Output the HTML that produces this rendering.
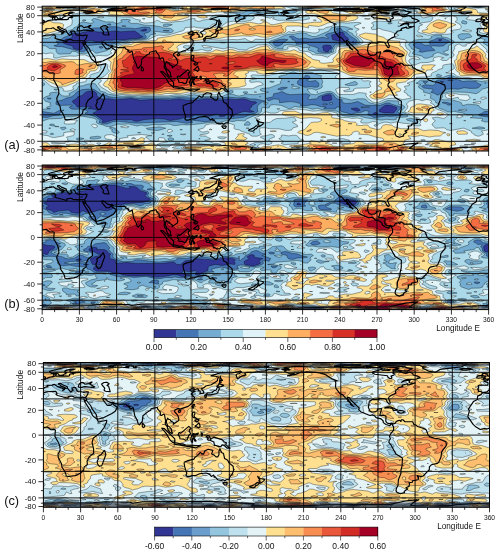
<!DOCTYPE html>
<html><head><meta charset="utf-8"><style>
html,body{margin:0;padding:0;background:#fff;width:500px;height:553px;overflow:hidden}
svg{display:block;will-change:transform}
text{font-family:"Liberation Sans",sans-serif;fill:#111}
.t6{font-size:6.7px}.t7{font-size:7.9px}.t8{font-size:8.2px}.t8b{font-size:8.5px}.tl{font-size:8.4px}.t12{font-size:12.8px}
</style></head><body>
<svg xmlns="http://www.w3.org/2000/svg" width="500" height="553" viewBox="0 0 500 553">
<rect width="500" height="553" fill="#fff"/>
<clipPath id="ca"><rect x="42.2" y="6.2" width="446.40000000000003" height="144.8"/></clipPath>
<g clip-path="url(#ca)">
<rect x="42.2" y="6.2" width="446.40000000000003" height="144.8" fill="#313695"/>
<path fill="#4575b4" d="M41.2 5.2l447 0 0 145.5-447 0 0-145.5zM83.2 32.2l-3 1-8.7 .5 .8 3-1 1.5-6.1 1.3-2.5 3.2 4 1.8 5 1.2 1 .8 1 2.2 6.5 1.2 2.2-1.2-.3-1.5 2.8-3-.1-1.5 1.4-1.2 3-1 3 .1 4.5 1.6 1.5-.1 7.5-1.9 6 0 4.5-.6 7.5 .3 7.5-1.2 8.2-.5 3.8-1.5-3.2-1.5-1.3-1.8-2.5-1.2-.5-.8-1.5-.5-13.5 .9-6-.9-7.5 1-9 .1-7.5-.9-7.5 1.1zM144.7 29l-4.1 1.7 2.6 .5 3.2-.5 .1-1.5-1.8-.2zM308.2 8.2l-.9 0 1.3 0-.4 0zM323.2 45.7l-.8 1.5 1 1.5-.1 1.5 2.4 1.5 2.5 0 .4-1.5 2.6-1.5 .2-1.5-.7-1.6-4.5-.6-3 .7zM341.2 32.1l-9.7 3.1 1.2 4.5 10 2.1 2.7-.6 3.2-1.5-.5-1.5-4.1-3 .3-1.5-1.4-1.5-1.7-.1zM351.7 108.4l-.7 .3 5.2 2.5 1.5 .1 2.5-1.1-1.7-1.5-2.3-.8-4.5 .5zM353.2 41.2l-1.1 1.5 1.4 0-.3-1.5zM374.2 112.8l-.9 .4 .9 .9 1.5 .1 2-1-2-.7-1.5 .3zM384.7 105.6l-4.5 3.3-1.1 1.3 .4 1.5 5.2 1.2 9 .1 3.3-4.3-.6-1.5-5.7-1.7-3-.4-3 .5zM438.7 39.6l0 .8 1.5 .6 1.8-1.3-3.3-.1zM474.7 6.7l-.6 0 6.8 0-6.2 0zM86.2 91.9l-2.4 1.8-.9 1.5-5.1 1.5-.8 1.5-4.8 3 .8 1.5 2.3 1.5 1.9 2.7 7.5-.3 6.9 .6-3.8 1.5 7.4 .7 1.9 .8-1.3 1.5-3 1.5 2.4 1.2 6.2 4.8 1.5 1.5-.8 1.5 .6 .2 2.9-.2 7.6-2.3 6-.5 6 .4 6-.3 3 1.6 3 .2 7.5-1.8 13.5-.9 6 .3 6 1.7 10.5-1.8 4.5-1.6 6 0 3-2.2 1.5-.3 7.5 .4 4.5 1 3-.3 6-1.8 3.3 .7-.6 1.5 1.8 .4 3.5-.4 1.4-1.5 1.1-.1 3.7 .1-1 1.5 4.2 0-.4-1.5 9.3-3 2.2-.3 4.5 .9 4.3-.6-3.9-1.5-.5-1.5 1.9-1.5 .1-1.5 5.2-3-1.1-.9-4.5-.3-6-2.4-3-.3-6 .9-7.5-.8-7.5 1-15-1.2-7.5 1.3-12 .2-7.5-1.5-9 1.2-18-.5-12 .9-9-1.9-15 1.4-7.5-1.1-6 .4-1.5-.3-3.1-2.1-1.6-1.5 .2-1.5-1.2-1.5-1.8-.9-3-.3-4.5 .9zM326.2 95.1l-4.2 1.6 .1 3 1.1 1.1 6-.4 2.5-.7-.6-4.5-1.9-.6-3 .5zM440.2 81.5l1.5 .9 1.5-.1 .6-.6-3.6-.2z"/>
<path fill="#74add1" d="M41.2 5.2l447 0 0 106.1-4.2 .4-1.9 1.5-3.8 1.5 2.4 1.2 7.5 1.1 0 33.7-447 0 0-33.5 6 .2 6-1.8 6-.5 1-.4-.4-1.5 2.4-2.1 1.9-.9-4.3 0-5.1 2.8-1.5 .2-12-1.9 0-106.1zM47.2 98.1l1.5 1 1.5 0 1.1-.9-4.1-.1zM104.2 27.7l-10.5 .3-7.5 1.3-4.5 1.6-12 1.4-1.6 1.4 .5 1.5-.4 .5-4.5 1.8-4.5 3.2-3.1 .5 2.4 3-4.6 1.5 2.3 .7 6 .3 18 4.8 3 .3 3-1.3 1.9-1.8-2-1.5 3.1-1.7 12-1.3 4.5 .6 4.5-.2 7-1.9 2-1.5 25.5-2.7 .8-.3 1-1.5-2.5-3 4.7-1.5 2-1.5-.7-3-3.8-.6-3 0-7.5 1.6-9-.8-4.5 .4-4.5-1.4-3-.2-4.5 0-6 1zM107.2 24.7l3 .5 .9-.5-.9-.8-1.5 0-1.5 .8zM122.2 26.1l-.5 .1 4.2 0-2.2-.4-1.5 .3zM164.2 30.5l-1.1 .2 4.1 .4 2.1-.4-5.1-.2zM257.2 12.6l-.7 .1 3.9 0-3.2-.1zM279.7 39.5l-5.8 1.7-1.4 1.5 2.5 3 3.2 .6 4.2-2.1 .5-1.5 4.9-3-3.6-.6-4.5 .4zM288.7 81.2l-1 .5 2 0-1-.5zM303.7 8.1l-.9 .1 5.4 .5 4.1-.5-8.6-.1zM336.7 28.4l-1 .8 2.5 1.5-4.1 1.5-6.8 1.5-2 1.5 3.4 3-1 .4-4.5-1.4-12 2-6-1-6 .7-3-.8-3-2-1.5-.2-2.4 .8 2.6 1.5 .3 1.5 2.5 .7 .8 .8 .8 3 4.4 .1 3-.7 3 0 3 2 4.5 1 4.8 2.1-1.5 1.5 .8 1.5 4.9 .9 4.5 .1 4.1-1-.3-1.5 1.3-1.5 .3-1.5 2.1-2.8 .7-.2 6.8-.4 10.5 .6 4.5-1.7-1.5-3-6-3.8-3.7-3.7-4.1-1.5-1.2-2.1-3-.8-1.5 .6zM383.2 8.1l-.7 .1 5.2 .4 2.4-.4-2.4-.5-4.5 .4zM405.7 5.4l-1.1 1.3 4.1 .7 0-1-3-1zM410.2 8.1l-.5 .1 5.4 0-4.9-.1zM437.2 37.9l-3 1.8-4.6 1.5-.6 1.5 1.3 1.5-.6 .9-4.5 .1-1.5-.4-3.2-2.1-2.8-.5-4.6 2 .6 1.5 2.5 2.2 3 .8 1.1 1.5-1.3 1.5 3.2 .5 4.5-1 7.5-.6 .7-.4-.7-.8-3.3-2.2 .9-1.5 6.9 .5 4.5-.3 3-2.4 2.2-.8 1.3-1.5-7.1-3-5.4-.3zM471.7 6.7l6 .6 5.9-.6-11.9 0zM485.2 83.2l-.4 0 1 0-.6 0zM87.7 89.1l-6 .6-5.2 2.5-2.4 3-2.4 1.5-5.6 1.5-3.9 2-5.3 1-.7 .5-.3 2.5 3.3 1.2 12-.3 1.2 .6-3.3 1.5 2.1 1.7 3 .4 6-.3 5.9 1.2 2 1.5-3.3 1.5 10.4 3.5 3.6 2.5 1.2 1.5-1 1.5 3.7 1.6 4.5 .2 6-2.3 4.5-.5 18 1.9 40.5-1.6 10.5 1.8 6.1-1.1-1.8-1.5 1.7-.5 12 1.6 9.2-1.1 .4-1.5 2.4-.4 16.5-.2 10.5-1.3 6-2.6 5.7-1.5 2.4-1.5-.6-4.5 .4-1.5 4.1-3.6 3.5-.9-9.5-2.2-6-.1-4.5-1.5-7.5 .5-9-.8-9 1-13.5-.6-7.5 .8-21-.9-7.5 1-25.5-.5-6 .7-9-1.4-7.5 .7-9-.5-4.3-.7-3.1-1.5-3.1-.1-9-5.8-6-.2zM99.7 46.5l-.8 .7 2.3 1.2 2-1.2-2-.9-1.5 .2zM260.2 96.6l-.6 .1 1 0-.4-.1zM281.2 87.5l-3.5 1.7 3.5 .8 6.2-2.3-3.2-.5-3 .3zM305.2 75.6l-.4 1.6-5.6 2.5-1.5 1.5-.3 2 1.1 1.5 6.7 2.6 6-.7 4.5 .7 1.5-.2 1.6-.9 0-3-3.1-2.7-6 1-3-1.3 2.5-1.5 .8-1.5-1.5-1.5-3.3-.1zM423.7 81.4l-1 .3 2.3 1.5 .2 .7 .3-.7 2.4-1.5-4.2-.3zM449.2 77.1l-4.5 2.2-7.5 .9-1.9 1.5 .4 1.6-1.3 1.4-1.7 .7-7.5-.7-3.6 1.5 2.1 1.8 9 1.1 .3 1.6-2.2 1.5 3.4 1.1 3 1.7 1.5-.1 4.9-4.2 2.6-1.4 6-.5 6 .4 6-1.5 6 .7 6-.1 2.3-.6 2.8-3-3.6-1.4-1.5-1.8-7.5-.6-6 .7-1.5-.5-.4-.9-5.6-.9-3.5-2.1-2.5-.1zM281.2 91.7l-3 1.3-4.4 .7-.9 3-.7 .4-5.9 1.1 1.4 2.1 1.5 .4 4.5-1.8 4.5 .3 1.1 .5 .2 3 10.7-1.1 4.5 .5 4.5 1.1 1.6 1-.4 1.5 1.8 .3 4.5-.2 4.5-1.1 4.5 .2 4.5 1.6 5.9 .7-1.4 .3-1 1.2 1 .1 9 .3 2.1-.4 .7-1.5 3.2-.2 .6 .2-.6 1.5 .3 1.5 1.5 1.5 5.7 1.3 3 1.4 1.5 .1 3-1.3 6-.6 4.5-1.9 1.5 0 2.5 1-1.7 3 4.2 1.5 2.5 1.5 12-1.6 4.5 .3 9-.7 3.3-1-3.3-1.2-2.1-1.8 1-1.5 2.1-1.5 .8-1.5-9.8-3-2.5-1.3-3 .1-6 2.3-3 .3-12-.5-7.5-3.6-6 1.6-6 .3-2.7-.7-.9-1.5 .1-1.5-4-.3-3-2-1.3-2.2-1.7-1.4-1.5-.6-3 0-7.5 2.6-1.9 .9-1.1 2-7.5 .8-1.5-.5-.3-.8 2.2-3-3.4-1.4-16.5 .9-3.9-1-3.6-1.9-1.5-.1zM443.2 102.2l-1.2 .5 4.2 1.1 1.5 1.2 1.5 .2 2.4-1-3.9-1.7-4.5-.3zM447.6 80.2l5.8 0-5.8 0zM329.5 102.7l2.9 0 .1 1.5-2.7 0-.3-1.5zM322.7 104.2l2-.5 2.8 .5-2.8 .6-2-.6zM361 107.2l7.2-.6 1.4 .6-5.9 .5-2.7-.5z"/>
<path fill="#abd9e9" d="M41.2 5.2l58.2 0 1.8 .4 .3 1.1 8.7 .9 5-.9-13.2-1.5 243.2 0-1.1 1.5 1.6 .3 9.5-1.8 43.9 0 6.6 3.5 7.5 .2 5.1-.7-5.8-1.5 0-1.5 75.7 0 0 31.7-4.5-.4-.6-1.3-5.7 0 2.3 1.5 .9 1.5 4.6 1.5-2.6 3 5.6 3.5 0 35.8-6-.4-13.5-2.5-6-.3-6-1.3-6-2.4-3 .5-4.5 1.7-7.5 .6-2.3 .8-1.3 1.5-11.4-.2-3 2.4-1.8 .8 5.1 1.5-2.8 1.5 1 1.7 4.9 2.8-.8 1.5 6.7 1.5 .9 1.5-.6 3 3.9 1.9 1.2 1.1 .4 1.5 4.4 1.5-1.5 .9-.6 2.1 1.8 1.5 3.3 .8 4.5 2.4 3 .2 4.5-1.1 .2 .7 7.3 1.3 4.5 2 4.5-.4 1.3 1.6-1.3 1.3-1.6 .2 12.1 .8 .8 .7-1.6 1.5 3.8 1.3 3-.1 0 28.8-447 0 0-29.2 7.5-2.6 12-.4 6-1.9 4.5 .2 4.5-.9 4.5 0 13.5 2.3 2.3 1 .9 1.5-.8 1.5 1.8 1.5 9.3 2.8 4.5-.3 4.5-1.9 12-.5 9 2.3 3-.9 2.2 0 2.3 .8 9-1.5 6 .4 7.5-.8 3 .1 3 1.2 3 .1 6-.9 4.5 .3 9-.6 15-1.9 9 .1 6-1.7 7.5 .7 4.5-1.1 7.8 .3 .6-1.5 8.1-3.3 6-3.3 1.1-.9 .4-3.6 1.5-.7 4.5 .6 1.9-.8 .3-1.5 .8-.6 4.5-.5 6 .8 7.5 3.2 3-.4 3-1.8 6 1 6 .2 6 1.6 4.5-.9 6 1.6 13.5 1.3 4.4 2 .2 1.5 2.9 1.2 9 .7 6-.8 5.9 1.9 16.6 2.4 4.5-.8 7.5 .6 2.8-.7-.4-1.5 .6-.2 9-.5 2.3-.8-.8-1.5-1.9-1.5-4.5-1.5 4.4-4.5-2.5-2.1-4.5-.9 .7-1.5-.2-1.5-.5-.2-10.5-.5-7.5 3.1-4.5 .7-6-1.6-2.5-1.5-.9-1.5-2.6-.9-6 0-6 1.3-13.5-3.2-4.5-4.2-3-1.2-3-.1-7.5 1.6-4.5 1.8-4.5-.7-.9-.4-3.2-4.5 4.1-.5 2.8 .5 1.7 1.1 6-2.6 .8-1.5-.7-1.5 1-3-1.9-4.5 .8-1.5-6.5-1.5-2.5-1.6-4.5-.4-9 1.6-6-2-4.5 1.3-3 1.8-6 1.1-1.1 1.2 3.2 1.5-.2 1.5-1.4 1.5 .7 1.5-1.2 .7-10.5 4-6 .4-2.9 .9 .5 1.5 .9 .4 6.7 1.1-3.7 1.1-10.5 1.4-9-.8-1.9 1.3-4.1 .8-3-.4-3-1.3-3-.3-3 .2-4.5 2.1-3 .5-19.5-.7-6-1.4-9 1.6-9-.2-7.5 .9-25.5-.4-4.5 .4-10.5-1-6 .4-13.5-2.2-1.7-.5-1.3-1.2-6-1.6 0-1.7-1.9-1.5-1.7-3-.9-.8-3-.5-6 1.1-3 1.3-4.6 .4-1.2 3-8.6 4.5 1.3 1.5-1.9 .7-3 .3-3-.5-4.5-3.3-1.5-.4-6 .9-.9 .8 1.1 1.5-4.7 1.5-2.3 1.5 1.9 3 5.3 1.5-.8 1.5 1.3 1.5-4.5 1.5 .6 1.4 3.1 .1-9.1 .6 0-21.7 .9-1.4 2.7-1.5-.6-1.5-3-1.3 0-36.3 4.5 .3 4.1 2.8 6.4 0 0 3 1.5 1.8 1.5 .6 10.5-.4 1.2-.5 .5-1.5 1.3-.4 3.4 .4 2 1.5 2.1 .3 6.9-.3 5.1-3 3 2.8 1.5 .2 10.5-2.6 1.7-1.9-.3-1.5 12.1-4.2 12-2.6 13.5-1.2 1.9-1 2.6-3.4 5.4-1.1-2.5-1.5 1.6-.8 13.5 1.6 3.6-.8 1.2-1.5-1.5-1.5-1.8-.8-6-.3-2-.4-1-.8-7.5-1.2-9-.5-7.5-1.8-6 0-2.8-1.7 2.1-1.5-2.3-.7-6 .1-1.5 .6 1.3 1.5-4.3 1.8-1.5 .1-3-1.7-7.5 0-10.5-3.4-1.7 .2-1.9 1.5 1.8 1.5-.9 1.5-3.3-.1-6-1.2-1.5 .3-3 1.8-.8 2.2-3.9 1.5-.8 1.5-8.2 3-1.3 1.6-1.5 .6-7.5 .2-2.1 .6-1.3 1.5-2.6 1.3-4.5 .6-3-.8 0-32.6zM72.7 8.2l7.5 .4 3.3-.4-10.8 0zM164.2 24.4l-.7 .3-.5 1.5 4.2 .4 5.1-1.9-5.1-.7-3 .4zM173.2 8l-1.2 .2 2.7 .4 1.6-.4-3.1-.2zM218.2 20.2l-.5 1.5 2 .5 1.8-.5-1.8-1.5-1.5 0zM251.2 9.6l-5.6 1.6-1.2 1.5-.7 .1-14.5-.1 7 .5 2.4 4-2.3 1.5 5.9 1 3.6-1-.2-1.5 4.1-3.5 3-.4 11.2 .9 2.7-1.5-13.3-1.5 5.4-.6 1.4-.9-8.9-.1zM278.2 12.6l0 1.6 1.8 1.5 4.2 .4 2.5-.4-4-.5-1.5-1 2.1-1.5-.6-.3-4.5 .2zM285.7 10.9l-1.2 .3 5.7 2.2 4.8-.7 2.4-1.5-7.2-.6-4.5 .3zM299.2 8.1l-1 .1 8.5 1 7.9-1-7.9-.5-7.5 .4zM332.2 27.5l-.8 .2-2.2 3-1.5 .8-12 5-3 .1-4.5-1.8-1.2-1.1-4.8-.9-3 .2-4.5 1.2-6 .1-3.6 .9-6.5 3-7.9 2.7-2.1 1.8 5.1 4.3 4.4 1.7 4.9 0 0-1.5 1.2-1.4 3-1.1 9 .7 7.5 2.4 6.1-.6-1.6 1.4 .6 1.6 4.6 1.5 2.3 1.6 9 .7 4.5-.4 4.5-1.7-.1-1.7 1.2-3 3.4-2 3-.2 6 .7 6-.4 4.5-1.1 2.8-1.5-2.9-4.5-4.4-3-.5-1.5-5.9-3 1.9-1.2 4.2-.3-5.7-2-4.5-.7-4.5-.1-6 1.1zM335.2 9.6l-.5 .1 2 .4 3.2-.4-4.7-.1zM374.2 7.7l-.6 .5 15.6 1.3 1.5-.1 1.5-1.2-3-1.2-15 .7zM398.2 26.1l-.5 .1 2.2 0-1.7-.1zM401.2 10.9l-1.4 .3 4.4 .7 4.3-.7-4.3-.6-3 .3zM435.7 35l-4.7 1.7 .4 1.5-3.2 1.2-4.5-.2-9 .8-6 4.2 .6 1.5 1.5 1.5 .4 1.5 4 1.5-2 1.6-.7 1.4 .7 1 7.5 1.5 1.4 .5 1.6 1.7 3 .4 6.7-2.1-.5-1.5 4.3-2.1 1.5 0 7.5 2.9 2.5-.8-4-1.3-1.2-1.7 4.7-1.5 .3-4.5 5.4-3 .1-1.5-6.3-3.3-6.5-1.2 .8-1.5-6.3-.2zM461.2 33.7l-3.3 1.5 .9 3 2.4 1.6 3-.1 1.6-1.5 4.4-.7 1.7-.8-1.7-2.1-1.8-.9-7.2 0zM462.7 20.5l-1.1 1.2 .2 1.5 3.9 .9 1.3-.9-.3-1.5-4-1.2zM470.2 6.4l-1.1 .3 8.6 1 4.5-.2 3.4-.8-4.9-.6-10.5 .3zM450.7 123.4l-1.3 .3 3 0-1.7-.3zM464.2 120.6l-.5 .1 2.1 0-1.6-.1zM473.2 128l-1.1 .2 8.6 1 4.3-1-2.8-1-3-.4-6 1.2zM50.2 124.1l-.7 1.1 5.2 1 .2-1-1.7-1.1-3 0zM56.2 126.3l-1.2 .4 4.1 0-2.9-.4zM60.7 127.5l-.3 .7 1.8 1.4 1.5 .1 2.6-1.5-1.1-1.1-4.5 .4zM77.2 138.3l-.9 .4 .9 1.2 1.5 .2 5.3-1.4-3.8-.9-3 .5zM90.7 137l-.5 .2 0 1.5 3.5 .4 6-.8 1.5-1.1-3-1-7.5 .8zM110.2 127l-.7 1.2 2.9 1.5-.8 1.5 2.1 1.5 4 .8 1.6-.8-.7-1.5-3.5-1.5 .3-1.5-5.2-1.2zM147.7 128l-1.5 .2 1.9 1.5 8.6 .8 3-.4 6.1-1.9-6.1-1.3-12 1.1zM167.2 135.7l3 .8 2-.8-2-.5-3 .5zM174.7 143.2l5.3 0-5.3 0zM198.7 138.7l1.4 0-1.4 0zM246.7 121.8l-1.9 1.9-.4 1.5 5 0 1-1.5-.7-1-1.5-1.1-1.5 .2zM254.2 132.6l-1.2 .1 1.6 0-.4-.1zM296.2 147.7l3.4 0-3.4 0zM407.2 118.9l-.8 .3 .8 1 4.5 1.2 1.5 1 1.5 .4 2.5-.6-1-3-6-.8-3 .5zM317.2 91.8l-.5 .4 1.2 0-.7-.4zM54.7 89.1l-.9 .1 2.4 1.1 2.2-1.1-3.7-.1zM83.2 19.7l-.8 .5 .8 .9 2.9-.9-2.9-.5zM221.2 42.7l-.6 0 4.9 0-4.3 0zM230.2 90.5l-3.5 1.7 .5 .7 3 .5 3-1.2-.3-1.5-2.7-.2zM243.7 91.9l-.6 .3 .6 .8 1.5 .5 1.5-.1 1.1-1.2-1.1-.5-3 .2zM270.7 81.2l-1.1 .5 2.6 .7 2-.7-3.5-.5zM354.7 81.5l-9.8 3.2 3.8 .9 6-.3 2.4-.6 .3-1.5-1.2-1.3-1.5-.4zM387.7 23.2l1.5 .9 3.1-.9-1.6-.4-3 .4zM437.2 74.3l-1.1 1.4 1.1 1 3 .1 1.6-1.1-3.1-1.4-1.5 0zM50.2 134l1.5 .5 1.9-.3-.4-.7-1.5-.2-1.5 .7zM168.7 138l-.6 .7 .4 1.5 1.7 .4 3.2-.4 .2-1.5-.4-.2-3-.8-1.5 .3zM254.2 144.7l1.6 0-1.6 0zM254.2 147.5l-.6 .2 3.1 0-2.5-.2zM481.6 36.7l1.4 0-1.4 0zM291.2 84.7l2.6 0-.6 .5-2-.5zM291.7 87.7l1.5-1.1 1.5-.1 5.2 1.2-.7 .6-4.5 .5-1.5 0-1.5-1.1zM487.4 87.7l.8-.3 0 22.1-3 .2-1.5-.4-4.2-2.1-.5-1.5-2.8-.9-8.4-.6-5.1 1.4-1.5-2.9-7.5-2.5-12-.5-.1-1.5 1-1.5-.3-1.5 .9-1.5 3-1.2 4.5-.9 9 .3 9 .5 7.5 1.3 2.8-1.5 3.2-3 5.2-1.5zM473.2 99.7l2.5 0-1-.4-1.5 .4zM263.9 102.7l3.7 0-.6 1.5-.8 .1-1.7-.1-.6-1.5zM458.3 110.2l5.9-.9 1.5 0 1.3 .9-2.8 .8-5.9-.8z"/>
<path fill="#e0f3f8" d="M41.2 5.2l53.2 0 5.3 2 10.5 1.2 3.7-.2 3.5-1.5-7.5-1.5 171.2 0 10.6 3.2 13.5 1.3 12-1.3 9 .5 3 .3 6 2.4 1.5 .1 7.5-1.6 10.4-.4-6-1.5 3.1-1.7 6-.6 1.8-.7 13.1 0-2.9 .9-9.4 .6 7.9 .5 4.5 1.5 9 .4 10.5 1.4 1.5 0 .6-.8-.3-1.5 1.2-2 3 .2 3 1.2 2.8 2.1-8.8 1.2-3 1.1-8.5 .7 1.7 1.5 2.3 .2 6-1 3-1.3 5.7 .6-1.1 1.5 3.6 1.5-2.1 1.5-.5 1.5-2.6 1.2-13.5 1.4-12.2 .4-2.5 1.5 2 1.5 0 1.5-2.5 1.5 .7 1.5 1 .4 3-.2 3-1.2 4.5 1.8 7.5 1.6 8.1 3.6-3 1.5-.5 1.5 9.3 1.5 2.6 1.5-1.9 1.5 0 3 1.5 3 2.6 1.5 .9 1.5-1.6 3 .3 1.5 1.2 .5 6 .1 2.8 .9 1.1 1.5-2.4 .3-4.5-1.1-3 .6-1.3 1.7 .1 1.5 1.2 1.4 3 1.5 1.5 0 6-2.4 7.5-.2 6.2-1.8-1.3-1.5 .9-1.5 4.7-1.1 5 1.1-3.1 1.5 1.1 1.1 4.5 .3 1.5-.6 2.1-2.3 2.4-.4 1.3-1.1 .6-1.5-.4-.9-1.5-.6 2.4-4.5-.1-1.5 .7-1.5 3-1.6 1.5 .1 3 1.9 3 0 .6-.4-.5-1.5 6.7-1.5 .3-1.5 3.4-.2 1.5 .4 8.1 7.3 1.4 1.5-.9 1.5 1.9 1.1 0 27.6-3-.1-4.5-1.1-7-.5-5-1.2-8-.3-4-1.2-3-2.4-8-.9 2-.2 3-2.2 3-1.3 .6-.8-.1-1.5-.5-1.8-1.5-1.2-7.5 1-1.6 .5-.5 1.5 .2 1.5-4.5 1.5-2.1 1.5-3.7 1.5-1.6 1.5 .6 1.5-.3 .2-6 1.1-8.6 .2-1.3 3-8.2 3 2.9 1.5-1.3 .9-4.1 .6 .2 1.5 1.7 1.5-2.3 1.5-.1 1.5 3 1.5 .3 1.5 3.3 1.5 .2 1.5-8.2 1.4-6-1.4-9 .4-3.7 1.1-5.3 2.5-3 .5-3-.7-5.2-3.8-1.8-3 .7-1.5-1.2-.5-6-.6-6 1.8-13.5 .1-2.1-.8-2.1-4.5 4.2-1.9 9.4 .4 .7 1.5-6.4 1.5 .8 .9 4.5 .1 4.5-.7 .5-.3 0-1.5 2.5-1 12.2-.5 2.5-1.5-1.1-1.5-.2-1.5 1.7-1.5-1.6-.8-6 .1-1.4-.8-.6-1.5-8.5-1.2-9 1.3-6 .2-3-1.8 1-1.5 2.8-1.5-.8-.8-1.1-.7-9.4-1.9-9-1-18 1.9-7.5-1.6-25.5 5.4-15-.7-1.8 .9 .5 1.5 5.5 1.5-7.2 1.4 0 1.6 1.5 .8 6-.8 3 .4 2.2 1.1 .9 1.5-5.4 1.5-5.2 2.5-24 .3-1.5 .4-4.5 3.9-3.9 .4-2.1 1-10.5-.1-13.5-1.3-9 1.7-7.5-.4-9 1.2-34.5-.4-20.5-1.7-11-6.6-1.5-1.5-1-2.4 2.3-1.5 .4-1.5-2.8-1.5 5.6-2.3 5.2-5.2-2-3 .4-3-.6-.9-1.5-.5-3 .4-1.7 1-1.2 1.5 1.3 1.5-1.7 3-1.2 1.1-7.5 2.3-1 1.1 .8 1.5-3.5 1.5-1.3 3-9.1 1.5-.4 1.5-3.2 1.5-.1 1.5 .8 1.5-4 1.6-4.5 .4-2-.5 .2-1.5-1.1-1.5-7.6-.4-3.7-1.1-6.8-5.8-3-.5 0-27.3 4.5 1.2 4.5-.8 2.1 .2 1.8 1.5-.6 1.5 .2 1.5 2.5 .5 6-1.5 7.5-.7 6 .2 4.5-1.1 4.5-.3 6 2.4 7.5-1.7 9 .4 4.6-2.7-1.4-1.5 3.7-4.5 6.6-2.8 9-1.3 3.7-1.9 14.3-1.1 6-3.3 4.5-1.7 6 .3 4.5-.5 14.2-4.2 1.8-1.5 .5-1.6 9-.7 4.5 1 7.5 .4 2.4-.6 3.4-3 1.7-.8 1.5 .1 .4 .7-.7 1.5 4.8 .4 1.7-.4 5.8-4 6-1 9 .8 9.2-1.8 2.6-1.5 .3-1.5-2.1-1.5 2-.9 8.1 .9 3 1.5 3.9 .7 1.5 .1 1.5-.9 1.5 0 .4 .1-.4 .7-1.1 .8 5.6 1.7 7.5-.2 7.5 .6 6-.7 3 .2 6-1 1.2-.6-.2-1.5-1-1.4-7.5 1.8-5.7-.4 2.7-.4 1.9-1.1-3.1-1.5 6-1.5-1-1.5-2.3-.6-21-1.4-9.9 .5 .9 1.4 9.3 .1-6.3 1-1.5-.8-6-.5-1.5-1.2-10.5-.7-13.5 2.8-15.6 .9 4.5 1.5-.9 1.4-6-.8-6 .3-3 1-3 3.1-6.7 1-3.8 1.2-4-1.2 .5-1.5-2.5-.3-10.5 3-7 .3-3.5 1-10.5-.2-1.5-1.2-3-1.1-3 2.3-9 .6-5.5-1.4 1.5-1.5-5-.9-4.5-2.2-19.5-.6-9-1.4-10.5 .5-10.5-2.4-3-.1-5.8 1.1-1.7 1.3-.9 1.7 2.1 3-.6 4.5-7.4 4.5-.7 1.5-4.5 1.9-7 1.1-3.5 2.1-3 .9-4.5-2.5 0-24.1 13.5-.4-13.5-.4 0-4.1zM59.2 17.2l1.8 0-1.8 0zM66.7 8.1l1.5 .5 12 .5 6.9-.9-8.4-.5-12 .4zM143.2 18.4l-.7 .3 .7 .5 1.9-.5-1.9-.3zM176.2 6.6l-7.7 1.6 6.2 1.6 4.2-.1-.6-1.5 1.4-1.5-3.5-.1zM185.2 14.1l-.6 .1 4 0-3.4-.1zM192.7 8l-.8 .2 7.5 0-6.7-.2zM311.2 15.7l-1 0 2.8 0-1.8 0zM314.2 20.1l-.8 .1 2.8 0-2-.1zM335.2 23.1l-3.1 3.1-6.3 1.5-2.6 1.7-4.7-.2 .9 1.5-1 1.5-2.7 .8-3 0-12-1.9-7.5 1.6-4.5-1.1-3.3 2.1-10.3 3-4.4 1.8-7.5 1.1-7.5-.4-1.2 .5-1.1 1.5-2.2 .4-3-1-3-2.1-7.5 1.3-4.5-.3-13.5 .6-9-.6-9 2.7-7.2 .5-.8 1.5 .5 1.5-3 .4-6-.6-1.5 .7-.6 1 3.9 1.5 .4 1.5 .8 .3 9-.1 4.5-.9 6 1.5 3-.6 1.6-1.7-1.6-1-6 .1-1.5-.5-1.3-1.6 2.8-.2 18 3.2 1.5 .1 4.5-1.5 6 .9 4.5 1.6 6 .2 1.5-.2 3-1.8 3.3-.8 4.2-2.1 9-.7 3 1.1 3.9 3.2 5.1 1.3 4.5 0 4.5-.8 1-.5-.7-1.5 1.2-.4 4.5-.2 3 .5 2.4 1.6 .6 1.5 3 .9 6 .6 3 1.5 1 1.5 9.5 .7 6 1.9 3.4-2.6 4.1-1.8 .9-1.2-.4-1.5 1.1-3 1.4-.7 16.5-.4 6-1.7 2.4-1.7-.1-1.5-2.8-3-4.2-3 1.5-1.5-1.9-1.5 .6-1 3-2-3.9-1.5-1.3-1.5 7.2-3-2-.7-3-.1-9 .7-6-.5-6 .5zM360.7 15.7l3 .7 6.1-.7-6.1-.5-3 .5zM369.7 92.1l1.6 .1-1.6-.1zM182.2 51.1l-1.2 .6 4.9 0-.7-.5-3-.1zM287.5 5.2l50.2 0 2 .4 3 1.9 3.8 .7-3.8 .7-15-1.1-10.5 .3-19.5-.6-10.2-2.3zM378.1 6.7l3.6-.5 2 .5-5.6 0zM385.8 5.2l8.2 0-1.8 .5-6.4-.5zM415.5 5.2l30.8 0 1.9 1.5-.1 1.5 1.9 1.5 2.2 .3 5.6-.3-4.1-1.5 9-1.8 9 1.5 6 .2 6-.3 4.2-1.1-4.2-.8-13.5-.1-2.5-.6 20.5 0 0 4.2-2.8 .3 2.8 .4 0 24-4.5-.5-4.6-1.4 2.7-4.5-1.6-3 0-1.5 2.9-1.5-14.4-2-2.9-1 2.6-1.5 .8-1.5-8-1.9-12-1.3-3.2 .2-1.7 1.5-5.2 1.5 7.1 1.4 6-1.4 4.6 1.5 .4 3-2.2 1.5 5.4 3 .8 1.5-.2 1.5-1.3 1.5-9 1.4 2.7 1.6-1.4 1.5-5.8 .6-10.5-.3-7.5 1.3-10.1-3.1-.4-1.5 1.7-1.5-.6-1.5 .5-1.5 3.3-1.5-3.3-1.5 10.3-1.5 2.3-1.5 1.2-3-.4-.5-3-.3-6 1.5-1.5-.2-1.5-1.9-.2-1.6-12.7-1.5 10-1.5-3.1-.9-7.5-.6 9-.3 4.1-1.2-5-1.5 .2-1.5zM444.7 18.6l1.4 .1-1.4-.1zM97.3 17.2l3.9-.8 2.9 .8-2.9 .6-3.9-.6zM226.4 17.2l.8-1 3 1-3.8 0zM398.8 21.7l.9-.9 1.5 0 4.5 .9 6-.5 1.5 .5-1 1.5-2 0-3-1.4-1.5-.1-1.5 1.5-3 .5-2.9-.5 .5-1.5zM462.6 30.7l4.6-.9 4.6 .9-1.6 1.1-1.5 0-6.1-1.1zM416.5 35.2l3.6 0 2.7 1.5-5.4 0-.9-1.5zM254.2 92.2l1.5-.4 .9 .4-2.4 0zM487.4 92.2l.8-.6 0 .6-.8 0zM446.8 93.7l5.4-.6 7.5 1.5 7.5 .3 1.4 .3 .4 1.5 1.4 1.5-3.2 2.1-1.5 .3-5.9-.9-1.5-1.5-.1-.9-6 1.2-4.5-.1-1.5-.8-1.2-2.4 1.8-1.5zM424.3 95.2l1 0-1 0zM480.6 98.2l1.6-.8 3-.4 1.6 1.2-4.6 1.3-1.6-1.3zM414.7 99.7l3-.3 4.5 1.4 4.5-1.3 3 .7 2.2 1-1.6 1.5 3.9 2.2 1.3 2.3 .2 1.5 7.5 2.8 5.6 3.2-4.1 3.5-1.5 .2-6-1.3-4.9 .6 .8 1.5 2.3 1.5-3.1 3-.1 1.5 2.1 1.5 .9 1.5 8-.4 2.1 .4 1.3 1.5 4.1 .8 12-2.3 1.5 .1 7 2.9 .3 1.5 2.7 1.5 .5 1 3 .9 1.5 0 4.1-1.9-.3-1.5-1.7-1.5 6.9-1.4 0 3.6-1.5 .8 1.5 .3 0 16.2-318.4 0-2.6-.6-7.5-.2-4.5 .8-114 0 0-15.9 6.7 .9 3.8 1.6 3 .2 9-1.7 .1-3.1 8.9-1.1 1.5 .2 .3 2.4-2 1.5-6.1 1.5 1.5 1.5-.6 1.5 9.9 2 6 2.3 1.5 0 2.8-1.3-3.8-1.5 1.1-1.5 10.4 .6 16.8-.6-6.5-1.5-.8-1.5 .1-1.5 2.4-.9 4.5-.2 5.6 2.6-2.3 1.5 .1 1.5 2.6 .5 2.1-.5-.6-1.5 8.9-1.5-.8-1.5 14.4-1.2 10.2 1.2-4.2 .3-2.2 1.2 3 1.5 1 1.5 2.7 .8 4.5 .3 1.5-.5 .7-.6-.7-1.5 1.5-1.2 4.5 .6 .6 .6 .1 1.5 3 1.5-8.2 1.6-2.7 1.4 3.2 1.5 1 1.1 7.5-.5 1.3-.6 1.4-1.5 1.8-.4 10.5-.3 3-3.1 4.5-.4 4.5 .2 4.1 1-3.6 1.5 1 .2 10.5 1.3 12 .4 1.3-.4-2.8-1.2-4.5-.1-4.5-2.3-4.5-.8 4.5-.6 1.6-1-3.5-1.5-1.1-1.1-6-.2-.4-.2 .4-1 4.5-.5 3-.7 1.5-1.1-1.5-1.2-4.5 .9-1.5-.2-3.8-2.2 5.3-1.5 1.7-1.5 .2-1.5 5.6-1.4 15 .8 2-.9 2.5-.2 4.4 1.7-.7 3 .8 .9 4.5 .8 2.2 1.3 8.5 3 .9 1.5 1.9 .5 4.5 0 4.2-2-1.5-1.5 .1-1.5-.7-1.5 .6-1.5 1.8-.4 3-.1 4.5 .9 10.5 .3 6 1.5 4.5-.1 1.7-.6 1.3-2 4.4-1-.3-1.5-5-3 4-1.5-1.7-3-2.9-.3-6 .8-9 .3-4.5 2-1.6 1.7-4.4 .6-6-.3-1.9-1.8 1.8-1.5-4.4-.8-1.1-.7 4.5-1.5 5.6-4 1.5-.3 4.5 1.2 4.5 0 3-.8 1.5-1.5 16.5-1.7 9 .7 7.5 1.4 6-.5 12.8 1 5.7 1.5 .5 3 3.5 1.3 7.5 .2 3 .7 6-.4 4.9 1.2-1.7 1.5-.2 1.5 1.5 .8 6 .1 4.5-1.5 3 .1 1.2 .5 .1 1.5-2.9 1.5 .1 .6 1.5 .6 3.6-2.7 4.8-1.5 3.3 0 3.3 .9 6-1.2 6 1.3 6.2 .5 5.8 2.1 4.5 .2 1.8-.8-1.4-1.5 1.2-1.5-.8-3-.8-1-6-1.7-1.7-1.8-7.1-3 2.7-3 .6-1.5 .2-1.5-1.9-1.5 3.5-3 5.2-1.5zM422.2 139.6l-1.5 .6 3 .5 1.7-.5-1.7-.7-1.5 .1zM462.7 147.6l3 .8 2.1-.7-2.1-.4-3 .3zM464.2 144.6l10.3 .1-10.3-.1zM51.7 142.2l-.2 1 1.7 .6 12.2-.6-13.7-1zM84.7 147.6l-.7 .1 3.9 0-3.2-.1zM98.2 142.9l-1.5 .3 1.5 1.5 1.6 0 1.1-1.5-2.7-.3zM131.2 147.6l-1.4 .1 11.3 0-9.9-.1zM132.7 137.5l-1.2 1.2 4.2 0-1.5-1.1-1.5-.1zM176.2 146.2l-4 1.5 8.5 1.6 11.9-.1-10.4-.3-1-1.2 1-.7 3.9-.8-2.4-1-7.5 1zM218.2 137.1l-.6 .1 2.1 1.3 3 .3 1.6-.1 2.2-1.5-5.3-.5-3 .4zM224.2 126.3l-.8 .4 3.4 0-1.1-.7-1.5 .3zM266.2 135.7l-4.5 .5-1.5 1 6 3-4.5 2.3-7.5 .1-.3 .6-4.3 1.5 4.7 1.5-2.9 1.5 2.8 .7 5.2-.7-2.4-1.5 3.2-2.1 3-.4 4.5 1 1.5-.1 2.7-1.4 .1-1.5-3.5-1.5 1.7-1.5 4.2-1.5 0-1.5-2.2-1.2-1.5-.1-4.5 1.3zM281.2 135.5l.3 1.7-2.7 1.5 4.8 3-2.5 1.5 3.1 1.5 12-.9 2.1-.6-.2-1.5 5.9-1.5-4.5-1.5-1.8-2.5-1.5-.8-3-.2-4.5 .7-6-.9-1.5 .5zM320.2 140.1l3 .1-3-.1zM339.7 138.6l-3 .9-4.5-.3-5.2 1 9.7 .4 5.5 1.1-2.5 1.5 7.5 .4 3.3-.4-1.3-3-6-1.5-3.5-.1zM359.2 138.4l-.4 .3 2.7 0-.8-.6-1.5 .3zM425.2 144.6l3.4 .1-3.4-.1zM291.7 147.6l-.7 .1 12.7 .8 3.6-.8-9.6-.5-6 .4zM332.2 143.2l4.7 0-4.7 0zM480.6 101.2l.1 1.8-1.5 .4-6.3-.7 7.7-1.5zM276.9 108.7l2.9 0-1.6 .9-1.3-.9zM457.9 114.7l1.9 0 3.4 1.5-3.5 1.6-3 0 1.2-3.1zM65.1 120.7l3.1-.7 7.5 .1 1.9 .6-2.5 1.5-.1 1.5-6.8 .4-3.9-.4 0-1.5 .8-1.5zM91.3 125.2l.9-.9 1.5-.1 3.3 1 .4 1.5-2.2 1.2-1.5-.6-2.4-2.1zM120.6 126.7l4.6-.9 3.7 .9-.7 .9-1.5 .2-4.5-.4-1.6-.7zM48.7 128.2l2.1 0-2.1 0zM246.1 128.2l3 0-3 0zM69.9 129.7l2.8-.9 2.8 .9-1.3 1.5-3-.6-1.3-.9zM168.1 129.7l2.1-.4 1.3 .4 1.3 1.5-4.1 1.4-1.5-1.2 .9-1.7zM179.9 129.7l2.4 0-2.4 0zM41.2 131.2l0-1.2 6 1.2-.6 1.5-2.4 .3-3-.2 0-1.6zM137.6 132.7l3.1 0-3.1 0zM151.3 132.7l3.3 0-2.4 .8-.9-.8zM161.8 134.2l2.4 0-2.4 0zM180.4 134.2l5.5 0-2.2 .6-3.3-.6z"/>
<path fill="#fee090" d="M41.2 5.2l2.7 0-2.7 .4 0-.4zM47.8 5.2l44.1 0 3.1 1.5 .2 1.2 6 .6 4.5 2.2 1-1 2-.5 8.9-1 3.1-2.9 1.5-.1 122.3 0-9.4 1.5 8.6 .5 4.1-.5 5.6-1.5 25.4 0 6.8 3-20.9 1.1-13.5-.6-15 2.7-10.5 .7-7.5-.2-4.5 .8-6-.2-4.5 1.4-19.5-.5-6.6 .8 12 1.5-.7 1.5-10.8 3-7.4 1-7.5-2-4.1-2-1.5-1.5-1.9-.4-3 .1-.5 .3 .5 1.5-3 .4-4.5-1.5-7.5 .4-28.5-2.2-.4-.1 1.7-1.5-4.3-1.2-4.5 1.7-9 1-6-1-7.5-2.6-7.5 .3-1.8 .3 5.5 1.5-6.5 1.5-.2 1.5-1.5 .6-3.5-.6-.6-1.5-1.9-.1-6 2.5-13.5 .1 0-3.4 4.4-.6-4.4-.8 0-1.1 7.5-.6 9 .7 9-1.3 15 0 13.4-1.4-23.9-.9-9-1.3-5.5 .7 5.5 .8 1.4 .7-1.4 1.2-21-.6 0-1.5 9.9-.6-3.3-1.5zM152.2 6.7l1.9 0-1.9 0zM170.2 6.7l-4.6 1.5 7.6 2.1 4.5 .2 5.1-.8-2.9-1.5 4.3-1.5-5-.6-9 .6zM189.7 8.1l1.5 .7 3 .2 6-.1 3-.7-9-.8-4.5 .7zM212.2 9.5l-.8 .2 5.3 1 3.1-1-3.1-.8-4.5 .6zM292.2 5.2l41.3 0 5.4 1.5-3.7 1-10.5-.4-9 .5-16.5-.9-7-1.7zM363.1 5.2l6.6 0-3 .4-3.6-.4zM417.5 6.7l.2-1.5 24.7 0 3.2 1.5-1.1 1.5 4.7 2.2 1.5 .1 10.5-.6 .5-.2-4.4-1.5 3.9-.7 4.5 .1 10.5 2 1.2 1.6 .2 1.5 10.6 .6 0 3.6-1.8 .3-.7 1.5-2 1.5-2.1 0-1.3-1.5 3.5-1.5-2.7-1.5-12.2-1.5 .1-1.5 3.3-1.5-3.6-.6-9 1.7-13.5-.9-12 2.1-9 .4-4.5-.4-4.6-.8 5.7-1.5-3.4-1.5 4.1-1.5-5-1.5zM470.2 5.2l18 0 0 .4-18-.4zM352.8 8.2l1.9-1.1 1.5-.1 9 .6 6 1.7 10.5 .3 8.9 1.6-13.4 1.4-7.5-.7-4.5-1-6 .2-1.2 .1 4.2 .5 2.4 1-2.4 .8-7.5 .6-6-.7-.7-.7-4.4-1.5 5.1-.4 7.5 .2 1.4-1.3-4.8-1.5zM396.6 8.2l2.8 0-1.2 .7-1.6-.7zM484.7 8.2l3.5-.7 0 1.2-3.5-.5zM292 9.7l5.5 0-5.5 0zM312.7 9.7l6-.5 8.3 .5 3.7 1.2 1.5 1.6 1.5 .5 7.5 1.3 13.5 .4 3.3 2.5-.7 1.5-2.6 1.4-7.5 1.4-15 .5-5.3 1.2-2.7 1.5-5.5 1.8-9-1-1.8 .7 .9 1.5-.6 .1-9-1.9-12 .2-1.8 1.6 .6 3-.8 1.5-1 .5-16.5 4.5-6-.1-6-1.7-4.5 .8-9-.4-16.5 1.3-6 1.2-7.5-.2-9 1.6-13.5 1.4-1.6 1.6-5.9 1.2-4.2 1.8-1.3 1.5 1.4 1.5-.6 3 4.7 1.1 6 .2 4.5-.9 7.5 .7 10.5-.6 1.8-.5 2.7-1.7 1.5-.2 6 1.5 7.5-1.9 3 .4 4.5 1.6 3 .3 9-.9 10.5-3.9 6-1.2 2.8 1.5 .6 1.5 7.1 2.2 13.5 .2 3-1.2 1.5 .1 4.5 2.3 5.3 .9 3.4 3 3.2 1.5 1.6 1.8 6.9 1.2 0 1.5 .6 .3 1.5 .7 3 .1 8.3-1.1 .6-1.5-.9-1.5 5.5-6 .6-1.5-.2-1.5 2.6-1.9 13.5-1.3 6.9-1.3 6.1-1.5 1.1-1.5 3.7-1.5-8.8-2.7-3.4-1.8-1.5-1.5 6.4-2.2 10.5 1.2 3 1.9 4.5 1 3.6 2.6 2.4 .8 10.5 .7-.1 1.5 .8 1.5-.6 1.5 2.8 1.5 1.6 2.4 3.1 2.1-.1 1.5-1.8 4.5 .6 4.5 6.1 6 8.6 2.1 3.7-.6-3.1-1.5 1.2-3 8.7-.5 4.2 .5-3.9 3 1.3 1.5-6.1 .4-1.5 2.8-9 1.3-3 1.5-2.8 3-3.2 1.4-1.5 1.7-9.2 1.4 .3 3 1.4 1.5 2.8 1.5-.3 1.5-1 .6-4.1 .9 .2 1.5 1.9 1.5-2.5 .3-6-.7-5.7 3.4-4.8 .9-4.5-.1-3-1.1-1.2-1.2-.1-1.5 3.4-1.5 2.4-2.3 6-2.2-.3-1.5-3.3-1.5 1-1.5 2.9-1.5-2.7-1.5 .2-3-1.7-1.5-11.1 .1-16.5-1.9-13.5-5.9-6-1.1-14.4-.2-3.6-1.3-1.5 .1-6 2.8-4.5 .3-6-.9-4.5 .2-4.5 .9-6 .3-13.5 3.6-3.4 0-5.9-1.5 .3-1.6-9.4 .1 .8 1.5-3.6 1.5 2 1.5-1.6 1.5-.3 4.5 1.1 3-1 1-6 1.6-12 .8-2.7 1.1-1.8 1.9-3 .9-7.5-.1-7.5 1.1-15-1.2-9 1.8-15-.1-4.5 1-7.5-.4-10.5 .4-18-.6-7.5-.8-6-2-2.7-1.9-.5-1.5-4.1-1.5-1.2-1.5 2.1-3 2.3-1.5 1.3-6 1.9-1.5 .6-1.5-1.3-4.5 1.1-4.5-3.6-3 3.8-1.5 3.2-4.5-.6-1.5 4.2-3 .8-1.5 2-1.5 2.7-.7 7.5-.4 3-1.9 6-1.3 6 .2 4.5-.9 4.5 0 2-1 .3-1.5 14.2-2.2 4.5-1.4 4.5-.2 6-2.2 6-.9 3-1.2 3.8 .6-2 1.5 7.2 2.2 1.2-.7 .4-1.5-3.2-1.5 1.6-.6 9-2.5 6 .3 4.5-.8 12-3.7 6 .3 7.5-1.5 9 1.7 3-.6 1.5-1.1 3-.3 4.5 2.5 3 .3 12-2.7 12 .6 6 1 10.5-1.4 6 0 1.7-.5-.9-1.5-4.2-3 2.6-1.5-2.2-1.4-3-.6-6 0-2.4-1-.1-1.5 7-1.5zM487.1 11.2l1.1-.2 0 .5-1.1-.3zM368.2 14.2l9-1.2 3 1.9 4.5 1.7 5.3 .6-.3 1.5-3.5 .5-12 0-1.3-.5 2.8-.7 2-2.3-2-.7-7.5-.8zM196.6 15.7l8.1-.5 2.8 2-2.8 .8-3-.1-3-.7-2.1-1.5zM364.5 18.7l5.8 0-2.1 .6-3.7-.6zM52 20.2l4.9 0-4.9 0zM260.6 20.2l1.1-.8 3.7 .8-.7 .8-1.5 .2-2.6-1zM436.3 20.2l2.4-.4 8.2 1.9 2.3 1.2 4.5 .8 2.2 1-8.2 3.7-1 .8-1.3 3-2.2 .8-3 .1-6-1.1-4.5 1.5-7.2-1.3-.3-1.5 5.7-1.5-1.4-1.5 3.8-4.5 6-3zM41.2 21.7l1.5-.6 7.5-.1 3 1.7 6 .2 3 .7 1.5 1.1-.7 3-8.3 3.7-7.5 2-6-.8 0-10.9zM484.1 23.2l4.1-1.3 0 10.8-3.4-.5-1.7-1.5 2.2-4.5-2.4-1.5 1.2-1.5zM362.2 27.7l2.7 0-1.2 .5-1.5-.5zM292.5 30.7l2.3 0-2.3 0zM474.3 44.2l1.3 0-1.3 0zM475.5 47.2l.7-1.1 1.5 .1 2.4 2.5 2.5 1.5 3.5 4.5-1 1.5 1.6 2.3 1.5 1 0 19.5-3-.5-4.5-2.2-3-.7-17 .1-1.4-1.5 .2-1.5-2.7-1.5-1.1-1.5 .7-1.5-2-7.5 2.5-1.5 0-3 2-3-.4-1.5 17-4.5zM43 59.2l4.2-.8 9 1.8 6-1.4 7.5 .7 12 0 3 .3 4.5 2.4 1.5 .2 4.5 .1 3-.8 3.1 .5-1.6 .3-1.1 1.2-.7 4.5-1.2 1.3-1.5 1.2-5.4 .5-.3 1.5-2.1 1.5-1.5 3-6.8 1.5 .6 1.5-13 5.7-8.6 .3-1.9-.7-1.5-1.4-5.7-2.4-3.3-2.3-4.5-.8 0-19.3 1.8-.1zM448.3 95.2l2.4-.7 3.7 .7-3.7 1.4-2.4-1.4zM416.6 104.2l4.1-.3 10.5 1.5 1.9 1.8-.1 1.5 1.5 1.5-3.1 1.5-.1 1.5-1.6 .5-7.5-.7-9 0-5.3-1.3 2.3-1.9 .6-2.6 4.1-1.5 1.7-1.5zM284 111.7l10.7-.6 6 2.4 9-.1 4.5 .8 7.5-1.3 6-.4 4.7 2.2-.9 1.5 .3 1.5 9.8 1.5 3.1 1.5 5.5 1.2 5.4 .3 1.5 1.5-.8 1.5 4.4 .4 4.5-.6 2.9 .2 1.6 2.4 7.5 2 3-.6 1.3-.8 .2-1.5 1.5-1.4 3-.8 5.9 .7 1.4 1.5 7.7 2 12 .3 3-.8 1.5 .1 6 2.5 6-.9 9 .7 3 1.3 4.2 .8-2.7 .7-3 2.6-6 .2-4.5 .8-9-1.6-6 1.2-6.8-.9 3.1 3-6.5 1.5 .9 1.5-2.6 1.5 1.8 1.5 .6 1.5 6.5 .5 12-.3 1.5 .6 .2 .7 7.3 1.1 8.8-1.1-12.2-1.5 3.2-1.5-5.7-1.5 5.1-1.5 1.8-1.5 2-.6 3 .1 10.5 2.5 3-.9 1.5 .2 1.9 1.7 .1 1.5-5 .9-.8 .6 .6 1.5 9.2 .4 3.1 1.1 .3 1.5-157.3 0 4.1-3-4.7-1-12 .1-3.7-.6 2.2-.7 10.3-.8 9.3-1.5-2.5-1.5 2.4-1 6.7 1 .8 1 1.5-.3 .3-.7 2.7-.3 6 .1 1 .2-5 1.5 6.8 1.5 .5 1.5 5.7 .3 6.3-.3-3-1.5 11.7-1 1.3-.5 1.2-1.5 2-.4 3.9 .4 2.3 1.5 2.8 .7 10.5-.1 2.7-2.1 4.1-1.5-.9-1.5-1.4-.6-5.3-.9-8.2-2.5-9.5-.5 .9-1.5-1.9-1.3-1.5-.2-3 .9-.9 .6-.3 1.5-3.3 1.6-4.5-.5-7.5 .9-19.5-4-3.5 .5-2.3 1.5-3.2 1.2-3-.2-1.4-1-6.2-1.5 1.6-1.6 5.5-1.4 6.5-7.3 7.5-.5 2.6-1.2 .3-1.5-2.9-1.1-9-.5-9 .9-7.5-2.5-6-.2-4.4-1.1-.6-1.5 1.8-1.5zM336.7 121.7l-1.3 .5 4.2 0-2.9-.5zM347.2 129.7l-.8 0 .8 0zM362.2 129.4l-.5 .3 5 0-1.5-.6-3 .3zM399.7 133.9l-1.2 .3 1.2 1.1 1.5-.3 .2-.8-1.7-.3zM363.7 147.6l-.6 .1 5.1 .4 2.5-.4-2.5-.4-4.5 .3zM437.1 113.2l3.1-.5 3.2 .5-.7 1.5-2.5 .6-2.8-.6-.3-1.5zM423.6 119.2l3.1-.4 .9 .4 .1 1.5-1 .9-1.5 0-1.5-.9-.1-1.5zM300.6 122.2l2.2 0-.6 .5-1.6-.5zM209.1 129.7l1.6-.8 1.4 .8-3 0zM222.7 131.2l4.5-.6 2.7 .6-2.7 1.5-3 .5-2.5-.5 1-1.5zM270.1 131.2l3.6-.5 2.7 .5-2.7 .4-3.6-.4zM457 131.2l5.7-.5 2.5 .5 2.3 1.5-.3 1.4-9 .2-1.4-1.6 .2-1.5zM237.9 134.2l4.3-.7 2.4 .7-2 1.5 1.1 1.3 3 .9 .4 .8-3.4 1.5-7.5-.7-.9-.8 3-3-.4-1.5zM446.7 134.2l1-.6 2.3 .6-.6 1.5-1.7 .1-1-1.6zM320.7 137.2l2.5-.9 2.7 .9-2.7 .5-2.5-.5zM139.6 138.7l.6-.7 1.5-.4 3.2 1.1-1.3 1.5 1.1 1.5-.7 1.5-7.4 1.5 9.6 .3 4.6-1.8 2.9-.1 .5 .1-.3 1.5 2.8 1.5-1.8 1.5 1.8 1 7.5-.1 3.5 .6-11 .1-1.5 .2-1.6 1.2-112.4 0 0-7.5 1.5-.4 4.5 .1 3 2.6 9-.4 6 1.6 5-.5-4.3-1.5 9.8-.7 7.5 1.5 9-1.3 3 1.1 4.5 .6 3-.5 6-2.6 2.8 .4-2.4 1.5 6.6 0-.8-1.5 19.3-2.6 5.4-1.9zM47.2 146.1l-1.2 .1 1.9 0-.7-.1zM80.2 147.4l-1 .3 5.5 .6 7.6-.6-6.1-.8-6 .5zM107.2 149.2l-.4 0 4.9 .4 3.5-.4-8 0zM119.2 144.5l-.9 .2 3.9 .6 11.5-.6-14.5-.2zM128.2 147.3l-1.1 .4 1.1 1.1 12-.2 5.1-.9-17.1-.4zM465.5 140.2l9.2-1 5.8 1-10.3 .9-4.7-.9zM64.6 141.7l4.8 0-4.8 0zM89.7 141.7l1.6 0-1.6 0zM219.7 141.7l3-.5 6.8 .5 3.7-1 4.5 .4 6-.9 4.6 3-3.2 1.5 5.7 1.5-.9 1.5 2.8 1.3 8.9-1.3 1.6-1.1 6-.2 9-1.6 5.2 1.4 3.8 1.9 15.5 1.1-2.7 1.5-18.1 0 0-1.5-.7-.4-4.5-.5-11 2.4-53.5 0 0-1.6-4.5-.7-5.7 .8 6.3 1.5-24.6 0 12.1-1.5-10.6-.8-2.2-.7 5.2-1.1 15-.1 7.5-1 9 .9 5.9-1.7-.5-1.5-.9-.6-4.5-.9zM230.2 146.2l2 0-2 0zM187.9 143.2l2.3 0-2.3 0zM416.8 143.2l2.4-.6 2.5 .6-2.5 .5-2.4-.5zM471.2 143.2l4.7 0-4.7 0zM459.6 146.2l8.2 0-8.2 0zM481 146.2l7.2-1.4 0 5.9-19.7 0 4.7-1.5-2.9-1.5 1.4-.8 9.3-.7zM172.3 150.7l.9-.8 1.5-.2 6.6 1-9 0z"/>
<path fill="#fdae61" d="M70.4 6.7l2.3-1.2 2.5-.3 14.2 0 3.1 1.5-6.3 .8-15.8-.8zM121.5 6.7l3.7-.8 10.5 0 2.2-.7 16.3 0-6.3 1.5 4.3 .6 10.5-.5 .5 1.4 5.2 1.5 1.8 1 3 .5 22.5-1.7 16.2 1.7-13.2 1.9-4.5 .1-9-1-9 1.2-2.5 .8 1.1 1.5-1.8 1.5-1.3 .8-1.5 0-6-.5-1-.3 2.5-1.5-12-2.1-3 0-4.5 1.3-7.5 .4-10.5-.5-4.1-.6-1.1-1.5-2.3-.9-7.5-.5-3.5-1.6 8-1.1 17.2-.4-11.2-.8-2.2-.7zM158.9 5.2l23.1 0-19.3 1.5-1.5-.1-2.3-1.4zM190.3 6.7l1-1.5 49.6 0-7.7 .3-1.7 1.2 10.7 1.1 9 0 .6-1.1 2.4-.7 6.2-.8 16.4 0-1.6 1-2.5 .5 2 1.5-11.5 .5-12-.5-12 1.3-7.5-.3-2.9 .5 2.8 1.5-5.9 .4-4.8-.4 1.4-1.5-2.2-1.5-9.4 .6-4.5-.8-15.9-1.3zM304.2 6.7l10.1-1.5 16.6 0 6.1 1.5-3.3 .6-9-.4-7.5 .6-13-.8zM419.7 5.2l19.3 0 4.9 1.5-2.5 1.5 5 1.5-1.7 .8-6.2 .7-7.3 1.6-6 .4-4.5-.4-.8-.1 6.6-1.5-4.4-1.5 4.5-1.5-7.1-1.5 .2-1.5zM472.7 5.2l9.7 0-9.7 0zM41.2 8.2l9-.8 10.7 .8-12.2 .6-7.5-.6zM181.5 8.2l3.7-.7 1.5 .1 .7 .6-.7 .7-1.5 .2-3.7-.9zM356.5 8.2l8.6 0 2 1.5-6.4 .2-4.2-1.7zM88 9.7l7.2-.6 5.1 .6-3.1 1.5 .3 1.5-3.8 .6-6-.6-3.4-1.5 3.7-1.5zM42.3 11.2l4.9-.5 5.6 .5-1.1 1.1-1.5 .1-7.9-1.2zM309.7 11.2l3.5 0-2 1.1-1.5-1.1zM316.4 11.2l6.8-.9 5.8 .9-1.3 2.1-1.5 .3-6-.8-3.8-1.6zM372.1 11.2l5.1-.7 9.6 .7-9.6 .4-5.1-.4zM450.2 11.2l6.5-.5 4.5 .5-4.5 .6-6.5-.6zM352.1 12.7l4.1-.8 5.3 .8-5.3 .7-4.1-.7zM41.2 14.2l1.3 0-1.3 0zM43.4 14.2l8.3-1.3 1.5 .1 2 1.2-2 1.3-1.5 .2-8.3-1.5zM479.2 14.2l6-.4 3 .2 0 .6-4.5 .2-4.5-.6zM323.2 15.7l1.5-1 1.5-.2 24.7 1.2-5.1 1.5 .9 1.5-2.5 1.6-4.5 .2-6-1-7.5 1.3-1.5-.5-1.7-1.6-.8-1.5 1-1.5zM435.1 23.2l5.1-.8 6.5 2.3-.6 1.5-2.9 1.7-3 .9-6.8-2.6-.4-1.5 2.1-1.5zM41.2 24.7l0-.9 1.5-.3 1.4 1.2-2.9 0zM244.5 24.7l4.7 0 .1 1.5 3.4 .7 3-1 4.5-.4 15 .9 6-1.2 1.1 1-1.1 1.5 1.9 1.5 .5 1.5-1.3 1.5-5.4 1.5-7.7 1.2-12-1.4-9 1.4-5.6-1.2-.4-1.1-12 2.4-4.5-.8-3-1.2-4.4 .7-1.6 .8-7.9-3.8 4.9-1.2 6 .4 9-.5 15.8-4.7zM249.7 28.8l-.8 .4 2.3 .8 3-.1 1.5-.7-3-1-3 .6zM486 24.7l2.2-1 0 1.4-2.2-.4zM187.9 33.7l3.3-.7 4.5 .2 1.6 .5 1.4 1.9 1.5 1.1-3.4 1.5-5.6 1.2-6-.9-2.9-1.8 2.9-1 4.3-.5-1.6-1.5zM164.2 39.7l3 2.2 4.5 .1 2.2 2.2-2.1 1.5-.8 1.5-3.2 1.5 1.8 1.5 3.6 .9 6 2.6 9 .9 7.5-.7 6 .6 6-.8 13.5 0 9-1.4 10.5 .8 12-1.3 6-1.8 7.5-.6 9 2.4 12 1.8 9 .7 3 1.6 3 .4 8.5 5.9-3.5 4.5-5 1.7-24 .8-9 1.5-4.5 0-7.5-1.2-21 1.7-2.8 3 1.3 1.2 3.9 1.8-2.4 1.2-4.5 .1-4.5 2.8-.4 .4 .4 .3 4 1.2 0 1.5-2.3 1.5-6.2 2.2-4.4 2.3-9.1-.4-4.5 1-6 .2-1.5-.2-2.9-2.1-1.6-.3-10.5 1.2-6 1.5-4.5 .3-4.5-.5-9 1.4-15 .6-12-1.1-6 .3-10.5-2.1-2.5-1.3-.5-1.9-3.4-2.6 1.4-1.5 0-1.5 1.1-1.5 .7-6 1.2-1.5 .4-1.5-.6-1.5 .4-4.5 1.2-4.5-.5-1.5 4.6-3 .8-1.5 2.2-1.5 1.9-4.5-.6-1.5 2.7-.9 7.5 .3 3-1.6 7.5-2 13.5 .6 8.2-.9-2.8-1.5 2.1-1.5zM375.1 45.7l3.6-.8 12 .9 7.5 2.3 2.1 2.1 3.1 1.5 1.3 1.5-1.3 3-1.8 1.5 1.3 4.5 5.3 4.5 .2 1.5 4.6 1.5 2.5 1.5-2.3 1.2-1.3 1.8-2.1 1.5-4.1 2.3-9 .5-.8 .2-2.8 3-3.9 .6-6-3.3-2.6-3.3-1.9-.8-27-1.1-4.5-1.4-4.4-2.7-.4-3-1.2-.4-1.5-.1-3 1-8.5-.5-.5-1.5 7.5 .2 4.5-1.1 .4-.6-2.2-1.5-1.8-3 5.1-1.5 1-3-.2-1.5 2.2-2.6 7-.4 .6-1.5 8.9-1.7 10.5-.4 3.9-.9zM466.7 51.7l5-1.1 3-.1 4.8 1.2 2.7 2.2 .6 .8-.3 1.5 1.7 3-.1 1.5 4.1 1.7 0 14.9-3-.5-4.5-2.2-15.1-.4-7.7-4.5 .5-1.5-.7-4.5 .2-3 2.6-1.5 .8-4.5 .8-1.5 4.6-1.5zM47.5 62.2l2.7-.7 13.5 .7 7.5-.6 3.2 .6 2.8 2.8 3-.2 6-1.3 7.5 .5 2.6 1.2-1.4 3-7.3 1.5-1.3 1.5 .5 1.5-2.3 1.5-1.3 1.9-6 1.3-2 1.3 0 1.5-1 .5-12.3 4-.2-1.5-4-1.9-6-1-7.5-3.4-3-.1 0-14.4 6.3-.2zM388.9 86.2l1.8-.1 4.5 3.1-4.5 1.7-6 1.2-.2-1.4 3.7-3 .7-1.5zM378.5 93.7l3.2-.3 3-1.1 .3 1.4-2 3-2.8 .9-4.5-.3-1.6-.6-.8-1.5 5.2-1.5zM421.4 107.2l5.3-1.2 2.5 1.2-1 1.2-1.5 .2-4.5-.7-.8-.7zM416.1 108.7l1.6-.8 1.5 .1 3.9 2.2-3.4 0-3.6-1.5zM425.7 110.2l1-.9 1.5-.1 1.5 1-4 0zM325.6 123.7l1.5 0-1.5 0zM348.1 123.7l3.9 0-3.9 0zM329.7 125.2l7-1.1 4 1.1-1 1.5-3 .5-7-2zM309.5 129.7l2 0-1.8 1.5-3 0 1.5-.2 1.3-1.3zM392.2 129.7l1.5 .3 1.4 2.7-1.4 2-6 .3-4.5-2.3 3-1.7 6-1.3zM364.2 131.2l5.5-.5 2.3 .5-1.8 1.5-3.5 .2-1.9-.2-.6-1.5zM412.9 132.7l3.3-.5 2.7 .5-3.3 1.5-4.5 0 1.8-1.5zM391.8 138.7l.6 0-.6 0zM123.3 143.2l4.9-.5 5.3 .5-6.8 .4-3.4-.4zM230.9 143.2l3.6 0 2.8 1.5-1.1 .4-3-.3-2.3-1.6zM383.8 143.2l3.9-.7 7 .7 6.9 3 8.6 1.2 10.5-.1 7.8 1.9-1.8 1.5-9 0-7.5-2.3-5.4 .8 5 1.5-71.3 0-3.3-.4-3.7 .4-23.4 0 4.6-3-5.5-1.5 2.5-1.4 1.5-.2 15 .6 3 1.1 6 .6 18 .3 1.5-1.3 3-.7 25.5-.2 .8-.3-.2-1.5zM393.7 149.1l-.5 .1 .9 0-.4-.1zM344.2 149.2l-.5 0 10 0-.5-.7-1.5-.1-7.5 .8zM357.7 147.6l-1 .1 11.5 .8 4.3-.8-1.3-.7-3-.2-10.5 .8zM431.9 143.2l5.3-.9 2.9 .9-4.4 .8-3.8-.8zM52.9 146.2l3.3-.5 3 .2 7.1 1.8 1.8 1.5 3.1 .5 6-.7 18-.7 1.5-1 10.5-1.7 7.5 .2 4.5 1 4.5 .3 1 .6-4 1-22.5-.2-1.5 .2-.3 .5 14 1.5-69.2-.3 0-3.5 7.5-.1 4.2-.6zM51.7 149.1l-.5 .1 .5 .6 4.5 .4 3-.2 2.2-.8-9.7-.1zM87.1 146.2l3.6-.4 3.1 .4-6.7 0zM126.6 146.2l9.1-1.2 8.8 1.2-8.8 .9-9.1-.9zM210.3 146.2l3.6 0-1.7 .5-1.9-.5zM239 146.2l4.7-.7 4.5 .7 .2 1.5 1.3 1.5 1.5 .5 4.5-.3 10.5-1.8 5.5 .1-1 .4-.6 1.1-6.3 1.5-48.4 0 1.3-1.7 1.5-.2 10.5 1.2 1.4-.8-6.6-1.5 15.5-1.5zM277.5 146.2l1 0-1 0zM293.8 146.2l5.4-.4 4.2 .4-9.6 0zM434.2 146.2l1.5-.4 3.1 .4-4.6 0zM185 147.7l4.7-.6 11.8 .6-4.3 .5-12.2-.5zM473 147.7l15.2-.8 0 3.7-16.3 .1 4.9-1.5-3.8-1.5zM289.2 149.2l10.3 0-7.8 1.1-1.5-.3-1-.8zM437.9 149.2l3.8-.9 4.5-.3 9 .3 4.6 .9-1.6 1.1-1.5 .2-25.8 .2 7-1.5zM115.4 150.7l5.3-.8 4.5 .3 9-.9 12-.1 4.5 .3 1.5 1.2-36.8 0zM186.7 150.7l10.5-1.2 6.3 1.2-16.8 0z"/>
<path fill="#f46d43" d="M75 6.7l6.1-1.5 5.4 0 3.9 1.5-4.2 .5-11.2-.5zM125 6.7l5.2 0-5.2 0zM143.2 5.2l5.3 0-3.8 .5-1.5-.5zM163.3 5.2l14.6 0-14.6 0zM196.9 6.7l4.3-1.5 25.6 0 2.2 1.5-.3 .7-3 .4-15 0-13.8-1.1zM266.2 5.2l8.3 0-3.8 .6-4.5-.6zM307.5 6.7l11.7-1.5 9.2 0-.7 .8-4.5 .1-1.3 .6-4.7 .5-9.7-.5zM328.7 6.7l.5-.5 5.6 .5-6.1 0zM421.7 5.2l14.4 0 6.2 1.5-2.1 .9-3.8 .6 8.1 1.5-2.8 .6-7.5 .2-1 .7-1.4 0 .8-1.5-.2-1.5-10.2-1.3-.8-.2 .3-1.5zM45.3 8.2l7.5 0-7.5 0zM138 8.2l2.2-1.3 3-.1 7.5 1 9 0 5.9 1.9-3.5 3-2.4 .5-4.7-.5 1.6-1.5-4.4-2-4.5 0-10.4 2 1.4 1 1.5 .2 6-.5 3.7 .8-7.3 1.5-5.4 .3-7-.3-6.5-3.3-9-.3-3-.9 6-.7 15 .2 5.3-1zM230.1 8.2l10.1 0-4 .4-6.1-.4zM260.1 8.2l4.4 0-4.4 0zM45.3 11.2l3.9 0-3.9 0zM87.5 11.2l3.2-.7 1.5 0 1.2 .7-1.2 .9-1.5 .1-3.2-1zM186.8 11.2l7.4-.9 6.4 .9-6.4 1-7.4-1zM454.6 11.2l1.9 0-1.9 0zM355.8 12.7l1.9 0-1.9 0zM236.1 29.2l3.7 0-1.6 1.5-3.7 0 1.6-1.5zM266.2 32.2l4.5-1.2 1.6 1.2-3.1 .4-3-.4zM152.8 47.2l8.4-1.4 2.8 1.4-2.3 1.5 2.2 1.5 9.3 2.6 4.5 2.2 9 1 9-.5 6 .5 6-.3 3 .6 4.5-1.2 3-.2 7.5 .1 6 1.1 4.5-1.4 6 .3 4.5-1.2 4.5 .7 2.7-1.3 3.3-.6 7.5 .4 7.5-.4 11 2.1 2.5 1.3 7.5-.1 4.2 1.8 5.5 1.5 3.8 3-3.5 3-10 2.4-9 .5-4.5-.4-12 1.5-9-1.1-7.5-.1-4.5 1-7.5 .5-6 1.5-5.1 4.7-2.4 .6-2.7-.6 2.5-1.5-2.8-1-4.5 .1-4.9 .9 2.9 3-1 1.5 6.2 1.5 1.3 3 3.4 1.5-2.3 1.5-7.1 2.3-6 .2-6-1.1-6 .5-6-1.6-16.5 3.5-7.5-1.2-9 2-10.5 1.1-27-1.2-6.1-1.5-1.5-1.5 .3-3-2-1.5 .1-1.5 1.1-1.5-.5-1.5 1.5-7.5-.7-1.5 3.7-3-1.1-4.5 .7-2.1 1.1-.9 4-1.5 .3-1.5 4.2-3-.6-1.5 1.5-1.4 13.5-1.2 1.5-1.3 9.6-.6zM200.2 76.4l-.7 .8 1.2 1.5 1 .3 3.5-.3 1.5-1.5-3.5-1.1-3 .3zM144.7 49.9l-1.4 .3 1.6 1.5 2 0-.6-1.5-1.6-.3zM357.5 50.2l6.2-1 6 1.5 3 1.6 3 .6 6 .2 4.5-1.4 5.5 0 3 1.5 1 1.5-1.9 1.5-.2 1.5 3.6 1.5 2 3 3.5 1.5 1.7 1.5 1.3 1.5-1.3 1.5 3.6 3 .9 3-1.9 1.5-2.8 1-9 .5-6 2.1-3-.6-5.8-4.5-1.4-1.5 .2-1.5-.5-.9-1.5-.7-12 .7-7.5-.7-1.5 .4-1.1 1.2-1.9 .4-3 .1-1.9-.5-1.9-1.5 .6-1.5-.6-1.5-2.6-1.5-3.5-4.5 1.1-1.5 3.3-1.5-.3-1.5 1.3-3.1 3-1.1 6-.9 2.8-.9zM396.9 53.2l3.2 0 .5 1.5-1.8 0-1.9-1.5zM468.8 53.2l2.9-.7 3 .1 3 .7 2.5 1.4 .7 4.5-.3 1.5 4.6 2.8 3 .8 0 8.8-1.5 .7-4.5-.7-15-.7-3-.8-3.7-1.9-.6-6 1.3-3 4.8-1.5 .9-1.5-1.8-1.5 .6-1.3 3.1-1.7zM47.7 63.7l4-.7 6 0 7.7 2.2-.1 1.5-5.3 3 .5 3-2.8 1-4.5 .4-4.5-1.8-4.5-.7-3 .7 0-7.9 3 1.1 1.5-.2 2-1.6zM90.2 65.2l2.1 0-1.6 1.1-.5-1.1zM88.7 66.7l.5-.5 1.1 .5-1.6 0zM76 69.7l4.2-1.3 3 .7 .5 .6-1.3 1.5 .9 1.5-4.6 1.8-3.9-.3 .4-3 .8-1.5zM389.2 144.7l3.7 0-3.7 0zM129.6 146.2l6.1-.8 6.5 .8-6.5 .6-6.1-.6zM313.2 146.2l8.5-.4 7.5 1.3 8.9 .6-.6 1.5-8.6 1.5-18.5 0 6.8-3-4-1.5zM358.3 146.2l5.4-.6 5.8 .6-7.3 .4-3.9-.4zM370.3 146.2l8.4-.4 11.7 1.9-1.2 2-5 1-15.8 0-11.3-1.5 3.6-.6 10.5 .2 2.9-1.1-1.4-1.2-2.4-.3zM41.2 147.7l9-.2 6-1 5.9 1.2-2.9 .6-9-.1-3 1.3-6 .5 0-2.3zM100 147.7l10.2-1.1 2.9 1.1-13.1 0zM230.6 147.7l13.1-1.1 1.5 .2 1.3 .9-.1 1.5-7.2 .8-4.5-.6-4.1-1.7zM397 147.7l4.2-.8 6.6 .8-8 1.5 2.9 .3 4.2 1.2-16.1 0 8.9-1.5-2.7-1.5zM88.1 149.2l4 0-1.4 1-2.4 .5-5.8 0 5.2-.6 .4-.9zM259 149.2l5.7-.6 3 .6-5.8 1.5-10.8 0 7.9-1.5zM416 149.2l3.2-1 6.5 1-3.5 1.1-6.2-1.1zM440.3 149.2l7.4-.9 10 .9-2.5 .7-20.1 .8 3.6-.6 1.6-.9zM479.8 149.2l.9-1 7.5-.4 0 2.3-12.2 .6 3.2-.8 .6-.7zM93.7 150.7l11.4 0-11.4 0zM129.2 150.7l6.5 0-6.5 0zM137.2 150.7l9-.9 4.5 .9-13.5 0zM188.9 150.7l6.8-.7 5 .7-11.8 0zM218 150.7l1.7-.4 6.2 .4-7.9 0zM341.3 150.7l5.9-.9 6.7 .9-12.6 0z"/>
<path fill="#d73027" d="M81.5 6.7l3.2-.7 3.5 .7-6.7 0zM203.8 6.7l9.9-.6 3.2-.9 4.8 0 4.3 1.5-4.8 .4-17.4-.4zM310.3 6.7l5.4-.6 3.6 .6-9 0zM423.7 6.7l.7-1.5 8.3 0 7.6 1.5-4.6 .7-12-.7zM140.7 8.2l2.5-.6 5.1 .6-6.6 1.5-4.8 0 3.3-.8 .5-.7zM113.9 9.7l9.5 0-7.2 .4-2.3-.4zM156 9.7l.7-.8 1.5-.2 4.8 1-3.3 .7-3.7-.7zM135.5 51.7l4.7 0 .2 1.5 4.3 1.6 5.3-.1 2.2-1.6 10.5-.8 5.9 .9 3.7 1.5 1.2 1.5-1.8 2.4-3.5 .6 .5 1 9-1.4 1.1 .4 .1 1.5 1.8 0 4.5-2 18-1.4 3 .1 3 1.8 1.5 .1 3-1.1 2.7-2 1.8-.2 5.5 .2 2 1.1 4.5 .8 3 0 6-1.3 9 .8 10.5-3.4 9 1.2 4.5-.9 3 .2-1.5 1.5 3 1.2 9 1.2 7.5-.2 3.8 .8-.9 1.5 2.3 1.5-2.4 1.5-5.8 .9-9 .2-4.5-1.2-2.4 .1-1.3 1.5 2.2 1.5-4.5 .8-6 0-7.5-1.4-6 .2-6 2-13.5 1.2-3 1.9-16.5-.4-2.3 .2-.7 .5-6-.2-3-1.3-4.5 .2-2.2 .8-1.2 1.5 1.6 1.5 1.1 3 4.7 3-1 .5-13.5 2.5 3.5 1.5-2 .7-4.5 0-6 1.4-12-.6-1.2 1.5-4.8 1.8-9 .9-7.5-.6-4.5 .4-5.1-1-7.6 0-6-1.5-.5-1.5 .9-3-1.4-1.5 0-1.5-.7-1.5 .2-1.5 3.4-1.5 .9-1.5-1.2-1.5 3.6-1 5.1-.5-8.2-1.5 6.1-.7 1.6-.8-5.1-1.5 .2-1.5-.8-1.5-.3-3 2.9-.8 5.4-5.2 5.4-1.5-.5-1.5zM198.7 62l-.9 .2 3.3 0-2.4-.2zM230.2 62l-4.7 1.7 3.2 .6 3-.2 2.1-.4 1.6-1.5-2.2-.7-3 .5zM350.6 53.2l8.6-.2 1.8 .2 2.7 1.3 3-.8 3 0 4.5 1 4.5 1.7 3 0 4.5 2.1 7.5 1.7 8.5 6.5-1.5 1.5 .7 1.5 3.2 3-.1 1.5-3.3 1.4-12 1.4-3-.4-3.8-2.4-1.3-4.5-2.4-2.9-1.5-1.2-1.5-.3-3.2 1.4 1.6 1.5-7.4 .2-10.5-1.1-4.5 .1-6.6-3.7-2.1-3 4.6-3 .3-1.5 2-1.5 .7-1.5zM374.2 63.6l0 .8 1.5 .7 1.5-.4 1-1-1-.4-3 .3zM472.4 54.7l2.3-.4 2.4 .4-.9 1.1-1.3 .4-.1 1.5 2.4 1.5 0 1.5 8 4.5 .4 1.5-2.1 1.5 1.9 1.5 .6 1.5-2.3 .3-4.5-.6-10.5 .1-4.4-1.3-1.4-4.5 .9-1.5 2.7-1.5 .6-1.5 3.1-1.4 1.8-1.6-.5-1.5 .9-1.5zM49.5 65.2l2.2-.9 4.5-.3 3.9 1.2 1.3 1.5-6.7 4.1-1.5-.1-5.5-1-.4-1.5 .5-1.5 1.7-1.5zM205.2 80.2l4-.2 7.5 3 2.4 1.7-1.6 1.5-5.3 1.2-7.5-1.3-6 .2-4.2-1.6 2.7-1.2 7.5 .3 4.3-.6-6.1-1.5 2.3-1.5zM131.8 146.2l3.9-.4 4.5 .4-8.4 0zM54.8 147.7l3.4 0-3.4 0zM234.8 147.7l5.9 0-5.9 0zM321.2 147.7l5 0 3 .5 1.9 1-6.4 1.2-4.5-.5-1.4-.7 2.4-1.5zM376.2 147.7l1-.9 1.5 0 7.5 1.4 1.5 1-3 .8-9.1 .7 .6-3zM400.4 147.7l4 0-4 0zM41.2 149.2l0-.7 1.5 0 3 .7-4.5 0zM360.5 149.2l5.9 0-5.9 0zM442.6 149.2l6.6-.5 6.5 .5-9.5 .5-3.6-.5zM483.5 149.2l4.7-.6 0 1-4.7-.4zM141.3 150.7l3.4-.4 4.1 .4-7.5 0zM191.1 150.7l7.3 0-7.3 0zM255 150.7l4.2 0-4.2 0zM344 150.7l3.2-.4 3.6 .4-6.8 0zM393.1 150.7l6.6-1 4.9 1-11.5 0z"/>
<path fill="#a50026" d="M313.9 6.7l2.2 0-2.2 0zM136.7 56.2l21.5 1.3 2.5 1.7 .5 1.7 9 1.9 6 2.4 4.5 .7 1.3 .8-2.1 1.5 5.6 1.5 .8 1.5 4.4 3 .1 1.5-1.1 1.7-3 1.3-4.5-.3-4.5-1.5-1.3 .3-1.5 1.5 .5 1.5-.7 .5-5.6 1-4.2 1.5-5.2 3.5-4.5 1.5-7.5 .4-15-1.2-6 .1-5.1-1.3-.1-1.5 .9-1.5-2.3-3-.2-1.5 1-1.5 5.8-2 5.9-1 1.9-1.5-2-3 0-1.5 .2-1.5 1.9-3-1.1-1.5 2.1-3-2.1-1.5 3.2-1.5zM177.7 69.3l-.9 .4 2 0-1.1-.4zM353.7 56.2l2.5-.2 7.5 1 6-.4 1.5 .6 1.5 2.4 2.4 1.1-5.1 3-.5 1.5-4.3 1.4-4.5-.2-6.5-1.2-7.6-3-1-1.5 6.1-3.9 2-.6zM261 57.7l.7-1.1 1.5-.2 12 3.4 11.1 .9-1.2 1.5-2.4 .5-6-1.3-3 .3-5.3 2-.7 1.6-3 .3-3-.9-3.8-2.5-1.3-1.5 3.7-1.5 .7-1.5zM384.1 62.2l.6-1 7.1 1 2.8 3 3.6 1.5-.4 3 1.8 4.5-10.4 1.7-4.7-1.7-1.8-7.5 .6-3 .8-1.5zM209.1 63.7l3.1 0-3.1 0zM468.7 63.7l3-1 6 .1 4 2.4 .4 1.5-7.4 2.9-3-.3-2.7-1.1-1.4-1.5-.4-1.5 1.5-1.5zM52.4 66.7l2.3-1.4 3 1.4-3 .9-1.5-.1-.8-.8zM233.7 66.7l2.5-.8 5.5 .8-5.5 .4-2.5-.4zM221.6 68.2l1.1-.9 3-.4 1.5 .1 1.9 1.2-3.4 .8-4.1-.8zM134.6 146.2l3 0-3 0zM379.4 149.2l2.3-.8 4 .8-4 .4-2.3-.4zM445.7 149.2l7.5 0-7.5 0zM395.2 150.7l4.5-.4 2.6 .4-7.1 0z"/>
<path fill="none" stroke="#000" stroke-width="0.45" stroke-opacity="0.8" d="M474.7 6.7l-.6 0 6.8 0-6.2 0M308.2 8.2l-.9 0 1.3 0-.4 0M144.7 29l-4.1 1.7 2.6 .5 3.2-.5 .1-1.5-1.8-.2M83.2 32.2l-3 1-8.7 .5 .8 3-1 1.5-6.1 1.3-2.5 3.2 4 1.8 5 1.2 1 .8 1 2.2 6.5 1.2 2.2-1.2-.3-1.5 2.8-3-.1-1.5 1.4-1.2 3-1 3 .1 4.5 1.6 1.5-.1 7.5-1.9 6 0 4.5-.6 7.5 .3 7.5-1.2 8.2-.5 3.8-1.5-3.2-1.5-1.3-1.8-2.5-1.2-.5-.8-1.5-.5-13.5 .9-6-.9-7.5 1-9 .1-7.5-.9-7.5 1.1M341.2 32.1l-9.7 3.1 1.2 4.5 10 2.1 2.7-.6 3.2-1.5-.5-1.5-4.1-3 .3-1.5-1.4-1.5-1.7-.1M438.7 39.6l0 .8 1.5 .6 1.8-1.3-3.3-.1M353.2 41.2l-1.1 1.5 1.4 0-.3-1.5M323.2 45.7l-.8 1.5 1 1.5-.1 1.5 2.4 1.5 2.5 0 .4-1.5 2.6-1.5 .2-1.5-.7-1.6-4.5-.6-3 .7M440.2 81.5l1.5 .9 1.5-.1 .6-.6-3.6-.2M86.2 91.9l-2.4 1.8-.9 1.5-5.1 1.5-.8 1.5-4.8 3 .8 1.5 2.3 1.5 1.9 2.7 7.5-.3 6.9 .6-3.8 1.5 7.4 .7 1.9 .8-1.3 1.5-3 1.5 2.4 1.2 6.2 4.8 1.5 1.5-.8 1.5 .6 .2 2.9-.2 7.6-2.3 6-.5 6 .4 6-.3 3 1.6 3 .2 7.5-1.8 13.5-.9 6 .3 6 1.7 10.5-1.8 4.5-1.6 6 0 3-2.2 1.5-.3 7.5 .4 4.5 1 3-.3 6-1.8 3.3 .7-.6 1.5 1.8 .4 3.5-.4 1.4-1.5 1.1-.1 3.7 .1-1 1.5 4.2 0-.4-1.5 9.3-3 2.2-.3 4.5 .9 4.3-.6-3.9-1.5-.5-1.5 1.9-1.5 .1-1.5 5.2-3-1.1-.9-4.5-.3-6-2.4-3-.3-6 .9-7.5-.8-7.5 1-15-1.2-7.5 1.3-12 .2-7.5-1.5-9 1.2-18-.5-12 .9-9-1.9-15 1.4-7.5-1.1-6 .4-1.5-.3-3.1-2.1-1.6-1.5 .2-1.5-1.2-1.5-1.8-.9-3-.3-4.5 .9M326.2 95.1l-4.2 1.6 .1 3 1.1 1.1 6-.4 2.5-.7-.6-4.5-1.9-.6-3 .5M384.7 105.6l-4.5 3.3-1.1 1.3 .4 1.5 5.2 1.2 9 .1 3.3-4.3-.6-1.5-5.7-1.7-3-.4-3 .5M351.7 108.4l-.7 .3 5.2 2.5 1.5 .1 2.5-1.1-1.7-1.5-2.3-.8-4.5 .5M374.2 112.8l-.9 .4 .9 .9 1.5 .1 2-1-2-.7-1.5 .3M405.7 5.4l-1.1 1.3 4.1 .7 0-1-3-1M471.7 6.7l6 .6 5.9-.6-11.9 0M303.7 8.1l-.9 .1 5.4 .5 4.1-.5-8.6-.1M383.2 8.1l-.7 .1 5.2 .4 2.4-.4-2.4-.5-4.5 .4M410.2 8.1l-.5 .1 5.4 0-4.9-.1M257.2 12.6l-.7 .1 3.9 0-3.2-.1M107.2 24.7l3 .5 .9-.5-.9-.8-1.5 0-1.5 .8M122.2 26.1l-.5 .1 4.2 0-2.2-.4-1.5 .3M104.2 27.7l-10.5 .3-7.5 1.3-4.5 1.6-12 1.4-1.6 1.4 .5 1.5-.4 .5-4.5 1.8-4.5 3.2-3.1 .5 2.4 3-4.6 1.5 2.3 .7 6 .3 18 4.8 3 .3 3-1.3 1.9-1.8-2-1.5 3.1-1.7 12-1.3 4.5 .6 4.5-.2 7-1.9 2-1.5 25.5-2.7 .8-.3 1-1.5-2.5-3 4.7-1.5 2-1.5-.7-3-3.8-.6-3 0-7.5 1.6-9-.8-4.5 .4-4.5-1.4-3-.2-4.5 0-6 1M336.7 28.4l-1 .8 2.5 1.5-4.1 1.5-6.8 1.5-2 1.5 3.4 3-1 .4-4.5-1.4-12 2-6-1-6 .7-3-.8-3-2-1.5-.2-2.4 .8 2.6 1.5 .3 1.5 2.5 .7 .8 .8 .8 3 4.4 .1 3-.7 3 0 3 2 4.5 1 4.8 2.1-1.5 1.5 .8 1.5 4.9 .9 4.5 .1 4.1-1-.3-1.5 1.3-1.5 .3-1.5 2.1-2.8 .7-.2 6.8-.4 10.5 .6 4.5-1.7-1.5-3-6-3.8-3.7-3.7-4.1-1.5-1.2-2.1-3-.8-1.5 .6M164.2 30.5l-1.1 .2 4.1 .4 2.1-.4-5.1-.2M437.2 37.9l-3 1.8-4.6 1.5-.6 1.5 1.3 1.5-.6 .9-4.5 .1-1.5-.4-3.2-2.1-2.8-.5-4.6 2 .6 1.5 2.5 2.2 3 .8 1.1 1.5-1.3 1.5 3.2 .5 4.5-1 7.5-.6 .7-.4-.7-.8-3.3-2.2 .9-1.5 6.9 .5 4.5-.3 3-2.4 2.2-.8 1.3-1.5-7.1-3-5.4-.3M279.7 39.5l-5.8 1.7-1.4 1.5 2.5 3 3.2 .6 4.2-2.1 .5-1.5 4.9-3-3.6-.6-4.5 .4M99.7 46.5l-.8 .7 2.3 1.2 2-1.2-2-.9-1.5 .2M305.2 75.6l-.4 1.6-5.6 2.5-1.5 1.5-.3 2 1.1 1.5 6.7 2.6 6-.7 4.5 .7 1.5-.2 1.6-.9 0-3-3.1-2.7-6 1-3-1.3 2.5-1.5 .8-1.5-1.5-1.5-3.3-.1M449.2 77.1l-4.5 2.2-7.5 .9-1.9 1.5 .4 1.6-1.3 1.4-1.7 .7-7.5-.7-3.6 1.5 2.1 1.8 9 1.1 .3 1.6-2.2 1.5 3.4 1.1 3 1.7 1.5-.1 4.9-4.2 2.6-1.4 6-.5 6 .4 6-1.5 6 .7 6-.1 2.3-.6 2.8-3-3.6-1.4-1.5-1.8-7.5-.6-6 .7-1.5-.5-.4-.9-5.6-.9-3.5-2.1-2.5-.1M447.6 80.2l5.8 0-5.8 0M288.7 81.2l-1 .5 2 0-1-.5M423.7 81.4l-1 .3 2.3 1.5 .2 .7 .3-.7 2.4-1.5-4.2-.3M485.2 83.2l-.4 0 1 0-.6 0M281.2 87.5l-3.5 1.7 3.5 .8 6.2-2.3-3.2-.5-3 .3M87.7 89.1l-6 .6-5.2 2.5-2.4 3-2.4 1.5-5.6 1.5-3.9 2-5.3 1-.7 .5-.3 2.5 3.3 1.2 12-.3 1.2 .6-3.3 1.5 2.1 1.7 3 .4 6-.3 5.9 1.2 2 1.5-3.3 1.5 10.4 3.5 3.6 2.5 1.2 1.5-1 1.5 3.7 1.6 4.5 .2 6-2.3 4.5-.5 18 1.9 40.5-1.6 10.5 1.8 6.1-1.1-1.8-1.5 1.7-.5 12 1.6 9.2-1.1 .4-1.5 2.4-.4 16.5-.2 10.5-1.3 6-2.6 5.7-1.5 2.4-1.5-.6-4.5 .4-1.5 4.1-3.6 3.5-.9-9.5-2.2-6-.1-4.5-1.5-7.5 .5-9-.8-9 1-13.5-.6-7.5 .8-21-.9-7.5 1-25.5-.5-6 .7-9-1.4-7.5 .7-9-.5-4.3-.7-3.1-1.5-3.1-.1-9-5.8-6-.2M281.2 91.7l-3 1.3-4.4 .7-.9 3-.7 .4-5.9 1.1 1.4 2.1 1.5 .4 4.5-1.8 4.5 .3 1.1 .5 .2 3 10.7-1.1 4.5 .5 4.5 1.1 1.6 1-.4 1.5 1.8 .3 4.5-.2 4.5-1.1 4.5 .2 4.5 1.6 5.9 .7-1.4 .3-1 1.2 1 .1 9 .3 2.1-.4 .7-1.5 3.2-.2 .6 .2-.6 1.5 .3 1.5 1.5 1.5 5.7 1.3 3 1.4 1.5 .1 3-1.3 6-.6 4.5-1.9 1.5 0 2.5 1-1.7 3 4.2 1.5 2.5 1.5 12-1.6 4.5 .3 9-.7 3.3-1-3.3-1.2-2.1-1.8 1-1.5 2.1-1.5 .8-1.5-9.8-3-2.5-1.3-3 .1-6 2.3-3 .3-12-.5-7.5-3.6-6 1.6-6 .3-2.7-.7-.9-1.5 .1-1.5-4-.3-3-2-1.3-2.2-1.7-1.4-1.5-.6-3 0-7.5 2.6-1.9 .9-1.1 2-7.5 .8-1.5-.5-.3-.8 2.2-3-3.4-1.4-16.5 .9-3.9-1-3.6-1.9-1.5-.1M260.2 96.6l-.6 .1 1 0-.4-.1M47.2 98.1l1.5 1 1.5 0 1.1-.9-4.1-.1M329.5 102.7l2.9 0 .1 1.5-2.7 0-.3-1.5M443.2 102.2l-1.2 .5 4.2 1.1 1.5 1.2 1.5 .2 2.4-1-3.9-1.7-4.5-.3M322.7 104.2l2-.5 2.8 .5-2.8 .6-2-.6M361 107.2l7.2-.6 1.4 .6-5.9 .5-2.7-.5M488.2 111.3l-4.2 .4-1.9 1.5-3.8 1.5 2.4 1.2 7.5 1.1M41.2 117.2l6 .2 6-1.8 6-.5 1-.4-.4-1.5 2.4-2.1 1.9-.9-4.3 0-5.1 2.8-1.5 .2-12-1.9M99.4 5.2l1.8 .4 .3 1.1 4.2 .6 6 .3 3.5-.9-13.2-1.5M345.2 5.2l-1.1 1.5 3.1 .3 3-1.1 5-.7M399.1 5.2l6.6 3.5 9 .2 3.6-.7-5.8-1.5 0-1.5M470.2 6.4l-1.1 .3 8.6 1 4.5-.2 3.4-.8-4.9-.6-10.5 .3M72.7 8.2l7.5 .4 3.3-.4-10.8 0M173.2 8l-1.2 .2 2.7 .4 1.6-.4-3.1-.2M299.2 8.1l-1 .1 8.5 1 7.9-1-7.9-.5-7.5 .4M374.2 7.7l-.6 .5 15.6 1.3 1.5-.1 1.5-1.2-3-1.2-15 .7M251.2 9.6l-5.6 1.6-1.2 1.5-.7 .1-14.5-.1 7 .5 2.4 4-2.3 1.5 5.9 1 3.6-1-.2-1.5 4.1-3.5 3-.4 11.2 .9 2.7-1.5-13.3-1.5 5.4-.6 1.4-.9-8.9-.1M335.2 9.6l-.5 .1 2 .4 3.2-.4-4.7-.1M285.7 10.9l-1.2 .3 5.7 2.2 4.8-.7 2.4-1.5-7.2-.6-4.5 .3M401.2 10.9l-1.4 .3 4.4 .7 4.3-.7-4.3-.6-3 .3M278.2 12.6l0 1.6 1.8 1.5 4.2 .4 2.5-.4-4-.5-1.5-1 2.1-1.5-.6-.3-4.5 .2M83.2 19.7l-.8 .5 .8 .9 2.9-.9-2.9-.5M218.2 20.2l-.5 1.5 2 .5 1.8-.5-1.8-1.5-1.5 0M462.7 20.5l-1.1 1.2 .2 1.5 3.9 .9 1.3-.9-.3-1.5-4-1.2M387.7 23.2l1.5 .9 3.1-.9-1.6-.4-3 .4M164.2 24.4l-.7 .3-.5 1.5 4.2 .4 5.1-1.9-5.1-.7-3 .4M398.2 26.1l-.5 .1 2.2 0-1.7-.1M332.2 27.5l-.8 .2-2.2 3-1.5 .8-12 5-3 .1-4.5-1.8-1.2-1.1-4.8-.9-3 .2-4.5 1.2-6 .1-3.6 .9-6.5 3-7.9 2.7-2.1 1.8 5.1 4.3 4.4 1.7 4.9 0 0-1.5 1.2-1.4 3-1.1 9 .7 7.5 2.4 6.1-.6-1.6 1.4 .6 1.6 4.6 1.5 2.3 1.6 9 .7 4.5-.4 4.5-1.7-.1-1.7 1.2-3 3.4-2 3-.2 6 .7 6-.4 4.5-1.1 2.8-1.5-2.9-4.5-4.4-3-.5-1.5-5.9-3 1.9-1.2 4.2-.3-5.7-2-4.5-.7-4.5-.1-6 1.1M461.2 33.7l-3.3 1.5 .9 3 2.4 1.6 3-.1 1.6-1.5 4.4-.7 1.7-.8-1.7-2.1-1.8-.9-7.2 0M435.7 35l-4.7 1.7 .4 1.5-3.2 1.2-4.5-.2-9 .8-6 4.2 .6 1.5 1.5 1.5 .4 1.5 4 1.5-2 1.6-.7 1.4 .7 1 7.5 1.5 1.4 .5 1.6 1.7 3 .4 6.7-2.1-.5-1.5 4.3-2.1 1.5 0 7.5 2.9 2.5-.8-4-1.3-1.2-1.7 4.7-1.5 .3-4.5 5.4-3 .1-1.5-6.3-3.3-6.5-1.2 .8-1.5-6.3-.2M481.6 36.7l1.4 0-1.4 0M488.2 36.9l-4.5-.4-.6-1.3-5.7 0 2.3 1.5 .9 1.5 4.6 1.5-2.6 3 5.6 3.5M221.2 42.7l-.6 0 4.9 0-4.3 0M41.2 45.6l4.5 .3 4.1 2.8 6.4 0 0 3 1.5 1.8 1.5 .6 10.5-.4 1.2-.5 .5-1.5 1.3-.4 3.4 .4 2 1.5 2.1 .3 6.9-.3 5.1-3 3 2.8 1.5 .2 10.5-2.6 1.7-1.9-.3-1.5 12.1-4.2 12-2.6 13.5-1.2 1.9-1 2.6-3.4 5.4-1.1-2.5-1.5 1.6-.8 13.5 1.6 3.6-.8 1.2-1.5-1.5-1.5-1.8-.8-6-.3-2-.4-1-.8-7.5-1.2-9-.5-7.5-1.8-6 0-2.8-1.7 2.1-1.5-2.3-.7-6 .1-1.5 .6 1.3 1.5-4.3 1.8-1.5 .1-3-1.7-7.5 0-10.5-3.4-1.7 .2-1.9 1.5 1.8 1.5-.9 1.5-3.3-.1-6-1.2-1.5 .3-3 1.8-.8 2.2-3.9 1.5-.8 1.5-8.2 3-1.3 1.6-1.5 .6-9 .5-3 2.5-3 1.1-3 .1-3-.8M437.2 74.3l-1.1 1.4 1.1 1 3 .1 1.6-1.1-3.1-1.4-1.5 0M270.7 81.2l-1.1 .5 2.6 .7 2-.7-3.5-.5M354.7 81.5l-9.8 3.2 3.8 .9 6-.3 2.4-.6 .3-1.5-1.2-1.3-1.5-.4M488.2 82l-6-.4-13.5-2.5-6-.3-6-1.3-6-2.4-3 .5-4.5 1.7-7.5 .6-2.3 .8-1.3 1.5-11.4-.2-3 2.4-1.8 .8 5.1 1.5-2.8 1.5 1 1.7 4.9 2.8-.8 1.5 6.7 1.5 .9 1.5-.6 3 3.9 1.9 1.2 1.1 .4 1.5 4.4 1.5-1.5 .9-.6 2.1 1.8 1.5 3.3 .8 4.5 2.4 3 .2 4.5-1.1 .2 .7 7.3 1.3 4.5 2 4.5-.4 1.3 1.6-1.3 1.3-1.6 .2 12.1 .8 .8 .7-1.6 1.5 3.8 1.3 3-.1M291.2 84.7l2.6 0-.6 .5-2-.5M41.2 87.6l.9-1.4 2.7-1.5-.6-1.5-3-1.3M291.7 87.7l1.5-1.1 1.5-.1 5.2 1.2-.7 .6-4.5 .5-1.5 0-1.5-1.1M54.7 89.1l-.9 .1 2.4 1.1 2.2-1.1-3.7-.1M230.2 90.5l-3.5 1.7 .5 .7 3 .5 3-1.2-.3-1.5-2.7-.2M243.7 91.9l-.6 .3 .6 .8 1.5 .5 1.5-.1 1.1-1.2-1.1-.5-3 .2M317.2 91.8l-.5 .4 1.2 0-.7-.4M473.2 99.7l2.5 0-1-.4-1.5 .4M263.9 102.7l3.7 0-.6 1.5-.8 .1-1.7-.1-.6-1.5M458.3 110.2l5.9-.9 1.5 0 1.3 .9-2.8 .8-5.9-.8M488.2 109.5l-3 .2-1.5-.4-4.2-2.1-.5-1.5-2.8-.9-8.4-.6-5.1 1.4-1.5-2.9-1.5-.7-7.5-2.1-10.5-.2-.1-1.5 1-1.5-.3-1.5 .9-1.5 6-1.9 18 .5 9 1.4 2.8-1.5 3.2-3 6-1.8M407.2 118.9l-.8 .3 .8 1 4.5 1.2 1.5 1 1.5 .4 2.5-.6-1-3-6-.8-3 .5M464.2 120.6l-.5 .1 2.1 0-1.6-.1M41.2 121.5l7.5-2.6 12-.4 6-1.9 4.5 .2 6-1 5.4 .4 11.1 2 2.3 1 .9 1.5-.8 1.5 1.8 1.5 6.2 1.5 1.6 1.1 3 .3 3-.4 6-2.1 4.5 .3 6-.6 9 2.3 3-.9 2.2 0 2.3 .8 9-1.5 6 .4 7.5-.8 3 .1 3 1.2 3 .1 6-.9 4.5 .3 9-.6 15-1.9 9 .1 6-1.7 7.5 .7 4.5-1.1 6 .5 1.8-.2 .6-1.5 13.3-6 1.9-1.5 .4-3.6 1.5-.7 4.5 .6 1.9-.8 .3-1.5 .8-.6 3-.5 7.5 .8 7.5 3.2 3-.4 3-1.8 6 1 6 .2 6 1.6 4.5-.9 6 1.6 13.5 1.3 4.4 2 .2 1.5 2.9 1.2 9 .7 6-.8 5.9 1.9 16.6 2.4 4.5-.8 7.5 .6 2.8-.7-.4-1.5 .6-.2 9-.5 2.3-.8-.8-1.5-1.9-1.5-4.5-1.5 4.4-4.5-2.5-2.1-4.5-.9 .7-1.5-.2-1.5-.5-.2-10.5-.5-7.5 3.1-4.5 .7-6-1.6-2.5-1.5-.9-1.5-2.6-.9-6 0-6 1.3-13.5-3.2-4.5-4.2-3-1.2-3-.1-7.5 1.6-4.5 1.8-4.5-.7-.9-.4-3.2-4.5 4.1-.5 2.8 .5 1.7 1.1 6-2.6 .8-1.5-.7-1.5 1-3-1.9-4.5 .8-1.5-6.5-1.5-2.5-1.6-4.5-.4-9 1.6-6-2-4.5 1.3-3 1.8-6 1.1-1.1 1.2 3.2 1.5-.2 1.5-1.4 1.5 .7 1.5-1.2 .7-10.5 4-6 .4-2.9 .9 .5 1.5 .9 .4 6.7 1.1-3.7 1.1-10.5 1.4-9-.8-1.9 1.3-4.1 .8-3-.4-3-1.3-3-.3-3 .2-4.5 2.1-3 .5-19.5-.7-6-1.4-9 1.6-9-.2-7.5 .9-25.5-.4-4.5 .4-10.5-1-6 .4-13.5-2.2-1.7-.5-1.3-1.2-6-1.6 0-1.7-1.9-1.5-1.7-3-.9-.8-3-.5-6 1.1-3 1.3-4.6 .4-1.2 3-8.6 4.5 1.3 1.5-1.9 .7-3 .3-3-.5-4.5-3.3-1.5-.4-6 .9-.9 .8 1.1 1.5-4.7 1.5-2.3 1.5 1.9 3 5.3 1.5-.8 1.5 1.3 1.5-4.5 1.5 .6 1.4 3.1 .1-9.1 .6M246.7 121.8l-1.9 1.9-.4 1.5 5 0 1-1.5-.7-1-1.5-1.1-1.5 .2M450.7 123.4l-1.3 .3 3 0-1.7-.3M50.2 124.1l-.7 1.1 5.2 1 .2-1-1.7-1.1-3 0M56.2 126.3l-1.2 .4 4.1 0-2.9-.4M60.7 127.5l-.3 .7 1.8 1.4 1.5 .1 2.6-1.5-1.1-1.1-4.5 .4M110.2 127l-.7 1.2 2.9 1.5-.8 1.5 2.1 1.5 4 .8 1.6-.8-.7-1.5-3.5-1.5 .3-1.5-5.2-1.2M147.7 128l-1.5 .2 1.9 1.5 8.6 .8 3-.4 6.1-1.9-6.1-1.3-12 1.1M473.2 128l-1.1 .2 8.6 1 4.3-1-2.8-1-3-.4-6 1.2M254.2 132.6l-1.2 .1 1.6 0-.4-.1M50.2 134l1.5 .5 1.9-.3-.4-.7-1.5-.2-1.5 .7M167.2 135.7l3 .8 2-.8-2-.5-3 .5M90.7 137l-.5 .2 0 1.5 3.5 .4 6-.8 1.5-1.1-3-1-7.5 .8M77.2 138.3l-.9 .4 .9 1.2 1.5 .2 5.3-1.4-3.8-.9-3 .5M168.7 138l-.6 .7 .4 1.5 1.7 .4 3.2-.4 .2-1.5-.4-.2-3-.8-1.5 .3M198.7 138.7l1.4 0-1.4 0M174.7 143.2l5.3 0-5.3 0M254.2 144.7l1.6 0-1.6 0M254.2 147.5l-.6 .2 3.1 0-2.5-.2M296.2 147.7l3.4 0-3.4 0M166.4 150.7l-9.2 0M94.4 5.2l5.3 2 9 1.2 5.2-.2 3.5-1.5-7.5-1.5M176.2 6.6l-7.7 1.6 6.2 1.6 4.2-.1-.6-1.5 1.4-1.5-3.5-.1M281.1 5.2l10.6 3.2 13.5 1.3 12-1.3 9 .5 3 .3 6 2.4 1.5 .1 7.5-1.6 10.4-.4-6-1.5 3.1-1.7 6-.6 1.8-.7M337.7 5.2l2 .4 3 1.9 3.8 .7-3.8 .7-15-1.1-10.5 .3-19.5-.6-10.2-2.3M372.6 5.2l-2.9 .9-9.4 .6 7.9 .5 4.5 1.5 9 .4 10.5 1.4 1.5 0 .6-.8-.3-1.5 .5-1.5 2.2-.5 3 .6 4.3 2.9-8.8 1.2-3 1.1-8.5 .7 1.7 1.5 2.3 .2 6-1 3-1.3 5.7 .6-1.1 1.5 3.6 1.5-2.1 1.5-.5 1.5-1.1 .8-16.5 2-4.5-.3-6.2 .5-2.5 1.5 2 1.5 0 1.5-2.5 1.5 .7 1.5 1 .4 3-.2 3-1.2 4.5 1.8 7.5 1.6 8.1 3.6-3 1.5-.5 1.5 9.3 1.5 2.6 1.5-1.9 1.5 0 3 1.5 3 2.6 1.5 .9 1.5-1.6 3 .3 1.5 1.2 .5 6 .1 2.8 .9 1.1 1.5-2.4 .3-4.5-1.1-3 .6-1.3 1.7 .1 1.5 2.7 2.3 3 .6 6-2.4 7.5-.2 6-1.7-1.1-1.6 .9-1.5 4.7-1.1 5 1.1-3.1 1.5 1.1 1.1 4.5 .3 1.5-.6 2.1-2.3 2.4-.4 1.3-1.1 .6-1.5-.4-.9-1.5-.6 2.4-4.5-.1-1.5 .7-1.5 3-1.6 1.5 .1 3 1.9 3 0 .6-.4-.5-1.5 6.7-1.5 .7-1.6 4.5 .3 8.1 7.3 1.4 1.5-.9 1.5 1.9 1.1M378.1 6.7l3.6-.5 2 .5-5.6 0M394 5.2l-1.8 .5-6.4-.5M446.3 5.2l1.9 1.5-.1 1.5 1.9 1.5 2.2 .3 5.6-.3-4.1-1.5 9-1.8 9 1.5 6 .2 6-.3 4.2-1.1-4.2-.8-13.5-.1-2.5-.6M66.7 8.1l1.5 .5 12 .5 6.9-.9-8.4-.5-12 .4M192.7 8l-.8 .2 7.5 0-6.7-.2M488.2 9.4l-2.8 .3 2.8 .4M41.2 10.1l13.5-.4-13.5-.4M185.2 14.1l-.6 .1 4 0-3.4-.1M311.2 15.7l-1 0 2.8 0-1.8 0M360.7 15.7l3 .7 6.1-.7-6.1-.5-3 .5M59.2 17.2l1.8 0-1.8 0M97.3 17.2l3.9-.8 2.9 .8-2.9 .6-3.9-.6M226.4 17.2l.8-1 3 1-3.8 0M143.2 18.4l-.7 .3 .7 .5 1.9-.5-1.9-.3M444.7 18.6l1.4 .1-1.4-.1M314.2 20.1l-.8 .1 2.8 0-2-.1M398.8 21.7l.9-.9 1.5 0 4.5 .9 6-.5 1.5 .5-1 1.5-2 0-3-1.4-1.5-.1-1.5 1.5-3 .5-2.9-.5 .5-1.5M335.2 23.1l-3.1 3.1-6.3 1.5-2.6 1.7-4.7-.2 .9 1.5-1 1.5-2.7 .8-3 0-12-1.9-7.5 1.6-4.5-1.1-3.3 2.1-10.3 3-4.4 1.8-7.5 1.1-7.5-.4-1.2 .5-1.1 1.5-2.2 .4-3-1-3-2.1-7.5 1.3-4.5-.3-13.5 .6-9-.6-9 2.7-7.2 .5-.8 1.5 .5 1.5-3 .4-6-.6-1.5 .7-.6 1 3.9 1.5 .4 1.5 .8 .3 9-.1 4.5-.9 6 1.5 3-.6 1.6-1.7-1.6-1-6 .1-1.5-.5-1.3-1.6 2.8-.2 18 3.2 1.5 .1 4.5-1.5 6 .9 4.5 1.6 6 .2 1.5-.2 3-1.8 3.3-.8 4.2-2.1 9-.7 3 1.1 3.9 3.2 5.1 1.3 4.5 0 4.5-.8 1-.5-.7-1.5 1.2-.4 4.5-.2 3 .5 2.4 1.6 .6 1.5 3 .9 6 .6 3 1.5 1 1.5 9.5 .7 6 1.9 3.4-2.6 4.1-1.8 .9-1.2-.4-1.5 1.1-3 1.4-.7 16.5-.4 6-1.7 2.4-1.7-.1-1.5-2.8-3-4.2-3 1.5-1.5-1.9-1.5 .6-1 3-2-3.9-1.5-1.3-1.5 7.2-3-2-.7-3-.1-9 .7-6-.5-6 .5M462.6 30.7l4.6-.9 4.6 .9-1.6 1.1-1.5 0-6.1-1.1M416.5 35.2l3.6 0 2.7 1.5-5.4 0-.9-1.5M488.2 34.1l-4.5-.5-4.6-1.4 2.7-4.5-1.6-3 0-1.5 2.9-1.5-14.4-2-2.9-1 2.6-1.5 .8-1.5-8-1.9-12-1.3-3.2 .2-1.7 1.5-5.2 1.5 7.1 1.4 6-1.4 4.6 1.5 .4 3-2.2 1.5 5.4 3 .8 1.5-.2 1.5-1.3 1.5-9 1.4 2.7 1.6-1.4 1.5-5.8 .6-10.5-.3-7.5 1.3-10.1-3.1-.4-1.5 1.7-1.5-.6-1.5 .5-1.5 3.3-1.5-3.3-1.5 10.3-1.5 2.3-1.5 1.2-3-.4-.5-3-.3-6 1.5-1.5-.2-1.5-1.9-.2-1.6-12.7-1.5 10-1.5-3.1-.9-7.5-.6 9-.3 4.1-1.2-5-1.5 .2-1.5M182.2 51.1l-1.2 .6 4.9 0-.7-.5-3-.1M41.2 52.6l4.5 1.2 4.5-.8 2.1 .2 1.8 1.5-.6 1.5 .2 1.5 2.5 .5 6-1.5 7.5-.7 6 .2 4.5-1.1 4.5-.3 6 2.4 7.5-1.7 9 .4 4.6-2.7-1.4-1.5 3.7-4.5 8.1-3.3 7.5-.8 4.5-2 13.5-1 6-3.3 4.5-1.7 6 .3 4.5-.5 14.2-4.2 1.8-1.5 .5-1.6 9-.7 4.5 1 7.5 .4 2.4-.6 3.4-3 1.7-.8 1.5 .1 .4 .7-.7 1.5 4.8 .4 1.7-.4 5.8-4 6-1 9 .8 9.2-1.8 2.6-1.5 .3-1.5-2.1-1.5 2-.9 8.1 .9 3 1.5 3.9 .7 1.5 .1 1.5-.9 1.5 0 .4 .1-.4 .7-1.1 .8 5.6 1.7 7.5-.2 7.5 .6 6-.7 3 .2 7.2-1.6-.2-1.5-1-1.4-7.5 1.8-5.7-.4 2.7-.4 1.9-1.1-3.1-1.5 6-1.5-1.8-1.8-22.5-1.7-9.9 .5 .9 1.4 9.3 .1-6.3 1-1.5-.8-6-.5-1.5-1.2-12-.6-12 2.7-15.6 .9 4.5 1.5-.9 1.4-6-.8-6 .3-3 1-3 3.1-6.7 1-2.3 1-1.5 .2-3-.7-1-.5 .5-1.5-2.5-.3-10.5 3-7 .3-5 1.1-9-.3-1.5-1.2-3-1.1-3 2.3-9 .6-5.5-1.4 1.5-1.5-5-.9-4.5-2.2-19.5-.6-9-1.4-10.5 .5-10.5-2.4-3-.1-5.8 1.1-1.7 1.3-.9 1.7 2.1 3-.6 4.5-7.4 4.5-.7 1.5-4.5 1.9-7 1.1-3.5 2.1-3 .9-4.5-2.5M488.2 80.4l-3-.1-4.5-1.1-7-.5-5-1.2-8-.3-4-1.2-3-2.4-8-.9 2-.2 3-2.2 3-1.3 .6-.8-.1-1.5-.5-1.8-1.5-1.2-7.5 1-1.6 .5-.5 1.5 .2 1.5-4.5 1.5-2.1 1.5-3.7 1.5-1.6 1.5 .6 1.5-.3 .2-6 1.1-8.6 .2-1.3 3-8.2 3 2.9 1.5-1.3 .9-4.1 .6 .2 1.5 1.7 1.5-2.3 1.5-.1 1.5 3 1.5 .3 1.5 3.3 1.5 .2 1.5-8.2 1.4-6-1.4-9 .4-3.7 1.1-5.3 2.5-3 .5-3-.7-5.2-3.8-1.8-3 .7-1.5-1.2-.5-6-.6-6 1.8-13.5 .1-2.1-.8-2.1-4.5 4.2-1.9 9.4 .4 .7 1.5-6.4 1.5 .8 .9 1.5 .2 6-.4 2-.7 0-1.5 2.5-1 10.5-.3 3-.6 1.2-1.1-1.1-1.5-.2-1.5 1.6-1.6-3-1-4.5 .4-1.4-.8-.6-1.5-8.5-1.2-9 1.3-6 .2-3-1.8 1-1.5 2.8-1.5-1.9-1.5-16.9-2.9-19.5 1.9-6-1.5-3 0-13.5 3.2-12 2.3-13.5-.9-1.8 .9 .5 1.5 5.5 1.5-7.2 1.4 0 1.6 1.5 .8 6-.8 3 .4 2.2 1.1 .9 1.5-5.4 1.5-5.2 2.5-24 .3-1.5 .4-4.5 3.9-3.9 .4-3.6 1.1-10.5-.3-12-1.2-10.5 1.8-6-.5-7.5 1.2-18 0-18-.4-20.5-1.7-11-6.6-2.2-2.4-.3-1.5 2.3-1.5 .4-1.5-2.8-1.5 5.6-2.3 5.2-5.2-2-3 .4-3-.6-.9-1.5-.5-3 .4-1.7 1-1.2 1.5 1.3 1.5-1.7 3-1.2 1.1-7.5 2.3-1 1.1 .8 1.5-3.5 1.5-1.3 3-9.1 1.5-.4 1.5-3.2 1.5-.1 1.5 .8 1.5-4 1.6-3 .4-3-.3-.5-.2 .2-1.5-1.1-1.5-7.6-.4-3.7-1.1-6.8-5.8-3-.5M254.2 92.2l1.5-.4 .9 .4-2.4 0M369.7 92.1l1.6 .1-1.6-.1M446.8 93.7l5.4-.6 7.5 1.5 7.5 .3 1.4 .3 .4 1.5 1.4 1.5-3.2 2.1-1.5 .3-5.9-.9-1.5-1.5-.1-.9-6 1.2-4.5-.1-1.5-.8-1.2-2.4 1.8-1.5M488.2 92.2l-.8 0 .8-.6M424.3 95.2l1 0-1 0M480.6 98.2l1.6-.8 3-.4 1.6 1.2-4.6 1.3-1.6-1.3M480.6 101.2l.1 1.8-1.5 .4-6.3-.7 7.7-1.5M276.9 108.7l2.9 0-1.6 .9-1.3-.9M457.9 114.7l1.9 0 3.4 1.5-3.5 1.6-3 0 1.2-3.1M65.1 120.7l3.1-.7 7.5 .1 1.9 .6-2.5 1.5-.1 1.5-6.8 .4-3.9-.4 0-1.5 .8-1.5M91.3 125.2l.9-.9 1.5-.1 3.3 1 .4 1.5-2.2 1.2-1.5-.6-2.4-2.1M120.6 126.7l4.6-.9 3.7 .9-.7 .9-1.5 .2-4.5-.4-1.6-.7M224.2 126.3l-.8 .4 3.4 0-1.1-.7-1.5 .3M48.7 128.2l2.1 0-2.1 0M246.1 128.2l3 0-3 0M69.9 129.7l2.8-.9 2.8 .9-1.3 1.5-3-.6-1.3-.9M168.1 129.7l2.1-.4 1.3 .4 1.3 1.5-4.1 1.4-1.5-1.2 .9-1.7M179.9 129.7l2.4 0-2.4 0M41.2 130l6 1.2-.6 1.5-.9 .2-4.5-.1M137.6 132.7l3.1 0-3.1 0M151.3 132.7l3.3 0-2.4 .8-.9-.8M161.8 134.2l2.4 0-2.4 0M180.4 134.2l5.5 0-2.2 .6-3.3-.6M488.2 133.4l-1.5 .8 1.5 .3M41.2 134.8l6.7 .9 3.8 1.6 3 .2 9-1.7 .1-3.1 4.4-.9 6 0 0 2.8-1.7 1.1-6.1 1.5 1.5 1.5-.6 1.5 9.9 2 6 2.3 1.5 0 2.8-1.3-3.8-1.5 1.1-1.5 10.4 .6 16.8-.6-6.5-1.5-.8-1.5 .1-1.5 2.4-.9 4.5-.2 5.6 2.6-2.3 1.5 .1 1.5 2.6 .5 2.1-.5-.6-1.5 8.9-1.5-.8-1.5 14.4-1.2 10.2 1.2-4.2 .3-2.2 1.2 3 1.5 1 1.5 2.7 .8 4.5 .3 1.5-.5 .7-.6-.7-1.5 1.5-1.2 4.5 .6 .6 .6 .1 1.5 3 1.5-8.2 1.6-2.7 1.4 3.2 1.5 1 1.1 7.5-.5 1.3-.6 1.4-1.5 1.8-.4 10.5-.3 3-3.1 4.5-.4 4.5 .2 4.1 1-3.6 1.5 1 .2 10.5 1.3 12 .4 1.3-.4-2.8-1.2-4.5-.1-4.5-2.3-4.5-.8 4.5-.6 1.6-1-3.5-1.5-1.1-1.1-6-.2-.4-.2 .4-1 4.5-.5 3-.7 1.5-1.1-1.5-1.2-4.5 .9-1.5-.2-3.8-2.2 5.3-1.5 1.7-1.5 .2-1.5 5.6-1.4 15 .8 2-.9 2.5-.2 4.4 1.7-.7 3 .8 .9 4.5 .8 2.2 1.3 8.5 3 .9 1.5 1.9 .5 4.5 0 4.2-2-1.5-1.5 .1-1.5-.7-1.5 .6-1.5 1.8-.4 3-.1 4.5 .9 10.5 .3 6 1.5 4.5-.1 1.7-.6 1.3-2 4.4-1-.3-1.5-5-3 4-1.5-1.7-3-2.9-.3-6 .8-9 .3-4.5 2-1.6 1.7-4.4 .6-6-.3-1.9-1.8 1.8-1.5-4.4-.8-1.1-.7 4.5-1.5 5.6-4 1.5-.3 4.5 1.2 4.5 0 3-.8 1.5-1.5 16.5-1.7 9 .7 7.5 1.4 6-.5 12.8 1 5.7 1.5 .5 3 3.5 1.3 7.5 .2 3 .7 6-.4 4.9 1.2-1.7 1.5-.2 1.5 1.5 .8 6 .1 4.5-1.5 3 .1 1.2 .5 .1 1.5-2.9 1.5 .1 .6 1.5 .6 3.6-2.7 4.8-1.5 3.3 0 3.3 .9 6-1.2 6 1.3 6.2 .5 5.8 2.1 4.5 .2 1.8-.8-1.4-1.5 1.2-1.5-.8-3-.8-1-6-1.7-1.7-1.8-7.1-3 2.7-3 .6-1.5 .2-1.5-1.9-1.5 3.5-3 6.7-1.8 3 .3 3 1.1 3.2-1.1 2.8-.1 3 1.2 .7 .4-1.6 1.5 3.9 2.2 1.3 2.3 .2 1.5 7.5 2.8 5.6 3.2-4.1 3.5-1.5 .2-6-1.3-4.9 .6 .8 1.5 2.3 1.5-3.1 3-.1 1.5 2.1 1.5 .9 1.5 8-.4 2.1 .4 1.3 1.5 4.1 .8 12-2.3 1.5 .1 7 2.9 .3 1.5 2.7 1.5 .5 1 3 .9 1.5 0 4.1-1.9-.3-1.5-1.7-1.5 6.9-1.4M266.2 135.7l-4.5 .5-1.5 1 6 3-4.5 2.3-7.5 .1-.3 .6-4.3 1.5 4.7 1.5-2.9 1.5 2.8 .7 5.2-.7-2.4-1.5 3.2-2.1 3-.4 4.5 1 1.5-.1 2.7-1.4 .1-1.5-3.5-1.5 1.7-1.5 4.2-1.5 0-1.5-2.2-1.2-1.5-.1-4.5 1.3M281.2 135.5l.3 1.7-2.7 1.5 4.8 3-2.5 1.5 3.1 1.5 12-.9 2.1-.6-.2-1.5 5.9-1.5-4.5-1.5-1.8-2.5-1.5-.8-3-.2-4.5 .7-6-.9-1.5 .5M218.2 137.1l-.6 .1 2.1 1.3 3 .3 1.6-.1 2.2-1.5-5.3-.5-3 .4M132.7 137.5l-1.2 1.2 4.2 0-1.5-1.1-1.5-.1M339.7 138.6l-3 .9-4.5-.3-5.2 1 9.7 .4 5.5 1.1-2.5 1.5 7.5 .4 3.3-.4-1.3-3-6-1.5-3.5-.1M359.2 138.4l-.4 .3 2.7 0-.8-.6-1.5 .3M320.2 140.1l3 .1-3-.1M422.2 139.6l-1.5 .6 3 .5 1.7-.5-1.7-.7-1.5 .1M51.7 142.2l-.2 1 1.7 .6 12.2-.6-13.7-1M98.2 142.9l-1.5 .3 1.5 1.5 1.6 0 1.1-1.5-2.7-.3M332.2 143.2l4.7 0-4.7 0M425.2 144.6l3.4 .1-3.4-.1M464.2 144.6l10.3 .1-10.3-.1M176.2 146.2l-4 1.5 8.5 1.6 11.9-.1-10.4-.3-1-1.2 1-.7 3.9-.8-2.4-1-7.5 1M84.7 147.6l-.7 .1 3.9 0-3.2-.1M131.2 147.6l-1.4 .1 11.3 0-9.9-.1M291.7 147.6l-.7 .1 12.7 .8 3.6-.8-9.6-.5-6 .4M462.7 147.6l3 .8 2.1-.7-2.1-.4-3 .3M169.8 150.7l-2.6-.6-7.5-.2-4.5 .8M273 150.7l-4.6 0M43.9 5.2l-1.2 .3-1.5 .1M91.9 5.2l3.1 1.5 .2 1.2 6 .6 4.5 2.2 1-1 2-.5 8.9-1 3.1-2.9 11-.1M152.2 6.7l1.9 0-1.9 0M170.2 6.7l-4.6 1.5 7.6 2.1 4.5 .2 5.1-.8-2.9-1.5 4.3-1.5-5-.6-9 .6M244.5 5.2l-9.4 1.5 10.1 .4 8.2-1.9M278.8 5.2l6.8 3-20.9 1.1-13.5-.6-15 2.7-10.5 .7-7.5-.2-4.5 .8-6-.2-4.5 1.4-19.5-.5-6.6 .8 12 1.5-.7 1.5-10.8 3-7.4 1-7.5-2-4.1-2-1.5-1.5-1.9-.4-3 .1-.5 .3 .5 1.5-3 .4-4.5-1.5-7.5 .4-28.5-2.2-.4-.1 1.7-1.5-4.3-1.2-4.5 1.7-9 1-6-1-7.5-2.6-7.5 .3-1.8 .3 5.5 1.5-6.5 1.5-.2 1.5-1.5 .6-3.5-.6-.6-1.5-1.9-.1-6 2.5-13.5 .1M333.5 5.2l5.4 1.5-3.7 1-10.5-.4-9 .5-16.5-.9-7-1.7M369.7 5.2l-3 .4-3.6-.4M442.4 5.2l3.2 1.5-1.1 1.5 4.7 2.2 12-.5 .5-.2-4.4-1.5 6.9-.8 12 2.2 1.2 1.6 .2 1.5 10.6 .6M488.2 5.6l-18-.4M41.2 7.3l9.9-.6-3.3-1.5M189.7 8.1l1.5 .7 3 .2 6-.1 3-.7-9-.8-4.5 .7M352.8 8.2l1.9-1.1 1.5-.1 9 .6 6 1.7 10.5 .3 8.9 1.6-13.4 1.4-7.5-.7-4.5-1-6 .2-1.2 .1 4.2 .5 2.4 1-2.4 .8-7.5 .6-6-.7-.7-.7-4.4-1.5 5.1-.4 7.5 .2 1.4-1.3-4.8-1.5M396.6 8.2l2.8 0-1.2 .7-1.6-.7M212.2 9.5l-.8 .2 5.3 1 3.1-1-3.1-.8-4.5 .6M292 9.7l5.5 0-5.5 0M312.7 9.7l6-.5 8.3 .5 3.7 1.2 1.5 1.6 1.5 .5 7.5 1.3 13.5 .4 3.3 2.5-.7 1.5-2.6 1.4-7.5 1.4-15 .5-5.3 1.2-2.7 1.5-5.5 1.8-9-1-1.8 .7 .9 1.5-.6 .1-9-1.9-12 .2-1.8 1.6 .6 3-.8 1.5-1 .5-16.5 4.5-6-.1-6-1.7-4.5 .8-9-.4-16.5 1.3-6 1.2-7.5-.2-9 1.6-13.5 1.4-1.6 1.6-5.9 1.2-4.2 1.8-1.3 1.5 1.4 1.5-.6 3 4.7 1.1 6 .2 4.5-.9 7.5 .7 10.5-.6 1.8-.5 2.7-1.7 1.5-.2 6 1.5 7.5-1.9 3 .4 4.5 1.6 3 .3 9-.9 10.5-3.9 6-1.2 2.8 1.5 .6 1.5 7.1 2.2 13.5 .2 3-1.2 1.5 .1 4.5 2.3 5.3 .9 3.4 3 3.2 1.5 1.6 1.8 6.9 1.2 0 1.5 .6 .3 1.5 .7 3 .1 8.3-1.1 .6-1.5-.9-1.5 5.5-6 .6-1.5-.2-1.5 2.6-1.9 13.5-1.3 6.9-1.3 6.1-1.5 1.1-1.5 3.7-1.5-8.8-2.7-3.4-1.8-1.5-1.5 6.4-2.2 10.5 1.2 3 1.9 4.5 1 3.6 2.6 2.4 .8 10.5 .7-.1 1.5 .8 1.5-.6 1.5 2.8 1.5 1.6 2.4 3.1 2.1-.1 1.5-1.8 4.5 .6 4.5 6.1 6 8.6 2.1 3.7-.6-3.1-1.5 1.2-3 8.7-.5 4.2 .5-3.9 3 1.3 1.5-6.1 .4-1.5 2.8-9 1.3-3 1.5-2.8 3-3.2 1.4-1.5 1.7-9.2 1.4 .3 3 1.4 1.5 2.8 1.5-.3 1.5-1 .6-4.1 .9 .2 1.5 1.9 1.5-2.5 .3-6-.7-5.7 3.4-4.8 .9-4.5-.1-3-1.1-1.2-1.2-.1-1.5 3.4-1.5 2.4-2.3 6-2.2-.3-1.5-3.3-1.5 1-1.5 2.9-1.5-2.7-1.5 .2-3-1.7-1.5-11.1 .1-16.5-1.9-13.5-5.9-6-1.1-14.4-.2-3.6-1.3-1.5 .1-6 2.8-4.5 .3-6-.9-4.5 .2-4.5 .9-6 .3-13.5 3.6-3.4 0-5.9-1.5 .3-1.6-9.4 .1 .8 1.5-3.6 1.5 2 1.5-1.6 1.5-.3 4.5 1.1 3-1 1-6 1.6-12 .8-2.7 1.1-1.8 1.9-3 .9-7.5-.1-7.5 1.1-15-1.2-9 1.8-15-.1-4.5 1-7.5-.4-10.5 .4-18-.6-7.5-.8-6-2-2.7-1.9-.5-1.5-4.1-1.5-1.2-1.5 2.1-3 2.3-1.5 1.3-6 1.9-1.5 .6-1.5-1.3-4.5 1.1-4.5-3.6-3 3.8-1.5 3.2-4.5-.6-1.5 4.2-3 .8-1.5 2-1.5 2.7-.7 7.5-.4 3-1.9 6-1.3 6 .2 4.5-.9 4.5 0 2-1 .3-1.5 14.2-2.2 4.5-1.4 4.5-.2 6-2.2 6-.9 3-1.2 3.8 .6-2 1.5 7.2 2.2 1.2-.7 .4-1.5-3.2-1.5 1.6-.6 9-2.5 6 .3 4.5-.8 12-3.7 6 .3 7.5-1.5 9 1.7 3-.6 1.5-1.1 3-.3 4.5 2.5 3 .3 12-2.7 12 .6 6 1 10.5-1.4 6 0 1.7-.5-.9-1.5-4.2-3 2.6-1.5-2.2-1.4-3-.6-6 0-2.4-1-.1-1.5 7-1.5M488.2 8.7l-3.5-.5 3.5-.7M41.2 10.8l7.5-.6 9 .7 9-1.3 15 0 13.4-1.4-23.9-.9-9-1.3-5.5 .7 5.5 .8 1.4 .7-1.4 1.2-21-.6M488.2 11.5l-1.1-.3 1.1-.2M41.2 13.3l4.4-.6-4.4-.8M368.2 14.2l9-1.2 3 1.9 4.5 1.7 5.3 .6-.3 1.5-3.5 .5-12 0-1.3-.5 2.8-.7 2-2.3-2-.7-7.5-.8M196.6 15.7l8.1-.5 2.8 2-2.8 .8-3-.1-3-.7-2.1-1.5M488.2 16.9l-1.8 .3-.7 1.5-2 1.5-2.1 0-1.3-1.5 3.5-1.5-2.7-1.5-12.2-1.5 .1-1.5 3.3-1.5-3.6-.6-9 1.7-13.5-.9-12 2.1-9 .4-6-.6-3.1-.6 5.7-1.5-3.4-1.5 4.1-1.5-5-1.5 .2-1.5M364.5 18.7l5.8 0-2.1 .6-3.7-.6M52 20.2l4.9 0-4.9 0M260.6 20.2l1.1-.8 3.7 .8-.7 .8-1.5 .2-2.6-1M436.3 20.2l2.4-.4 8.2 1.9 2.3 1.2 4.5 .8 2.2 1-8.2 3.7-1 .8-1.3 3-2.2 .8-3 .1-6-1.1-4.5 1.5-7.2-1.3-.3-1.5 5.7-1.5-1.4-1.5 3.8-4.5 6-3M41.2 21.4l9-.4 3 1.7 6 .2 3 .7 1.5 1.1-.7 3-8.3 3.7-7.5 2-6-.8M362.2 27.7l2.7 0-1.2 .5-1.5-.5M292.5 30.7l2.3 0-2.3 0M488.2 32.7l-3.4-.5-1.7-1.5 2.2-4.5-2.4-1.5 1.2-1.5 4.1-1.3M474.3 44.2l1.3 0-1.3 0M41.2 59.3l6-.9 9 1.8 6-1.4 7.5 .7 12 0 3 .3 4.5 2.4 1.5 .2 4.5 .1 3-.8 3.1 .5-1.6 .3-1.1 1.2-.7 4.5-1.2 1.3-1.5 1.2-5.4 .5-.3 1.5-2.1 1.5-1.5 3-6.8 1.5 .6 1.5-2.7 1.5-11.3 4.5-8 0-3-2.1-5.7-2.4-3.3-2.3-4.5-.8M488.2 79l-3-.5-4.5-2.2-3-.7-17 .1-1.4-1.5 .2-1.5-2.7-1.5-1.1-1.5 .7-1.5-2-7.5 2.5-1.5 0-3 2-3-.4-1.5 14.7-3.5 2.3-1 .7-1.1 1.5 .1 2.4 2.5 2.5 1.5 3.5 4.5-1 1.5 1.6 2.3 1.5 1M448.3 95.2l2.4-.7 3.7 .7-3.7 1.4-2.4-1.4M416.6 104.2l4.1-.3 10.5 1.5 1.9 1.8-.1 1.5 1.5 1.5-3.1 1.5-.1 1.5-1.6 .5-7.5-.7-9 0-5.3-1.3 2.3-1.9 .6-2.6 4.1-1.5 1.7-1.5M437.1 113.2l3.1-.5 3.2 .5-.7 1.5-2.5 .6-2.8-.6-.3-1.5M423.6 119.2l3.1-.4 .9 .4 .1 1.5-1 .9-1.5 0-1.5-.9-.1-1.5M300.6 122.2l2.2 0-.6 .5-1.6-.5M336.7 121.7l-1.3 .5 4.2 0-2.9-.5M209.1 129.7l1.6-.8 1.4 .8-3 0M347.2 129.7l-.8 0 .8 0M362.2 129.4l-.5 .3 5 0-1.5-.6-3 .3M222.7 131.2l4.5-.6 2.7 .6-2.7 1.5-3 .5-2.5-.5 1-1.5M270.1 131.2l3.6-.5 2.7 .5-2.7 .4-3.6-.4M457 131.2l5.7-.5 2.5 .5 2.3 1.5-.3 1.4-9 .2-1.4-1.6 .2-1.5M237.9 134.2l4.3-.7 2.4 .7-2 1.5 1.1 1.3 3 .9 .4 .8-3.4 1.5-7.5-.7-.9-.8 3-3-.4-1.5M399.7 133.9l-1.2 .3 1.2 1.1 1.5-.3 .2-.8-1.7-.3M446.7 134.2l1-.6 2.3 .6-.6 1.5-1.7 .1-1-1.6M320.7 137.2l2.5-.9 2.7 .9-2.7 .5-2.5-.5M465.5 140.2l9.2-1 5.8 1-10.3 .9-4.7-.9M64.6 141.7l4.8 0-4.8 0M89.7 141.7l1.6 0-1.6 0M41.2 143.2l4.5-.6 2.3 .6 2.2 2.3 9-.4 7.5 1.6 3.5-.5-4.3-1.5 9.8-.7 7.5 1.5 9-1.3 3 1.1 4.5 .6 3-.5 6-2.6 2.8 .4-2.4 1.5 6.6 0-.8-1.5 20.8-2.9 3-1 1.5-1.3 1.5-.4 3.2 1.1-1.3 1.5 1.1 1.5-.7 1.5-7.4 1.5 9.6 .3 4.6-1.8 2.9-.1 .5 .1-.3 1.5 2.8 1.5-1.8 1.5 1.8 1 7.5-.1 3.5 .6-11 .1-1.5 .2-1.6 1.2M187.9 143.2l2.3 0-2.3 0M416.8 143.2l2.4-.6 2.5 .6-2.5 .5-2.4-.5M471.2 143.2l4.7 0-4.7 0M119.2 144.5l-.9 .2 3.9 .6 11.5-.6-14.5-.2M47.2 146.1l-1.2 .1 1.9 0-.7-.1M230.2 146.2l2 0-2 0M459.6 146.2l8.2 0-8.2 0M80.2 147.4l-1 .3 5.5 .6 7.6-.6-6.1-.8-6 .5M128.2 147.3l-1.1 .4 1.1 1.1 12-.2 5.1-.9-17.1-.4M363.7 147.6l-.6 .1 5.1 .4 2.5-.4-2.5-.4-4.5 .3M107.2 149.2l-.4 0 4.9 .4 3.5-.4-8 0M46.3 150.7l-.6 0-1.5 0-.8 0M172.3 150.7l.9-.8 1.5-.2 6.6 1M183.7 150.7l12.1-1.5-10.6-.8-2.2-.7 2.2-.7 4.5-.5 13.5 0 9-1.1 7.5 1 5.9-1.7-.5-1.5-.9-.6-4.5-.9 3-.5 6.8 .5 3.7-1 4.5 .4 4.5-.9 3 .6 3.1 2.4-3.2 1.5 5.7 1.5-.9 1.5 2.8 1.3 8.9-1.3 1.6-1.1 6-.2 9-1.6 5.2 1.4 3.8 1.9 15.5 1.1-2.7 1.5M212.2 150.7l.3-1.5-1.8-.6-4.5-.2-4.2 .8 6.3 1.5M281.9 150.7l0-1.5-.7-.4-4.5-.5-11 2.4M305.8 150.7l4.1-3-4.7-1-12 .1-3.7-.6 2.2-.7 10.3-.8 9.3-1.5-2.5-1.5 2.4-1 6.7 1 .8 1 1.5-.3 .3-.7 2.7-.3 6 .1 1 .2-5 1.5 6.8 1.5 .5 1.5 5.7 .3 6.3-.3-3-1.5 11.7-1 1.3-.5 1.2-1.5 2-.4 3.9 .4 2.3 1.5 2.8 .7 10.5-.1 2.7-2.1 4.1-1.5-.9-1.5-1.4-.6-5.3-.9-8.2-2.5-9.5-.5 .9-1.5-1.9-1.3-1.5-.2-3 .9-.9 .6-.3 1.5-3.3 1.6-4.5-.5-7.5 .9-19.5-4-3.5 .5-2.3 1.5-3.2 1.2-3-.2-1.4-1-6.2-1.5 1.6-1.6 5.5-1.4 6.5-7.3 7.5-.5 2.6-1.2 .3-1.5-2.9-1.1-9-.5-9 .9-7.5-2.5-6-.2-4.4-1.1-.6-1.5 1.8-1.5 10.7-.6 6 2.4 9-.1 4.5 .8 7.5-1.3 6-.4 4.7 2.2-.9 1.5 .3 1.5 9.8 1.5 3.1 1.5 5.5 1.2 5.4 .3 1.5 1.5-.8 1.5 4.4 .4 4.5-.6 2.9 .2 1.6 2.4 7.5 2 3-.6 1.3-.8 .2-1.5 1.5-1.4 3-.8 5.9 .7 1.4 1.5 7.7 2 12 .3 3-.8 1.5 .1 6 2.5 6-.9 9 .7 3 1.3 4.2 .8-2.7 .7-3 2.6-6 .2-4.5 .8-9-1.6-6 1.2-6.8-.9 3.1 3-6.5 1.5 .9 1.5-2.6 1.5 1.8 1.5 .6 1.5 6.5 .5 12-.3 1.5 .6 .2 .7 7.3 1.1 8.8-1.1-12.2-1.5 3.2-1.5-5.7-1.5 5.1-1.5 1.8-1.5 2-.6 3 .1 10.5 2.5 3-.9 1.5 .2 1.9 1.7 .1 1.5-5 .9-.8 .6 .6 1.5 9.2 .4 3.1 1.1 .3 1.5M451 150.7l-.3 0-.5 0M468.5 150.7l4.7-1.5-2.9-1.5 1.4-.8 9.3-.7 7.2-1.4M89.4 5.2l3.1 1.5-6.3 .8-15.8-.8 2.3-1.2 2.5-.3M154.2 5.2l-6.3 1.5 4.3 .6 10.5-.5 .5 1.4 5.2 1.5 1.8 1 3 .5 22.5-1.7 16.2 1.7-13.2 1.9-4.5 .1-9-1-9 1.2-2.5 .8 1.1 1.5-1.8 1.5-1.3 .8-1.5 0-6-.5-1-.3 2.5-1.5-12-2.1-3 0-4.5 1.3-7.5 .4-10.5-.5-4.1-.6-1.1-1.5-2.3-.9-7.5-.5-3.5-1.6 8-1.1 16.5-.3 .7-.1-11.2-.8-2.2-.7 3.7-.8 10.5 0 2.2-.7M182 5.2l-19.3 1.5-1.5-.1-2.3-1.4M240.9 5.2l-7.7 .3-1.7 1.2 10.7 1.1 9 0 .6-1.1 2.4-.7 6.2-.8M276.8 5.2l-1.6 1-2.5 .5 2 1.5-11.5 .5-12-.5-12 1.3-7.5-.3-2.9 .5 2.8 1.5-5.9 .4-4.8-.4 1.4-1.5-2.2-1.5-9.4 .6-4.5-.8-15.9-1.3 1-1.5M330.9 5.2l6.1 1.5-3.3 .6-9-.4-7.5 .6-13-.8 10.1-1.5M439 5.2l4.9 1.5-2.5 1.5 5 1.5-1.7 .8-6.2 .7-7.3 1.6-6 .4-4.5-.4-.8-.1 6.6-1.5-4.4-1.5 4.5-1.5-7.1-1.5 .2-1.5M482.4 5.2l-9.7 0M41.2 8.2l9-.8 10.7 .8-12.2 .6-7.5-.6M181.5 8.2l3.7-.7 1.5 .1 .7 .6-.7 .7-1.5 .2-3.7-.9M356.5 8.2l8.6 0 2 1.5-6.4 .2-4.2-1.7M88 9.7l7.2-.6 5.1 .6-3.1 1.5 .3 1.5-3.8 .6-6-.6-3.4-1.5 3.7-1.5M42.3 11.2l4.9-.5 5.6 .5-1.1 1.1-1.5 .1-7.9-1.2M309.7 11.2l3.5 0-2 1.1-1.5-1.1M316.4 11.2l6.8-.9 5.8 .9-1.3 2.1-1.5 .3-6-.8-3.8-1.6M372.1 11.2l5.1-.7 9.6 .7-9.6 .4-5.1-.4M450.2 11.2l6.5-.5 4.5 .5-4.5 .6-6.5-.6M352.1 12.7l4.1-.8 5.3 .8-5.3 .7-4.1-.7M41.2 14.1l1.3 .1-1.3 .1M43.4 14.2l8.3-1.3 1.5 .1 2 1.2-2 1.3-1.5 .2-8.3-1.5M323.2 15.7l1.5-1 1.5-.2 24.7 1.2-5.1 1.5 .9 1.5-2.5 1.6-4.5 .2-6-1-7.5 1.3-1.5-.5-1.7-1.6-.8-1.5 1-1.5M488.2 14.6l-4.5 .2-4.5-.6 3-.4 6 .2M435.1 23.2l5.1-.8 6.5 2.3-.6 1.5-2.9 1.7-3 .9-6.8-2.6-.4-1.5 2.1-1.5M41.2 23.8l1.5-.3 1.4 1.2-2.9 .2M244.5 24.7l4.7 0 .1 1.5 3.4 .7 3-1 4.5-.4 15 .9 6-1.2 1.1 1-1.1 1.5 1.9 1.5 .5 1.5-1.3 1.5-5.4 1.5-7.7 1.2-12-1.4-9 1.4-5.6-1.2-.4-1.1-12 2.4-4.5-.8-3-1.2-4.4 .7-1.6 .8-7.9-3.8 4.9-1.2 6 .4 9-.5 15.8-4.7M488.2 25.1l-2.2-.4 2.2-1M249.7 28.8l-.8 .4 2.3 .8 3-.1 1.5-.7-3-1-3 .6M187.9 33.7l3.3-.7 4.5 .2 1.6 .5 1.4 1.9 1.5 1.1-3.4 1.5-5.6 1.2-6-.9-2.9-1.8 2.9-1 4.3-.5-1.6-1.5M164.2 39.7l3 2.2 4.5 .1 2.2 2.2-2.1 1.5-.8 1.5-3.2 1.5 1.8 1.5 3.6 .9 6 2.6 9 .9 7.5-.7 6 .6 6-.8 13.5 0 9-1.4 10.5 .8 12-1.3 6-1.8 7.5-.6 9 2.4 12 1.8 9 .7 3 1.6 3 .4 8.5 5.9-3.5 4.5-5 1.7-24 .8-9 1.5-4.5 0-7.5-1.2-21 1.7-2.8 3 1.3 1.2 3.9 1.8-2.4 1.2-4.5 .1-4.5 2.8-.4 .4 .4 .3 4 1.2 0 1.5-2.3 1.5-6.2 2.2-4.4 2.3-9.1-.4-4.5 1-6 .2-1.5-.2-2.9-2.1-1.6-.3-10.5 1.2-6 1.5-4.5 .3-4.5-.5-9 1.4-15 .6-12-1.1-6 .3-10.5-2.1-2.5-1.3-.5-1.9-3.4-2.6 1.4-1.5 0-1.5 1.1-1.5 .7-6 1.2-1.5 .4-1.5-.6-1.5 .4-4.5 1.2-4.5-.5-1.5 4.6-3 .8-1.5 2.2-1.5 1.9-4.5-.6-1.5 2.7-.9 7.5 .3 3-1.6 7.5-2 13.5 .6 8.2-.9-2.8-1.5 2.1-1.5M375.1 45.7l3.6-.8 12 .9 7.5 2.3 2.1 2.1 3.1 1.5 1.3 1.5-1.3 3-1.8 1.5 1.3 4.5 5.3 4.5 .2 1.5 4.6 1.5 2.5 1.5-2.3 1.2-1.3 1.8-2.1 1.5-4.1 2.3-9 .5-.8 .2-2.8 3-3.9 .6-6-3.3-2.6-3.3-1.9-.8-27-1.1-4.5-1.4-4.4-2.7-.4-3-1.2-.4-1.5-.1-3 1-8.5-.5-.5-1.5 7.5 .2 4.5-1.1 .4-.6-2.2-1.5-1.8-3 5.1-1.5 1-3-.2-1.5 2.2-2.6 7-.4 .6-1.5 8.9-1.7 10.5-.4 3.9-.9M41.2 62.4l4.5 .1 4.5-1 13.5 .7 7.5-.6 3.2 .6 2.8 2.8 3-.2 6-1.3 7.5 .5 2.6 1.2-1.4 3-7.3 1.5-1.3 1.5 .5 1.5-2.3 1.5-1.3 1.9-6 1.3-2 1.3 0 1.5-1 .5-11.9 4-.4 0-.2-1.5-4-1.9-6-1-7.5-3.4-3-.1M488.2 77.3l-3-.5-4.5-2.2-13.5-.2-3-.7-6.3-4 .5-1.5-.7-4.5 .2-3 2.6-1.5 .8-4.5 .8-1.5 6.6-2.1 4.5-.7 4.5 .7 3 1.4 2.1 2.2-.3 1.5 1.7 3-.1 1.5 4.1 1.7M388.9 86.2l1.8-.1 4.5 3.1-4.5 1.7-6 1.2-.2-1.4 3.7-3 .7-1.5M378.5 93.7l3.2-.3 3-1.1 .3 1.4-2 3-2.8 .9-4.5-.3-1.6-.6-.8-1.5 5.2-1.5M421.4 107.2l5.3-1.2 2.5 1.2-1 1.2-1.5 .2-4.5-.7-.8-.7M416.1 108.7l1.6-.8 1.5 .1 3.9 2.2-3.4 0-3.6-1.5M425.7 110.2l1-.9 1.5-.1 1.5 1-4 0M325.6 123.7l1.5 0-1.5 0M348.1 123.7l3.9 0-3.9 0M329.7 125.2l7-1.1 4 1.1-1 1.5-3 .5-7-2M309.5 129.7l2 0-1.8 1.5-3 0 1.5-.2 1.3-1.3M392.2 129.7l1.5 .3 1.4 2.7-1.4 2-6 .3-4.5-2.3 3-1.7 6-1.3M364.2 131.2l5.5-.5 2.3 .5-1.8 1.5-3.5 .2-1.9-.2-.6-1.5M412.9 132.7l3.3-.5 2.7 .5-3.3 1.5-4.5 0 1.8-1.5M391.8 138.7l.6 0-.6 0M123.3 143.2l4.9-.5 5.3 .5-6.8 .4-3.4-.4M230.9 143.2l3.6 0 2.8 1.5-1.1 .4-3-.3-2.3-1.6M431.9 143.2l5.3-.9 2.9 .9-4.4 .8-3.8-.8M87.1 146.2l3.6-.4 3.1 .4-6.7 0M126.6 146.2l9.1-1.2 8.8 1.2-8.8 .9-9.1-.9M210.3 146.2l3.6 0-1.7 .5-1.9-.5M277.5 146.2l1 0-1 0M293.8 146.2l5.4-.4 4.2 .4-9.6 0M434.2 146.2l1.5-.4 3.1 .4-4.6 0M41.2 146.9l9-.1 7.5-1.1 8.6 2 1.8 1.5 3.1 .5 6-.7 18-.7 1.5-1 10.5-1.7 7.5 .2 4.5 1 4.5 .3 1 .6-4 1-22.5-.2-1.5 .2-.3 .5 14 1.5M185 147.7l4.7-.6 11.8 .6-4.3 .5-12.2-.5M357.7 147.6l-1 .1 11.5 .8 4.3-.8-1.3-.7-3-.2-10.5 .8M51.7 149.1l-.5 .1 .5 .6 4.5 .4 3-.2 2.2-.8-9.7-.1M289.2 149.2l10.3 0-7.8 1.1-1.5-.3-1-.8M344.2 149.2l-.5 0 10 0-.5-.7-1.5-.1-7.5 .8M393.7 149.1l-.5 .1 .9 0-.4-.1M50.5 150.7l-3.3-.5-6 .2M115.4 150.7l5.3-.8 4.5 .3 9-.9 12-.1 4.5 .3 1.5 1.2M186.7 150.7l10.5-1.2 6.3 1.2M215.4 150.7l1.3-1.7 1.5-.2 10.5 1.2 1.4-.8-6.6-1.5 18.7-2.2 6.1 .7 .1 1.5 1.3 1.5 1.5 .5 4.5-.3 10.5-1.8 5.5 .1-1 .4-.6 1.1-6.3 1.5M232 150.7l-.3-.1-.4 .1M308.1 150.7l4.6-3-5.5-1.5 2.8-1.5 16.2 .5 3 1.1 6 .6 16.5 .4 1.5-.1 1.5-1.3 3-.7 25.5-.2 .8-.3-.2-1.5 3.9-.7 7.5 .8 6.4 2.9 8.6 1.2 10.5-.1 7.8 1.9-1.8 1.5M338.5 150.7l-3.3-.4-3.7 .4M417.7 150.7l-7.5-2.3-5.4 .8 5 1.5M430.9 150.7l13.8-2.7 10.5 .3 4.6 .9-1.6 1.1-1.5 .2-10.8 .2M471.9 150.7l4.9-1.5-3.6-1.6 15-.7M488.2 150.6l-1.5 .1-.1 0M86.5 5.2l3.9 1.5-4.2 .5-11.2-.5 6.1-1.5M125 6.7l5.2 0-5.2 0M148.5 5.2l-3.8 .5-1.5-.5M177.9 5.2l-14.6 0M226.8 5.2l1.9 1.1 0 1.1-18 .4-13.8-1.1 4.3-1.5M274.5 5.2l-3.8 .6-4.5-.6M328.4 5.2l-.7 .8-4.5 .1-1.3 .6-4.7 .5-9.7-.5 11.7-1.5M328.7 6.7l.5-.5 5.6 .5-6.1 0M436.1 5.2l6.2 1.5-2.1 .9-3.8 .6 8.1 1.5-2.8 .6-7.5 .2-1 .7-1.4 0 .8-1.5-.2-1.5-10.2-1.3-.8-.2 .3-1.5M45.3 8.2l7.5 0-7.5 0M138 8.2l2.2-1.3 3-.1 7.5 1 9 0 5.9 1.9-3.5 3-2.4 .5-4.7-.5 1.6-1.5-4.4-2-4.5 0-10.4 2 1.4 1 1.5 .2 6-.5 3.7 .8-7.3 1.5-5.4 .3-7-.3-6.5-3.3-9-.3-3-.9 6-.7 15 .2 5.3-1M230.1 8.2l10.1 0-4 .4-6.1-.4M260.1 8.2l4.4 0-4.4 0M45.3 11.2l3.9 0-3.9 0M87.5 11.2l3.2-.7 1.5 0 1.2 .7-1.2 .9-1.5 .1-3.2-1M186.8 11.2l7.4-.9 6.4 .9-6.4 1-7.4-1M454.6 11.2l1.9 0-1.9 0M355.8 12.7l1.9 0-1.9 0M236.1 29.2l3.7 0-1.6 1.5-3.7 0 1.6-1.5M266.2 32.2l4.5-1.2 1.6 1.2-3.1 .4-3-.4M152.8 47.2l8.4-1.4 2.8 1.4-2.3 1.5 2.2 1.5 9.3 2.6 4.5 2.2 9 1 9-.5 6 .5 6-.3 3 .6 4.5-1.2 3-.2 7.5 .1 6 1.1 4.5-1.4 6 .3 4.5-1.2 4.5 .7 2.7-1.3 3.3-.6 7.5 .4 7.5-.4 11 2.1 2.5 1.3 7.5-.1 4.2 1.8 5.5 1.5 3.8 3-3.5 3-10 2.4-9 .5-4.5-.4-12 1.5-9-1.1-7.5-.1-4.5 1-7.5 .5-6 1.5-5.1 4.7-2.4 .6-2.7-.6 2.5-1.5-2.8-1-4.5 .1-4.9 .9 2.9 3-1 1.5 6.2 1.5 1.3 3 3.4 1.5-2.3 1.5-7.1 2.3-6 .2-6-1.1-6 .5-6-1.6-16.5 3.5-7.5-1.2-9 2-10.5 1.1-27-1.2-6.1-1.5-1.5-1.5 .3-3-2-1.5 .1-1.5 1.1-1.5-.5-1.5 1.5-7.5-.7-1.5 3.7-3-1.1-4.5 .7-2.1 1.1-.9 4-1.5 .3-1.5 4.2-3-.6-1.5 1.5-1.4 13.5-1.2 1.5-1.3 9.6-.6M144.7 49.9l-1.4 .3 1.6 1.5 2 0-.6-1.5-1.6-.3M357.5 50.2l6.2-1 6 1.5 3 1.6 3 .6 6 .2 4.5-1.4 5.5 0 3 1.5 1 1.5-1.9 1.5-.2 1.5 3.6 1.5 2 3 3.5 1.5 1.7 1.5 1.3 1.5-1.3 1.5 3.6 3 .9 3-1.9 1.5-2.8 1-9 .5-6 2.1-3-.6-5.8-4.5-1.4-1.5 .2-1.5-.5-.9-1.5-.7-12 .7-7.5-.7-1.5 .4-1.1 1.2-1.9 .4-3 .1-1.9-.5-1.9-1.5 .6-1.5-.6-1.5-2.6-1.5-3.5-4.5 1.1-1.5 3.3-1.5-.3-1.5 1.3-3.1 3-1.1 6-.9 2.8-.9M396.9 53.2l3.2 0 .5 1.5-1.8 0-1.9-1.5M41.2 64.4l3 1.1 1.5-.2 3-1.8 7.5-.7 4.5 .8 4.7 1.6-.1 1.5-5.3 3 .5 3-1.3 .6-6 .8-6-2-3-.5-3 .7M90.2 65.2l2.1 0-1.6 1.1-.5-1.1M88.7 66.7l.5-.5 1.1 .5-1.6 0M76 69.7l4.2-1.3 3 .7 .5 .6-1.3 1.5 .9 1.5-4.6 1.8-3.9-.3 .4-3 .8-1.5M488.2 73.1l-1.5 .7-4.5-.7-7.5-.1-9-.8-5.2-2.5-.6-6 1.3-3 4.8-1.5 .9-1.5-1.8-1.5 .8-1.5 4.3-2 3-.2 4.5 .8 2.5 1.4 .7 4.5-.3 1.5 4.6 2.8 3 .8M200.2 76.4l-.7 .8 1.2 1.5 1 .3 3.5-.3 1.5-1.5-3.5-1.1-3 .3M389.2 144.7l3.7 0-3.7 0M129.6 146.2l6.1-.8 6.5 .8-6.5 .6-6.1-.6M358.3 146.2l5.4-.6 5.8 .6-7.3 .4-3.9-.4M100 147.7l10.2-1.1 2.9 1.1-13.1 0M230.6 147.7l13.1-1.1 1.5 .2 1.3 .9-.1 1.5-7.2 .8-4.5-.6-4.1-1.7M41.2 147.7l9-.2 6-1 5.9 1.2-2.9 .6-9-.1-3 1.3-6 .5M416 149.2l3.2-1 6.5 1-3.5 1.1-6.2-1.1M82.5 150.7l5.2-.6 .4-.9 4 0-1.4 1-2.4 .5M93.7 150.7l11.4 0M129.2 150.7l6.5 0M137.2 150.7l9-.9 4.5 .9M188.9 150.7l6.8-.7 5 .7M218 150.7l1.7-.4 6.2 .4M251.1 150.7l12.1-2.1 4.5 .6-5.8 1.5M310.4 150.7l6.8-3-4-1.5 1-.2 7.5-.2 7.5 1.3 8.9 .6-.6 1.5-8.6 1.5M341.3 150.7l5.9-.9 6.7 .9M368.4 150.7l-11.3-1.5 3.6-.6 12-.1 1.4-.8-1.4-1.2-2.4-.3 5.4-.4 4.5 .1 10.2 1.8-1.2 2-5 1M390.8 150.7l8.9-1.5-2.7-1.5 4.2-.8 6.6 .8-8 1.5 2.9 .3 4.2 1.2M435.1 150.7l9.6-2.3 7.5 0 5.5 .8-2.5 .7-12.4 .8M476 150.7l3.2-.8 1.5-1.7 7.5-.4M488.2 150.1l-7.3 .6M81.5 6.7l3.2-.7 3.5 .7-6.7 0M221.7 5.2l4.3 1.5-4.8 .4-17.4-.4 9.9-.6 3.2-.9M310.3 6.7l5.4-.6 3.6 .6-9 0M432.7 5.2l7.6 1.5-4.6 .7-12-.7 .7-1.5M140.7 8.2l2.5-.6 5.1 .6-6.6 1.5-4.8 0 3.3-.8 .5-.7M113.9 9.7l9.5 0-7.2 .4-2.3-.4M156 9.7l.7-.8 1.5-.2 4.8 1-3.3 .7-3.7-.7M135.5 51.7l4.7 0 .2 1.5 4.3 1.6 5.3-.1 2.2-1.6 10.5-.8 5.9 .9 3.7 1.5 1.2 1.5-1.8 2.4-3.5 .6 .5 1 9-1.4 1.1 .4 .1 1.5 1.8 0 4.5-2 18-1.4 3 .1 3 1.8 1.5 .1 3-1.1 2.7-2 1.8-.2 5.5 .2 2 1.1 4.5 .8 3 0 6-1.3 9 .8 10.5-3.4 9 1.2 4.5-.9 3 .2-1.5 1.5 3 1.2 9 1.2 7.5-.2 3.8 .8-.9 1.5 2.3 1.5-2.4 1.5-5.8 .9-9 .2-4.5-1.2-2.4 .1-1.3 1.5 2.2 1.5-4.5 .8-6 0-7.5-1.4-6 .2-6 2-13.5 1.2-3 1.9-16.5-.4-2.3 .2-.7 .5-6-.2-3-1.3-4.5 .2-2.2 .8-1.2 1.5 1.6 1.5 1.1 3 4.7 3-1 .5-13.5 2.5 3.5 1.5-2 .7-4.5 0-6 1.4-12-.6-1.2 1.5-4.8 1.8-9 .9-7.5-.6-4.5 .4-5.1-1-7.6 0-6-1.5-.5-1.5 .9-3-1.4-1.5 0-1.5-.7-1.5 .2-1.5 3.4-1.5 .9-1.5-1.2-1.5 3.6-1 5.1-.5-8.2-1.5 6.1-.7 1.6-.8-5.1-1.5 .2-1.5-.8-1.5-.3-3 2.9-.8 5.4-5.2 5.4-1.5-.5-1.5M350.6 53.2l8.6-.2 1.8 .2 2.7 1.3 3-.8 3 0 4.5 1 4.5 1.7 3 0 4.5 2.1 7.5 1.7 8.5 6.5-1.5 1.5 .7 1.5 3.2 3-.1 1.5-3.3 1.4-12 1.4-3-.4-3.8-2.4-1.3-4.5-2.4-2.9-1.5-1.2-1.5-.3-3.2 1.4 1.6 1.5-7.4 .2-10.5-1.1-4.5 .1-6.6-3.7-2.1-3 4.6-3 .3-1.5 2-1.5 .7-1.5M472.4 54.7l2.3-.4 2.4 .4-.9 1.1-1.3 .4-.1 1.5 2.4 1.5 0 1.5 8 4.5 .4 1.5-2.1 1.5 1.9 1.5 .6 1.5-2.3 .3-4.5-.6-10.5 .1-4.4-1.3-1.4-4.5 .9-1.5 2.7-1.5 .6-1.5 3.1-1.4 1.8-1.6-.5-1.5 .9-1.5M198.7 62l-.9 .2 3.3 0-2.4-.2M230.2 62l-4.7 1.7 3.2 .6 3-.2 2.1-.4 1.6-1.5-2.2-.7-3 .5M374.2 63.6l0 .8 1.5 .7 1.5-.4 1-1-1-.4-3 .3M49.5 65.2l2.2-.9 4.5-.3 3.9 1.2 1.3 1.5-6.7 4.1-1.5-.1-5.5-1-.4-1.5 .5-1.5 1.7-1.5M205.2 80.2l4-.2 7.5 3 2.4 1.7-1.6 1.5-5.3 1.2-7.5-1.3-6 .2-4.2-1.6 2.7-1.2 7.5 .3 4.3-.6-6.1-1.5 2.3-1.5M131.8 146.2l3.9-.4 4.5 .4-8.4 0M54.8 147.7l3.4 0-3.4 0M234.8 147.7l5.9 0-5.9 0M321.2 147.7l5 0 3 .5 1.9 1-6.4 1.2-4.5-.5-1.4-.7 2.4-1.5M400.4 147.7l4 0-4 0M41.2 148.5l3 .1 1.5 .6-4.5 .3M360.5 149.2l5.9 0-5.9 0M442.6 149.2l6.6-.5 6.5 .5-9.5 .5-3.6-.5M141.3 150.7l3.4-.4 4.1 .4M191.1 150.7l7.3 0M255 150.7l4.2 0M344 150.7l3.2-.4 3.6 .4M375.6 150.7l.6-3 1-.9 9 1.4 1.5 1-3 .8-8.9 .7M393.1 150.7l6.6-1 4.9 1M488.2 149.6l-4.7-.4 4.7-.6M313.9 6.7l2.2 0-2.2 0M136.7 56.2l21.5 1.3 2.5 1.7 .5 1.7 9 1.9 6 2.4 4.5 .7 1.3 .8-2.1 1.5 5.6 1.5 .8 1.5 4.4 3 .1 1.5-1.1 1.7-3 1.3-4.5-.3-4.5-1.5-1.3 .3-1.5 1.5 .5 1.5-.7 .5-5.6 1-4.2 1.5-5.2 3.5-4.5 1.5-7.5 .4-15-1.2-6 .1-5.1-1.3-.1-1.5 .9-1.5-2.3-3-.2-1.5 1-1.5 5.8-2 5.9-1 1.9-1.5-2-3 0-1.5 .2-1.5 1.9-3-1.1-1.5 2.1-3-2.1-1.5 3.2-1.5M353.7 56.2l2.5-.2 7.5 1 6-.4 1.5 .6 1.5 2.4 2.4 1.1-5.1 3-.5 1.5-4.3 1.4-4.5-.2-6.5-1.2-7.6-3-1-1.5 6.1-3.9 2-.6M261 57.7l.7-1.1 1.5-.2 12 3.4 11.1 .9-1.2 1.5-2.4 .5-6-1.3-3 .3-5.3 2-.7 1.6-3 .3-3-.9-3.8-2.5-1.3-1.5 3.7-1.5 .7-1.5M384.1 62.2l.6-1 7.1 1 2.8 3 3.6 1.5-.4 3 1.8 4.5-10.4 1.7-4.7-1.7-1.8-7.5 .6-3 .8-1.5M209.1 63.7l3.1 0-3.1 0M468.7 63.7l3-1 6 .1 4 2.4 .4 1.5-7.4 2.9-3-.3-2.7-1.1-1.4-1.5-.4-1.5 1.5-1.5M52.4 66.7l2.3-1.4 3 1.4-3 .9-1.5-.1-.8-.8M233.7 66.7l2.5-.8 5.5 .8-5.5 .4-2.5-.4M221.6 68.2l1.1-.9 3-.4 1.5 .1 1.9 1.2-3.4 .8-4.1-.8M177.7 69.3l-.9 .4 2 0-1.1-.4M134.6 146.2l3 0-3 0M379.4 149.2l2.3-.8 4 .8-4 .4-2.3-.4M445.7 149.2l7.5 0-7.5 0M395.2 150.7l4.5-.4 2.6 .4"/>
<path fill="none" stroke="#000" stroke-width="1.15" stroke-linejoin="round" d="M35.3 36l5.7 .8 4.9-1.7 8.7-.4 1.2 2-1 1.3 1.7 .9 10.4 2.7 .1-1.6 3.7-.6 2.5 1.1 11.4 .3 .9 2-1.4 1.9-1.5-2.3 1.1 3 4.6 7.1 3.1 6.5 4.5 3.8 1.5 2.6 8.3-1.7-.3 1.7-2.4 5.5-3.8 5.1-7.2 5.7-1.1 4.4 1.4 5.6 .2 5-4.4 3.6-2.1 4.2 .2 3.5-3.2 2.3-.5 3.1-3.1 3-2.6 1.6-2.9 1-6.9 .9-2-.5-.5-2.5-1.8-3.7-1.9-2.4-.6-4-3.1-5.9-.3-3 2.1-4.3-.3-4-1.3-3.5-3.6-6.3 .5-6.4-1.5-.6-3.1 .3-3.2-2.7-2.7 .4-4 1.6-2.5-.5-4.3 1-4.1-2.4-3-2.7-5.3-7.7 1.6-5.8-1-1.8 5-7.5 3.9-2.2 .3-3.3 3.5-1.5 1.5-2M481.7 36l5.7 .8 4.9-1.7 8.7-.4 1.2 2-1 1.3 1.7 .9 10.4 2.7 .1-1.6 3.7-.6 2.5 1.1 11.4 .3 .9 2-1.4 1.9-1.5-2.3 1.1 3 4.6 7.1 3.1 6.5 4.5 3.8 1.5 2.6 8.3-1.7-.3 1.7-2.4 5.5-3.8 5.1-7.2 5.7-1.1 4.4 1.4 5.6 .2 5-4.4 3.6-2.1 4.2 .2 3.5-3.2 2.3-.5 3.1-3.1 3-2.6 1.6-2.9 1-6.9 .9-2-.5-.5-2.5-1.8-3.7-1.9-2.4-.6-4-3.1-5.9-.3-3 2.1-4.3-.3-4-1.3-3.5-3.6-6.3 .5-6.4-1.5-.6-3.1 .3-3.2-2.7-2.7 .4-4 1.6-2.5-.5-4.3 1-4.1-2.4-3-2.7-5.3-7.7 1.6-5.8-1-1.8 5-7.5 3.9-2.2 .3-3.3 3.5-1.5 1.5-2M103.3 93.6l1.4 4.3-4.1 11.1-2.4 .7-1.8-2.3-.5-2.3 1.4-3-.5-2.2 3.1-1.7 3.4-4.6M35.3 35.9l4.4-.7 2.5-2-.4-.8 1.5-1.5 2.9-.9-.3-1.2 5-.3 2.3-.7 2.6 1.8 5.7 2.3 .8 1.1-.8 .9 1.9-1-.6-1.1 2.3 0-5.5-2.4-.5-.9-1.6-.8 0-.7 1.6-.4 2.3 1.6 4.9 2 0 1.4 3.2 3.8 2.5-1.7-1.4-2.3 1.4-.3 2.4 0 1.3 3 1.5 1.1 2.9-.1 2.8 .7 2.3-.7 1.9 .2-.5 2.2-2 3.3M481.7 35.9l4.4-.7 2.5-2-.4-.8 1.5-1.5 2.9-.9-.3-1.2 5-.3 2.3-.7 2.6 1.8 5.7 2.3 .8 1.1-.8 .9 1.9-1-.6-1.1 2.3 0-5.5-2.4-.5-.9-1.6-.8 0-.7 1.6-.4 2.3 1.6 4.9 2 0 1.4 3.2 3.8 2.5-1.7-1.4-2.3 1.4-.3 2.4 0 1.3 3 1.5 1.1 2.9-.1 2.8 .7 2.3-.7 1.9 .2-.5 2.2-2 3.3M76.9 30.7l.9-3 2.2-1.8 1.9 0 1.8 1.7 3.9-.7 2-1.3 1.3-.2-2.2 2.2 5 2.8-1.9 .5-8.3-.9-2.9 .8-3.7-.1M100.2 27.5l3.4 4.1-.8 1.9 1.4 1.2 4.8 .3-1.6-5.5-1.6-.6 2.1-1.7-2.2-1.6-2.7 .3-2.8 1.6M35.3 35.9l-2.3-1.2-1.8 .2 .1-1.7-.9-.3 1-2.2-.7-1.6 1.6-.7 7.7 .3 .7-1.1 0-1.4-4.1-1.5 0-.6 3.6-.1 .3-.8 3.6-.3 .1-.7 1.7-.3 2.1-1.3 5.1-.8-.9-2 2.4-.5 .6 .3-.8 1.5 1.2 .5 11.3 0 1.6-.6-.1-1 1.5-.8 2.4 .4 .2-.8-1.3-.5 8.4-.5-1.7-.4-7.3 .4-1.9-.7 .2-1.3 4.2-1-.9-.4-2.7 .1-5.6 1.8-.4 .8 2.1 1-2.8 1.5-.4 .7-2.6 .5-1.6 0-2.1-2.4-5.7 .5-1.9-1.4-.1-.7 1.9-.7 13.6-3.5 13.8-.6 14.7 1.4 .8 .6-10.1 0 2 .5 .1 .6 3.1 .3 8.2-1.2 .6-1.1 4.6 .3 15.5-1 9.9 .8 .7-.8-2.8-.2-.1-.5 3.4-.5 4.2 .3-.6 .4 .4 .3-.1 .7 2.8 .5 .2-.6-1.5-.4 .3-.5 3.1-.7 34.4-1.5 11.2 .5 .2 .7 16.8 .1 4.9 1 12.4-.8 19.9 .7 5.6 .7 21.3 0 14.4 1.6-3.5 .9-7.4-.1-3.1 1.3-6.2 .3-4.4 1.1-8 .1-1.9 .9 1 1.6-4.1 1.2-4.1 2.7-1.5-3.4 1-1.4 2.1-.4 2.5-1.6-1.2-.7-8.7 1.7-11.2-.2-9.7 3.1 4.8 .4 2.9 .9-1.1 2-.1 1.6-6.1 4-5.6 1.2-1.6 1.6-2.7 1.2 2.4 2.8-.2 1.7-3.7 .4 .4-1.7-.5-1.2-1.5-.1 .2-1-.8-.9-4.1 .9 .6-1.2-.9-.8-4.2 2.2 2.4 1.4 2.2-.5 1.6 .4-2 .9-2.2 1.9 3.4 3.4-.5 .9 .6 .8-3.1 4.7-3.4 2.6-8 2.7-2.3-.7-2.8 1.7-.6 1.4 3.2 3.6 1.2 3.1-.1 2.3-5.4 3.8 .2-1.7-2.5-1.3-.8-1.6-1.8-.5-.7-1-1 1.8-.4 2.3 1.6 3.7 1.3 .5 2.3 2.8 .1 2.3 .9 1.7-.9 .2-1.8-1.3-1.5-1.9-1-3.4-1.6-2.1-.5-1.7 .4-2.5-1.2-5.8-1.1-.5-1.8 1.1-1.1-.3-.2-3-2.4-3-.7-1.7-6.2 1.4-.3 1.5-2.3 1.1-5.4 4.3-.6 5.6-2.9 3.6-1.2-1-.9-3.3-2.6-5.2-1.5-7.8-2.5 1.5-1.8-1.5 1.2-.7-3.2-1.3-1-1.6-6.2 .2-5.3-.8-1.3-1.3-2.2 .5-3.1-1.3-1.6-1.7-2.1-1-1.3 .3 .5 1.6 4 4.9 3.1 0 2.5-2.3 .3 1.5 4.3 2.8-2.7 4.2-2.9 1.9-8.1 4.1-6.6 1.6-1.1-4.7-4.2-5.9-1.4-3.1-3.8-4.5-.1-1.6M481.7 35.9l-2.3-1.2-1.8 .2 .1-1.7-.9-.3 1-2.2-.7-1.6 1.6-.7 7.7 .3 .7-1.1 0-1.4-4.1-1.5 0-.6 3.6-.1 .3-.8 3.6-.3 .1-.7 1.7-.3 2.1-1.3 5.1-.8-.9-2 2.4-.5 .6 .3-.8 1.5 1.2 .5 11.3 0 1.6-.6-.1-1 1.5-.8 2.4 .4 .2-.8-1.3-.5 8.4-.5-1.7-.4-7.3 .4-1.9-.7 .2-1.3 4.2-1-.9-.4-2.7 .1-5.6 1.8-.4 .8 2.1 1-2.8 1.5-.4 .7-2.6 .5-1.6 0-2.1-2.4-5.7 .5-1.9-1.4-.1-.7 1.9-.7 13.6-3.5 13.8-.6 14.7 1.4 .8 .6-10.1 0 2 .5 .1 .6 3.1 .3 8.2-1.2 .6-1.1 4.6 .3 15.5-1 9.9 .8 .7-.8-2.8-.2-.1-.5 3.4-.5 4.2 .3-.6 .4 .4 .3-.1 .7 2.8 .5 .2-.6-1.5-.4 .3-.5 3.1-.7 34.4-1.5 11.2 .5 .2 .7 16.8 .1 4.9 1 12.4-.8 19.9 .7 5.6 .7 21.3 0 14.4 1.6-3.5 .9-7.4-.1-3.1 1.3-6.2 .3-4.4 1.1-8 .1-1.9 .9 1 1.6-4.1 1.2-4.1 2.7-1.5-3.4 1-1.4 2.1-.4 2.5-1.6-1.2-.7-8.7 1.7-11.2-.2-9.7 3.1 4.8 .4 2.9 .9-1.1 2-.1 1.6-6.1 4-5.6 1.2-1.6 1.6-2.7 1.2 2.4 2.8-.2 1.7-3.7 .4 .4-1.7-.5-1.2-1.5-.1 .2-1-.8-.9-4.1 .9 .6-1.2-.9-.8-4.2 2.2 2.4 1.4 2.2-.5 1.6 .4-2 .9-2.2 1.9 3.4 3.4-.5 .9 .6 .8-3.1 4.7-3.4 2.6-8 2.7-2.3-.7-2.8 1.7-.6 1.4 3.2 3.6 1.2 3.1-.1 2.3-5.4 3.8 .2-1.7-2.5-1.3-.8-1.6-1.8-.5-.7-1-1 1.8-.4 2.3 1.6 3.7 1.3 .5 2.3 2.8 .1 2.3 .9 1.7-.9 .2-1.8-1.3-1.5-1.9-1-3.4-1.6-2.1-.5-1.7 .4-2.5-1.2-5.8-1.1-.5-1.8 1.1-1.1-.3-.2-3-2.4-3-.7-1.7-6.2 1.4-.3 1.5-2.3 1.1-5.4 4.3-.6 5.6-2.9 3.6-1.2-1-.9-3.3-2.6-5.2-1.5-7.8-2.5 1.5-1.8-1.5 1.2-.7-3.2-1.3-1-1.6-6.2 .2-5.3-.8-1.3-1.3-2.2 .5-3.1-1.3-1.6-1.7-2.1-1-1.3 .3 .5 1.6 4 4.9 3.1 0 2.5-2.3 .3 1.5 4.3 2.8-2.7 4.2-2.9 1.9-8.1 4.1-6.6 1.6-1.1-4.7-4.2-5.9-1.4-3.1-3.8-4.5-.1-1.6M280.3 12.5l7.4-.3-4.9-1.1 11.6-1.3 26.8 .9 9.9-.4 16.1 .9 19.9 .2 2.5-.6 7.4 .1 4.3 1-1.8 1.1-7.5 2.1-.6 1.3 2.5 1.3 12.6 1.4 .4 1.5 1.9 1.3 1.8-.1 .3-.8-.9-1.5 3.1-1.1 .3-1.4-1.5-.5 .7-1.1-.7-1.1 7.4 .5 3.1 1.6 2.5 .4 3.7-1.3 3.1 1.5 .6 1.4 4.4 1.1 2.5 1.5-4.4 1.7-8.5 .1-2.6 .8-3.1 2 3.7-1.6 3.7-.4 .9 .6-.9 .8 .6 1.2 4.1 .5 1.5-.4-5.7 1.8-1.7 .2-.2-1.2-4.8 1.3-.9 1 .9 .8-4.7 1-.3 1.2-1.6 1-.8 1.5 .6 1.7-3.6 1.5-3.2 2.2-.7 1.5 1.8 4-.4 1.8-1.1-.2-1.7-2.4-.4-1.6-1.8-1.1-5-.5-1.3 .2 .4 1.2-6.6-.4-3.1 1.9-.8 6.1 1.4 3.5 1.9 1.1 3.1-.1 2.4-1.1 .2-1.7 4.2-.6-2 6.9 3.3-.2 3.1 .9-.3 5.2 1.5 1.8 2.5 .5 1.8-.5 2 1 1.8-1 .8-1.6 1.4-.6 2.1-.6 1.2 1.2 .4-1.7 1.5 0 2.2 2 7.7 0 1.3 2.6 1.8 .6 1.9 1.5 6.8 2.3 1.9 1.2 1.8 5.1 1.5 1.5 4.7 1.7 4.4 .5 7 2.9 .6 2.9-.4 1.8-4.1 5-.9 5.9-2.2 5-1.3 1.1-6.2 1.4-1.8 2.1-.2 2.8-6 6.3-1.9 .6-4.2-1 1.5 2.3-.4 1.8-5.6 1-.4 1.6-3.3 .4 .6 1.2-.6 2.5-3.1 1.3 1.9 1.2-2.9 1.9-.9 1.2 .7 .6-4.4 1.2-3.1-1.2-1.2-2 .6-2.5 1.5-2.6 .4-5.8 2.4-6.2 .2-3.3 1.1-4.5 .2-7.8-6.4-3.8-5-9.2-2.1-2.5 .3-1.9 1.2-1.6-.9-2.5 .9-2.3 3.2-3.9 0-3.3-1.3-2.3-1.4-.6-1 1.8-3.8-1.3-2.8-1.9-.1-1.6-2.1-2.1-5-1.3-1.8-2-1.9-.7-2.5 .6-9.3-3.8-1.8-2 .4-1.5-1-1.4-7.5-6.8-1.2-2.2-2.1-.8 .2 1.9 5 6.7 1.3 .9-3.2-1.8-.4-1.9-2.7-1.7 .3-1.7-2.1-1.1-3.1-3.7-2.6-.7-4-5.2-.6-2.1 .3-3.7-.8-2 2.1-.1-5-1.9-6.8-4.3-3.7-1.3-5.6-.9-9.3-.5-3.1 .7-1.9-.8-6.2 2.6-8 1.5 6.8-2.5-5.6-.2-4.3-2 .8-.8 4.8-.7-6.9-.1-1.8-.5M398.1 7.5l16.1-.8 37.2-.2 14.9 .6-2.5 1.7-2.5 .7 0 .7-22.3 2.6-4.3 2.9-6.2-.9-6.2-2.8-.7-1.2 3.8-.4-5-.7-1.2-.9-21.1-1.3M411.7 12l-2.5 .8-2.4 1.7-6.2-.5-4.4-.9-4.3 0 6.2-1.6-2.5-.5-17.4-1 1.3-.7 7.4-.4 6.2 .4 11.2 .9 1.8 1.1 5.6 .7M342.3 10.6l6.2 .4 14.9-.5-1.3-1.1-7.4-.3-13.7 .6 1.3 .9M377 8l12.4 .1 22.3-1.4-40.9 .4 6.2 .9M182.9 105.7l.7 4.6 2.1 6.4-.9 1.9 1.2 1.5 2.5 0 2.5-1.1 3.7-.1 3.7-1.7 6.5-.8 3.5 1.1 1.8 2.4 2.5-1.4 .4 2.3 .8-.8 2.6 3.1 3.6 .8 1.8-.9 1.7 1.2 2.1-1.3 2.5-.3 .2-1.7 3-3.8 1.1-3.5-.5-3.9-4.4-3.7-1-2.3-3.1-1.8-1.1-4.9-2-1-1.5-4-1.1 2.6 .1 3.3-1.1 2.3-1.9 0-1.8-1.7-2.6-1.2 1.3-3.5-4.7-1.1-3.6 1.7-.7 2.6-1.6 .3-2-1.4-2.6 2.9-2.9 2.1-.8 1.6-6 1.5-4 1.7M221.6 125.8l4.5 .2-.4 2.1-1.8 .4-1.5-1.2-.8-1.5M256.3 119.5l2.7 2.4 4.5 .9-.7 1.5-3.4 2.3-.7-.3 .3-1.3-1.3-.7 .9-1.2-2.3-3.6M256.3 125.6l2 1.1-2 1.9-1.8 .7-.5 1.3-1.6 .6-3.6-.5-.1-.7 5-2.1 2.6-2.3M160.4 71.4l2.7 .5 10.5 10.4-.1 3.5-1.6 .2-2.8-2.4-4.4-7.3-4.3-4.9M172.6 87.1l1.3-1.1 5.2 1.2 2.7 0 2.3 1.1 .1 1-10.2-1.5-1.4-.7M184.8 89.2l14.9-.2-5 2.3-8.7-1.5-1.2-.6M177.4 76.6l.7-.6 1.7 .5 7.9-6.7 2.4 2.1-1.6 1-.4 1.6 1.5 2.7-1.7 1.2-1.9 4.8-1.7 .5-1.7-1.2-3.8-.3-.2-1.8-1.1-1.4-.1-2.4M189.5 81.9l.8 3.5 1.2 .2-.1-3.4 .8-.4 1.8 2.9 1-.4-2.4-3.4 2-1.4-2.2 .3-1-1.8 .6-1.1 2.6 .5 2.7-.9-1 1.5-3.2-.1-2 .6-1.6 3.4M204.6 80.1l1.9-1.1 1.9 .5 1.2 3.2 3.1-2.2 8.7 2.8 1.8 2.1 2.3 .8-.9 1.8 4.2 3.7-3.1-.4-2.5-2.6-2.2-.4-1.1 1.5-2.9 .2-2.4-1.3-1.3 .3-.5-3.7-3.8-1.7-1.9 0-1-1.4 1.6-.8-3.1-1.3M200.3 76l1.2 1.2-.6 2.3-.8-1.6 .2-1.9M191.7 55.5l2 0 .2 1.7-1 1.6 .6 1.9 2.5 1.5-4.3-1.7-.7-2 .7-3M193.5 69.7l1.8-1 2.5-2.5 1.3 3.5-1.4 1.7-1.7-1.1-2.5-.6M193.5 63.7l1.8 1.6 1.9-.9 .6-1.6-1.8 0-2.5 .9M204.5 38l2-1.6 4.3-.2 1.7-1.7 3.1-1.4 .2-1.7 1.9-.8 .6 1.8-1.3 2-.2 1.8-1.2 .7-5.8 1.4-5.3-.3M215.8 30.5l4.1-.5 2.7-1.2-4.7-1.9-.5 1.7-1.6 .9 0 1M203.4 38.5l2-.1-.4 2.3-.9 .5-.7-2.7M218.3 26.3l1.8-.4-.6-2.1 1.9 0-1.6-2-.7-2.2-.8 6.7M192.2 47.5l1.3 .4-1.5 3.6-.9-1.3 1.1-2.7M176.9 54.7l1.7-1.1 1.2 .6-.8 1.3-1 .4-1.1-1.2M141.3 66.2l2.3 2.8-.2 1.4-1.3 .6-.9-1.1 .1-3.7M35.1 22.9l8.8-.9 .4-1.2-4-1.7-.6-.7 .3-1.1-4-.7-1.2 .8 .6 1 .8 .9 2.3 .3 0 .8-1.9 0 .4 .7-1.2 .4 2.2 .3-2.9 1.1M481.5 22.9l8.8-.9 .4-1.2-4-1.7-.6-.7 .3-1.1-4-.7-1.2 .8 .6 1 .8 .9 2.3 .3 0 .8-1.9 0 .4 .7-1.2 .4 2.2 .3-2.9 1.1M481.2 21.2l-.2-1.4 .8-.2-1.3-.6-2.2 0-2.1 .8-.4 1.6 2.3 .3 3.1-.5M460.7 13.4l4.3 .3 6.9-1.1-1.9-.5-9.3 0-1.9 .4 2.5 .5-.6 .4M383.3 51.5l3.6-1.4 2.5 .1 7.2 3.3-4.1 .3-1.2-1.9-3.8-.8-4.2 .4M396.3 55.5l2-1.7 3.5 .3 2 1.3-3.7 1.2-3.8-1.1M106.7 9.7l6.2-1.4 13.6-.4-11.1 .7-5 1.5-3.7-.4M55.8 7.5l19.9-.4-11.2 .8-8.7-.4M-404.2 146.4l49.6-.2 12.4-1 24.8 .5 2.5 .9 9.9-1.4 62-.5 12.4 .3 37.2 2.3-2.5 2 39.7 .2 37.2-1.3 62-.4 16.1-3.6 12.4-1.1-3.7 1.6-5 3.8 5 .6 24.8 .3 12.4-.6 6.2-1 31-1.4M42.2 146.4l49.6-.2 12.4-1 24.8 .5 2.5 .9 9.9-1.4 62-.5 12.4 .3 37.2 2.3-2.5 2 39.7 .2 37.2-1.3 62-.4 16.1-3.6 12.4-1.1-3.7 1.6-5 3.8 5 .6 24.8 .3 12.4-.6 6.2-1 31-1.4M488.6 146.4l49.6-.2 12.4-1 24.8 .5 2.5 .9 9.9-1.4 62-.5 12.4 .3 37.2 2.3-2.5 2 39.7 .2 37.2-1.3 62-.4 16.1-3.6 12.4-1.1-3.7 1.6-5 3.8 5 .6 24.8 .3 12.4-.6 6.2-1 31-1.4M333.6 9.7l6.2 0 3.7-.9-4.9-.2-5 .6 0 .5M343.5 8.6l14.9-.1 1.2-.5-19.8 .2 3.7 .4M374.5 8.6l14.9 0 0-.6-12.4 0-2.5 .6M363.4 9.5l7.4 .2 3.7-.5-9.9-.3-1.2 .6M380.7 13.6l7.5 .3 1.2-.8-6.2-.8-2.5 .5 0 .8M364.6 11l5 .2 1.2-.6-5-.1-1.2 .5M368.3 7.6l11.2-.1 1.2-.6-9.9 0-2.5 .7M98 7.1l21.1-.3-21.1 .3M157.5 7.5l13.7-.3-14.9-.1 1.2 .4M210.8 8.8l17.4-.3-11.2-.3-6.2 .6M264.2 9.9l3.7-.1-4.4-.1 .7 .2"/>
<path fill="none" stroke="#000" stroke-width="0.9" d="M79.4 6.2V151.0M116.6 6.2V151.0M153.8 6.2V151.0M191.0 6.2V151.0M228.2 6.2V151.0M265.4 6.2V151.0M302.6 6.2V151.0M339.8 6.2V151.0M377.0 6.2V151.0M414.2 6.2V151.0M451.4 6.2V151.0M42.2 15.7H488.6M42.2 42.3H488.6M42.2 78.5H488.6M42.2 114.8H488.6M42.2 141.3H488.6M265.4 70.0H339.8M265.4 73.5H339.8"/>
</g>
<rect x="42.2" y="6.2" width="446.40000000000003" height="144.8" fill="none" stroke="#000" stroke-width="1"/>
<path fill="none" stroke="#000" stroke-width="0.8" d="M37.2 149.9h5.0M39.7 146.6h2.5M37.2 141.3h5.0M39.7 134.0h2.5M37.2 125.1h5.0M39.7 114.8h2.5M37.2 103.3h5.0M39.7 91.1h2.5M37.2 78.5h5.0M39.7 65.9h2.5M37.2 53.7h5.0M39.7 42.3h2.5M37.2 31.9h5.0M39.7 23.0h2.5M37.2 15.7h5.0M39.7 10.4h2.5M37.2 7.1h5.0M42.2 151.0v5.0M54.6 151.0v2.5M67.0 151.0v2.5M79.4 151.0v5.0M91.8 151.0v2.5M104.2 151.0v2.5M116.6 151.0v5.0M129.0 151.0v2.5M141.4 151.0v2.5M153.8 151.0v5.0M166.2 151.0v2.5M178.6 151.0v2.5M191.0 151.0v5.0M203.4 151.0v2.5M215.8 151.0v2.5M228.2 151.0v5.0M240.6 151.0v2.5M253.0 151.0v2.5M265.4 151.0v5.0M277.8 151.0v2.5M290.2 151.0v2.5M302.6 151.0v5.0M315.0 151.0v2.5M327.4 151.0v2.5M339.8 151.0v5.0M352.2 151.0v2.5M364.6 151.0v2.5M377.0 151.0v5.0M389.4 151.0v2.5M401.8 151.0v2.5M414.2 151.0v5.0M426.6 151.0v2.5M439.0 151.0v2.5M451.4 151.0v5.0M463.8 151.0v2.5M476.2 151.0v2.5M488.6 151.0v5.0"/>
<text x="34.9" y="152.6" class="t7" text-anchor="end">-80</text>
<text x="34.9" y="144.0" class="t7" text-anchor="end">-60</text>
<text x="34.9" y="127.8" class="t7" text-anchor="end">-40</text>
<text x="34.9" y="106.0" class="t7" text-anchor="end">-20</text>
<text x="34.9" y="81.2" class="t7" text-anchor="end">0</text>
<text x="34.9" y="56.4" class="t7" text-anchor="end">20</text>
<text x="34.9" y="34.6" class="t7" text-anchor="end">40</text>
<text x="34.9" y="18.4" class="t7" text-anchor="end">60</text>
<text x="34.9" y="9.8" class="t7" text-anchor="end">80</text>
<text transform="translate(23.3,28.2) rotate(-90)" class="tl" text-anchor="middle">Latitude</text>
<text x="4.2" y="149.0" class="t12">(a)</text>
<clipPath id="cb"><rect x="42.2" y="165.0" width="446.40000000000003" height="144.60000000000002"/></clipPath>
<g clip-path="url(#cb)">
<rect x="42.2" y="165.0" width="446.40000000000003" height="144.60000000000002" fill="#313695"/>
<path fill="#4575b4" d="M41.2 164l447 0 0 80.3-3 .7-1.6 1.5 .6 4.5 4 1.3 0 57.2-447 0 0-54 2.9 0-1.4-.6-1.5 .5 0-3 4.5 2.1 1.5-.1 .7-.4 1.1-3 4.2-1.9 1.3-1.1 .3-1.5-1.6-.8-6-.3-3-.9-3-.2 0-80.3zM89.2 186.5l-3.6 1.5 .6 1.5-1.5 1.2-6 .6-3 2.2-12-1-12 3 1.7 3-5.6 0-.6 1.5 .3 1.5-4 1.5 5.4 3-2.9 1.5 .3 1.5 5.3 1.5 1.6 1.7 1.5 .1 4.5-1.5 9-.7 1.6 .4 .7 1.5 .7 .3 6 1 3-.6 1.5-1.4 1.5-.5 2.5 1.2 3.5 .5 3-.3 7.5-2.3 7.5 .9 4.5-1.5 2.5-1.8-1.9-1.5 2.4-1.6 6 .9 4.5-1.9 18-.9 7.3-2.5-1.1-1.5-3.4-1.5-.9-1.5 1.7-1.5-.3-1.5-5.7-1.5-3.6-3.2-3.1-1.3-5.1 0 1.5 1.5-3.8 .4-12-3.3-9 .1-16.5 1.3zM146.2 166.9l-.8 .1 5.3 .7 2.2-.7-6.7-.1zM249.7 255.1l-2.7 1.9 2.3 1.5-5.2 3 .1 1.5 .8 1.5 8.1 1.5 5.6-1.8 2-1.2-1.6-1.5 1.1-1.5 2.4-1.5-6.9-.9-1.5-.6 .1-1.5-1.6-.9-3 .5zM297.7 203.1l-.9 1.4 2.4 .4 1.6-.4-1.6-1.3-1.5-.1zM341.2 199.6l-2.3 1.9 5.9 3 6.9 1.2 3.1-1.2 1.7-1.5-.3-1.5-1.9-1.5-7.1-.8-6 .4zM450.7 301.9l-.5 .1 .9 0-.4-.1zM42.7 304.9l-.8 .1 1.7 0-.9-.1zM75.7 303.4l-.4 .1 1.1 0-.7-.1zM77.2 259.5l-1.4 .5 2.9 .4 2.9-.4-1.4-1.4-3 .9zM84.7 264.3l-1.2 .2 2.7 .5 2.3-.5-3.8-.2zM90.7 247.6l-1.9 1.9 1.2 1.5 3.7 .7 7.5 3.8-6 .9-4.3 2.1-.5 1.5 1.8 4.2 3 1 6-.1 1.2 .9-7.2 .6-1.3 .9-.7 1.5 3.5 2.2 12 0 4.5 1.7 6 .3 3.6 1.8 3.9 .4 9 .6 10.5-.7 7.5 1.5 4.5 .3 10.5-1.3 4.5-1.1 4.3 .3 4.7 1.6 3-.1 5.7-1.5-8.9-1.5 .2-1.5 1.5-1.5 4.5 1.3 7.5-1.1 1.3 1.3-2 1.5 .7 1.5 3 0 3-2 6.2-2.5 .2-3 1.1-1.6 6-1.5 7.5 1.1 7.5-1.6 4.5 .6 .6-1.5-1.2-1.5 1.5-1.5-2.4-1.3-7.5-.9-12 2.1-16.5-1.2-3 1.4-9 .6-4.5 3.7-1.5 .1-3-.3-1.5-1.6-1.5-.6-12 1.6-25.5-.2-9-.9-10.5 .9-1.1-.4 1.4-1.5-1.6-1.5-5.1-1.5-.1-3 .9-1.5-3-1.5-.4-1.6-3-1.3-7.8-.1 .9-1.5-2.1-.7-4.5 .3zM80 197l3 0-3 0zM76.5 200l2.8 0-2.8 0zM102.4 201.5l2.5 0-2.5 0zM343.8 201.5l1.9-.4 1 .4-2.9 0zM201.6 263l.4 0-.4 0z"/>
<path fill="#74add1" d="M41.2 164l298.5 0-1.8 1.5 1.8 .4 1.5-.2 1.5-1.4 1.2-.3 7.8 .7 12-.1 4.6-.6 119.9 0 0 35.8-1.6 .2 1.4 1.5-1.6 1.5 1.7 3-.9 1.5 1 .4 0 35.4-4.5-.5-2-.8-.9-1.5-3.1-.7-3 .6-1.1 1.6 2.6 1.1 1.5 1.3 3-.1 1.5 .7-1.6 1.5 1.4 1.5 .4 3 4.6 3-.9 1.5 2.1 1.3 0 19.1-1.9 .6 1.9 1.8 0 26-1.8 .7-1.6 1.5 3.4 .2 0 2.8-447 0 0-2.8 3.3-.2 1.9-1.5-2.2-1-3 0 0-26.8 .6-.7-.6-.4 0-19.2 7.5-.6 7.5 .2 .4 2 2.4 1.5-1.7 3 1.9 2 3 .8 7.5-.7 6 1.2 9 .5 2.5 .7 0 1.5 3.5 .8 3 2.4 4.5 .6 9.5-.8 2.5 2.4 7.5 2.2 9-.1 7.5 .9 12-1 10.5 2.5 4.5-.4 4.5-1.1 6 .4 3-.9 6 1 4.5-.2 6-1.3 10.5 1.1 1.5-1 .5-3 4-1.4 6.5-.1-2-.9-.5-2.1 .5-.2 9-1.7 4.5 .9 4.5 1.6 8.2-.6-.7-2.2-1-.8 4-1 3 .1 7.5 1.7 3 0 7.5-2.1 2.1-1.7-1.8-1.5 1.2-.6 3-.2 3 .6 1.5-2.8-8.5-3 3.8-1.5-4.3-1.1-3.3-1.9-2.7-.5-4.5 1.4-1.6 2.1-3.9 1.5-2 2.7-1.5 .5-1.5 1.7-1.5 0 .2-1.9-15.2-2.4-6.4 2.4-2.6 .4-12-2-12 .4-4.5 1.1-9 0-.7 .1-.5 1.5-1.8 .5-15 1.5-6-.2-15-2.1-4 .3-2.2 1.5-8.8 .2-4.5-1.1-4.8-2.1-1.3-1.5-.3-1.5 .6-1.5-2.2-1.5-2.5-3 1.1-1.5-3.5-4.5-2.1-.9-9 1.2-3 2.2-4.5 .5-.7 1.5-3.6 1.5 .5 1.5 7.7 1.5 .9 3-1.5 1.5-1.8 .6-3-.1-3.6-2-2.4-.5-1.7 .5-4.3 2.9-6 .5-13.5-4.2-3.8-2.2 1.2-1.5 4.9-1.5 .7-1.8 3.5-1.2-4-1.5 3.4-1.5-2.9-.9-3.6-2.1-3.9-.9-4.5 .9 .3 1.5-4.8 1.3 0-35.3 6.5 2.5 .3 1.5 2.9 1.5 3.8 1 3-.2 1.5-1.1 1.5-.3 7.5 .5 3 1 9 1 3-.4 1.9-1.5 2.8 0 6.1 1.5-.3 1.3-4.6 .2-.5 1.5 .6 .6 1.5 1 4.5 .4 1.5-.5 4.5-3.7 .5 .7 2.5 .4 5.3-.4 1.3-1.5 4-1.5 2.9-3.5 4.5-1-1.2-1.5 5-3 8.2-.4 6 1.6 1.5-.1 3-1.6 6.2-1-.6-1.5 3.4-1.5-.6-1.5-4.2-1.5-1.1-1.5 .7-1.5-.1-1.5-.7-1-6-2 2.1-3-2.1-1.3-7.2-.2-3.3-1.4-5.4-.1 .9 .2 .6 1.3-3.6 .6-2.5-.6 1-1.1 1.6-.4-6.1-.6-18 1.9-7.5-.7-10.5 2.9-4.5 0-3.8 2.5 .2 1.5-.9 .5-3 .3-7.5-.4-12 3.5-7.1 3.6 .8 1.5-2.7 1.9 0-37.9zM116.2 169.9l-.7 .1 3.8 0-3.1-.1zM144.7 166.8l-1.4 .2 4.4 1 6 .5 .5-1.5-3.5-.5-6 .3zM218.2 173l-.4 0 2.4 0-2 0zM269.2 252.2l-.7 .3 1.4 1.5 4.2 0 .1-1.5-3.5-.6-1.5 .3zM272.2 201.2l-1 .3 2.5 .4 3.5-.4-5-.3zM281.2 252.3l-.4 .2 .5 1.5 5.8 1.5 .1 1.5 1.1 1.5 1.9 .7 3 .1 4.5-1.4 6-.1 3.8-.8-5.3-1-4.5-2-6-.8-4.5-1.4-3-.2-3 .7zM294.7 199.6l-.9 .4 .4 1.5-.6 3 .6 1.5 2 1.1 9.6-1.1-1.7-1.5 .5-1.5 2.9-3-8.3-.7-4.5 .3zM306.7 165.3l-.5 .2 4.2 0-.7-.4-3 .2zM312.7 241.7l-2.2 1.8 2.2 1.4 3 .2 4.6-1.6-3.1-2.7-4.5 .9zM318.7 199.9l-.4 .1 1.9 1.5 1.5 .2 1.2-1.7-4.2-.1zM339.7 196.8l-1.5 .4-.9 1.3-2.3 1.5-1.3 3-4.5-.4-4.5 2.3-4.5 .2-1.5 .5-.5 .4 1.2 3 2.3 .7 9 .4 .8-1.1-4.6-1.5-1.6-1.5 3.9-.9 1.5-1.6 1.5-.5 3 .2 4.5 1.9 5.5 .9 5 2 3-.5 5-3 .4-1.5-1-3-1.4-.6-10.5-2.5-6-.1zM374.2 189.4l1.5 .4 3.4-.3-1.9-.5-3 .4zM422.2 205.4l-1 .6 .3 1.5 3.7 .7 1.9-.7-.4-1.7-1.5-1-3 .6zM449.2 207.1l-3.8 1.9 11.3 2.2 4.5-.6 3-1.6-3-2.1-10.5-.2-1.5 .4zM465.7 168.4l-.7 .1 6.8 0-6.1-.1zM474.7 281.9l-.7 .6 2.2 1.1 1.5 .1 2.3-1.2-2.3-.6-3 0zM42.7 285.1l0 .5 2.3-.1-.8-1.1-1.5 .7zM45.7 298.8l-.7 .2 .7 1.1 .5-1.1-.5-.2zM47.2 265.6l-1.3 .4 1.4 1.5 4.5 0-1.6-1.8-3-.1zM71.2 300.5l5.5 1.5-4.6 1.5 2.1 .6 4.5-.2 3-1.3 3.7-.6-2.2-.4-1.3-1.1-3.2-.6-7.5 .6zM81.7 270.4l-6.6 1.6 2.1 1.1 3 .3 3-2.7 1.9-.2-3.4-.1zM92.2 302l-1.1 0-.1 1.5 2.8 0 1.7-1.5-3.3 0zM137.2 295.9l6.2 .1-6.2-.1zM152.2 280.6l-1.1 .4-.4 .9-1.7 .6 4.7 .4 3 1.2 2-.1-.4-1.5 .4-1.5-.5-.4-3-.7-3 .7zM197.2 279.4l3 .6 2.5-.5-1-.7-1.5-.1-3 .7zM213.7 277.6l-.5 .4 2 .6 1.5-.1 .4-.5-1.9-.6-1.5 .2zM234.7 308l-.4 0 .4 0zM261.7 307.7l-.5 .3 2 .5 5.4-.5-3.9-.7-3 .4zM59.2 214.9l4.1 .1-1.1-.6-3 .5zM81.7 246.4l-.7 .1 1.5 0-.8-.1zM101.2 222.3l-.5 .2 5 1 .4-1-.4-.5-1.5-.2-3 .5zM107.2 223.7l-.9 .3 1.5 0-.6-.3zM147.7 189l-.6 .5 .6 .5 4.9-.5-1.9-.9-3 .4zM272.2 265.9l-1.2 .1 1.1 1.5 1.6 .2 1.7-.2 2.1-1.5-5.3-.1zM311.2 307.8l4.5 .5 5.1-.3-8.1-.6-1.5 .4zM450.7 300.4l-1.5 .2-2.2 1.4 3.7 .5 3.6-.5-3.6-1.6zM143.2 306.3l-.6 .2 5.6 0-5-.2zM155.2 286.8l-1 .2 1.9 0-.9-.2zM78.9 189.5l1.3-.8 3 .8-4.3 0zM41.2 204.5l2.7 1.5-2.7 .7 0-2.2zM99.7 213.5l3-1.2 3.2 1.2-3.2 1.9-3-1.9zM70.1 261.5l5.6-.2 4.5 .9 6-1.7 2.3 1-2.3 1-16.5 1.5-5.3-1 5.7-1.5z"/>
<path fill="#abd9e9" d="M41.2 164l266.2 0-3.8 1.5 4.6 .7 4.9-.7 .9-1.5 23.1 0-1.8 1.5 5.9 2.1 1.5-.3 3-1.9 19.5-.3 6.4-1.1 116.6 0 0 33.3-3 .8-2.5 1.9 1.4 1.5-.3 1.5 .6 1.5-2.2 2.6-2.9 .4 7 1.5-4.6 1.5 6.5 1.9 0 29-3-.5-7.5-3-3 .4-6.5 3.7 .8 1.5-.7 1.5-7.1 2.3-3 1.6-3.3 .6-2.3 1.5 2.3 1.5 .3 .8 9-.4 1.2-.4-1.7-1.5 10.3-1.5 2.2-1.8 1.5-.2 1.5 .5 1.3 3 4.2 3-1 1.6-2.5 1.4 2.5 .9 4.5 .3 0 11.4-9 1.5-7.5 .3-10.8-.9 2.9 1.5 6.4 1 3.7 2-2.2 .5-7.5-.7-7 1.7 .3 1.5 3.2 1.5 0 1.5-1.5 1.5 1.7 1.5-1.1 1.5 1.8 1.5 7.1 2.5 3-1.3 7.5-.1 3-.8 .5-.3 .1-1.5 2-1.5 .4-1.5 3-1.5 0 2.1-2.1 .9 1.4 1.5-.5 1.5 1.2 .6 0 15.5-5.4 .4 .3 1.5-1.1 1.5 6.2 .7 0 2.3-247.3 0-.9-1.5-6.8-.6-3.3 .6 3.9 1.5-24.4 0-3.2-.6-2.6 .6-41.2 0-4.2-.9-6 .9-111 0 0-2.3 6.3-.7 2.7-2.8 1-.2 .1-1.5-2.1-1.5 .8-1.5-2-1.5-3.8-1.9-3-.1 0-7.2 6 2 3 .2 2.9-.5 2.1-1.5-6.5-.3-3.2-1.2 3.5-1.5 1-1.5 2.3-1.5-1-1.5-4.1-.3-6 1.9 0-2.1 4.5-2.9 6-.1 .8-1-.8-2.3-1.5-.9-4.5 .7-4.5-.3 0-.8 4.5-.3 9.8-2.1-.8-.9-13.5-.2 0-10.8 3 1 8.4 .4 .3 1.5-1.2 1.3-4.5 1.2-4.3 2 1.3 2.1 1.5 .5 7.5 .2 3 .7 6-1.3 4.5 1.4 9-.9 1.4 .3 0 1.5-6.9 1.5-1.8 1.5 7.3 .8 4.5 1.4 4.5-.9 6 .6 4.5-.8 .6 .4-.2 1.5 1.8 1.5-2.2 1-3.2 .5-6.3 3 .1 1.5 1.5 1.5 3.5 1.5 4.4 .1 2.5-1.6-4-.3-1.5-.4-.8-.8 3.3-1.5 1-1.5 11-1.5-.6-1.5 1.5 0 .3 1.5 2.3 .5 9 1 3-.4 2.7-1.1-5-1.5 5.3-.5 3.2 .5 3 3-1.7 1-4.5 1.1-1.5 .9 3.6 1.5 .6 1.5-3.5 1.5 2.3 .9 6 .3 4.5-.7 1.2-.5-.4-1.5 3.7-1.6 1.5-.1 3.5 1.7 4 .6 3 1.3 1.5 .2 3-.5 1.5-1.6-.8-1.5 3.4-1.5 .4-2 1.5-.8 3 0 6-1.6 10.5 .8 7.5-1.1 4.5 1 4.2 2.2 1.8 .1 2-1.6 5.5-2.2 2.7 .7-3 1.5-.2 1.5 2 .5 3 .3 3-1.6 6-1 2 .3 2.5 2.4 1.5-.2 2.6-.7-.8-1.5 1.9-1.5-.6-1.5 5.6-1.5-3.4-1.5 1.4-1.5-.7-.7-4.4-.8 1.4-.1 1.1-1.4 4.9-.3 1.1 .3 .4 1.2 9 .2 3-1.2 4.4-3.2 6.1-.5 2.5 .5-4.1 1.5 1.3 1.5 1.8 .1 4.5-.8 3 .3 1.1 .4-1.3 1.5 3.2 1.3 1.5 0 1.5-.9 1.5-2.7 2.4-.7 .7-1.5-.2-1.5-7.4-1.3-6.1-.2 6.1-.5 3-1.8 21-1.7 4.1 1 2.1 1.5 4.1 0 1-1.5 2.2-1.5-1-1.5 .6-1.5 2.6-1.5-2.2-1.4-6 .4-2-.5-1-1.1-13.5-2-2.8-1.4-.8-1.5-1.7-1.5-2.2-.7-8.5 .7-5 3.6-4.5 .9-2.2-1.5 .7-.7 3.8-.8 0-1.5-3.8-.4-2.5 .4 .4 1.5-5.4-.3-4.5 1.8-3 2.8-10.5 1.7-3 1.8-3.9-.3 3.4-1.5-1.2-1.5-2.8-.4-2.2 .4-.8 1.5-9 1.2-3 1.7-12-2-6 1.4-6-.2-15 1.7-4.5 1.8-4.5-1.1-16.5 1-9-1.3-12 1.2-1.8-.9 .6-1.5-3.3-.4-4.1 .4 4 1.5-2.9 .7-3-.7-.6-1.5-2-1.5 .5-1.5-1.6-1.5-.2-3 .6-1.5-4.1-3-2.2-3-.5-1.5-18.4-2.2-2.5 .7-2.5 3 .3 1.5-5.8 1.3-4 1.7 2.8 1.5-.5 1.5 2.5 1.5 3.7 1.1 4.4 .4 1 1.5-.9 1-1.5 0-4.5-1.6-3-.1-6 3.7-3 .3-2.1-.3 .8-1.5-1.7-1.3-6-.4-6.7-1.3 7.5-3 4.1-4.5-1-1.5-4.1-1.5-1.3-1.5-7.5-1.9-3 .1-7.5 2.1 0-27 3 1.2 6-.1 1.5 1.2 1.5 .3 9 .2 10.5-1 6 .9 5.2 0 2.2 1.5 1 1.5 5.2 1.5 3.7 3 7.7 1.5-2.3 1.5 2.8 .6 4.5-.2 1.5-.4-.3-1.5 1.5-1.5-1-1.5 .9-1.5 .4-3 6.6-1.5-1.9-1.5 3-1.5 .7-3 5.3-1.5 1-3 1.8-.6 3 0 6 1.1 3 1.1 3 .1 1.2-.2 1.8-1.8 5.4-1.2 3.2-1.5 1.3-4.5-1.9-1.5-3.6-1.5-.4-1.5 .5-1.8 1-1.2 3.5-1.5-.5-1.5-3.4-1.5-1.9-3-6.2-1.7-12-1.5-6 1.5-16.5 .1-9 2-3-.4 .4-1.5 2.5-1.5-1.4-.7-3-.1-3 .9-4.9-.1-.8 1.5 .1 1.5-1.3 1.5-3.6 .6-6 0-3.3 .9-2.7 4.4-10.5-1.4-2.2-1.5-1.7 0 .5 1.5-1.2 3-1.9 0-2.5-.9-3 .6-.7 .3 1.4 1.5-6.7 3.2 0-33.2zM48.7 174.5l4.5 .6 3-.6-1.5-1-1.5-.1-4.5 1.1zM62.2 183.2l-.5 .3 3.5 1.3 1.5-.2 1.3-1.1-2.8-.7-3 .4zM74.2 170l4.5 .5 5.2-.5-9.7 0zM75.7 166.7l-1 .3 8.8 0-7.8-.3zM96.7 170l4.5 1.1 2.8-1.1-2.8-.5-4.5 .5zM111.7 170l4.5 .6 6.7-.6-5.2-.5-6 .5zM141.7 166.8l-.8 .2 17.3 3 4.5-1.2 6 .5 2.8-.8-1.3-.4-12 .1-6-1.9-10.5 .5zM174.7 166.7l-.7 .3 8.2 .4 4.3-.4-11.8-.3zM188.2 183.3l-.8 .2 2.3 .4 1.4-.4-2.9-.2zM198.7 169.9l-1 .1 4 1 2.4-1-5.4-.1zM215.2 172.8l-1 .2 4 .9 8.4-.9-5.4-.6-6 .4zM228.7 165.3l-.7 .2 6.4 0-5.7-.2zM234.7 168.4l-1.5 .3-3 2.5-1.6 .3 4.6 .1 5-1.6-1-1.5-2.5-.1zM239.2 173l5.9 1.5 1.6 1.2 1.5 .2 5.1-1.4-.6-.9-4.5 .1-1.5-.7-3-.3-4.5 .3zM246.7 168.5l1.5 1 1.5 .1 2.1-1.1-5.1 0zM255.7 171.4l-1.4 .1 1.4 .5 5.6-.5-5.6-.1zM264.7 171.4l-1.2 .1 5.7 1.2 6.2 .3 .7 1.5 2.1 .7 3 .1 2-.8-.7-1.5-1.7-1.5-1.1-.3-6-.4-9 .6zM267.7 168.5l-1 0 7.5 0-6.5 0zM287.2 165.4l-1 .1 4.2 0-3.2-.1zM321.7 189.4l1.3 1.6 1.7 .3 2.1-.3 1.4-1.5-3.5-.6-3 .5zM335.2 190.1l-1.5 1.8-2 .6-1.7 1.5 4 1.5 .2 1.5-.5 1.5-3 .9-3-.1-3-1.1-3-.2-9 2-7.8-1.5-11.7-.9-8.6 2.4 6.4 3-1.9 1.5 .4 1.5 2.4 1.5 .1 1.5 1.2 1.4 1.5-1.4 4.5-.6 2.8 .6 3.2 1.6 6 .2 1.6-.3 .1-1.5-2-1.5 1.8-1 1.5 0 2.3 1-.4 1.5 2.6 1.4 7.5 .3 9 1.5 1.4-.2 .1-1.7 1.5-1.2 7.5 1.7 5.8-.3 1.6-1.5 3.3-1.5 4.4-3-1-3 .3-1.5-2.4-1.2-7.2-1.8-1.8-1.2-8.2-.3 1.6-1.5 3.6-1.5 1.9-1.5-1.9-1.5-6 .7-3-.6-1.5 .5zM354.7 186.4l-.5 .1 2 0-1.5-.1zM357.7 166.7l-1.2 .3 1.2 .8 1.5 .1 1.7-.9-3.2-.3zM377.2 177.4l-3.3 1.6 4.8 .6 2.2-.6-1.8-1.5-1.9-.1zM380.2 167.8l-1.4 .7 2.9 .5 5.2-.5-2.2-1-4.5 .3zM396.7 168.5l-.6 0 .6 0zM408.7 204.4l1.5 .6 2.1-.5-3.6-.1zM414.7 201.5l1.5 .7 1.6-.7-3.1 0zM420.7 202.5l-1.4 .5 0 1.5-1.6 1.3-1.5 1-3 .5-.4 .2 .4 .7 3 0 4.5 1.1 4.5 .4 10.9-.7-1.1-1.5-5.3-1.1-.7-1.9-2.2-1.5-6.1-.5zM426.7 180.4l1.5 2.2 1.5 .3 2.7-.9-1.2-1.5-4.5-.1zM431.2 165.3l-.4 .2 3.4 .4 2.8-.4-5.8-.2zM437.2 192.5l-2.5 1.5 2.5 1.1 1.5-.2 .9-.9-.9-1.3-1.5-.2zM449.2 167l-.7 0 10.2 0-2-.6-7.5 .6zM464.2 168.1l-1.3 .4 1.3 .6 3 .1 7.6-.7-4.6-.6-6 .2zM480.7 195.5l-.4 0 1 0-.6 0zM465.7 259.9l-1.1 1.6 4.3 3 1.3 .3 9-1 2.8-.8 .5-1.5-1.8-.6-7.5 .1-4.5-1.6-3 .5zM458.2 298.9l-.5 .1 6.5 1.4 1.5-.3 .7-1.1-3.7-.6-4.5 .5zM471.7 295.7l-1.4 .3 4.4 2 4.8-.5-1.6-1.5-1.7-.5-4.5 .2zM59.2 296l1.5 .6 1.1-.6-2.6 0zM63.7 288l-1.2 .5-.2 1.5 .8 1.5 2.9 1.5 .3 1.5 7.9-.4 1.7 .4 .4 1.5 2.7 0 .6-1.5-.2-1.5-2.4-1.5 2.8-1.5-8.6-.6-4.5-1.5-3 .1zM107.2 297.4l-.8 .1 3.2 0-2.4-.1zM116.2 299l1 0-1 0zM119.2 292.9l-1.6 1.6 9.1 .2 3.8-1.7-5.3-1-6 .9zM131.2 300.4l0 .5 1.5 .6 5.1-1-2.1-.7-4.5 .6zM137.2 294l-5 2 3.5 1.4 9 .2 1.5-.3 1.4-1.3-2.9-1.3-7.5-.7zM152.2 291.4l-.7 .1 .7 .4 0-.5zM153.7 300l-1.1 .5 6.4 0-2.3-.9-3 .4zM164.2 306.3l-1 .2 4 .7 5.4-.7-3.9-.6-4.5 .4zM168.7 298.6l-1.3 .4 1.4 1.5 3.2 1.5 13.2-1 12 2.7 7.5-.6 3-1.1-7.5-.3-1.5-.5-.4-.7-2.6-.7-10.5 .5-4.5-1.5-12-.2zM185.2 282.3l1.8 .2-1.8-.2zM215.2 283.4l-.4 .6 2.8 1.5 3.6 .6 3.1-.6 2-1.5-11.1-.6zM252.7 283.9l-.7 .1-.9 1.5 3.1 0 1.5-1.1 3.4-.4-6.4-.1zM260.2 278l4.5 .8 3.8-.8-3.8-1.3-3 .4-1.5 .9zM275.2 280.6l-.9 .4 3.9 .7 4.8-.7-.3-.8-7.5 .4zM281.2 274.7l-1 .3 2.5 .5 1.6-.5-3.1-.3zM285.7 304.8l-.9 .2 9.5 0-8.6-.2zM291.7 262.6l-.9 .4 2.1 1.5 1.8 .5 .9-.5 .1-1.5-4-.4zM302.2 306.4l-.3 .1 9.3 2.2 7.5 0 3.8-.7-9.8-1.9-7.5-.2-3 .5zM308.2 267.5l1.3 3 1.7 .5 4.1-2 .2-1.5-2.8-.6-4.5 .6zM90.7 228.4l-.7 .1 1.5 0-.8-.1zM99.7 231.3l-1.3 .2 8.8 1.2 2.1-1.2-9.6-.2zM50.2 185.9l-1.1 .6 2.8 0-1.7-.6zM51.7 183.1l-1.1 .4 1.1 1.1 3.1-1.1-3.1-.4zM168.7 185l1.5 .9 3 .5 6.7-1.4-2.2-.7-6-.4-3 1.1zM177.7 173l2.1 0-2.1 0zM260.2 177.4l-.5 .1 .5 .9 3 .5 4.3-1.4-4.3-.5-3 .4zM287.2 175.9l-.7 .1 3.7 1.6 1.8-.1 1.4-1.5-1.7-.5-4.5 .4zM291.7 246.3l-.4 .2 2 0-1.6-.2zM305.2 252.4l-.6 .1 .6-.1zM318.7 238.9l-9 1.6-.6 1.5-3.6 3 2.7 1.2 4.5-.1 6 .9 12-.7 7.5 1.2 1.5-.4 3-2.7 5.4-.9 .8-1.5-6.2-.6-6.6-2.4-3.9-.8-13.5 .7zM374.2 187.9l-2.9 1.6 4.4 1.2 3-.2 3.5-1-2-1.5-3-.5-3 .4zM380.2 181.8l-.4 .2 1.9 .8 1.5-.8-1.5-.5-1.5 .3zM416.2 214.6l-1.2 .4 2.7 1.7 3-.2 1.7-1.5-1.7-.9-4.5 .5zM428.2 213.5l2.2 0-2.2 0zM449.2 181.9l-1.5 .3-1.2 1.3 1.2 .7 3 .6 1.5-.3 .9-1-.8-1.5-3.1-.1zM458.2 199.5l-.6 .5 .9 1.5 2.7 1.2 3 .2 1.7-1.4-2-1.5-4.2-.7-1.5 .2zM465.7 189.3l-1.5 1.2 0 .9 3 .6 1.7-1 .3-1.5-3.5-.2zM72.7 298.5l-6.6 2 5.1 1.5-1.2 1.5 4.2 1.3 10.5-1.2 10.5 .5 2-.6 1.3-1.5-1.8-1.3-9 .2-12-2.9-3 .5zM141.7 306l-.9 .5 5.4 .7 4.4-.7-4.4-.8-4.5 .3zM203.2 304.3l-.5 .7 3.7 0-1.7-.8-1.5 .1zM260.2 307.6l-.4 .4 .4 .3 3 .7 13.5-1-12-1.4-3 .2-1.5 .8zM263.2 282.2l.6 1.8 2.4 1 4.5 0 2.9-1-4.4-2.2-4.5-.3-1.5 .7zM275.2 284.7l-.8 .8-.2 1.5 2.5 .7 1.5-.1 .8-.6-2.3-1.9-1.5-.4zM177.7 180l-1 .5 .6 1.5 1.9 .7 1.5-.1 3.6-2.1-3.6-.9-3 .4zM264.7 198.1l-.7 .4-.4 1.5-1.3 1.5-6.2 1.5 2.4 1.5 3.2 .5 2.2-.5 2.3-1.6 7.5 1 5.6-.9 1.8-1.5-1.4-1.3-6-.8-4.5-1.5-4.5 .2zM318.7 259.8l-1.5 .3-.9 1.4 3.9 1.7 2.9-.2 1.6-1 4.5-.5-6-.3-4.5-1.4zM321.7 254.9l-.5 .6 .8 1.5 3 0 .2-1.5-2-.7-1.5 .1zM332.2 265.8l-.8 .2 3.1 1.5-.6 1.5 2.8 .8 5.6-.8 .8-1.5-4.9-2.4-6 .7zM348.7 263l-.5 0 5 .6 3.3-.6-1.8-1.2-6 1.2zM383.2 184.2l-.2 .8 1.7 .6 3-.1 1.3-.5-2.8-1.1-3 .3zM420.7 219.3l-.6 .2 5.1 1 1.4-1-2.9-.7-3 .5zM449.2 205.1l-6.4 3.9 6.4 4.5-.4 1.5 1.9 1.1 3.3-1.1-.2-1.5 8.9 .8 6.5-.8 .8-1.5-1-1.5 .6-1.5 2.8-1.5-5.2-2-3-.5-15 .1zM264.7 294.3l-.6 .2-.4 1.5 5.2 0 1.2-1.5-2.4-.8-3 .6zM276.7 290.9l-.7 .6 2.2 .4 1.8-.4-3.3-.6zM278.2 237.4l-2.9 1.6 1 1.5 3.4 .9 2.4-.9-.2-1.5-1.4-1.5-2.3-.1zM348.7 269.6l-1.1 .9 5.1 0-2.5-1-1.5 .1zM384.7 255.3l-.4 .2 .3 1.5 .8 1.5-1.8 1.5 3.7 1.5-4.5 1.5 3.4 1.3 .6 1.7 3.5 1.5 .4 .9 4.8 .6-.6-1.5 .5-3 1.3-1.6-1.5-.3-3 1-3.9-.6 1.5-3 3.9-.4 1.8-1.1-3.3-1-3-2.8-1.5-.2-3 .8zM422.2 277.9l-.5 .1 2 .5 1.7-.5-3.2-.1zM425.2 234.5l0 .3 .9-.3-.9 0zM452.2 217.5l-3.5 2 .1 1.5 3.4 .4 3.9-1.9-.3-1.5-3.6-.5zM452.2 237.2l-1.7 1.8-3.7 1.5-1.6 1.5 7 .7 2.5 .8-11 3 5.5 .2 3-1 9-.7-6-2.2-1.5-2.3 2.6-1.5 .4-1 1.5-.4 7.5 .4 2.8-.5-16.3-.3zM446.2 255.3l-5.8 1.7 2.8 .6 4.9-.6 .1-1.5-2-.2zM444.7 260.7l-1 .8 2.5 1.5 .3 1.5 1.2 .6 7.5 0 2.5-.6-7-3.3-6-.5zM444.7 283.9l-1.2 .1 1.8 0-.6-.1zM449.2 270.5l-1 1.5 1 .9 2.7-.9-.6-1.5-2.1 0zM449.2 291.4l-1.5 .5-.9 1.1 3.9 1 6.4-1-7.9-1.6zM447.7 300l-2.7 2 5.7 1.1 5.9-1.1-2.9-2.2-1.5-.4-3 0-1.5 .6zM309.6 201.5l3.1-1.5 1.5 .7 .8 .8-1 1.5 1.3 1.5-2.6 .8-3.8-.8 .7-3zM337.6 207.5l2.1-.5 4 .5-5.5 1.3-.6-1.3zM41.2 210.5l0-.4 1.5 .4 1.5 1.5-3 .8 0-2.3zM323.9 240.5l.8-.7 1.5 0 2.8 .7 1.7 1.5-3 .6-3-.4-.9-.2 .1-1.5zM275.9 248l.8-.6 1.3 2.1 2.6 1.5-2.4 .4-3.5-.4 1.9-1.5-.7-1.5zM243.3 254l.4-1.3 1.5-.2 .5 1.5-2.4 0zM274.3 255.5l3.9-.4 4 .4-1.9 1.5-2.1 .1-3.9-1.6zM238 257l2 0-2 0zM469.8 263l1.9-.5 1.7 .5-.2 .5-1.5 .4-1.9-.9zM240.5 267.5l1.7-1 1.5-.2 6.3 1.2-1.8 1.2-4.5-.4-3.2-.8zM221.1 269l2.9 0-1.3 .8-1.6-.8zM84.7 272l3-.4 1.2 .4-2.7 .7-1.5-.7zM225.6 272l4.5 0-4.5 0zM102.9 273.5l3.4 0-.6 .6-2.8-.6zM205.9 273.5l3.3-.6 2.6 .6 1.9 1.4 6-.4 .9 .5-2.4 .5-4.5-.4-6 1.4-1.5-.8-.3-2.2zM478.3 273.5l3.9-.9 6 .4 0 .7-7.5 2-3-.7 .6-1.5zM192.4 278l2.5 0-2.2 1.3-.3-1.3zM461.5 278l2.7-.5 2 .5-3.5 .8-1.2-.8zM474.4 279.5l1.8-.7 1.5 0 .8 .7-2.3 .4-1.8-.4zM137.1 282.5l1.6-.4 1.9 .4-1.9 .8-1.6-.8zM466.2 284l2.5-1.4 1.5 0 1.9 1.4-1.9 .7-4-.7zM41.2 302l0-1.2 2.9 1.2-2.9 .9 0-.9z"/>
<path fill="#e0f3f8" d="M41.2 164l108 0 4.5 .5 2.8-.5 22.1 0 2.1 .7 3 .1 3.5-.8 13.8 0 6.7 1 5.2-1 36.4 0-4.1 .8-15-.4-4.5 1.1 4.5 .9 30.5-.9-6.5-.1-3.7-1.4 54.4 0-3.6 1.5 6.9 1.3 6-.9 1.6-1.9 19.5 0-2 1.5 3.2 1.5 4.1 3 3.6 .4 2.7-.4-2.8-1.5 1.3-1.5 3.3-.9 4.1 .9-.1 1.5 .5 .2 12 1.6 4.4-.3-4.4-.8-.2-.7 1.7-.8 7.5-.6 1.5-.1 1.5 1.6 3 1 10.5-.9 7.5 1 1.5-.4 .7-.8-5.7-1.5-5.5-.4-4.5-1.2-4.5 1.2-4.5 .4-6-.6-2.5-.9 9.1-1.5 32 0 3.4 1.2 1.2-1.2 75.3 0 0 11.8-1.8 .2 .3 1.7 1.5 1.9 0 1.1-3-.1-1.5 .5-3 2.8-1.5 .3-6 0-4.3-.7 3.5-1.5-1.7-1.5-2-.5-12 .5-1.5-.3-1.5-1.2-1.5 0-13.5 2.4-4.5-1.3-7.5-1.1-1.5 0-1.5 .8-.4 .7 1.2 1.5 .2 1.5-1.1 1.5 15.1-.8 9 1.9 6 1.9 6 .4 1.9 1.1-1.9 1.8-6.8 1.2-.7 1.5-3 .8-6-.1-.9-.7-.6-1.9-1.5-.7-3 .1-3.6 1-1 1.5 1.6 1.5 3 1.1 4.2 .4-4.2 .9-3 1.3-5.1 .8 3.6 1.3 6-1.5 9 .2-1.5 .8-.4 2.2-2.6 3.1-1.5 .6-7.5-.8-2.2-1.4 .2-1.5-1-.9-7.3-.6 1.4-1.5-4.6-1.1-6 .4-4.5 2.8-5.9 2.4 1.8 3-1.4 3 8.5 1.2 4.5-.8 1.5 .2 1 .9-7 2.1-1.3 .9 .9 1.5-1.3 1.5 1.7 1.7 7.5 1.3-3.5 1.5 2 .9 9 0 2.5-.9-.8-3-2.3-1.5 2.1-1 3-.1 4.8-3.4-6.2-1.5 1.4-1.2 6-.8 1.5 .1 .7 .4 .5 1.5 4.3 1.5 .7 3 2.3 1.5-4.9 3 5.4 2.4 10.5-.8-2.5-1.6 2.4-3-4.3-1.5 2.9-.9 13.5-.1 1.8-.5 2-1.5-1.7-1.5 .9-.5 1.5-.2 7.5 1.9 3.5 1.8-.8 3 1.8 .3 0 21.1-3.9-.4 2.7-1.5-6.3-1.9-21-.1-7.5-.8-4.5 .9-12 .3-4.5-1.1-4.5-2.6-.4 .8-4.7 1.5 .2 1.5-1 1.5-3.7 3 6.2 0 7.9-2.2 6-.2 3 .6 6 0 .4 .3-6.4 2.9-6-.6-7.5 2.2 1 1.5 2 .5 1.5 0 1.5-1.5 3 .3 3.3 2.2-1.8 .6-6-.4-1.3 1.3 1.3 .4 6 .1 4.5-.8 4.9 .3-1.9 1.8-7.8 2.7-1.2 1.4-1.6 .1-2.3 3 1.1 1.5-2.2 1.5-.5 1.5 3.7 1.5 4.8-.9 3 .4 1.5 .5 2 3 2.5 .9 9 .2 7.5-1.4 4.4 1.8-.7 1.5-2.2 .4-4.5-.2-4.5-1.1-3 1.2-6 .3-1.8 .9-1.4 3 1.1 1.5 2.1 .4 6-1.1 2.7 .7-1.2 .4-3 2.7-4.6 1.4 2.3 1.5 .8 1.5-3 .2-6-1.1-2.1 2.4 .6 .9 3 1.3 .6 .8 2.4 .8 9.1 .7-1.6 1.6-7.5 .5-3 .8-6-.9-2 1 1.5 1.5 5 .5 1.6 1-.4 3 2.8 1.5-.6 1.5-1.9 1.5 9 1.7 4.5-.6 4.5-1.4 10.5-.6 9 3.5 .4 .4-.6 1.5 1.7 1 6 .2 0 1.8-4.5-.8-3.9 .8-76.4 0-3.7-.4-3.4 .4-133 0 11.9-.5 3.6-1-12.6-2.1-6.4 .6-1.4 1.5 2.8 1.5-11.1 0-3.4-1.7-16.5-1.5-2.4 .2 .2 1.5 3.1 1.5-18.1 0-.8-.7-4.3-.8-1.8-1.5 3.7-1.5-.2-1.5 1.3-1.5-8.1-1.5 .4-.5 4.6-1-.6-1.5-7-.7-3-1.6-4.8-.7 1.8-1.7 1.5-.3 10.5-.1 1.5-.8 1.4-1.6-1.4-1.1-1.5-.2-9 .2-6.6 1.1-.8-3-1.6-1.5 3.2-1.5-.9-3 3.7 0 2.7 3 .7 1.5-.5 1.5 1.6 .8 4.5-.1 1-.7-1.6-1.5 2.6-1.5 2.5-.3 2 .3 2.5 2.4 9 1.8 3 1.3 7.5 .2 4.5-2.2 7.5 .2 4.5-1.2 6 .3 4.5-.7 3.2 2.4 5.1 1.5-2 3-3.3 .5-2.3-.5-.7-3-1.5-.5-9-.4-6 .9 3 1.5 6-.7 4.4 .7 1.3 1.5-2.7 1.5-.3 1.5-2.7 .6-.7 .9 2.2 1.2 3.5-1.2-.5-.9-1.5-.6 1.5-.4 3 0 4.5 1.2 6 0 3.5-.8 1-2.2 1.5-.3 6 1.9 7.5-.3 1.9-.6-.4-.9-6.1-.6 0-1.5-2.6-3 .6-1.5-1.4-1.5 2.3-3 4.5-1.5 .3-1.5-1.5-1.5 2.2-1.5-.2-1.5-2.6-1.3-6-1.2-.4-.5 1.9-1.3 3-.1 3 1.8 3 .2 1.5-.4 1.5-2.2 1.5-.7 7.5 0 3 .5 4.5 2.8 3 .6 3.5-1.2-.3-1.5 2.7-1.5 1.6-1.9 3-.5 1.3 .9 .7 1.5 1 .2 9 1.7 7.5-.1 7.7 1.2 1.3 .9 3-.7 4.5-2.4 2.8-.8-4.3-1.4-2.2-1.6 4.9-3-1.5-1.5-5.7-1.2-4.5 1.4-7.6-.2-2 1.5-2.4 .1 .2-1.6-2.8-3-1-3-.9-.6-4.5-.5-4.5-2.2-6 .2-1.2-1.4 2.7-2.2 1.5-.4 6-.5 4.5 .2 6 4.1 1.5-.2 1.4-1 3.1-.9 7.8-.6 4-1.5-5.3-3 5.5-2.9 1-1.6-2.5-1-7.5 .1-4.5-1.6-4.5-.5 7.5-1.2 .9-.3 .9-1.5-4.8-1.2-7.5-.2-1.1 1.4 1.1 1.1 2.4 .4-.9 .5-3-.2-7.5 1.1-3-.6-1.9-.8-1.5-1.5-2.6-.6-2.3 .6 .2 1.5-2.4 .8-3-.1-3-1-4.5 0-2.2 .3-8.3 3.7-3-.6-4.5-3.1-3-.2-3 .3-6 3.7-3-.1-2.2-.7-1.6-3-.7-.1-1.5 .3-3.6 2.8 1.8 1.5 4.7 1.5-5.9 2.4-9.6 .6-.4 1.5 1.1 1.5-6.1 1.9-1.6 1.1-2.9 .6-3 .1-1.8-.7 1.8-1.3 4.5-1.1 .4-.6-6.4-.5-2.7 .5-.8 1.5-4 1-6 2.4-7.5 .7-3 .8-9-.6-7.5 1.6-2.3-1.4-2.2-.4-2.1 .4-1.3 1.5-4.1 .6-6 .5-16.5-.5-12 1.8-5.7-.9 3.7-1.5-2.5-.5-9 1.6-12-1.2-3.9 .1 .1-1.5-1.3-1.5 .3-4.5-3.8-3-2.5-4.5-8-3 2.6-.5 4.5-1.9 .8-.6 .2-1.5 2.1-1.5-4.6-1.2-6.9-.3 3.9-.4 6-2 .9-.6 0-1.5 1.6-3 5.7-1.5-.5-3 1.9-1.5 .1-1.5 1.8-1.5-.7-1.5 .6-1.5 4.8-1.5 .3-1.6 1.5-.6 3 0 7.5 1.7 3-.1 3-.6 3.2-1.8 6-1.5 1.6-1.5 1.6-4.5-1.9-2.2-4.4-2.3 4.2-1.5 .1-1.5 3.1-.6 1 .6 3.5 .5 6.7-.5-2.4-1.5-7.3-.5-1-1 2.5-1.5-.6-1.5 .5-1.5-1.4-.4-4.5-.8-7.5 0-10.5-3.1-6-.5-4.5-1.2-4.5 0-3.5 1.5 .5 .8 3 .7-10.5 .3-4.5-.4-4.5 .5-1.5-.4-.3-1.5 1.9-1.5-1.8-1.5 3.2-1 9-.5-3-2.2-1.5-.1-3 1.1-6 0-13.4 1.2 2.6 1.5-.1 1.5-4.1 .7-4.5 .2-3-1-1.3 .1 1 1.5 3.3 .8 1.5 1.6 .3 .6-.5 1.5-1.3 .7-9-.1-5.5-2.1-2.1-1.5-.5-1.5-2.4-.2-3.5 .2 1.5 1.5-1 1.6-1.5 .2-6-1.2-7.5 1.4-3-1.3 0-1.3 4.5 0 1-.9-1.5-1.5 1.2-1.5 8.3-.1 6.8-1.4-1-1.5-8.5-3-4.8-.3-2.1 .3-1.5 1.5-.1 1.5 1.5 1.5-.8 1-3 .3 0-11.8zM66.7 165.4l-.7 .1 2.6 0-1.9-.1zM71.2 169.9l1.5 .7 4.5 .4 15-.8 7.5 2.3 3 .2 3-.5 3-1.1 6 .2 22.1-1.3-19.1-1-10.5 .5-6-.8-7.5 1.1-13.5-.5-9 .6zM74.2 166l-1.5 1 6 .6 8-.6-12.5-1zM167.2 165.4l-.4 .1 3.5 1.5-9.1 1-3-.3-4.5-1.6-3-.1-9 .3-3.2 .7 1.7 .9 12 1.5 4.5 1.5 7.5-.6 6 .1 2.6-.4 1.9-1.8 9 0 5.1-1.2-3.6-.9-6-.2-4.5-.8-7.5 .3zM191.2 174.3l-1 .2-1.6 1.5 1.1 1.3 7.5-1.2 1.5 .3 3 2.5 1.5 .1 1.8-1.5-1.8-1.7-6 0-1.6-1.3-4.4-.2zM194.2 169.9l-.5 .1 2.5 1.5 5.5 .8 3-.2 2.3-2.1-6.8-.7-6 .6zM209.2 194l-1.9 3 1.1 1.5 .8 .4 2.6-.4 1.7-1.5 .4-1.5-1.3-1.5-3.4 0zM215.2 166.8l-1.4 .2 4.4 .8 3 3 1.8 .7-12.3 1.5 4.5 1.9 3 .4 1.9-.8 10.1-1.1 6 .3 6.7 2.3-4.9 1.5-1.2 1.5 1.4 1.5 2.5 .8 3-.1 6-2 1.5 .1 9 1 3 1.8 4.4-.1 3.1-.5 1.8-1-1.8-1.5 4.5-.5 3-1.4 1.5-.2 12 2.1 3.8-1.5 .7-1.5-4.5-2-5 .5-4-3.1-8.5-1.4 8.5-1.5-1.5-.2-16.5-.1-3.8 .3-3.7 1.4-1.5-.1-.9-1.3-2.1-.2-12 .1-6-.6-6 .4-9-1.3-4.5-.1zM282.7 165.5l7.5 1.1 5.1-1.1-6.6-.6-6 .6zM317.2 175.5l-1.4 .5 .7 1.5-5.3 3-1.1 1.5 .4 1.5 2.2 1.8 6-.2 6.6 1.4-2.3 1.5-5 1.5 1 1.5 5.3 1.5-2.6 .8-9.1 .7-2.7 1.5 1.8 1.5-5 .5-9.1-.5-1.6-1.5-.5-1.5-.8-.4-4.5-.4-3.2 .8-.5 1.5 1.7 1.5-4 1.6-7.5 0-6-1.9-6-.3-1.5 .2-3 1.6-3.7 .3 2.2 .4 1 1.1-5.5 1.2-5.3-1.2-2.1-1.5 .2-1.5-3.3-.5-.7 .5 3.5 1.5-4.3 1.5 .2 1.5 2.5 1.5 .6 1.5 17.7 2.1 4.5-1.8 6 .4 7.5-.3 6.3 2.6 .4 1.5-.6 1.5 1.1 1.5-2.2 1.5 1 1 1.5-.5 1.5-1.4 1.5-.2 6 .5 4.5-.6 7.5 .8 7.5-.5 1.5 .4 3 2.4 3 .7 3.8-1.1-5.1-3 5.8-.1 3 1.9 21-2.6 1.8-.7 .6-1.5 10.5-6-2.4-.6-1-.9 1-1.5-7.8-3 2.9-1.5-.2-1.5-9.1-1.5 1.4-1.5 .2-1.5 1.1-1.5 5.5-.3 4.5-1.8 6.5-.9-1.9-1.5 1.4-.9 4.5-.3 3 .2 2.4 1-.9 .9-1.5 .4-3.7 .2-.2 1.5-2.1 1.6-.9 1.4 3.9 2 7.5-.3 7.5-2.6 5.6-.6-3.3-1.5 1.9-1.5-1.3-1.5-3.7-1.5-3.3-3-.7-1.5-5.7-1.7-2.7 .2-3.3 2.2-8.8 2.3-2.9 1.5 .6 1.5-.9 .5-4.5 .6-3-.4-.9-.7 .4-1.5-1-.6-4.5-.3-3-2.1-1.6 0-2.9 2.3-3 1-3-.5-3-2.1-2.5-.7 9.4-1.5-.9-.5-7.5-1.2-10.5-.3zM342.7 175.3l-.7 .7 2.2 .6 4.9-.6-3.4-.8-3 .1zM383.2 171.1l-.9 .4 2.4 .9 10.5-.9-12-.4zM401.2 181.6l-3.6 1.9 3.6 .9 3-.1 2.8-.8 .5-1.5-3.3-.9-3 .5zM405.7 169.9l-1 .1 2.8 0-1.8-.1zM411.7 183.5l-1.9 1.5 3.7 0 .4-1.5-2.2 0zM422.2 175.9l-1.3 .1 2.1 0-.8-.1zM425.2 170l4.5 .5 3.1-.5-3.1-.6-4.5 .6zM429.7 164.6l-1.1 .9 7.1 .9 3.4-.9-4.9-.8-4.5-.1zM456.7 165.4l-4.5 1-10.8 .6 7.8 .7 12-.6 .3 1.4-1.8 1.1-9.4 .4 3.4 .4 6 .3 6-.9 6-.1 7.5 1.4 3.4-1.1-4.4-1.5-5-.9-10.5 0-1.5-.6-1-1.5-3.5-.1zM426.7 230l1.5 .9 3.9-.9-5.4 0zM423.7 275.7l-4.9 2.3 3.4 2.5 1.5 .5 0 1.5-2 1.5 3.5 1.5 1 1.5 5 1.9 3 .2 2.7-.6 .1-1.5-7.3-2-4.4-2.5 0-1.5 4.4-.9 6 .3 4.5 .8 .6-1.7-3.6-.7-9-3.5-4.5 .4zM459.7 306.2l-.7 .3 3.7 .4 2.8-.4-2.8-.6-3 .3zM210.7 294.2l-1.4 .3 1.4 1.4 2.8-1.4-2.8-.3zM227.2 290.8l-.9 .7 .2 1.5-2.2 3-.3 1.5-4.5 1.5 4.7 .6 7.5-3.4 6 .4 6-.6 2.8-1.5-5.8 .3-7.5-.7-2.1-1.1 0-1.5-.9-.7-3 0zM278.2 300.3l-.5 .2 4.9 0-1.4-.6-3 .4zM282.7 304.9l-.7 .1 14.2 .9 3 1.2 4.5 .5 7.5 1.8 9-.4 4-1-10-2.6-15-.6-7.5-.8-9 .9zM293.2 297.3l-1.6 1.7 3.1 .8 4.2-.8 .6-1.5-3.3-1-3 .8zM317.2 286.6l-.4 .4 3.4 .5 .8 1 2.6 0-2.4-1.5-4-.4zM336.7 283.8l-2.9 1.7 4.4 .6 1.3-.6 1.1-1.5-2.4-.6-1.5 .4zM341.2 273.5l-2.3 1.5 5.3 .6 2-.6 .7-1.5-2.7-.5-3 .5zM351.7 281l1.5 1.2 1.5-1.2-3 0zM357.7 273.2l-1.1 .3 2.6 .9 .4-.9-1.9-.3zM66.7 172.9l-.4 .1 3.4 .5 3.2-.5-3.2-.5-3 .4zM144.7 173l7.5 .8 4-.8-2.5-.8-9 .8zM168.7 172.7l-.7 .3 2.2 .6 9 .6 6.1-1.2-4.6-1.2-12 .9zM179.2 169.5l-1.4 .5 2.9 1.2 3-.2 3.3-1-3.3-1-4.5 .5zM230.2 193.8l-.8 .2 2.3 .8 3.5-.8-5-.2zM263.2 208.3l-1.1 .7 3.2 0-.6-.9-1.5 .2zM365.2 249.8l-1.3 1.2 1.3 1.5 1.5-.1 2.6-1.4-4.1-1.2zM359.2 192.4l0 .5 4.5 1.6 2.6-.5-1.3-1.5-2.8-.5-3 .4zM368.2 240.3l-.5 .2 .5 .5 1.1-.5-1.1-.2zM378.7 239l-1.2 1.5-.4 1.5-4.5 1.5 6.1 .7 1.5 0 1-.7-.9-1.5 1.1-1.5-1.2-1.2-1.5-.3zM383.2 253.8l-3 1.8-6.1 1.4 .6 1.5 5.3 3-2.2 1.5 3.4 1.5-.8 1.5 1 1.5-1.2 1.5-3.4 1.5 1.9 1.2 4.5 .5 7.5-1.5 6 .2 2.2-1.9-1.3-1.5 .9-3 2.7-1.3 3-.4 1.7-1.3-.2-3-1.5-1.5-4.5 .2-3-.4-2-1.3-.1-1.5-3.9-1.2-4.5 .2-3 .8zM438.7 171.4l-.2 1.6 7.7 1.1 .5 .4-.3 1.5 5.8 1.2 1.5-.1 4-2.6-2.5-.6-7.5-.3-1.5-1.2-3-1.3-4.5 .3zM473.2 172.7l-1.3 .3-1.2 1.5 5.5 .4 3.7-.4-2.2-2.1-4.5 .3zM428.2 304.9l-9.1 3.1 3.1 .5 3.8-.5 5.2-2.4 2.6-.6-5.6-.1zM222.7 301.8l-.5 .2 1.8 1.5 7.2 0-5.5-2-3 .3zM245.2 304.6l-1.4 .4 4.4 .8 5.1-.8-5.1-.8-3 .4zM320.2 292.6l-.6 .4 5.1 .6 5.1-.6-5.1-.6-4.5 .2zM339.7 287.5l-1.4 1-.1 1.5-1.5 1.1-3.1 .4 7.6 .7 4.5-.2 1.7-.5-3.8-1.5 5.7-1.5-5.1-1.3-4.5 .3zM351.7 282.9l-.9 1.1 2.4 1.9 4-.4 1.4-1.5-3.9-1.2-3 .1zM177.7 179l-4.5 2.2-6 1.7-1 .6-.4 1.5 1.4 1.5 3 1 4.5 .4 4.5-.3 3 .9 2.6-.5 .9-1.5 1-.3 7.5 .5 1.5-.4 .7-2.8-.7-1.5-5.9-1.5-1.7-1.5-7.4-.5-3 .5zM384.7 289.9l3 .8 2.9-.7-2.9-.5-3 .4zM321.7 302l-.7 0 .7 0zM176.2 190.2l-1.2 .8 .7 1.5-1.4 1.5 1.9 .9 3-.3 3-1.5 5.1-.6-3.6-1.7-4.5-.8-3 .2zM264.1 170l3.6-.4 3.8 .4-3.8 .4-3.6-.4zM238.7 171.5l3.5-.7 5.5 .7-5.5 .4-3.5-.4zM253.4 176l4.8 0-2.5 .4-2.3-.4zM91.6 177.5l3.6 0-3.6 0zM44.1 185l.4 0-.4 0zM346.6 185l1.8 0-.3 1.5-2.4 1.1-6 .8-10.3-.4 2.8-1.6 14.4-1.4zM381.5 186.5l.4 0-.4 0zM475.2 186.5l1-.6 4.5-.5 7.5 2.3 0 6.1-13.5 .7-1.1-.5-.8-1.5 1.9-1.3 7.5 .3 2.1-.5-2.1-1.9-1.5-.1-2.5 .5-2 1.2-1.5 .1-1.5-.6-2.3-2.2 4.3-1.5zM43.2 188l3.6 0 1.5 1.5-2.6 .6-1.5 1.4-3 1 0-4.4 2-.1zM463 195.5l2.7-.4 9 1.4 4.5 1.4 .8 .6-1 1.5 2.5 3-.3 1.5-3.5 .3-9-1.7 .2-1.6-.9-1.5-5.6-1.5-2.6-1.5 3.2-1.5zM326.7 197l1-.9 1.5-.3 2.4 1.2-2.4 .7-2.5-.7zM450.4 198.5l1.9 0-1.9 0zM46.2 218l20.5-.3 6-1.2 9 1.2 1.4 .3 .5 1.5 7.1 2.4 3 3.1 1.4 .5-1.4 .9-6.5 .6-1.4 1.5 4.9 2.2 3 .8-7.5 3.7-6.7 .8 6.3 1.5-2.6 1.7-4.5 0-1.5 .6 .6 3.7-3.6 1.1-3 .3-5.7-2.9-.8-1.5-5.5-1.6-9-1.3-9 1.6 0-21 5-.2zM75.7 237.4l-.4 .1 .4 .5 1.5 .8 1.5-.3 .5-1-.5-.8-3 .7zM98.1 234.5l3.1-.5 1.7 .5-1.7 .5-3.1-.5zM457.3 240.5l3.9-.9 2.8 .9-.2 1.5-1.1 .9-3-.6-2.4-1.8zM291 242l2.2-.9 9-.5 3.9 1.4-6.9 2.4-8.8-.9 .6-1.5zM443.1 243.5l5.6 0-5.6 0zM262.9 245l4.8-1.1 3 .4 .9 .7-3.9 .7-4.8-.7zM298.4 246.5l2.3-.7 4.2 2.2-8 0 1.5-1.5zM343.5 246.5l3.7-.2 .4 .2-.3 1.5-1.6 .6-1.5-.2-.6-.4-.1-1.5zM67.7 248l.5-.4 2.5 .4 .7 1.5-4.1 0 .4-1.5zM449.3 248l5.9-.9 1.5 .1 .8 .8-3.8 .6-4.4-.6zM291 249.5l3 0-3 0zM310.2 249.5l1-.4 1.5 .4-1.5 .5-1-.5zM63.4 251l1.8-.2 1.8 1.7-5.5 0 1.9-1.5zM474 251l3.7 .2 4.6 2.8-3.2 1.5-.4 1.5 .9 1.5-1.9 1.3-3 0-4-1.3-1.5-1.5 1.8-1.5-2.9-1.5 2.1-1.7 3.8-1.3zM314.3 258.5l1.4-.6 1.1 .6-2.5 0zM325.5 258.5l2.2-.4 4.1 .4 1.6 1.5-6.1 0-1.1-.5-.7-1zM452.8 258.5l2.4-.8 4.9 .8-4.9 .5-2.4-.5zM41.2 261.5l1.5 0 1.4 1.5-2.9 .8 0-2.3zM487.9 263l.3-.6 0 1-.3-.4zM279.3 264.5l3.2 0-3.2 0zM300.5 264.5l.7 0-.7 0zM284.1 266l.1-1 3-.4 3 .6 3 1.7 3.9 .6-3.9 1-6-.1-2.4-.9-.7-1.5zM470.6 267.5l4.1-.1 9 .9 .8 .7-9.8 .8-2.2-.8-.8-1.1-1.1-.4zM484.8 267.5l1.9-.8 1.5 .3 0 .7-1.5 .3-1.5 .1-.4-.6zM68.8 270.5l3.9-.4 1.8 .4-5.7 0zM253.1 272l2.6-1 1.5 0 3.9 1-.9 1.5 0 1.5-2.6 1.5-.5 1.5 4.1 1.5-7 1.4-1.6 1.6-11.9 1.3-3-.7-3.4-2.1 3.4-3 3-.5 4.5 .3 5.6-1.3 2.6-3-.3-1.5zM55.9 273.5l1.8-.5 1.9 .5-1.9 1.2-1.8-1.2zM459.7 273.5l3.8 0-3.8 0zM245.7 275l4.3 0-1.8 .6-2.5-.6zM266.6 275l2.6-.7 6 .5 4.9 1.7 .8 1.5-2.7 .4-4.5-.6-3-1-1.5-1.2-2.6-.6zM61.1 276.5l4.1-.4 3 .9 6 .3 4.5 .9 7.5 0 1.5 .5 .1 .8-6.2 1.5-.2 1.5 3.7 4.5-1.9 .6-9 .2-2.7-.8 2.8-1.5-2-1.5-4.2 0 .1 1.5-1.5 .7-5.8-.7-2.8-3 14.4-1.5-2-1.5-2.3-.5-3 0-3 .7-3.1-.2 3.1-.9 .3-.6-1.4-1.5zM104 281l1.2 0-1.2 0zM177.1 281l2.2 0-2.2 0zM177.9 284l1.3-1.3 2.9 1.3-1.4 .7-2.8-.7zM164.6 285.5l1.1-.7 1.5 0 9 1.6 1.8 .6 .3 1.5-1.2 3-2.4 1.6-1.5 .2-10.5 .4-6-2.2 1.5-1.2 1.5-.3 7.3 0-2.8-.6-1.4-.9 .1-1.5 1.7-1.5zM170.2 289.6l-1.2 .4 2.9 0-1.7-.4zM182 285.5l.2-1.2 6 1.2-4.5 .5-1.7-.5zM444.1 285.5l4 0-3.4 .4-.6-.4zM101.6 287l4.1-.9 3.3 .9-1.8 1.3-1.5 .4-4.5 .2-4.5-.4 3-.5 1.9-1zM146.1 288.5l3.3 0-1.5 1.5-1.7 .2-.7-.2 .6-1.5zM482.6 290l2.6-.5 3 .3 0 4.1-4.5 1.9-4.9-1.3 1.9-.9 3.6-.6-1.6-1.5-.1-1.5zM41.2 291.5l.4 1.5-.4 .2 0-1.7zM96.2 291.5l3.5-.8 3 .3 2.3 2 5.7 1.5-3.3 1.5-7.7 .8-3 1.3-3 .5-4.5-1.6-1.3-1 .7-1.5-3.3-1.5 2.4-.7 6 .2 2.5-1zM473.9 291.5l3.1 0-.8 .6-1.5 0-.8-.6zM47.7 293l8.5-.9 4.2 .9-1.2 .6-6.6 .9 1.7 1.5 .4 1.5-1.5 .6-4.5-1.7-3.1-1.9 2.1-1.5zM466.5 293l5.2 0-3 .4-2.2-.4zM67.7 296l3.7 0-3.7 0zM175.4 296l2.3-.6 3.9 .6-2.9 1.5-4.1 0 .8-1.5zM450.9 296l2.8-.4 2.7 .4-2.7 1-1.5-.1-1.3-.9zM78.8 297.5l4.4-1.1 3 .3 1.2 .8-4.2 1.1-4.4-1.1zM154.9 297.5l1.8-.4 2 .4-3.8 0zM195.9 297.5l1.7 0-1.7 0zM52.6 300.5l2.1-.9 6 .2 1.6 .7-1.6 .7-3 .2-5.1-.9zM101.4 300.5l4.3-1.1 10.5 1.4 7.5-.9 3 1.5 .8 2.1 .7 .4 6 1.1 1.5 0 .3-1.5 1.2-.5 7.6-1 .9-1.5 9.5 1.1 9-1 6 2.1 20 .8 4 1.7 4.5 .2 3.9 1.1-1.9 1.5 .5 1.5-36.5 0 1-1 1.6-.5 7.8-1.5-4.9-1.2-10.5 .9-18-1-1.5 .1-1.1 1.2 5.6 1.1 9-.7 2.8 1.1-7.1 1.5-16.7-.2-12-1-5.4 1.2-11.1-.4-6.5 .4-2.5-.7-.7-.8 1.9-1.5-1.2-.8-3-.5-3 .4-1.9 2.4 5.3 1.5-51.4 0 0-1.8 10-1.2 2-1.2 3-.6 4.5 .8 1.5 1.1 7.2-.1-5.2-1.5 1-1.1 5.7 1.1-.5 1.5 3.8 .2 7.5-1.9 13.5 0 3-.8 3.2-3.5zM110.2 306.4l-1 .1 4 .5 4.4-.5-7.4-.1zM476.5 300.5l4.2-1.1 2.9 1.1-1.4 .9-1.5 0-3-.3-1.2-.6zM486 302l2.2-.1-2.2 .1z"/>
<path fill="#fee090" d="M41.2 164l34.2 0-2.7 .9-7.5-.1-3.2 .7 7.7 .9 3 1.1 4.5 .4 9-.1 2.8-.8-12.3-1.5 2-.7 8.3-.8 18.7 .5 30.7-.5 2.3 .7 6-.4 9 .9 6-.5 7.2 2.3-7.2 .4-1.9-.4-1.1-.9-3-.4-18 .4-1.5-1.1-3-.6-3.1 1.1 6.1 .9 1.2 2.1-8.7 .6-25.5-1.1-7.5 1.3-19.5-.1-5.4 .8 .9 1.2 4.4 .3-10.4 .5-13.5-2.7-4.5 .1-4.5 1.1 0-6.5zM119.2 165.5l.5 0-.5 0zM164.2 164l12.4 0-4.9 .6-7.5-.6zM185.6 165.5l3.7-1.5 9.5 0 4.4 1.4 6 .5 7.2-1.9 4 0 2.3 .4 1 1.1-2.5 .8-9-.1-1.1 .8 5.6 1.4 1.3 1.6-.1 1.5-5.7 .4-2.6-.4 .3-1.5-6.7-1-12 .6-3-.5-1.7-.6 4.2-1.5-5.1-1.5zM235.7 164l8.4 0-8.4 0zM258.9 164l43.9 0-3.6 1-10.5-.6-8.2 1.1 7.4 1.5 2.3 1 1.5 0 .9-1 2.1-.7 4.5-.5 7.5 1.5 6 .4 .5-.7 2.5-.6 1.2-.9 .3-1.5 16.4 0-2.3 1.5 3.2 1.5 .5 1.5 3.4 1.5 5.8 .9 9-1 5.1 .1 .9 1.9 6 2.5 4.5 .3 1.2 1.3-1.5 1.5-7.2 .7-3.9-.7 5.4-.8 1.5-1.1-1.5-.5-10.5 .5-7.5-1.9-4.5 .3-4.5 1.2-3 .2-10.5-.4-6-.8-6.1 1.8-1.3 3-1.6 1.5-.2 1.5 1.7 4.9 1.5 .7 6-.4 2.2 .8-5.2 1.4-.9 1.6 .4 1.5-7 1.7-3 1.7-4.5-.4-2.2-3-3.8-.8-7.5 1.7-2.4 2.1 .9 1.5-3 .7-5.1-.7 .6-1.5-7.5-.6-3-1-7.5 1.3-3 1.6-3 .1-21-4.7-4.5 0-7.5-1.7-2.3 .5-.2 1.5-.5 .4-7.5 .3-2.4 .8-1.9 3 1 3-4.2 1.5 .3 1.5 3.2 1.5 4 .5 1-.5-.8-1.5 2.5-1.5-.3-1.5 .6-.2 3-.6 1 .8 .5 1.3 4.5-.1 2.1-1.2-2.8-1.5-1.1-1.5 1.8-.4 7.5 .6 4.5 1.3 1.5-1.1 1.5-.1 2 1.2 1.5 3 1.7 1.5-.2 1.5 8.5 2 9 .5 1.5 .5-2 1.5 3.5 1.5 3 .1 1.5-.5 2.1-1.1 2.4-2.3 9 .1 2.4 .7-.6 1.5 2.3 1.5 .1 1.5-.8 1.5-1.8 1.5 2.9 .9 6.2 .6 1.3-1.9 1.5-.7 4.5 .7 4.5 1.5 6-1.5 7.5-.2 7.5 2.9 6-.8 4.5 .4 1.2-.4 .4-1.5 1.4-.4 6 .1 12-2.8 2.4-1.4 .5-1.5 6.1-3.1 7.9-1.4-.7-1.5-1.9-1.5 .7-1.8 1.5-.6 7.5-.6 3.7-1.5 .2-1.5-.9-1.2-3 .1-4.5 1.9-4.5 .6-1-1.4 1-1.7 1.5-.6 7.5-.9 6 0 .8-1.3 8.2-1.7 9 .6 1.9-.4 2.2-1.5 .3-1.5 1.6-.3 4.5 .7 6-1.2 4.5 .5 7.5-.3 4.5 .8 1.7 1.3 .7 1.5-2.3 1.5-5.5 1.5-1.2 1.5 4.4 3-2.3 1.2-4.5 .2-4.5-1.2-3-1.8-4.5-.4-1.7 .5-1 1.5-4.8 4.3-8.7 1.7-3.4 3 3.1 3 .1 1.5 2.9 1 6.7 .5 2.1 1.5-2.2 1.5 1.1 1.5-1.3 1.5 2.6 2.2 2.6 .8-2.1 1.5-.7 1.5 4.7 1.6 4.5-.1 3.5 1.5-4.7 1.5 4.3 3-.6 1.5-3 1.5 .2 1.5-.9 1.5-1.8 1.6-5 1.4-.8 1.5 2.8 .5 7.5-.9 4.5 .3-2 1.6 .4 1.5 3.5 1.5 0 1.5 2.6 1.1 6 .8 1.3 1.1-8.1 3-.8 1.5 1.4 3-1.6 3 .8 1.5 2.5 1.2 9 0 1.8 1.8 3.2 1.5-1.6 3-2 1.5 .4 3 1.2 1.4 3.5 1.6-2 .6-3-.1-7.1-2-5.9-3-3.1-3-4.9-1.4-3 1.1-6 .1-6.6-1.3 3.8-3-1-1.5 2.3-2.1 1.5-.6 .3 1.2 4.2 .5 3.6-.5-3.6-1.8-6 .2-1.6-1.4-.6-1.5 .6-1.5-9.9-1.5 .6-1.5-4.1-3.1-3-1.2-6 .2-5.4 2.6-2.1 1.9-6 1.8-1.1 .8-1 3-4.8 1.5 2.4 1.5-3.5 0-2.5-2.2-3.2-.8 5.9-1.5 1.5-3 5.5-3 1.6-3-1.2-1.5 .1-1.5-1.4-1.5 4.3 0 2.3 1.5-2.4 1.5 3.5 .7 7.5 .4 1.2-1.1-.4-3-2-1.5 1.2-1.3 1.1-.2-1.9-1.5 1.3-3-3.5-1-6 0-4.5-1.2-10.5 .6-3-.5-6 2.1-3.7 0 2.2-.6 .9-.9-.1-1.5-5-1.5-1-1.5-5.3-1.3-3 1.4-6-.6-3 .5-1.5 2.1-3 1.2-9-2.3-9 1.8-16.5-.3-4.5 1.1-10.5 .3-1.7 .6-1.8 1.5-2.5 .6-2-.6-.2-1.5-3.8-1.2-3 .3-4.5 1.6-7.5-.9-.9 .2 1.9 1.5-3.8 1.5-.9 1.5 .7 1.3 9-.6 1.8 .8-3.3 1.1-7.5-.7-.8 2.6-2.2 .7-4.5 .7-8.9 .1-4.6 1.2-1.5 .9-1.2 2.4-3.3 1.1-10.5 .8-7.5-.7-4.5 .5-4.5-.4-4.5 .8-4.5 1.6-6 .9-10.5-1.7-13.5 2.2-1.5 0-4.5-2.1-3-.5-4.5 .3-4.5 1.2-6-.6-.9-.4 .9-.9 2.2-.6-6.7-.3-3-.9-1.5-1.8 .9-1.5-.9-1.3-4.3-3.2 .2-1.5-6.4-4.5 3-1.5 1.6-1.5 .2-1.5 2.2-1.5-3.9-1.5 2.9-3 .5-1.5 1.7-1.5 5.5-3 .7-1.5-1.4-1.5 6.5-6 4.5-1.5 0-1.7 3 .2 1.5 1 4.5-.5 4.5-.8 9-2.8 3.1-1.4 1.6-4.5 1.5-1.5 2.8-1.9 3-.9 12 .9 1.1 .4-2.8 1.5-.7 1.5 9.9 2.1 3-.1 5.7-2-.3-3-8.4-.7-2.3-.8 8.3-2.4 6.6-.6-8.4-1.5 .5-1.5 5.8-1.7 2.5-1.3-.4-1.5 .9-4 7.5-1.2 6 .2 10.5-2.9 3.4-2.6 6.1 0 1 1.5 .1 1.5-.8 3-2.1 1.5 4.3 1.3 1.5 1.7 6 1.3 9 0-.5 1.7-3.9 1.5-.1 1.5 6 1 1.5-2.3 1.5-.8 6 .2 4.6-1.1-1.6-1.4-.9-.1-.2-3 8.6-.9 1.6-.6 1.4-1.6 4.5-1.1 4.5 1.7 6-.5 6.5-3 1-1.5-2.8-1.5 1.3-1.5 1.1 0-11.6-.4-6.8-2.6 5.7-1.5-3.4-.8-15-.1-10.5 .7-30.7-1.3 38.6-1.5-6.2-1.5zM311.2 169.4l-1.5 1.1-6.6 1-.9 1.1-3 .4 5 0 12.2-3-2.2-1.4-3 .8zM203.2 249.4l-1.9 1.6 .4 1.3 3-.7 .5-.6-.5-1.3-1.5-.3zM275.2 209.9l-.5 .6 .8 0-.3-.6zM338.2 219.1l-1.2 .4 1.2 1.5 3.1 0 .4-1.5-.5-.5-3 .1zM381.7 202.9l0 1.6 1.7 0 1.4-1.5-1.6-.5-1.5 .4zM389.2 240.5l-.9 1.5 3.9 1.8 4-.3 1.5-1.5-5.7-1.5-2.8 0zM399.7 249.1l-.8 .4 5.3 .4 1.8-.4-3.3-.9-3 .5zM417.7 247.5l-1.7 2 4.7 .3 2.9-1.8-2.9-1.1-3 .6zM431.2 265.9l-.4 .1 .4 .3 0-.4zM204.7 187.5l-.9 .5 2.4 .5 3.1-.5-1.6-.6-3 .1zM370.8 165.5l6.4-.7 2.8 .7-4.3 .6-4.9-.6zM384.4 164l20.7 0 1.6 1.5 6.5 .7 3.7-.7-1.8-1.5 11.3 0 0 1.5 16.8 2.7 13.5-.3 3.6 .6-3.6 .8-12-.6-7.5 1.5-6-1.5-6 .5-2.8 .8 5.8 1.1 6-.2 1 .6-.5 1.5 8.1 1.5-1.1 1.1-1.5 .1-10.5 0-10.5-1.1-3 1.1-1.5 1.5-7 .3 7 .2 4.5 1.3-1.1 1.5 3.3 1.5-.7 .6-5-.6-3.2-1.5-6.8-1.1-3-1.3-3-.5-3 .3-1.5 .7-.4 .4 1.3 1.5-.9 1.4-1.5 .1-3-.7-4.5-2-.6-1.8-.9-.5-8.5-2.5 .3-1.5-1.1-1.5 .3-.9 3 .3 3 2.4 3 1.2 1.5-.2 1.6-1.3 8.9-1.1 3-1.1 7.5-.1 3.1-.7-10.6-2.2-4.5-1.4-4.5-.6-6.3-1.8zM433.2 164l9.3 0 2.2 .6 7.5-.6 16.1 0 3.4 .8 3-.8 13.5 0 0 10.8-2.6-.3-4.5-1.5 4.8-3-3.9-1.5-8.8-1.6-9 .2-1.2-1.6-4.8-.7-3 .1-3 1.1-6 .3-13-2.3zM368 168.5l4.7-.6 2.5 .6-1 1.1-6.2-1.1zM140.3 170l2.9-1 9.2 1-1 1.5-3.7 .5-15 1.4-6.3-.4 5.5-1.5 6.8-.6 1.6-.9zM384.1 170l6.6-.7 4.3 .7-4.3 .6-6.6-.6zM79 171.5l7.2-.9 5.7 .9-1.9 1.5-6.7 1.5 2.4 1.5-1 .7-6-1.3-3-.1-3 .4-1 .3-.5 .9-1.5 .3-1.2-1.2 .8-1.5 9.2-1.5 .5-1.5zM118.4 171.5l7.3 0-.5 1.1-2.3 .4 5.3 2.6 3.2 .4-10.7 .5-3 1.8-4.5 1.3-3.9-.6-3.5-3 16.2-1.5-3.5-1.5-.1-1.5zM159.2 171.5l17-.1-9 .3-1.5 .4-.7 .9 2.2 1.3 6 1.2 3.6 2-2.2 1.5-2.9 .6-9 .7-7.5-.5-4.5 1.3-3-.3-4.9-1.8-.5-1.5 .9-.5 6-2 7.5-.7 1.9-1.3 .6-1.5zM463.2 171.5l5.5-1.2 5 1.2-11 2.6-5-1.1 2-.9 3.5-.6zM93.3 173l2.1 0-2.1 0zM190.9 173l6.3 0-6.3 0zM41.2 174.5l0-.5 .6 .5-.6 0zM202.9 174.5l4.8-.6 2.4 .6-2.4 .8-4.8-.8zM457.8 176l1.9-.9 3-.3 3 1.7 .9 1 .3 1.5-4.2 .5-3.5-.5-2.2-1.5 .8-1.5zM49.8 177.5l3.8 0-1.9 .7-1.9-.7zM133.3 177.5l1.6 0-1.6 0zM429.7 177.5l1.5-.8 2.9 .8-1.4 1-3-1zM439.4 177.5l2.3-1.1 3 1.1-4.5 1.6-1.2-.1 .4-1.5zM473.6 177.5l1.1-1.1 1.5-.2 6 .3 2 1-2 1.6-4.5 .8-3-.5-1.1-1.9zM194.6 179l2.6-.2 2.5 1.7-4.1 0-1-1.5zM348.3 179l1.2 0-1.2 0zM333.5 180.5l2.4 0-2.4 0zM256.6 183.5l2.3 0-2.3 0zM365.7 186.5l1.1 0-1.1 0zM441.7 188l3-.9 6 2 5.2 .4-8.2 .9-5.7-.9-.3-1.5zM364.6 189.5l3.5 1.5-3.5 0 0-1.5zM167.1 192.5l4.1 0-1 1.7-1.5 .6-4.5-.6-4.5 .3-2.3-.5 2.3-.5 4.5 .2 1.5-.2 1.4-1zM469.6 198.5l5.1 0-5.1 0zM437.7 203l2.5-.5 1.9 .5-3.4 .7-1-.7zM477.7 215l3-.7 3 .7-.9 3 .9 1 1.5 .8 3 .3 0 15.7-7.5-1.7-6 .5-6-.4-6 .6-4-.3-5-1.4-7.5 1.2-6-.9-5.2-1.9 .3-1.5-2.6-2.1-1.9-2.4 2.6-1.5 .6-1.5-.3-1.5 3-1.5 .5-1.5-.8-1.5 2.3-1.1 3 .1 3.1 2.5-3.9 3 2.5 1.5 1.3 3.3 1.5 1.1 3 .8 3 3.1 1.5 .5 .3-1.3-3.8-3 6.5-2.2 5.3-.8 1.3-1.5-2.9-1.5 .8-.6 6-2.6 6-1.1 4.5-1.7zM47.8 219.5l20.4 1.8 7.5-.6 3 .7 4.5-.3 6 1.4 .4 1.5-2 1.5-2.9 1.2-1.3 1.8 2.4 1.5 1 1.5-.8 1.5-2.1 1.5-8.2 1.2-7.5 1.8-1.7 1.5-2.8 .1-12-2.5-6-.1-4.5-.7 0-15.9 6.6-.4zM360.2 240.5l2-.4 1.2 .4-1.2 .9-2-.9zM363.7 243.5l1.6 0-.6 1.5-2.5 .8-4.5-.1-2.3-.7 8.3-1.5zM323.3 249.5l3.6 0-3.6 0zM348.8 251l4.4-.1 4.5 1.4 1.8 1.7 1.6 3-3.4 1.3-4.5-.2-12 2.1-1.6-.2-2.4-3 1-1.3 7.5-.2-3-.6-.6-.9-.1-1.5 2.2-1.1 4.6-.4zM375.6 264.5l2 0-2 0zM360.4 266l5.5 0 1.2 1.5-2.5 0-.9-.7-3.3-.8zM401 270.5l1.3 0-1.3 0zM296.8 272l5.4-1.1 4.5 1.1 .9 1.5-2.2 1.5 .3 1.5 1 1.2 4.5-.4 7.5-3 6 .4 6-.5 4.5 2.7 1.5 .2 7.5 0 4.5-1.7 4.5-.2 9 2.4 1.5 1.1 2.8 .8-.7 1.5-2.1 .4-12-2.2-4.5 .2-4.5-.8-4.5 .3-4.5 1.6-7.5-.4-.7 .9 .7 .3 6 .1 1.5 .2 1 .9-7 3.7-4.5-.3-4.5-1.5-3 .1-4.5 1.1-1.5-1.2-4.5 .1-3 3.8-4.4 .2-1.6 1.1-3 .1-4.5-3.3-3.7-.9 2.2-1.5-.6-1.5 5.1-1.5-1.2-3 3.1-1.5 2.6-2 .9-1-.3-1.5zM302.2 279.2l0 .6 1.4 1.2-2.9 1.1-4.9 .4 4.9 1.3 3-.1 1.9-2.7 3.5-1.5-.9-1-3-.4-1.5 .1-1.5 1zM320.2 277.8l-.8 .2 2.3 .5 1.9-.5-.4-.6-3 .4zM324.7 275.9l-.8 .6 .8 .6 2.5-.6-2.5-.6zM360.4 272l1.8-.4 2.1 .4-2.1 .4-1.8-.4zM369.6 272l1.6-.7 1.4 .7-3 0zM390.1 272l2.2 0-1.6 .5-.6-.5zM411.7 272l2.9 0-2.9 0zM414.4 273.5l.3-1.4 3.9 1.4-2.4 .6-1.8-.6zM363.8 275l1.4-.6 1.8 .6-.3 .6-1.5 .1-1.4-.7zM378.2 275l3.5-.9 5.4 .9 .5 1.5-5.9 1.5 3 2.5 4.5-.4 7.5-2.6 8.4-1-7.3-1.5 .4-.1 6-.4 3 1.8 7.5-.1 1.5 .7 3.7 4.1 .3 1.5-1 1.5 1.9 3 10.1 3.6 1.3 .9-.1 1.5 1.5 1.5 5.9 1.5 .4 2.9 1.7 1.6-.7 1.5 5.9 1.5 2.1 1.2 1.5 .1 10.5-.8 3-1 4.5-.6 3 .1 7.5 2.5-.3 3-2.2 1.5-71.6 0-6.9-.8-3.4 .8-75.7 0 5.6-.9 4.5-2.3-1.5-.8-3.4 1-3.5 0-3.6-2.1-3-.6-6 .7-7.5 0-4.5-.6-3-1-14.8 2.1 14.8 1 2 .5-2 1-2.5 .5 11.5 .2 4.7 1.3-29.8 0 3.5-1.5-7.1-1.5-3.6-1.5-1.8-1.5-1.5 0-.1 1.5-7.8 .3-9-1.8-9-.4-3.1-1.1 3.9-1.5-1.1-1.5 3.3-.5 9 1.7 7.5-1.8 1.2 .6-1.3 1.5 1.6 .3 18 .4 6-.7-.7-1.5 2.2-.3 6 2.5 6 0 4.5-3.4 1.1-.3-1.6-1.5 .6-3 1.4-.3 7.8 1.8-7 3 .7 1.5 1.5 .2 16.5-1 2.5-.7 1.3-1.5 2.2-.2 2.4 .2 1.5 1.5 2.1 .5 6-.5-4.6-1.5 6.1-1.8 7.5 .1 9-2.2 2.5-2.1-2.6-1.5-2.9-.6-1-.9 4-1.2 6 .4 2.5-.7 1.1-1.5 2.2-1.5-1.1-1.5 1.3-1.4 3.2-1.6-.7-1.5 3-1.5zM381.7 281.3l-.3 1.2 1.2 1.5 3.6 .5 2.6 1-4.1 1.1-3.7 3.4 2.7 1.5 1 1.2 6-.3 9 .6 8.9-1.5-1.4-1.5-7.5-.1-7.5-2.1-1.1-.8-.7-1.5 .9-1.5-5.1-.9-3-2-1.5 .2zM414.7 305l6 1.1 .2 .4-5 1.5 6.3 1.3 6.7-1.3 5.3-2.2 4.3-.8-10.3-.7-13.5 .7zM417.7 289.7l-1.4 .3 4.4 .6 2.7-.6-1.2-.7-4.5 .4zM428.2 300.3l-.7 .2 5.2 .4 3.9-.4-8.4-.2zM458.2 305.6l-1.4 .9 11.9 1.9 4.2-.4-7.2-2.5-4.5-.3-3 .4zM323.2 300.2l-9.5 1.8 8 1.9 6 .5 1.2-.9-.3-1.5 3-1.5-3.9-1-4.5 .7zM347.2 295.7l-.7 .3 2.7 0-.5-.5-1.5 .2zM366.7 291.2l-2.2 1.8 .7 .7 1.5 .4 3.3-1.1-.1-1.5-3.2-.3zM384.7 293.8l-.4 .7 1 0-.6-.7zM273.2 276.5l2-.4 1.8 .4-1.8 .4-2-.4zM248.9 279.5l2.3-.6 2.7 .6-2.7 .5-2.3-.5zM71.7 282.5l5.7 0-5.7 0zM343.1 282.5l1.1-1 1.5 0 .7 1-.7 1.1-2.6-1.1zM431.7 282.5l1.3 0-1.3 0zM344.3 285.5l1.4-1.2 3.1 1.2-.1 .6-1.5 0-2.9-.6zM212.4 288.5l4.2 0-2.9 .6-1.3-.6zM328 288.5l1.2-1.1 1.5-.3 4 1.4-4 .6-2.7-.6zM212.1 291.5l1.8 0 .4 1.5-1.9 0-.3-1.5zM236.3 291.5l1.4-.4 2.9 .4-1.4 .9-2.9-.9zM309.4 291.5l3.2 0-3.2 0zM248.5 293l3.4 0-3.4 0zM294.4 294.5l1.8-.6 3.8 .6-2.3 .4-3.3-.4zM93.2 296l2-1.4 .2 1.4-2.2 0zM211.5 299l2.2-.4 4.4 1.9-4.4 .9-5-.9 2.8-1.5zM229.7 299l3.5-.7 2.6 .7-4.1 1.2-1.5-.4-.5-.8zM104.3 300.5l2.9-.3 4.5 .9 11.4 .9 1.6 1.5-1.4 1.5 3.4 .8 1.5 1.3 7.5-.8 9 1.7-4.5 .8-7.5 .1-6-1.5-4.5-.4-3-1.4-1.5-.1-14.3 1 5.3 1.4 6 .1-15 .6-2.7-.6 3.3-1.5-1.4-1.5 .8-.4 1.9-2.6 2.7-1.5zM161.1 302l4.3 0 .5 1.5-1.4 1.5-6.7 0 4.7-1.5-1.4-1.5zM212.6 303.5l1.1-.6 3-.1 14.7 2.2-6.3 1.5 1.1 1.5 2.6 1.5-7.9 0-7.4-3-1.3-1.5 .4-1.5zM186.3 305l3.4 .1 7.5 2.1 1.9 2.3-32.1 0 3-1.5 6.2-1.2 1.5-.8 8.6-1zM54.6 306.5l3.1-.5 4.5 .9 9 .6 4.5 1.2 3.4-.7 1.4-1.5 2.7-.1 .6 .1 0 1.5 .9 .7 3.6 .8-39.6-.7-2.8-.8 8.7-1.5zM236 306.5l4.7-.7 4 .7-4 .4-4.7-.4zM250 306.5l5.7-.9 1.5 .2 .2 .7-.9 1.5 .1 1.5-2.7 0-2.7-1.5-1.2-1.5zM146.8 308l5.7 0-3.3 .4-2.4-.4zM267.5 309.5l3.5 0-3.5 0z"/>
<path fill="#fdae61" d="M41.2 164l24.2 0-4.7 .4-3.6 1.1 9.6 1.1 7.5 1.6 15 0 2.8-1.2-1.3-.9-11.8-.6 11.3-1.5 2.6 0 .9 .8 1.5 .2 18 .1 1.7 .4 1.3 1 2.8 .5-11.8 .9-9-.8-1.5 .4-.7 1-2.3 .3-21 .1-10.5 2.1-4.5-.8-3-1.3-13.5 .3 0-5.2zM66.9 164l5.1 0-5.1 0zM170.2 164l3.6 0-3.6 0zM188.5 165.5l3.3-1.5 4.5 0 5.4 2.6 6 .3 6.4 1.6 1.2 1.5-1.6 .2-1.5-.7-12-1.4-9 .8-1.7-.4 3.2-1.5-4.2-1.5zM214.7 165.5l3.5-.6 3.3 .6-6.8 0zM265.5 164l22 0-9.3 1.5-.5 1.5-20.5 .8-20.1-.8 15.6-.8 13.5 .2 2.2-.9-2.9-1.5zM318.7 164l12.9 0-3.5 1.5 4.6 1.5-.7 1.5 3.9 1.5 8.3 1.5 7.5-.4 2.9 .4-2.9 1.1-6-1-1.5 .2-1.4 1.2-10.6 1.4-3-1.1-4.5 .3-7.3-.6-1.7-.7-.4-.8 3.4-1 .5-.5-1.1-1.5 4.7-1.5 .4-.9 1.2-.6-4.2-.3-1.5-1.2zM388.2 164l1.8 0-1.8 0zM393.2 165.5l4 0-4 0zM418.3 164l2.9 0 1.7 1.5 9.1 1.5-2.3 .8-7.5 1.1-2.2 1.1 2.2 .9 4.6 .6-.1 1.4-1.5 .1-9-1-6 .7-3-.8-6 .2-.5-.6 9.5-.3 1.5-.4 .8-.8-5.3-1.6-8.6-1.4 1.1-1 1.5-.1 15 1 4-1.4-1.9-1.5zM437 164l2.3 0-2.3 0zM443.9 165.5l5.3-.6 3.6 .6-5.1 .4-3.8-.4zM456.8 164l9 0-1.6 .8-7.4-.8zM479.9 164l8.3 0 0 5-11.2-2 .7-1.3 9.9-.2-7.7-1.5zM119.3 167l6.2 0-.2 1.5-1.6 0-4.4-1.5zM159.8 167l1.4-.4 2.4 .4-3.8 0zM294.5 167l4.7-.7 9.8 2.2-2 1.5-9.3 2.1-9-.6-4.8-1.5 3.3-.9 6 0 2.8-.6-1.5-1.5zM435.7 168.5l3.3 0-3.3 0zM451.8 168.5l7 0-2.1 .4-4.9-.4zM142.7 170l3.5-.4 4.2 .4-4.2 1.2-3-.5-.5-.7zM81.8 171.5l4.4-.4 2.6 .4-4.1 1.3-1.5-.2-1.4-1.1zM309.3 173l5.1 0-2.1 1.5-5.8 1.5-.2 1.5 .8 1.5-1.7 1.5 1.2 4.5-.4 3 4.1 1.5 .9 1.5-1.5 1.5-4.5-.4-10.5-2.2-3 .4-12 4.1-7.5-.8-4.7-1.1 1.7-1.1 6 .6 1.5-.3 .3-.7-1.3-1.5-2.5-1.5 .5-1.1 1.1-.4-.6-1.5 2.2-1.5 1.8-.1 3 1.4 .4 .2-.4 1.5 3 .9 7.7-.9-1.7-.7-2.6-2.3 1.1-.3 4.5 1.1 5.2-.8 2-1.5-3.8-1.5 .9-1.5 6.2-3-3.6-1.5 9.2-1.5zM391.4 173l5.3-.4 3.1 .4-3.1 2.7-4.5 .9-1.5-.6-.3-1.5 1-1.5zM410.1 174.5l1.6-.4 .8 .4-2.4 0zM435.6 174.5l3.1 0-3.1 0zM152.7 176l4-.3 4.5-1.1 3 1.2 7.7 1.7-6.2 .4-4.5 1.1-10.5-1.2 0-.5 2-1.3zM461.2 176l1.5 .3 1.7 1.2-1.7 .9-3.3-.9 1.8-1.5zM111.8 177.5l3.8 0-3.8 0zM227.8 177.5l2.4-1.2 2.3 1.2-1.8 3-3.7 1.5 5.6 1.5-2.3 1.5-.1 1.5-2 1.5 1.4 3-2.5 0-4.4-1.6-6-6.1-2.8-1.3 4.3-1.9 7.5-.7 1.5-.8 .6-1.1zM477.2 177.5l3.1 0-3.1 0zM389 179l.2-.6 1.5 .1 .1 .5-1.8 0zM207 182l6.4 0-5.7 2.3-3-.2-.7-.6 3-1.5zM234 188l3.7-.7 1.5 .7 3 1.5 .6 3-5.1 .1-5.6-1.6 2.6-1.5-.7-1.5zM418.1 188l2.6-.5 10.5-.4 2.9 .9 .8 1.5-2.2 1.1-9 2-3-1.2-3-1.9 .4-1.5zM198.2 189.5l3.5-.3 4.5 1.2 3-.2 3-1 2.8 .3-1.3 2-1.5 1-7.5-.3-6.5-2.7zM409.9 189.5l5.9 0-4.7 1.5 2.1 1 3-.2 2.5 .7-7 .5-2.7 4-3.3 2.4-1.5 .4-1.5-.2-1.3-1.1 2.9-1.5-4.6-1.4-8.9 1.4 2.9 1.6-7.5 .5-2.5-.6 2.8-1.5 .3-1.5 3.1-1.5 .1-1.5 .9-1.5 4.3-.7 6 .8 4.5-.2 3-.4 1.2-1zM260 191l2.1 0-2.1 0zM198.6 194l4.6-.9 1.2 .9-1.2 1.4-1.5 .5-3.1-.4 0-1.5zM246.3 194l3.4-.9 6.4 .9-2.2 1.5-1.2 .1-6.4-1.6zM423.6 195.5l1.6-.4 2.6 .4 1.1 1.5-2.4 0-2.9-1.5zM167.1 197l8.2 0-1.1 1.5-.1 1.5-1.9 1.5 .3 1.5 2.2 .9 4.5 .5 1.6-1.4 1.4-.2 6 .5 6-1.2 1.5 .2 1 .7-.5 1.5 1 .4 10.5 1.6 3.6-.5 2.4-2.5 1.5-.7 7.5 .5 4.5-3.5 7.5 .6 2.4 1.1 1.1 1.5-.4 1.5 1.4 .8 9 2.8 7.8-.6-1.5 1.5 .6 1.5 6.6 2 7.5-1.6 3.1 1.1 3.2 3 13.2 3.1 5.5-.1 3.5-.7 9 .5 6-1.5 4.5-.2 1.6 .4 1.4 1.5 1.5 .6 7.5-.4 3 1.3 3 2.3 3 1.2 3 .5 2.9-2.5 1.6-5.3 4.7-2.2 5.8-.7 3-2.3 .4-1.5 2.6-1 4.5-1.1 3 .9 4.5-.2 3-2.4 6 .6 7.5-.5 1.1 .7-.4 1.5 3.8 2.3 3 2.8 6 2.4 .4 1.5-3.3 3 6 1.5-.6 3 .6 1.5 3 3 5.9 1.4 1 1.6-3.2 1.5 2.1 3-1.4 1.8-3 1-4.9 .2-.8 1.5-1.8 .7-12.3-2.2-.7-1.5-4.3-1.5-1.9-1.5-1.8-.6-9-.4-4.5-1.6-2.5 1.1-3.5 .6-9-.5-4.5-1.8-7.5-2-3-.4-4.5 .6-6-1.2-2.2 .2-2.7 1.5-1.1 1.5-1.5 .5-7.5-1.5-10.5-.8-2 .3 2.7 1.5 0 1.5-.7 .1-3 0-4.5-1.2-6-.1-7.5 1.6-9 1-3 1.1-7.5-1.5-7.5 .5-7.5-1.1-3 .1-6 3-4.1 1 2.3 1.5 3.3 .5 .7 1-.7 .4-4.5 .9-4.5-.3-3-1.8-4 .8 4.9 1.5 3.6 1.8 4.5-.8 1.5 .3 .9 1.7-15.9 1.2-3.9 1.8-1.7 3-1.9 .5-7.5-.2-1.4-1.8-3.1-.8-9 1.6-4.5-1.4-4.5 1.5-6.5 .6-3.3 3-2.2 .1-13.5-3.3-9 0-6 1.4-6-.9-4.5 .3-6-1.4-4.5 .5-3.7-1.2 2-3-6.4-3 .4-1.5-2.2-1.5-2.8-3 3.3-1.5 .7-3 1.9-1.5-.7-.8-2-.7 2.7-1.5-.7-1.5 3.8-1.5 1.6-3 2.9-3-1.7-1.5 2.4-2.3 7.7-2.2 1.2-1.5 1.6-.4 7.5-1 6 1.4 1.5-.4 3.1-4.1 5.6-3 .5-3 1.2-1.5 4.5-3zM180.7 207.4l-2.8 1.6 4.1 0 .7-1.5-2-.1zM260.2 212.8l-1.5 .7 1.7 0-.2-.7zM338.2 224.9l-1.1 .6 2.6 .5 2.6-.5-1.1-1-3 .4zM384.7 209l4.3 0-4.3 0zM374.7 203l2 0-1 .5-1-.5zM477.3 216.5l2.7 0 .5 1.5 1.7 2.2 3 1.6 3-.2 0 9.8-7.5 0-3 1.2-3 .3-13.5-.7-2.7-.7-3.9-4.5 6.6-.8 3-1.3 4-2.4-2.5-1.5 1.5-.3 4.7-2.7 5.4-1.5zM483.7 221.9l-.9 .6 1.3 0-.4-.6zM47.4 221l17.8 .9 18.4 2.1-1.7 1.5-.8 3 .1 1.5 1.1 1.5-.3 1.5-9.3 1.8-4.5-.6-3 .2-3.3 1.6-4.2 .2-12-1.3-4.5-1.3 0-12.2 6.2-.4zM438.3 222.5l1.9 .4 .9 1.1 .8 1.5-.2 1.7-3 .5-4.3-2.2 2.8-2.6 1.1-.4zM437.8 230l.9-.8 4.5-.4 3 .2 2.1 1-.6 1.2-1.5 .6-6-.8-2.4-1zM487.7 233l.5-.5 0 .7-.5-.2zM397.4 245l3.8-.7 11.8 .7 .9 1.5-2.2 .3-1.5-1-3-.3-3.8 1-5.2 .5-3 1.1-3.4-.1 2-1.5 3.6-1.5zM398.7 251l2.5-.4 3.8 .4-.8 1.5 1.5 1 1.5 .3 3-.5 3-1.3 4.5-.4 1.5 .4 1.5 1.2 3.3 .8-.3 1.5-1.5 .9-10.5-.5-7.5-1.8-5.5-3.1zM423.2 251l3.5-1 6.8 1-5.3 1.6-5-1.6zM349.7 252.5l3.6 0-1.6 .4-2-.4zM151.2 254l2.5 0-2.5 0zM422.9 260l1.4 0 .3 1.5-2.4 0 .7-1.5zM416.5 266l3.5 0-2.5 1.5-4.3 1-1.5 .1-1.3-1.1 6.1-1.5zM436.3 266l1.7 0 4.3 1.5-.9 3-3.5 1.5 0 1.5-.7 .4-3-.1-3.7-1.8-.8-1.5 1.5-1 4.5-1 1.7-1-1.1-1.5zM300.3 273.5l1.9-1.4 1.5 .4 .2 1-3.2 3.2-1.5 2.8-1.5 .9-3.3-.9-.9-1.5 4.7-1.5 2.1-3zM353.8 278l2.4-.5 3 .3 .5 .2 .2 1.5-2.7 0-3.4-1.5zM407 278l4.7-.4 3 .5 2.3 1.4 1.2 3-2 2.2-7.6 .8-2.5 3-6.5 0-2.9-3-.7-3 1.6-1.5 .7-1.5 8.7-1.5zM309.7 281l4.5-1.1 7.7 1.1-9.2 2-3.2-.5 .2-1.5zM323.1 284l1.6-.5 1.3 .5-2.9 0zM292.2 285.5l5.7 0-3.2 .8-2.5-.8zM372.7 285.5l3-1 5.2 2.5-8.2 2.8-3-1.3 3-3zM372.7 293l1.5-.9 3-.3 3.2 2.7-.2 1.7 1.5 1 1.5 .2 6-1.1 10.4-.3 1.6-1.7 13.5-2.1 3-.1 4.5 .9 6-.8 2.3 2.3 6.2 1.5 .6 1.5-3.1 1.2-6 .4-5.9 1.4 2.9 2.3 4.5-.9 7.5 .1 7.4 1.5-1.4 1.4-18-1.3-10.5 .7-2 .7 5.4 1.5-5.4 1.5 6.2 1.5-11.8 0-11.9-1.5-1.5 .1-.2 1.4-19 0-15.3-.7-4 .7-15.8 0-7.2-.6-3.1-.9 3.1-2 7.2-1-6.7-1.5 2.5-1.1 7.5 .4 11.9-.8-8.9-1-7.5 .4-1.5-.2-.7-.7 .7-.4 12-1.4 3-1.2 16.5 .8 2.1-.8 1.4-1.5-.3-1.5 1.3-1.5zM381.7 298.3l-1 .7 2.1 0-1.1-.7zM103.3 302l3.9-.9 15 2.4-7.4 1.5-6.1 .2-6-1.4-.3-.3 .9-1.5zM241 302l4.2-1.2 12 .6 4.3 .6 .9 1.5-3.7 .7-7.5-1.5-10.2-.7zM266.4 302l20.8-.8 3.5 .8-8 1.8-7.5 .4-3-1.2-5.8-1zM297.1 303.5l2.1-.8 6-.6 3 .5 1.3 .9-5.8 .6-6.6-.6zM467 303.5l4.6 0-1.4 .9-3.2-.9zM214.3 305l.9-.7 3-.4 9.6 1.1-4.9 1.5 .8 1.5-1 .3-2.4-.3-6-3zM179.6 306.5l4.1-.7 4.5 .2 7.4 2 .7 1.5-15.6-.9-4.1 .9-7.1 0 2.8-1.5 7.3-1.5zM277.2 306.5l4-.7 10.5 .5 1.3 .2-7.4 1.5 17.7 1.5-23.6 0 3.7-1.5-6.2-1.5zM434.7 306.5l8.5-1.5 6 1.7 12.7 1.3 6.6 1.5-44.1 0 7.5-1.5 2.8-1.5zM472.1 306.5l1.1-.9 1.5 0 1.7 .9-1.7 .4-2.6-.4zM48.4 308l9.3-1.3 11.3 1.3-9.8 .7-10.8-.7zM130.8 308l4.9-1.1 6.4 1.1-6.4 .7-4.9-.7zM323.1 309.5l2.7 0-2.7 0z"/>
<path fill="#f46d43" d="M41.2 164l1.5 0-1.5 .4 0-.4zM42.8 165.5l1.4-1 6-.2 4.5 1.5 11.6 1.2 5.3 1.5-9.4 1.7-2.3-.2-1.1-1.5-1.1-.3-16.5-.1 0-2 1.6-.6zM81.1 165.5l6.6 0-6.6 0zM98.8 165.5l11.5 0 2.2 1.5-8.3 .2-5.4-1.7zM190.9 165.5l3.3-.7 2.9 .7-1.4 .9-4.8-.9zM275.9 164l7.5 0-5.2 .4-2.3-.4zM320.6 164l8.9 0-3.3 .8-5.6-.8zM447 165.5l3.3 0-3.3 0zM487.4 164l.8 0 0 .2-.8-.2zM240.4 167l12.3-.5 9.3 .5-7.8 .4-13.8-.4zM296.8 167l3.7 0 1.7 1.2 2.1 .3-1.4 1.5-5.2 .4-2.3-.4 2.3-.3 2.4-1.2-3.3-1.5zM325.7 167l2-.5 2.7 .5-1.1 1.5 4.4 1.9 7.1 1.1-2.2 1.5-1.9 .1-4.5-1-6-.4-4.2-1.7-.5-1.5 4.2-1.5zM400.7 167l3.5-.4 5.5 .4-2.5 .5-6.5-.5zM418.9 167l3.3-.8 7.3 .8-7.3 .9-3.3-.9zM479.3 167l2.9-.6 6 0 0 1.3-8.9-.7zM207 168.5l1.6 0-1.6 0zM411.5 168.5l4 0-.8 .4-3.2-.4zM287.3 170l6.6 0-3.7 .4-2.9-.4zM84.5 171.5l1 0-1 0zM299.9 179l2.3-.5 2 .5-2 1-1.5-.1-.8-.9zM219.8 182l2 0 3.9 1.8 1.9 1.2-.4 1-1.5 1-1.5 .1-1.4-.6-3-4.5zM280.2 189.5l2.5-.4 3.5 .4-2 1-1.5 0-2.5-1zM393.2 192.5l2-1 1.5 0 7.4 1 3.3 1.5-.2 1-1.5 .5-4.5-1.5-6 .4-1.5-.4-.5-1.5zM168.2 198.5l2.3 0-1.8 1.7-.7-.2 .2-1.5zM164.2 201.5l3-1 1.4 2.5-2.9 .9-1.5-.4-.5-.5 .5-1.5zM229.5 201.5l3.7 0 1.9 1.5-1.9 1.2-1.5 .1-3-.3-1.7-1 2.5-1.5zM160.8 206l3.4-1 13.5 .8 .7 .2-1.9 1.5-.9 1.5 .6 .6 1.5 .6 4.9 .3 4.1 1.3 1.5-.1 1.2-1.2-2.8-1.5 3.1-1.8 9-.2 9 .6 4.5-.9 4.5-2.1 6.2 1.4-1.2 1.5 5.5 .9 3 1.1 6-.3 3 2.6 6 0 3-1.4 3-.2 2.6 1.8 2.1 3-2.1 1.5 1.9 .5 1.5 .1 3-1.2 3 0 4.5 .9 10.5-.1 6 2.1 18 .1 3.6 .6 .1 1.5 3.6 1.5 4.7 .5 1-.5-3.1-1.5 3.6-.1 5.5 1.6 .7 1.5-1.9 1.5 1.5 1.5-.6 1.5-11.2 .5-13.5-1.4-3.7 .9-2.3 1.7-4.5 .7-3 1.2-3 .2-3.5-.8 1.8-1.5-4.3-.6-1.8 .6 .3 2.3 1.2 .7-4.2 .9-13.5-.6-9-1.9-4.5 .4-1.5 .5-4.5 3.7-7.5 2-6.8 1-1.3 1.5 3.8 1.5-.4 1.5-1.6 1.5-3.6 1.5-2 1.5 .9 1.5-2.5 1.3-3-.2-3-1.9-3-.7-9 .8-6-1.4-6 1.6-6 .6-4.5 1.3-1.5 1.1-6.5-1-.8-1.5-1.7-.1-7.5 .5-6-.6-4.5 .9-10.5-.1-4.5-1.2-4.5-.3-1.1-.6 2.6-1.1 3.9-.4-5.4-.5-7.1-2.5-.2-1.5-2-1.5 0-1.5-.8-1.5 1.6-1.5 .5-1.5 1.4-1.5 2-4.5-.1-1.5 3.5-1.5-.5-1.5 .5-1.5 2.9-3-1.2-1.5 1-1 4.5-1.2 4.5 1 3 .1 1.1-.4 1.9-2 3-1.2 9 1.2 5.2-1-4.4-1.5 4.7-1.5-2.8-1.5 .1-1.5 2.8-1.5zM230.2 231.2l-4.8 1.8 1.8 .5 4.5-.5 .6-1.5-.6-.5-1.5 .2zM272.2 219.3l-1.1 .2 1.3 1.5-.3 1.5 1.6 .5 4.5-1.2 3-.1 1.1 .8 .3 1.5 1.6 .3 10.2-.3-4.2-2.1-7.5-1.4-1.5-1.6-9 .4zM236.9 207.5l2.3-.6 3.2 .6-3.2 1-1.5-.1-.8-.9zM362.1 209l3.1-.5 4.5 .7 6-.3 4.5 1.2 4.5 2 6-1.8 3 .5 3 2.9 3.7 1.3-1.2 3-2.5 3 7.5 1.4-.5 4.6 5 3-1.8 1.5 1 1.5-1.1 1.5 4.9 .6 1.8 .9-3.3 1.6-12 .6-1-.7 2.5-1 .1-.5-9.1-.9-7.5-2.8-6 .7-6-2.6-6 .2-4.5-1.4-4.5 .6-7.5-.3-5.6-1-.7-1.5 4.2-1.5 .4-1.5-.8-4.5 1.8-3 3.7-.8 9 .1 1.5-.6-1.9-1.7-.3-1.5 2.1-3zM377.2 216.4l1.8 .1-1.8-.1zM354.7 222.4l-.6 .1 2.8 0-2.2-.1zM139.8 212l4.8 0-1.4 .8-3.4-.8zM269 215l.8 0-.8 0zM325.9 219.5l2.7 0-2.7 0zM472.4 219.5l2.3-1 3-.2 1.5 1.2 .5 1.5-.9 1.5 .4 .3 3 .7 6-.3 0 6.3-4.5 .1-6-1.6-3 2-3 .5-2.8-.5-.4-1.5-2.7-1.5 .8-1.5 5.2-3-.9-1.5 1.5-1.5zM473.2 226.7l-.3 .3 1.8 .5 1.5 .2 .3-.7-3.3-.3zM60.4 222.5l14.7 1.5 .6 1.8 2.8 2.7-4.3 3.1-7.5 1-19.5 .8-2.1-.4 2.4-1.5-3.3-2-3-.4 0-6.2 19.2-.4zM434 270.5l3.7 0-2 .4-1.7-.4zM407.3 279.5l4.4-.5 3 .5 1 3-13.6 3 0-1.5 5-1.5 1.4-1.5-1.2-1.5zM412.2 294.5l5.5-.6 5.4 .6-3.9 1.3-6-.7-1-.6zM410 296l1.7-.9 .5 .9-.5 .4-1.7-.4zM375.1 297.5l.9 0 .7 3-.7 1.5 1.2 .2 3.7-.2 1.8-1.5 3.5-.8 1.5-.9 3-.3 1.2 .5-2.7 .8-3.4 2.2 4.9 .8 1.5-.2 3-1.6 6-.2 12-3.1 4.5-.9 1.5 .2 0 1-3 1.4-1.1 1.1 4.5 1.5 1.3 1.5-9.2 .5-.7 1 3.7 1.5-6 2.4-15-1.7-3 .8 1.6 1.5-15.6 0-19-1.4-3-.7-1.5-.9-6-1.1-1.3-.4-1.3-1.5 8.6-.6 4.7-.9-5.3-1.5 3.6-1.8 13.5 .7 3.1-.4 2.3-1.5zM369.7 306.3l-.6 .2 5.7 0-2.1-.8-3 .6zM106.5 302l1.1 0-1.1 0zM300 303.5l3.7-.4 2.5 .4-6.2 0zM432.8 303.5l4.4-.6 4.7 .6-3.2 .4-5.9-.4zM217 305l2.7-.4 5.3 .4-5.3 1-2.7-1zM182.9 306.5l3.2 0 2.1 1.1 4.5 .4-8.3 0-1.5-1.5zM279.7 306.5l3-.4 6.5 .4-5 .8-4.5-.8zM333.7 306.5l6-.6 2.5 .6-1.9 1.5-2.1 .4-6.8-.4 2.3-1.5zM437.7 306.5l5.5-.5 7.2 2-3.2 1.5-21 0 9.1-1.5 2.4-1.5zM50.8 308l6.9-.8 7.1 .8-5.6 .5-8.4-.5zM132.7 308l3-.6 4.6 .6-4.6 .4-3-.4zM281.8 309.5l2.4-.7 8.8 .7-11.2 0zM341.6 309.5l1.1-.8 4.5-.2 4.9 1-10.5 0zM411 309.5l2.2-.4 3.6 .4-5.8 0z"/>
<path fill="#d73027" d="M46.3 165.5l3.9-.2 6 1.3 4.9 .4-10.9 .9-4.5-.2-2.8-.7 3.4-1.5zM248.1 167l8.2 0-8.2 0zM422 167l3.3 0-3.3 0zM482.5 167l2.2 0-2.2 0zM61.4 168.5l.8-1.1 5.5 1.1-4 .6-2.3-.6zM324.5 170l1.7-.8 1.5-.1 3.3 .9-1.8 1-4.7-1zM161.3 207.5l2.9-.5 7.5 .9 1.6 1.1-.1 3.3 7.5 .3 3.2 .9 2.6 1.5-1.3 .7-6-.9-2.4 .2 .3 1.5 5.1 1.8 3.6-.3 .9-1.3 3-.4 7.5-3.2 10.5-.6 .8-.5 .1-1.5 1.6-1.5 3.5-1.6 1.5 0 1.5 1.5-.3 1.6-6.9 3 2.7 .9 4.5-.2 4.4-.7 3.1-1.6 3 .2 6-1.5 1.5 .8 .2 2.1 2.8 1.4 1.5 .4 7.5-.3 1.5 .4 4.1 2.6-1.7 1.5 .6 1.2 3.4 1.8-2.4 1.5-.1 1.5 .6 .7 3 .7 6.8 .1 1.6 1.5 4.8 1.5 .1 1.5-1.3 1.1-3 .2-6-2.2-3-.1-3-1.3-6-.2-4.5-1.7-9 .4-1 .8-11 3.6-1.3 .9-.6 1.5 1.9 .8 4.5 0 4.1 .7-3.6 1.5-2 .3-9-.3-2.9 1.5 1.1 1.5 4.5 1.5 1.8 1.2 .2 .3-1.6 1.5-4.6 1.4-15 1.4-3-.3-2.1-1 1.5-1.5-3.9-1.2-1.5 0-3 3.1-10.5 1.8-18-.4-6-.7-13.5 1.6-5.4-1.2 2.5-1.5-1.6-1.1-6-.5-4.8-1.4-3.5-3 1.9-1.5-2.7-1.5 3.4-4.5 2.6-6 5.8-1.5-2.7-1.8-.4-1.2 3.8-3-1.5-1.5 2.6-.8 7.5 1.1 7.5-3.1 3 2.2 3 .4 3-.7 3-2.1 3-.9 6 .2 2.6-.8-7.1-.3-3.5-1.2 2.9-1.5 .3-1.5-2.6-1.5zM177.7 226.2l-.8 .8 2.3 .8 3.3-.8-1.8-.9-3 .1zM192.7 234.2l-.9 .3 .6 1.5 3.3 .7 9-1.2 2.2-1-3.7-.5-10.5 .2zM204.7 225.4l-1.7 1.6 .2 .4 5.9 2.6 1.6 .2 2-.2-1-1.5 1.9-1.5 .4-1.5-3.3-1-6 .9zM218.2 225.5l2.3 0-2.3 0zM225.7 220.2l-.5 .8 1.1 0-.6-.8zM165.7 219.1l-1.2 .4 2.7 1.1 1.5 .1 2.1-1.2-5.1-.4zM362.6 210.5l1.1-.7 3-.2 9 .9 2.8 1.5-4.3 1.1-2.7 1.9 1.7 1.5-.5 1.6 1.5 .5 9-1.8 .8-.3-.4-1.5 5.6-.4 3-1.5 1.5 .6 2.3 1.3-1.3 1.5 2.2 1.5-1.7 1.7-6.4 1.3 7.6 1.5 .7 1.5-1.1 1.5 4.5 1.5 .4 3-2.7 .3-4.5-.7-4.5 1.7-6-.7-6 .5-1.5-.4-3-2.4-6-.2-4.5-.9-6 .4-3.1-.6 1.1-1.5 3.5-.8 4.2-2.2-2.3-1.5-1.9-.5-7.5 .7-1.8-1.7 1.8-1.7 1.5-.4 10.5 0 2.4-.9 .1-1.5-2.6-3 .5-1.5zM51.4 224l7.8 .5 2.7 1-2.7 1.3-1.5-.1-3.9-1.2-.6-1.1-1.8-.4zM299.6 224l2.6-.5 3 .2 1.8 .3 1.2 .8 4.8 .7-4.8 .8-6-.1-3.9-.7 1.3-1.5zM70.1 225.5l1.1-.5 1.3 .5-2.4 0zM262.6 225.5l3.6-1 10.5 1 .3 1.5-1.8 .4-4.5-1.4-7.5 .7-.6-1.2zM481.4 225.5l3.8-.5 2.8 .5-2.8 1.1-3.8-1.1zM285.3 227l3.4-1.3 1.5 .2 .9 1.1-2.4 .6-3.4-.6zM48.7 228.5l10.5-1 4.6 2.5-6.1 1.2-3 0-4.8-1.2-1.2-1.5zM395.6 233l4.1 0-4.1 0zM406.5 236l2.2 0-2.2 0zM358.8 300.5l12.4-.1 .6 .1 .9 1.8 4.5 .9 7.5-.5 7.5 1 6.6-.2 .9-.5 7.5 1.2 5 2.3-6.5 1.8-10.5-1.8-4.5-.1-.8 .1-.9 1.5 2.1 1.5-12.7 0-2.7-.6-9-.4-9-1.2-4.5-1.7-3.6-.6 2.1-1 9.9-2-.9-.9-1.9-.6zM369.7 304.7l-5.2 1.8 8.2 .7 4.4-.7-.6-1.5-.8-.4-3-.3-3 .4zM411 302l2.2-.4 3.2 .4-1.7 .5-3.7-.5zM282.5 306.5l2.4 0-2.4 0zM54 308l3.7-.4 4.3 .4-8 0zM135.1 308l2.8 0-2.8 0zM438.4 308l3.3-1.1 4.5 1.1-1.4 1.5-16.9 0 10.5-1.5zM343.3 309.5l3.9-.5 2.6 .5-6.5 0z"/>
<path fill="#a50026" d="M45.3 167l3.4-.9 6.4 .9-4.9 .4-4.9-.4zM166.4 210.5l2.8 0-2 .8-.8-.8zM365 210.5l2.3 0-.6 1-1.5-.4-.2-.6zM197.2 215l3-1.2 3-.1 3 1 1.5 1.2 3 .5 7.5-1.2 12-.5 1.7 .3 .7 1.5-5.4 .8-6.3 2.2 .3 1.7 4.3 1.3 1.1 1.5-2.4 .3-13.5-1.5-7.5 1.4-3.4 1.3-1.5 3-1.1 1-8.5 .5-.1 1.5-3.7 1.5-.6 1.5 2.5 1.5 6.5 1.5-2.3 1.5-5.2 1.5-1.9 4.5-3.1 1.5-4.6 .5-6-.5-7.5 .7-6-.6 .1-1.6-1.2-1.5 1.7-1.5-.6-.5-1.5-.4-6 .1-3.2 .8 .2 1.5-2.5 3-3.5 1.6-4.5-4.2-3-.5-5.4 .1-4.1-3 2-1.5-1.7-1.5 .1-1.5 1.8-4.5 2.1-1.5-.4-1.5 11-4.5-1-3 7.6-.1 1-1.4 2-.3 1.5 .4 1.8 1.4 2.7 .5 3 0 4.5-1.1 9.2 2.1-3.2 1.7 1.5 1.6 4.5 .6 3 2.6 6 0 3.1-.5 1.2-1.5-2.7-1.5 2.9-2.3 8.8-2.2 .2-1.5-1.2-1.5 .4-1.5 2.3-1.5zM141.7 222.1l-.5 .4 4.7 0-1.2-1.5-3 1.1zM176.2 234.2l-.5 .3 2 .5 3.6-.5-3.6-.6-1.5 .3zM177.7 238.8l-5.2 1.7 3.7 .4 4.7-1.9-3.2-.2zM160.2 216.5l4-.9 6.6 .9-6.6 1.1-3-.4-1-.7zM241.4 216.5l3.8 0 1.5 .6 1.5 2.1-.1 1.8 2.9 1.5-2.3 1.5-1.2 1.5-2.3 .7-6-1.5-8.5-.7-1.6-1.5 1.1-.5 4.5-4.6 6.7-.9zM236.2 222.5l4.1 0-4.1 0zM171.8 218l3.4 0-3.4 0zM385.8 218l3.4-1 4.9 1-1.9 .9-4.5 .6-4.2 1.5 3.9 3-3 1.5 .6 1.5 4.3 1.5-1.6 1.1-9-.2-4.5-2.1-6-.9-1.4-.9 1.1-1.5-.9-1.5 1.2-1 7.5-1.4 4.5-1.4 5.6-.7zM184.6 219.5l3.2 0-2.6 .4-.6-.4zM361.2 219.5l1.2 0-1.2 0zM220.5 227l3.7-.5 4.1 .5-4.7 3-2.4 .4-3 0-2.1-1.9 4.4-1.5zM201 230l3.7 0 4.5 1.2 3.6 .3 .1 1.5 2.3 1 1.2 2-4.2 .8-3-.3-.6-.5 2-1.5-1.4-.9-7.5-1.5-.9-.6 .2-1.5zM199.9 240.5l3.3-.5 6 .1 8.3 3.4-3.8 1.9-15.7 1.1 .2-1.5-1.5-1.5 .1-1.5 3.1-1.5zM355.5 305l3.7-.4 1.5 .4-.3 1.5-1.2 .1-1.5-.1-2.2-1.5zM380.6 305l4.1-1.2 6 .5 9-.1 10.2 2.3-4.2 1-10.5-1.7-6 0-4.3 .7 1.3 .3 3.6 2.7-9.8 0-2.8-.9-12.4-.6 1.9-.5 10.5-.3 2.8-.7 .6-1.5zM429.8 309.5l4.4-.4 7.5 .4-11.9 0z"/>
<path fill="none" stroke="#000" stroke-width="0.45" stroke-opacity="0.8" d="M349.8 164l3.8 0M359.3 164l5 0M146.2 166.9l-.8 .1 5.3 .7 2.2-.7-6.7-.1M89.2 186.5l-3.6 1.5 .6 1.5-1.5 1.2-6 .6-3 2.2-12-1-12 3 1.7 3-5.6 0-.6 1.5 .3 1.5-4 1.5 5.4 3-2.9 1.5 .3 1.5 5.3 1.5 1.6 1.7 1.5 .1 4.5-1.5 9-.7 1.6 .4 .7 1.5 .7 .3 6 1 3-.6 1.5-1.4 1.5-.5 2.5 1.2 3.5 .5 3-.3 7.5-2.3 7.5 .9 4.5-1.5 2.5-1.8-1.9-1.5 2.4-1.6 6 .9 4.5-1.9 18-.9 7.3-2.5-1.1-1.5-3.4-1.5-.9-1.5 1.7-1.5-.3-1.5-5.7-1.5-3.6-3.2-3.1-1.3-5.1 0 1.5 1.5-3.8 .4-12-3.3-9 .1-16.5 1.3M80 197l3 0-3 0M76.5 200l2.8 0-2.8 0M341.2 199.6l-2.3 1.9 5.9 3 6.9 1.2 3.1-1.2 1.7-1.5-.3-1.5-1.9-1.5-7.1-.8-6 .4M102.4 201.5l2.5 0-2.5 0M343.8 201.5l1.9-.4 1 .4-2.9 0M297.7 203.1l-.9 1.4 2.4 .4 1.6-.4-1.6-1.3-1.5-.1M488.2 244.3l-3 .7-1.6 1.5 .6 4.5 4 1.3M90.7 247.6l-1.9 1.9 1.2 1.5 3.7 .7 7.5 3.8-6 .9-4.3 2.1-.5 1.5 1.8 4.2 3 1 6-.1 1.2 .9-7.2 .6-1.3 .9-.7 1.5 3.5 2.2 12 0 4.5 1.7 6 .3 3.6 1.8 3.9 .4 9 .6 10.5-.7 7.5 1.5 4.5 .3 10.5-1.3 4.5-1.1 4.3 .3 4.7 1.6 3-.1 5.7-1.5-8.9-1.5 .2-1.5 1.5-1.5 4.5 1.3 7.5-1.1 1.3 1.3-2 1.5 .7 1.5 3 0 3-2 6.2-2.5 .2-3 1.1-1.6 6-1.5 7.5 1.1 7.5-1.6 4.5 .6 .6-1.5-1.2-1.5 1.5-1.5-2.4-1.3-7.5-.9-12 2.1-16.5-1.2-3 1.4-9 .6-4.5 3.7-1.5 .1-3-.3-1.5-1.6-1.5-.6-12 1.6-25.5-.2-9-.9-10.5 .9-1.1-.4 1.4-1.5-1.6-1.5-5.1-1.5-.1-3 .9-1.5-3-1.5-.4-1.6-3-1.3-7.8-.1 .9-1.5-2.1-.7-4.5 .3M41.2 252.4l4.5 2.1 1.5-.1 .7-.4 1.1-3 4.2-1.9 1.3-1.1 .3-1.5-1.6-.8-6-.3-3-.9-3-.2M249.7 255.1l-2.7 1.9 2.3 1.5-5.2 3 .1 1.5 .8 1.5 8.1 1.5 5.6-1.8 2-1.2-1.6-1.5 1.1-1.5 2.4-1.5-6.9-.9-1.5-.6 .1-1.5-1.6-.9-3 .5M41.2 255.5l2.9 0-1.4-.6-1.5 .5M77.2 259.5l-1.4 .5 2.9 .4 2.9-.4-1.4-1.4-3 .9M201.6 263l.4 0-.4 0M84.7 264.3l-1.2 .2 2.7 .5 2.3-.5-3.8-.2M450.7 301.9l-.5 .1 .9 0-.4-.1M75.7 303.4l-.4 .1 1.1 0-.7-.1M42.7 304.9l-.8 .1 1.7 0-.9-.1M306.7 165.3l-.5 .2 4.2 0-.7-.4-3 .2M339.7 164l-1.8 1.5 3.3 .2 1.5-1.4 1.2-.3M344.8 164l6.9 .7 12-.1 4.6-.6M144.7 166.8l-1.4 .2 4.4 1 6 .5 .5-1.5-3.5-.5-6 .3M465.7 168.4l-.7 .1 6.8 0-6.1-.1M116.2 169.9l-.7 .1 3.8 0-3.1-.1M218.2 173l-.4 0 2.4 0-2 0M78.9 189.5l1.3-.8 3 .8-4.3 0M147.7 189l-.6 .5 .6 .5 4.9-.5-1.9-.9-3 .4M374.2 189.4l1.5 .4 3.4-.3-1.9-.5-3 .4M339.7 196.8l-1.5 .4-.9 1.3-2.3 1.5-1.3 3-4.5-.4-4.5 2.3-4.5 .2-1.5 .5-.5 .4 1.2 3 2.3 .7 9 .4 .8-1.1-4.6-1.5-1.6-1.5 3.9-.9 1.5-1.6 1.5-.5 3 .2 4.5 1.9 5.5 .9 5 2 3-.5 5-3 .4-1.5-1-3-1.4-.6-10.5-2.5-6-.1M294.7 199.6l-.9 .4 .4 1.5-.6 3 .6 1.5 2 1.1 9.6-1.1-1.7-1.5 .5-1.5 2.9-3-8.3-.7-4.5 .3M318.7 199.9l-.4 .1 1.9 1.5 1.5 .2 1.2-1.7-4.2-.1M488.2 199.8l-1.6 .2 1.4 1.5-1.6 1.5 1.7 3-.9 1.5 1 .4M272.2 201.2l-1 .3 2.5 .4 3.5-.4-5-.3M41.2 204.3l2.7 1.7-2.7 .7M422.2 205.4l-1 .6 .3 1.5 3.7 .7 1.9-.7-.4-1.7-1.5-1-3 .6M449.2 207.1l-3.8 1.9 11.3 2.2 4.5-.6 3-1.6-3-2.1-10.5-.2-1.5 .4M41.2 208l6.5 2.5 .3 1.5 2.9 1.5 3.8 1 3-.2 1.5-1.1 1.5-.3 7.5 .5 3 1 9 1 3-.4 1.9-1.5 2.8 0 6.1 1.5-.3 1.3-4.6 .2-.5 1.5 .6 .6 1.5 1 4.5 .4 1.5-.5 4.5-3.7 .5 .7 2.5 .4 5.3-.4 1.3-1.5 4-1.5 2.9-3.5 4.5-1-1.2-1.5 5-3 8.2-.4 6 1.6 1.5-.1 3-1.6 6.2-1-.6-1.5 3.4-1.5-.6-1.5-4.2-1.5-1.1-1.5 .7-1.5-.1-1.5-.7-1-6-2 2.1-3-2.1-1.3-7.2-.2-3.3-1.4-5.4-.1 .9 .2 .6 1.3-3.6 .6-2.5-.6 1-1.1 1.6-.4-6.1-.6-18 1.9-7.5-.7-10.5 2.9-4.5 0-3.8 2.5 .2 1.5-.9 .5-3 .3-7.5-.4-12 3.5-7.1 3.6 .8 1.5-2.7 1.9M99.7 213.5l3-1.2 3.2 1.2-3.2 1.9-3-1.9M59.2 214.9l4.1 .1-1.1-.6-3 .5M101.2 222.3l-.5 .2 5 1 .4-1-.4-.5-1.5-.2-3 .5M107.2 223.7l-.9 .3 1.5 0-.6-.3M312.7 241.7l-2.2 1.8 2.2 1.4 3 .2 4.6-1.6-3.1-2.7-4.5 .9M488.2 243.3l-4.5-.5-2-.8-.9-1.5-3.1-.7-3 .6-1.1 1.6 2.6 1.1 1.5 1.3 3-.1 1.5 .7-1.6 1.5 1.4 1.5 .4 3 4.6 3-.9 1.5 2.1 1.3M81.7 246.4l-.7 .1 1.5 0-.8-.1M269.2 252.2l-.7 .3 1.4 1.5 4.2 0 .1-1.5-3.5-.6-1.5 .3M281.2 252.3l-.4 .2 .5 1.5 5.8 1.5 .1 1.5 1.1 1.5 1.9 .7 3 .1 4.5-1.4 6-.1 3.8-.8-5.3-1-4.5-2-6-.8-4.5-1.4-3-.2-3 .7M41.2 256.9l7.5-.6 7.5 .2 .4 2 2.4 1.5-1.7 3 1.9 2 3 .8 7.5-.7 6 1.2 9 .5 2.5 .7 0 1.5 3.5 .8 3 2.4 4.5 .6 9.5-.8 2.5 2.4 7.5 2.2 9-.1 7.5 .9 12-1 10.5 2.5 4.5-.4 4.5-1.1 6 .4 3-.9 6 1 4.5-.2 6-1.3 10.5 1.1 1.5-1 .5-3 4-1.4 6.5-.1-2-.9-.5-2.1 .5-.2 9-1.7 4.5 .9 4.5 1.6 8.2-.6-.7-2.2-1-.8 4-1 3 .1 7.5 1.7 3 0 7.5-2.1 2.1-1.7-1.8-1.5 1.2-.6 3-.2 3 .6 1.5-2.8-8.5-3 3.8-1.5-4.3-1.1-3.3-1.9-2.7-.5-4.5 1.4-1.6 2.1-3.9 1.5-2 2.7-1.5 .5-1.5 1.7-1.5 0 .2-1.9-15.2-2.4-6.4 2.4-2.6 .4-12-2-12 .4-4.5 1.1-9 0-.7 .1-.5 1.5-1.8 .5-15 1.5-6-.2-15-2.1-4 .3-2.2 1.5-8.8 .2-4.5-1.1-4.8-2.1-1.3-1.5-.3-1.5 .6-1.5-2.2-1.5-2.5-3 1.1-1.5-3.5-4.5-2.1-.9-9 1.2-3 2.2-4.5 .5-.7 1.5-3.6 1.5 .5 1.5 7.7 1.5 .9 3-1.5 1.5-3.3 .9-5.1-2.4-2.4-.5-1.7 .5-4.3 2.9-6 .5-2.5-.4-3.5-1.8-4.5-.8-6.8-3.4 1.2-1.5 4.9-1.5 .7-1.8 3.5-1.2-4-1.5 3.4-1.5-2.9-.9-3.6-2.1-3.9-.9-4.5 .9 .3 1.5-4.8 1.3M70.1 261.5l5.6-.2 4.5 .9 6-1.7 2.3 1-2.3 1-16.5 1.5-5.3-1 5.7-1.5M47.2 265.6l-1.3 .4 1.4 1.5 4.5 0-1.6-1.8-3-.1M272.2 265.9l-1.2 .1 1.1 1.5 1.6 .2 1.7-.2 2.1-1.5-5.3-.1M81.7 270.4l-6.6 1.6 2.1 1.1 3 .3 3-2.7 1.9-.2-3.4-.1M488.2 275.9l-1.9 .6 1.9 1.8M41.2 277.2l.6-.7-.6-.4M213.7 277.6l-.5 .4 2 .6 1.5-.1 .4-.5-1.9-.6-1.5 .2M197.2 279.4l3 .6 2.5-.5-1-.7-1.5-.1-3 .7M152.2 280.6l-1.1 .4-.4 .9-1.7 .6 4.7 .4 3 1.2 2-.1-.4-1.5 .4-1.5-.5-.4-3-.7-3 .7M474.7 281.9l-.7 .6 2.2 1.1 1.5 .1 2.3-1.2-2.3-.6-3 0M42.7 285.1l0 .5 2.3-.1-.8-1.1-1.5 .7M155.2 286.8l-1 .2 1.9 0-.9-.2M137.2 295.9l6.2 .1-6.2-.1M45.7 298.8l-.7 .2 .7 1.1 .5-1.1-.5-.2M71.2 300.5l5.5 1.5-4.6 1.5 2.1 .6 4.5-.2 3-1.3 3.7-.6-2.2-.4-1.3-1.1-3.2-.6-7.5 .6M450.7 300.4l-1.5 .2-2.2 1.4 3.7 .5 3.6-.5-3.6-1.6M92.2 302l-1.1 0-.1 1.5 2.8 0 1.7-1.5-3.3 0M488.2 304.3l-1.8 .7-1.6 1.5 3.4 .2M143.2 306.3l-.6 .2 5.6 0-5-.2M41.2 306.7l3.3-.2 1.9-1.5-2.2-1-3 0M234.7 308l-.4 0 .4 0M261.7 307.7l-.5 .3 2 .5 5.4-.5-3.9-.7-3 .4M311.2 307.8l4.5 .5 5.1-.3-8.1-.6-1.5 .4M159.7 309.5l-4.8 0M181.8 164l.4 .1 1.5-.1 .3 0M203.9 164l6 0M228.7 165.3l-.7 .2 6.4 0-5.7-.2M287.2 165.4l-1 .1 4.2 0-3.2-.1M307.4 164l-3.8 1.5 4.6 .7 3-.2 1.9-.5 .9-1.5M337.1 164l-1.8 1.5 5.9 2.1 1.5-.3 3-1.9 19.5-.3 6.4-1.1M431.2 165.3l-.4 .2 3.4 .4 2.8-.4-5.8-.2M75.7 166.7l-1 .3 8.8 0-7.8-.3M141.7 166.8l-.8 .2 17.3 3 4.5-1.2 6 .5 2.8-.8-1.3-.4-12 .1-6-1.9-10.5 .5M174.7 166.7l-.7 .3 8.2 .4 4.3-.4-11.8-.3M357.7 166.7l-1.2 .3 1.2 .8 1.5 .1 1.7-.9-3.2-.3M449.2 167l-.7 0 10.2 0-2-.6-7.5 .6M234.7 168.4l-1.5 .3-3 2.5-1.6 .3 4.6 .1 5-1.6-1-1.5-2.5-.1M246.7 168.5l1.5 1 1.5 .1 2.1-1.1-5.1 0M267.7 168.5l-1 0 7.5 0-6.5 0M380.2 167.8l-1.4 .7 2.9 .5 5.2-.5-2.2-1-4.5 .3M396.7 168.5l-.6 0 .6 0M464.2 168.1l-1.3 .4 1.3 .6 3 .1 7.6-.7-4.6-.6-6 .2M74.2 170l4.5 .5 5.2-.5-9.7 0M96.7 170l4.5 1.1 2.8-1.1-2.8-.5-4.5 .5M111.7 170l4.5 .6 6.7-.6-5.2-.5-6 .5M198.7 169.9l-1 .1 4 1 2.4-1-5.4-.1M255.7 171.4l-1.4 .1 1.4 .5 5.6-.5-5.6-.1M264.7 171.4l-1.2 .1 5.7 1.2 6.2 .3 .7 1.5 2.1 .7 3 .1 2-.8-.7-1.5-1.7-1.5-1.1-.3-6-.4-9 .6M177.7 173l2.1 0-2.1 0M215.2 172.8l-1 .2 4 .9 8.4-.9-5.4-.6-6 .4M239.2 173l5.9 1.5 1.6 1.2 1.5 .2 5.1-1.4-.6-.9-4.5 .1-1.5-.7-3-.3-4.5 .3M48.7 174.5l4.5 .6 3-.6-1.5-1-1.5-.1-4.5 1.1M287.2 175.9l-.7 .1 3.7 1.6 1.8-.1 1.4-1.5-1.7-.5-4.5 .4M260.2 177.4l-.5 .1 .5 .9 3 .5 4.3-1.4-4.3-.5-3 .4M377.2 177.4l-3.3 1.6 4.8 .6 2.2-.6-1.8-1.5-1.9-.1M177.7 180l-1 .5 .6 1.5 1.9 .7 1.5-.1 3.6-2.1-3.6-.9-3 .4M426.7 180.4l1.5 2.2 1.5 .3 2.7-.9-1.2-1.5-4.5-.1M380.2 181.8l-.4 .2 1.9 .8 1.5-.8-1.5-.5-1.5 .3M449.2 181.9l-1.5 .3-1.2 1.3 1.2 .7 3 .6 1.5-.3 .9-1-.8-1.5-3.1-.1M51.7 183.1l-1.1 .4 1.1 1.1 3.1-1.1-3.1-.4M62.2 183.2l-.5 .3 3.5 1.3 1.5-.2 1.3-1.1-2.8-.7-3 .4M188.2 183.3l-.8 .2 2.3 .4 1.4-.4-2.9-.2M168.7 185l1.5 .9 3 .5 6.7-1.4-2.2-.7-6-.4-3 1.1M383.2 184.2l-.2 .8 1.7 .6 3-.1 1.3-.5-2.8-1.1-3 .3M50.2 185.9l-1.1 .6 2.8 0-1.7-.6M354.7 186.4l-.5 .1 2 0-1.5-.1M374.2 187.9l-2.9 1.6 4.4 1.2 3-.2 3.5-1-2-1.5-3-.5-3 .4M321.7 189.4l1.3 1.6 1.7 .3 2.1-.3 1.4-1.5-3.5-.6-3 .5M465.7 189.3l-1.5 1.2 0 .9 3 .6 1.7-1 .3-1.5-3.5-.2M335.2 190.1l-1.5 1.8-2 .6-1.7 1.5 4 1.5 .2 1.5-.5 1.5-3 .9-3-.1-3-1.1-3-.2-9 2-7.8-1.5-11.7-.9-8.6 2.4 6.4 3-1.9 1.5 .4 1.5 2.4 1.5 .1 1.5 1.2 1.4 1.5-1.4 4.5-.6 2.8 .6 3.2 1.6 6 .2 1.6-.3 .1-1.5-2-1.5 1.8-1 1.5 0 2.3 1-.4 1.5 2.6 1.4 7.5 .3 9 1.5 1.4-.2 .1-1.7 1.5-1.2 7.5 1.7 5.8-.3 1.6-1.5 3.3-1.5 4.4-3-1-3 .3-1.5-2.4-1.2-7.2-1.8-1.8-1.2-8.2-.3 1.6-1.5 3.6-1.5 1.9-1.5-1.9-1.5-6 .7-3-.6-1.5 .5M437.2 192.5l-2.5 1.5 2.5 1.1 1.5-.2 .9-.9-.9-1.3-1.5-.2M480.7 195.5l-.4 0 1 0-.6 0M264.7 198.1l-.7 .4-.4 1.5-1.3 1.5-6.2 1.5 2.4 1.5 3.2 .5 2.2-.5 2.3-1.6 7.5 1 5.6-.9 1.8-1.5-1.4-1.3-6-.8-4.5-1.5-4.5 .2M488.2 197.3l-3 .8-2.5 1.9 1.4 1.5-.3 1.5 .6 1.5-2.2 2.6-2.9 .4 7 1.5-4.6 1.5 6.5 1.9M458.2 199.5l-.6 .5 .9 1.5 2.7 1.2 3 .2 1.7-1.4-2-1.5-4.2-.7-1.5 .2M309.6 201.5l3.1-1.5 1.5 .7 .8 .8-1 1.5 1.3 1.5-2.6 .8-3.8-.8 .7-3M414.7 201.5l1.5 .7 1.6-.7-3.1 0M420.7 202.5l-1.4 .5 0 1.5-1.6 1.3-1.5 1-3 .5-.4 .2 .4 .7 3 0 4.5 1.1 4.5 .4 10.9-.7-1.1-1.5-5.3-1.1-.7-1.9-2.2-1.5-6.1-.5M408.7 204.4l1.5 .6 2.1-.5-3.6-.1M449.2 205.1l-6.4 3.9 6.4 4.5-.4 1.5 1.9 1.1 3.3-1.1-.2-1.5 8.9 .8 6.5-.8 .8-1.5-1-1.5 .6-1.5 2.8-1.5-5.2-2-3-.5-15 .1M337.6 207.5l2.1-.5 4 .5-5.5 1.3-.6-1.3M41.2 210.1l1.5 .4 1.5 1.5-3 .8M428.2 213.5l2.2 0-2.2 0M41.2 213.8l3 1.2 6-.1 1.5 1.2 1.5 .3 9 .2 10.5-1 6 .9 5.2 0 2.2 1.5 1 1.5 5.2 1.5 3.7 3 7.7 1.5-2.3 1.5 2.8 .6 4.5-.2 1.5-.4-.3-1.5 1.5-1.5-1-1.5 .9-1.5 .4-3 6.6-1.5-1.9-1.5 3-1.5 .7-3 5.3-1.5 1-3 1.8-.6 3 0 6 1.1 3 1.1 4.2-.1 1.8-1.8 5.4-1.2 3.2-1.5 1.3-4.5-1.9-1.5-3.6-1.5-.4-1.5 .5-1.8 1-1.2 3.5-1.5-.5-1.5-3.4-1.5-1.9-3-6.2-1.7-12-1.5-6 1.5-16.5 .1-7.5 1.9-3 0-1.5-.3 .4-1.5 2.5-1.5-2.9-.9-4.5 1-4.9-.1-.8 1.5 .1 1.5-1.3 1.5-3.6 .6-6 0-3.3 .9-2.7 4.4-10.5-1.4-2.2-1.5-1.7 0 .5 1.5-1.2 3-1.9 0-2.5-.9-3 .6-.7 .3 1.4 1.5-6.7 3.2M416.2 214.6l-1.2 .4 2.7 1.7 3-.2 1.7-1.5-1.7-.9-4.5 .5M452.2 217.5l-3.5 2 .1 1.5 3.4 .4 3.9-1.9-.3-1.5-3.6-.5M420.7 219.3l-.6 .2 5.1 1 1.4-1-2.9-.7-3 .5M90.7 228.4l-.7 .1 1.5 0-.8-.1M99.7 231.3l-1.3 .2 8.8 1.2 2.1-1.2-9.6-.2M425.2 234.5l0 .3 .9-.3-.9 0M278.2 237.4l-2.9 1.6 1 1.5 3.4 .9 2.4-.9-.2-1.5-1.4-1.5-2.3-.1M452.2 237.2l-1.7 1.8-3.7 1.5-1.6 1.5 7 .7 2.5 .8-11 3 5.5 .2 3-1 9-.7-6-2.2-1.5-2.3 2.6-1.5 .4-1 1.5-.4 7.5 .4 2.8-.5-16.3-.3M318.7 238.9l-9 1.6-.6 1.5-3.6 3 2.7 1.2 4.5-.1 6 .9 12-.7 7.5 1.2 1.5-.4 3-2.7 5.4-.9 .8-1.5-6.2-.6-6.6-2.4-3.9-.8-13.5 .7M323.9 240.5l.8-.7 1.5 0 2.8 .7 1.7 1.5-3 .6-3-.4-.9-.2 .1-1.5M488.2 241.4l-3-.5-7.5-3-3 .4-6.5 3.7 .8 1.5-.7 1.5-7.1 2.3-3 1.6-3.3 .6-2.3 1.5 2.3 1.5 .3 .8 9-.4 1.2-.4-1.7-1.5 10.3-1.5 2.2-1.8 1.5-.2 1.5 .5 1.3 3 4.2 3-1 1.6-2.5 1.4 2.5 .9 4.5 .3M291.7 246.3l-.4 .2 2 0-1.6-.2M275.9 248l.8-.6 1.3 2.1 2.6 1.5-2.4 .4-3.5-.4 1.9-1.5-.7-1.5M305.2 252.4l-.6 .1 .6-.1M243.3 254l.4-1.3 1.5-.2 .5 1.5-2.4 0M274.3 255.5l3.9-.4 4 .4-1.9 1.5-2.1 .1-3.9-1.6M321.7 254.9l-.5 .6 .8 1.5 3 0 .2-1.5-2-.7-1.5 .1M384.7 255.3l-.4 .2 .3 1.5 .8 1.5-1.8 1.5 3.7 1.5-4.5 1.5 3.4 1.3 .6 1.7 3.5 1.5 .4 .9 4.8 .6-.6-1.5 .5-3 1.3-1.6-1.5-.3-3 1-3.9-.6 1.5-3 3.9-.4 1.8-1.1-3.3-1-3-2.8-1.5-.2-3 .8M446.2 255.3l-5.8 1.7 2.8 .6 4.9-.6 .1-1.5-2-.2M238 257l2 0-2 0M41.2 258.6l3 1 8.4 .4 .3 1.5-1.2 1.3-4.5 1.2-4.3 2 1.3 2.1 1.5 .5 7.5 .2 3 .7 6-1.3 4.5 1.4 9-.9 1.4 .3 0 1.5-6.9 1.5-1.8 1.5 7.3 .8 4.5 1.4 4.5-.9 6 .6 4.5-.8 .6 .4-.2 1.5 1.8 1.5-2.2 1-3.2 .5-6.3 3 .1 1.5 1.5 1.5 3.5 1.5 4.4 .1 2.5-1.6-4-.3-1.5-.4-.8-.8 3.3-1.5 1-1.5 11-1.5-.6-1.5 1.5 0 .3 1.5 2.3 .5 9 1 3-.4 2.7-1.1-5-1.5 5.3-.5 3.2 .5 3 3-1.7 1-4.5 1.1-1.5 .9 3.6 1.5 .6 1.5-3.5 1.5 2.3 .9 6 .3 4.5-.7 1.2-.5-.4-1.5 3.7-1.6 1.5-.1 3.5 1.7 4 .6 3 1.3 1.5 .2 3-.5 1.5-1.6-.8-1.5 3.4-1.5 .4-2 1.5-.8 3 0 6-1.6 10.5 .8 7.5-1.1 4.5 1 4.2 2.2 1.8 .1 2-1.6 5.5-2.2 2.7 .7-3 1.5-.2 1.5 2 .5 3 .3 3-1.6 6-1 2 .3 2.5 2.4 1.5-.2 2.6-.7-.8-1.5 1.9-1.5-.6-1.5 5.6-1.5-3.4-1.5 1.4-1.5-.7-.7-4.4-.8 1.4-.1 1.1-1.4 4.9-.3 1.1 .3 .4 1.2 9 .2 3-1.2 4.4-3.2 6.1-.5 2.5 .5-4.1 1.5 1.3 1.5 1.8 .1 4.5-.8 3 .3 1.1 .4-1.3 1.5 3.2 1.3 1.5 0 1.5-.9 1.5-2.7 2.4-.7 .7-1.5-.2-1.5-7.4-1.3-6.1-.2 6.1-.5 3-1.8 21-1.7 4.1 1 2.1 1.5 4.1 0 1-1.5 2.2-1.5-1-1.5 .6-1.5 2.6-1.5-2.2-1.4-6 .4-2-.5-1-1.1-13.5-2-2.8-1.4-.8-1.5-1.7-1.5-2.2-.7-8.5 .7-5 3.6-4.5 .9-2.2-1.5 .7-.7 3.8-.8 0-1.5-3.8-.4-2.5 .4 .4 1.5-5.4-.3-4.5 1.8-3 2.8-10.5 1.7-3 1.8-3.9-.3 3.4-1.5-1.2-1.5-2.8-.4-2.2 .4-.8 1.5-9 1.2-3 1.7-12-2-6 1.4-6-.2-15 1.7-4.5 1.8-4.5-1.1-16.5 1-9-1.3-12 1.2-1.8-.9 .6-1.5-3.3-.4-4.1 .4 4 1.5-2.9 .7-3-.7-.6-1.5-2-1.5 .5-1.5-1.6-1.5-.2-3 .6-1.5-4.1-3-2.2-3-.5-1.5-18.4-2.2-2.5 .7-2.5 3 .3 1.5-5.8 1.3-4 1.7 2.8 1.5-.5 1.5 2.5 1.5 3.7 1.1 4.4 .4 1 1.5-.9 1-1.5 0-4.5-1.6-3-.1-6 3.7-3 .3-2.1-.3 .8-1.5-1.7-1.3-6-.4-6.7-1.3 7.5-3 4.1-4.5-1-1.5-4.1-1.5-1.3-1.5-7.5-1.9-3 .1-7.5 2.1M318.7 259.8l-1.5 .3-.9 1.4 3.9 1.7 2.9-.2 1.6-1 4.5-.5-6-.3-4.5-1.4M465.7 259.9l-1.1 1.6 4.3 3 1.3 .3 9-1 2.8-.8 .5-1.5-1.8-.6-7.5 .1-4.5-1.6-3 .5M444.7 260.7l-1 .8 2.5 1.5 .3 1.5 1.2 .6 7.5 0 2.5-.6-7-3.3-6-.5M291.7 262.6l-.9 .4 2.1 1.5 1.8 .5 .9-.5 .1-1.5-4-.4M348.7 263l-.5 0 5 .6 3.3-.6-1.8-1.2-6 1.2M469.8 263l1.9-.5 1.7 .5-.2 .5-1.5 .4-1.9-.9M332.2 265.8l-.8 .2 3.1 1.5-.6 1.5 2.8 .8 5.6-.8 .8-1.5-4.9-2.4-6 .7M240.5 267.5l1.7-1 1.5-.2 6.3 1.2-1.8 1.2-4.5-.4-3.2-.8M308.2 267.5l1.3 3 1.7 .5 4.1-2 .2-1.5-2.8-.6-4.5 .6M221.1 269l2.9 0-1.3 .8-1.6-.8M348.7 269.6l-1.1 .9 5.1 0-2.5-1-1.5 .1M449.2 270.5l-1 1.5 1 .9 2.7-.9-.6-1.5-2.1 0M488.2 269.6l-9 1.5-7.5 .3-10.8-.9 2.9 1.5 6.4 1 3.7 2-2.2 .5-7.5-.7-7 1.7 .3 1.5 3.2 1.5 0 1.5-1.5 1.5 1.7 1.5-1.1 1.5 1.8 1.5 7.1 2.5 3-1.3 7.5-.1 3-.8 .5-.3 .1-1.5 2-1.5 .4-1.5 3-1.5M84.7 272l3-.4 1.2 .4-2.7 .7-1.5-.7M225.6 272l4.5 0-4.5 0M41.2 272.9l4.5-.3 9.8-2.1-.8-.9-13.5-.2M102.9 273.5l3.4 0-.6 .6-2.8-.6M205.9 273.5l3.3-.6 2.6 .6 1.9 1.4 6-.4 .9 .5-2.4 .5-4.5-.4-6 1.4-1.5-.8-.3-2.2M281.2 274.7l-1 .3 2.5 .5 1.6-.5-3.1-.3M488.2 273.7l-6 1.9-4.5-.6 .6-1.5 2.4-.9 7.5 .4M192.4 278l2.5 0-2.2 1.3-.3-1.3M260.2 278l4.5 .8 3.8-.8-3.8-1.3-3 .4-1.5 .9M422.2 277.9l-.5 .1 2 .5 1.7-.5-3.2-.1M461.5 278l2.7-.5 2 .5-3.5 .8-1.2-.8M474.4 279.5l1.8-.7 1.5 0 .8 .7-2.3 .4-1.8-.4M41.2 280.5l4.5-2.9 6-.1 .8-1-.8-2.3-1.5-.9-4.5 .7-4.5-.3M275.2 280.6l-.9 .4 3.9 .7 4.8-.7-.3-.8-7.5 .4M137.1 282.5l1.6-.4 1.9 .4-1.9 .8-1.6-.8M185.2 282.3l1.8 .2-1.8-.2M263.2 282.2l.6 1.8 2.4 1 4.5 0 2.9-1-4.4-2.2-4.5-.3-1.5 .7M215.2 283.4l-.4 .6 2.8 1.5 3.6 .6 3.1-.6 2-1.5-11.1-.6M252.7 283.9l-.7 .1-.9 1.5 3.1 0 1.5-1.1 3.4-.4-6.4-.1M444.7 283.9l-1.2 .1 1.8 0-.6-.1M466.2 284l2.5-1.4 1.5 0 1.9 1.4-1.9 .7-4-.7M488.2 283.1l-2.1 .9 1.4 1.5-.5 1.5 1.2 .6M275.2 284.7l-.8 .8-.2 1.5 2.5 .7 1.5-.1 .8-.6-2.3-1.9-1.5-.4M41.2 288.3l6 2 3 .2 2.9-.5 2.1-1.5-6.5-.3-3.2-1.2 3.5-1.5 1-1.5 2.3-1.5-1-1.5-4.1-.3-6 1.9M63.7 288l-1.2 .5-.2 1.5 .8 1.5 2.9 1.5 .3 1.5 7.9-.4 1.7 .4 .4 1.5 2.7 0 .6-1.5-.2-1.5-2.4-1.5 2.8-1.5-8.6-.6-4.5-1.5-3 .1M152.2 291.4l-.7 .1 .7 .4 0-.5M276.7 290.9l-.7 .6 2.2 .4 1.8-.4-3.3-.6M449.2 291.4l-1.5 .5-.9 1.1 3.9 1 6.4-1-7.9-1.6M119.2 292.9l-1.6 1.6 9.1 .2 3.8-1.7-5.3-1-6 .9M137.2 294l-5 2 3.5 1.4 9 .2 1.5-.3 1.4-1.3-2.9-1.3-7.5-.7M264.7 294.3l-.6 .2-.4 1.5 5.2 0 1.2-1.5-2.4-.8-3 .6M59.2 296l1.5 .6 1.1-.6-2.6 0M471.7 295.7l-1.4 .3 4.4 2 4.8-.5-1.6-1.5-1.7-.5-4.5 .2M107.2 297.4l-.8 .1 3.2 0-2.4-.1M72.7 298.5l-6.6 2 5.1 1.5-1.2 1.5 4.2 1.3 10.5-1.2 10.5 .5 2-.6 1.3-1.5-1.8-1.3-9 .2-12-2.9-3 .5M116.2 299l1 0-1 0M168.7 298.6l-1.3 .4 1.4 1.5 3.2 1.5 13.2-1 12 2.7 7.5-.6 3-1.1-7.5-.3-1.5-.5-.4-.7-2.6-.7-10.5 .5-4.5-1.5-12-.2M458.2 298.9l-.5 .1 6.5 1.4 1.5-.3 .7-1.1-3.7-.6-4.5 .5M131.2 300.4l0 .5 1.5 .6 5.1-1-2.1-.7-4.5 .6M153.7 300l-1.1 .5 6.4 0-2.3-.9-3 .4M447.7 300l-2.7 2 5.7 1.1 5.9-1.1-2.9-2.2-1.5-.4-3 0-1.5 .6M41.2 300.8l2.9 1.2-2.9 .9M488.2 303.1l-5.4 .4 .3 1.5-1.1 1.5 6.2 .7M203.2 304.3l-.5 .7 3.7 0-1.7-.8-1.5 .1M285.7 304.8l-.9 .2 9.5 0-8.6-.2M141.7 306l-.9 .5 5.4 .7 4.4-.7-4.4-.8-4.5 .3M164.2 306.3l-1 .2 4 .7 5.4-.7-3.9-.6-4.5 .4M302.2 306.4l-.3 .1 9.3 2.2 7.5 0 3.8-.7-9.8-1.9-7.5-.2-3 .5M41.2 307.2l6.3-.7 2.7-2.8 1-.2 .1-1.5-2.1-1.5 .8-1.5-2-1.5-3.8-1.9-3-.1M260.2 307.6l-.4 .4 .4 .3 3 .7 13.5-1-12-1.4-3 .2-1.5 .8M58.8 309.5l-6 0M123.1 309.5l-.9-.1-1.5 0-.5 .1M162.4 309.5l-4.2-.9-6 .9M209.4 309.5l-3.2-.6-2.6 .6M240.9 309.5l-.9-1.5-6.8-.6-3.3 .6 3.9 1.5M401.1 309.5l-1.4-.1-.8 .1M66.7 165.4l-.7 .1 2.6 0-1.9-.1M78.8 164l6 0M104.1 164l3.4 0M149.2 164l4.5 .5 2.8-.5M167.2 165.4l-.4 .1 3.5 1.5-9.1 1-3-.3-4.5-1.6-3-.1-9 .3-3.2 .7 1.7 .9 12 1.5 4.5 1.5 7.5-.6 6 .1 2.6-.4 1.9-1.8 9 0 5.1-1.2-3.6-.9-6-.2-4.5-.8-7.5 .3M178.6 164l2.1 .7 3 .1 3.5-.8M201 164l6.7 1 5.2-1M249.3 164l-4.1 .8-15-.4-4.5 1.1 4.5 .9 30.5-.9-6.5-.1-3.7-1.4M282.7 165.5l7.5 1.1 5.1-1.1-6.6-.6-6 .6M304.9 164l-3.6 1.5 5.4 1.2 4.5-.1 3.7-1.1 .9-1.5M335.3 164l-2 1.5 3.2 1.5 4.1 3 2.1 .3 4.2-.3-2.8-1.5 1.6-1.7 3-.7 4.1 .9-.1 1.5 .5 .2 12 1.6 4.4-.3-4.4-.8-.2-.7 1.7-.8 7.5-.6 1.5-.1 1.5 1.6 3 1 10.5-.9 7.5 1 1.5-.4 .7-.8-5.7-1.5-5.5-.4-4.5-1.2-4.5 1.2-4.5 .4-6-.6-2.5-.9 9.1-1.5M408.3 164l3.4 1.2 1.2-1.2M429.7 164.6l-1.1 .9 7.1 .9 3.4-.9-4.9-.8-4.5-.1M445.4 164l.8 .1 1.5 0 .6-.1M456.7 165.4l-4.5 1-10.8 .6 7.8 .7 12-.6 .3 1.4-1.8 1.1-9.4 .4 3.4 .4 6 .3 6-.9 6-.1 7.5 1.4 3.4-1.1-4.4-1.5-5-.9-10.5 0-1.5-.6-1-1.5-3.5-.1M74.2 166l-1.5 1 6 .6 8-.6-12.5-1M215.2 166.8l-1.4 .2 4.4 .8 3 3 1.8 .7-12.3 1.5 4.5 1.9 3 .4 1.9-.8 10.1-1.1 6 .3 6.7 2.3-4.9 1.5-1.2 1.5 1.4 1.5 2.5 .8 3-.1 6-2 1.5 .1 9 1 3 1.8 4.4-.1 3.1-.5 1.8-1-1.8-1.5 4.5-.5 3-1.4 1.5-.2 12 2.1 3.8-1.5 .7-1.5-4.5-2-5 .5-4-3.1-8.5-1.4 8.5-1.5-1.5-.2-16.5-.1-3.8 .3-3.7 1.4-1.5-.1-.9-1.3-2.1-.2-12 .1-6-.6-6 .4-9-1.3-4.5-.1M71.2 169.9l1.5 .7 4.5 .4 15-.8 7.5 2.3 3 .2 3-.5 3-1.1 6 .2 22.1-1.3-19.1-1-10.5 .5-6-.8-7.5 1.1-13.5-.5-9 .6M179.2 169.5l-1.4 .5 2.9 1.2 3-.2 3.3-1-3.3-1-4.5 .5M194.2 169.9l-.5 .1 2.5 1.5 5.5 .8 3-.2 2.3-2.1-6.8-.7-6 .6M264.1 170l3.6-.4 3.8 .4-3.8 .4-3.6-.4M405.7 169.9l-1 .1 2.8 0-1.8-.1M425.2 170l4.5 .5 3.1-.5-3.1-.6-4.5 .6M238.7 171.5l3.5-.7 5.5 .7-5.5 .4-3.5-.4M383.2 171.1l-.9 .4 2.4 .9 10.5-.9-12-.4M438.7 171.4l-.2 1.6 7.7 1.1 .5 .4-.3 1.5 5.8 1.2 1.5-.1 4-2.6-2.5-.6-7.5-.3-1.5-1.2-3-1.3-4.5 .3M66.7 172.9l-.4 .1 3.4 .5 3.2-.5-3.2-.5-3 .4M144.7 173l7.5 .8 4-.8-2.5-.8-9 .8M168.7 172.7l-.7 .3 2.2 .6 9 .6 6.1-1.2-4.6-1.2-12 .9M473.2 172.7l-1.3 .3-1.2 1.5 5.5 .4 3.7-.4-2.2-2.1-4.5 .3M191.2 174.3l-1 .2-1.6 1.5 1.1 1.3 7.5-1.2 1.5 .3 3 2.5 1.5 .1 1.8-1.5-1.8-1.7-6 0-1.6-1.3-4.4-.2M253.4 176l4.8 0-2.5 .4-2.3-.4M317.2 175.5l-1.4 .5 .7 1.5-5.3 3-1.1 1.5 .4 1.5 2.2 1.8 6-.2 6.6 1.4-2.3 1.5-5 1.5 1 1.5 5.3 1.5-2.6 .8-9.1 .7-2.7 1.5 1.8 1.5-5 .5-9.1-.5-1.6-1.5-.5-1.5-.8-.4-4.5-.4-3.2 .8-.5 1.5 1.7 1.5-4 1.6-7.5 0-6-1.9-6-.3-1.5 .2-3 1.6-3.7 .3 2.2 .4 1 1.1-5.5 1.2-5.3-1.2-2.1-1.5 .2-1.5-3.3-.5-.7 .5 3.5 1.5-4.3 1.5 .2 1.5 2.5 1.5 .6 1.5 17.7 2.1 4.5-1.8 6 .4 7.5-.3 6.3 2.6 .4 1.5-.6 1.5 1.1 1.5-2.2 1.5 1 1 1.5-.5 1.5-1.4 1.5-.2 6 .5 4.5-.6 7.5 .8 7.5-.5 1.5 .4 3 2.4 3 .7 3.8-1.1-5.1-3 5.8-.1 3 1.9 21-2.6 1.8-.7 .6-1.5 10.5-6-2.4-.6-1-.9 1-1.5-7.8-3 2.9-1.5-.2-1.5-9.1-1.5 1.4-1.5 .2-1.5 1.1-1.5 5.5-.3 4.5-1.8 6.5-.9-1.9-1.5 1.4-.9 4.5-.3 3 .2 2.4 1-.9 .9-1.5 .4-3.7 .2-.2 1.5-2.1 1.6-.9 1.4 3.9 2 7.5-.3 7.5-2.6 5.6-.6-3.3-1.5 1.9-1.5-1.3-1.5-3.7-1.5-3.3-3-.7-1.5-5.7-1.7-2.7 .2-3.3 2.2-8.8 2.3-2.9 1.5 .6 1.5-.9 .5-4.5 .6-3-.4-.9-.7 .4-1.5-1-.6-4.5-.3-3-2.1-1.6 0-2.9 2.3-3 1-3-.5-3-2.1-2.5-.7 9.4-1.5-.9-.5-7.5-1.2-10.5-.3M342.7 175.3l-.7 .7 2.2 .6 4.9-.6-3.4-.8-3 .1M422.2 175.9l-1.3 .1 2.1 0-.8-.1M488.2 175.8l-1.8 .2 .3 1.7 1.5 1.9M91.6 177.5l3.6 0-3.6 0M177.7 179l-4.5 2.2-6 1.7-1 .6-.4 1.5 1.4 1.5 3 1 4.5 .4 4.5-.3 3 .9 2.6-.5 .9-1.5 1-.3 7.5 .5 1.5-.4 .7-2.8-.7-1.5-5.9-1.5-1.7-1.5-7.4-.5-3 .5M41.2 179.9l4.5 0 1-.9-1.5-1.5 1.2-1.5 8.3-.1 6.8-1.4-1-1.5-8.5-3-4.8-.3-2.1 .3-1.5 1.5-.1 1.5 1.5 1.5-.8 1-3 .3M401.2 181.6l-3.6 1.9 3.6 .9 3-.1 2.8-.8 .5-1.5-3.3-.9-3 .5M488.2 180.7l-3-.1-1.5 .5-3 2.8-6 .4-5.8-.8 3.5-1.5-1.7-1.5-2-.5-12 .5-1.5-.3-1.5-1.2-1.5 0-13.5 2.4-4.5-1.3-9-1.1-1.9 1.5 1.2 1.5 .2 1.5-1.1 1.5 15.1-.8 9 1.9 6 1.9 6 .4 1.9 1.1-1.9 1.8-6.8 1.2-.7 1.5-3 .8-6-.1-.9-.7-.6-1.9-1.5-.7-3 .1-3.6 1-1 1.5 1.6 1.5 3 1.1 4.2 .4-4.2 .9-3 1.3-5.1 .8 .6 .4 3 .9 6-1.5 9 .2-1.5 .8-.4 2.2-2.4 3-1.7 .7-9-1.4-.7-.8 .2-1.5-1-.9-7.3-.6 1.4-1.5-4.6-1.1-6 .4-4.5 2.8-5.9 2.4 1.8 3-1.4 3 8.5 1.2 4.5-.8 1.5 .2 1 .9-7 2.1-1.3 .9 .9 1.5-1.3 1.5 1.7 1.7 7.5 1.3-3.5 1.5 2 .9 9 0 2.5-.9-.8-3-2.3-1.5 2.1-1 3-.1 4.8-3.4-6.2-1.5 1.4-1.2 6-.8 1.5 .1 .7 .4 .5 1.5 4.3 1.5 .7 3 2.3 1.5-4.9 3 5.4 2.4 10.5-.8-2.5-1.6 2.4-3-4.3-1.5 2.9-.9 13.5-.1 1.8-.5 2-1.5-1.7-1.5 .9-.5 1.5-.2 8.4 2.2 2.6 1.5-.8 3 1.8 .3M411.7 183.5l-1.9 1.5 3.7 0 .4-1.5-2.2 0M44.1 185l.4 0-.4 0M346.6 185l1.8 0-.3 1.5-2.4 1.1-6 .8-10.3-.4 2.8-1.6 14.4-1.4M381.5 186.5l.4 0-.4 0M41.2 188.1l4.5-.3 1.1 .2 1.5 1.5-2.6 .6-1.5 1.4-3 1M176.2 190.2l-1.2 .8 .7 1.5-1.4 1.5 1.9 .9 3-.3 3-1.5 5.1-.6-3.6-1.7-4.5-.8-3 .2M359.2 192.4l0 .5 4.5 1.6 2.6-.5-1.3-1.5-2.8-.5-3 .4M209.2 194l-1.9 3 1.1 1.5 .8 .4 2.6-.4 1.7-1.5 .4-1.5-1.3-1.5-3.4 0M230.2 193.8l-.8 .2 2.3 .8 3.5-.8-5-.2M488.2 193.8l-13.5 .7-1.1-.5-.8-1.5 1.9-1.3 7.5 .3 2.1-.5-2.1-1.9-1.5-.1-2.5 .5-2 1.2-1.5 .1-1.5-.6-2.3-2.2 5.3-2.1 4.5-.5 7.5 2.3M463 195.5l2.7-.4 9 1.4 4.5 1.4 .8 .6-1 1.5 2.5 3-.3 1.5-3.5 .3-9-1.7 .2-1.6-.9-1.5-5.6-1.5-2.6-1.5 3.2-1.5M326.7 197l1-.9 1.5-.3 2.4 1.2-2.4 .7-2.5-.7M450.4 198.5l1.9 0-1.9 0M263.2 208.3l-1.1 .7 3.2 0-.6-.9-1.5 .2M41.2 218.2l16.5-.7 9 .2 6-1.2 9 1.2 1.4 .3 .5 1.5 7.1 2.4 3 3.1 1.4 .5-1.4 .9-6.5 .6-1.4 1.5 4.9 2.2 3 .8-7.5 3.7-6.7 .8 6.3 1.5-2.6 1.7-4.5 0-1.5 .6 .6 3.7-3.6 1.1-3 .3-1.5-.6-1.5-1.3-2.7-1-.8-1.5-13-2.8-4.5 .2-6 1.3M426.7 230l1.5 .9 3.9-.9-5.4 0M98.1 234.5l3.1-.5 1.7 .5-1.7 .5-3.1-.5M75.7 237.4l-.4 .1 .4 .5 1.5 .8 1.5-.3 .5-1-.5-.8-3 .7M368.2 240.3l-.5 .2 .5 .5 1.1-.5-1.1-.2M378.7 239l-1.2 1.5-.4 1.5-4.5 1.5 6.1 .7 1.5 0 1-.7-.9-1.5 1.1-1.5-1.2-1.2-1.5-.3M457.3 240.5l3.9-.9 2.8 .9-.2 1.5-1.1 .9-3-.6-2.4-1.8M488.2 239.4l-3.9-.4 2.7-1.5-6.3-1.9-21-.1-7.5-.8-4.5 .9-12 .3-4.5-1.1-4.5-2.6-.4 .8-4.7 1.5 .2 1.5-1 1.5-3.7 3 6.2 0 7.9-2.2 6-.2 3 .6 6 0 .4 .3-6.4 2.9-6-.6-7.5 2.2 1 1.5 2 .5 1.5 0 1.5-1.5 3 .3 3.3 2.2-1.8 .6-6-.4-1.3 1.3 1.3 .4 6 .1 4.5-.8 4.9 .3-1.9 1.8-7.8 2.7-1.2 1.4-1.6 .1-2.3 3 1.1 1.5-2.2 1.5-.5 1.5 3.7 1.5 4.8-.9 3 .4 1.5 .5 2 3 2.5 .9 9 .2 7.5-1.4 4.4 1.8-.7 1.5-2.2 .4-4.5-.2-4.5-1.1-3 1.2-6 .3-1.8 .9-1.4 3 1.1 1.5 2.1 .4 6-1.1 2.7 .7-1.2 .4-3 2.7-4.6 1.4 2.3 1.5 .8 1.5-3 .2-6-1.1-2.1 2.4 .6 .9 3 1.3 .6 .8 2.4 .8 9.1 .7-1.6 1.6-7.5 .5-3 .8-6-.9-2 1 1.5 1.5 5 .5 1.6 1-.4 3 2.8 1.5-.6 1.5-1.9 1.5 9 1.7 4.5-.6 4.5-1.4 10.5-.6 9 3.5 .4 .4-.6 1.5 1.7 1 6 .2M291 242l2.2-.9 9-.5 3.9 1.4-6.9 2.4-8.8-.9 .6-1.5M443.1 243.5l5.6 0-5.6 0M262.9 245l4.8-1.1 3 .4 .9 .7-3.9 .7-4.8-.7M298.4 246.5l2.3-.7 4.2 2.2-8 0 1.5-1.5M343.5 246.5l3.7-.2 .4 .2-.3 1.5-1.6 .6-1.5-.2-.6-.4-.1-1.5M67.7 248l.5-.4 2.5 .4 .7 1.5-4.1 0 .4-1.5M449.3 248l5.9-.9 1.5 .1 .8 .8-3.8 .6-4.4-.6M291 249.5l3 0-3 0M310.2 249.5l1-.4 1.5 .4-1.5 .5-1-.5M63.4 251l1.8-.2 1.8 1.7-5.5 0 1.9-1.5M365.2 249.8l-1.3 1.2 1.3 1.5 1.5-.1 2.6-1.4-4.1-1.2M474 251l3.7 .2 4.6 2.8-3.2 1.5-.4 1.5 .9 1.5-1.9 1.3-3 0-4-1.3-1.5-1.5 1.8-1.5-2.9-1.5 2.1-1.7 3.8-1.3M383.2 253.8l-3 1.8-6.1 1.4 .6 1.5 5.3 3-2.2 1.5 3.4 1.5-.8 1.5 1 1.5-1.2 1.5-3.4 1.5 1.9 1.2 4.5 .5 7.5-1.5 6 .2 2.2-1.9-1.3-1.5 .9-3 2.7-1.3 3-.4 1.7-1.3-.2-3-1.5-1.5-4.5 .2-3-.4-2-1.3-.1-1.5-3.9-1.2-4.5 .2-3 .8M314.3 258.5l1.4-.6 1.1 .6-2.5 0M325.5 258.5l2.2-.4 4.1 .4 1.6 1.5-6.1 0-1.1-.5-.7-1M452.8 258.5l2.4-.8 4.9 .8-4.9 .5-2.4-.5M41.2 261.4l1.5 .1 1.4 1.5-2.9 .8M279.3 264.5l3.2 0-3.2 0M300.5 264.5l.7 0-.7 0M488.2 263.4l-.3-.4 .3-.6M284.1 266l.1-1 3-.4 3 .6 3 1.7 3.9 .6-3.9 1-6-.1-2.4-.9-.7-1.5M470.6 267.5l4.1-.1 9 .9 .8 .7-9.8 .8-2.2-.8-.8-1.1-1.1-.4M488.2 267.7l-3 .4-.4-.6 1.9-.8 1.5 .3M68.8 270.5l3.9-.4 1.8 .4-5.7 0M253.1 272l2.6-1 1.5 0 3.9 1-.9 1.5 0 1.5-2.6 1.5-.5 1.5 4.1 1.5-7 1.4-1.6 1.6-11.9 1.3-3-.7-3.4-2.1 3.4-3 3-.5 4.5 .3 5.6-1.3 2.6-3-.3-1.5M55.9 273.5l1.8-.5 1.9 .5-1.9 1.2-1.8-1.2M341.2 273.5l-2.3 1.5 5.3 .6 2-.6 .7-1.5-2.7-.5-3 .5M357.7 273.2l-1.1 .3 2.6 .9 .4-.9-1.9-.3M459.7 273.5l3.8 0-3.8 0M245.7 275l4.3 0-1.8 .6-2.5-.6M266.6 275l2.6-.7 6 .5 4.9 1.7 .8 1.5-2.7 .4-4.5-.6-3-1-1.5-1.2-2.6-.6M61.1 276.5l4.1-.4 3 .9 6 .3 4.5 .9 7.5 0 1.5 .5 .1 .8-6.2 1.5-.2 1.5 3.7 4.5-1.9 .6-9 .2-2.7-.8 2.8-1.5-2-1.5-4.2 0 .1 1.5-1.5 .7-5.8-.7-2.8-3 14.4-1.5-2-1.5-2.3-.5-3 0-3 .7-3.1-.2 3.1-.9 .3-.6-1.4-1.5M423.7 275.7l-4.9 2.3 3.4 2.5 1.5 .5 0 1.5-2 1.5 3.5 1.5 1 1.5 5 1.9 3 .2 2.7-.6 .1-1.5-7.3-2-4.4-2.5 0-1.5 4.4-.9 6 .3 4.5 .8 .6-1.7-3.6-.7-9-3.5-4.5 .4M104 281l1.2 0-1.2 0M177.1 281l2.2 0-2.2 0M351.7 281l1.5 1.2 1.5-1.2-3 0M177.9 284l1.3-1.3 2.9 1.3-1.4 .7-2.8-.7M336.7 283.8l-2.9 1.7 4.4 .6 1.3-.6 1.1-1.5-2.4-.6-1.5 .4M351.7 282.9l-.9 1.1 2.4 1.9 4-.4 1.4-1.5-3.9-1.2-3 .1M164.6 285.5l1.1-.7 1.5 0 9 1.6 1.8 .6 .3 1.5-1.2 3-2.4 1.6-1.5 .2-10.5 .4-6-2.2 1.5-1.2 1.5-.3 7.3 0-2.8-.6-1.4-.9 .1-1.5 1.7-1.5M182 285.5l.2-1.2 6 1.2-4.5 .5-1.7-.5M444.1 285.5l4 0-3.4 .4-.6-.4M101.6 287l4.1-.9 3.3 .9-1.8 1.3-1.5 .4-4.5 .2-4.5-.4 3-.5 1.9-1M317.2 286.6l-.4 .4 3.4 .5 .8 1 2.6 0-2.4-1.5-4-.4M146.1 288.5l3.3 0-1.5 1.5-1.7 .2-.7-.2 .6-1.5M339.7 287.5l-1.4 1-.1 1.5-1.5 1.1-3.1 .4 7.6 .7 4.5-.2 1.7-.5-3.8-1.5 5.7-1.5-5.1-1.3-4.5 .3M170.2 289.6l-1.2 .4 2.9 0-1.7-.4M384.7 289.9l3 .8 2.9-.7-2.9-.5-3 .4M41.2 291.2l.2 .3 .2 1.5-.4 .2M96.2 291.5l3.5-.8 3 .3 2.3 2 5.7 1.5-3.3 1.5-7.7 .8-3 1.3-3 .5-4.5-1.6-1.3-1 .7-1.5-3.3-1.5 2.4-.7 6 .2 2.5-1M227.2 290.8l-.9 .7 .2 1.5-2.2 3-.3 1.5-4.5 1.5 4.7 .6 7.5-3.4 6 .4 6-.6 2.8-1.5-5.8 .3-7.5-.7-2.1-1.1 0-1.5-.9-.7-3 0M473.9 291.5l3.1 0-.8 .6-1.5 0-.8-.6M47.7 293l8.5-.9 4.2 .9-1.2 .6-6.6 .9 1.7 1.5 .4 1.5-1.5 .6-4.5-1.7-3.1-1.9 2.1-1.5M320.2 292.6l-.6 .4 5.1 .6 5.1-.6-5.1-.6-4.5 .2M466.5 293l5.2 0-3 .4-2.2-.4M210.7 294.2l-1.4 .3 1.4 1.4 2.8-1.4-2.8-.3M488.2 293.9l-4.5 1.9-4.9-1.3 1.9-.9 3.6-.6-1.6-1.5-.1-1.5 2.6-.5 3 .3M67.7 296l3.7 0-3.7 0M175.4 296l2.3-.6 3.9 .6-2.9 1.5-4.1 0 .8-1.5M450.9 296l2.8-.4 2.7 .4-2.7 1-1.5-.1-1.3-.9M78.8 297.5l4.4-1.1 3 .3 1.2 .8-4.2 1.1-4.4-1.1M154.9 297.5l1.8-.4 2 .4-3.8 0M195.9 297.5l1.7 0-1.7 0M293.2 297.3l-1.6 1.7 3.1 .8 4.2-.8 .6-1.5-3.3-1-3 .8M52.6 300.5l2.1-.9 6 .2 1.6 .7-1.6 .7-3 .2-5.1-.9M278.2 300.3l-.5 .2 4.9 0-1.4-.6-3 .4M476.5 300.5l4.2-1.1 2.9 1.1-1.4 .9-1.5 0-3-.3-1.2-.6M222.7 301.8l-.5 .2 1.8 1.5 7.2 0-5.5-2-3 .3M321.7 302l-.7 0 .7 0M488.2 302l-2.2 0 2.2-.1M245.2 304.6l-1.4 .4 4.4 .8 5.1-.8-5.1-.8-3 .4M282.7 304.9l-.7 .1 14.2 .9 3 1.2 4.5 .5 7.5 1.8 9-.4 4-1-10-2.6-15-.6-7.5-.8-9 .9M428.2 304.9l-9.1 3.1 3.1 .5 3.8-.5 5.2-2.4 2.6-.6-5.6-.1M110.2 306.4l-1 .1 4 .5 4.4-.5-7.4-.1M459.7 306.2l-.7 .3 3.7 .4 2.8-.4-2.8-.6-3 .3M41.2 307.7l10-1.2 2-1.2 3-.6 4.5 .8 1.5 1.1 7.2-.1-5.2-1.5 1-1.1 5.7 1.1-.5 1.5 3.8 .2 7.5-1.9 13.5 0 3-.8 3-3.4 1.5-.8 4.5-.4 7.5 1.3 4.5 0 4.5-.8 3 1.5 .8 2.1 .7 .4 6 1.1 1.5 0 .3-1.5 1.2-.5 7.6-1 .9-1.5 9.5 1.1 9-1 6 2.1 19.5 .7 4.5 1.8 6 .5 2.4 .8-1.9 1.5 .5 1.5M64.5 309.5l-15.4 0M97.7 309.5l-2.5-.7-.7-.8 1.9-1.5-2.7-1.2-4.5 .3-1.9 2.4 5.3 1.5M109.3 309.5l-5.1-.4-3.9 .4M144 309.5l-11.3-.2-12-1-5.4 1.2M164.7 309.5l1-1 1.6-.5 7.8-1.5-4.9-1.2-10.5 .9-16.5-1-3 .1-1.1 1.2 5.6 1.1 9-.7 2.8 1.1-7.1 1.5M213 309.5l-.8-.7-4.3-.8-1.8-1.5 3.7-1.5-.2-1.5 1.3-1.5-8.1-1.5 .4-.5 4.6-1-.6-1.5-7-.7-3-1.6-4.8-.7 1.8-1.7 1.5-.3 10.5-.1 1.5-.8 1.4-1.6-1.4-1.1-1.5-.2-9 .2-6.6 1.1-.8-3-1.6-1.5 3.2-1.5-.9-3 3.7 0 2.7 3 .7 1.5-.5 1.5 1.6 .8 4.5-.1 1-.7-1.6-1.5 2.6-1.5 2.5-.3 2 .3 2.5 2.4 9 1.8 3 1.3 7.5 .2 4.5-2.2 7.5 .2 4.5-1.2 6 .3 4.5-.7 3.2 2.4 5.1 1.5-2 3-3.3 .5-2.3-.5-.7-3-1.5-.5-9-.4-6 .9 3 1.5 6-.7 4.4 .7 1.3 1.5-2.7 1.5-.3 1.5-2.7 .6-.7 .9 2.2 1.2 3.5-1.2-.5-.9-1.5-.6 1.5-.4 3 0 4.5 1.2 6 0 3.5-.8 1-2.2 1.5-.3 6 1.9 7.5-.3 1.9-.6-.4-.9-6.1-.6 0-1.5-2.6-3 .6-1.5-1.4-1.5 2.3-3 4.5-1.5 .3-1.5-1.5-1.5 2.2-1.5-.2-1.5-2.6-1.3-6-1.2-.4-.5 1.9-1.3 3-.1 3 1.8 3 .2 1.5-.4 1.5-2.2 1.5-.7 7.5 0 3 .5 4.5 2.8 3 .6 3.5-1.2-.3-1.5 2.7-1.5 1.6-1.9 3-.5 1.3 .9 .7 1.5 1 .2 9 1.7 7.5-.1 7.7 1.2 1.3 .9 3-.7 4.5-2.4 2.8-.8-4.3-1.4-2.2-1.6 4.9-3-1.5-1.5-5.7-1.2-4.5 1.4-7.6-.2-2 1.5-2.4 .1 .2-1.6-2.8-3-1-3-.9-.6-4.5-.5-4.5-2.2-6 .2-1.2-1.4 2.7-2.2 1.5-.4 6-.5 4.5 .2 6 4.1 1.5-.2 1.4-1 3.1-.9 7.8-.6 4-1.5-5.3-3 5.5-2.9 1-1.6-2.5-1-7.5 .1-4.5-1.6-4.5-.5 7.5-1.2 .9-.3 .9-1.5-4.8-1.2-7.5-.2-1.1 1.4 1.1 1.1 2.4 .4-.9 .5-3-.2-7.5 1.1-3-.6-1.9-.8-1.5-1.5-2.6-.6-2.3 .6 .2 1.5-2.4 .8-3-.1-3-1-4.5 0-2.2 .3-8.3 3.7-3-.6-4.5-3.1-3-.2-3 .3-6 3.7-3-.1-2.2-.7-1.6-3-.7-.1-1.5 .3-3.6 2.8 1.8 1.5 4.7 1.5-5.9 2.4-9.6 .6-.4 1.5 1.1 1.5-6.1 1.9-1.6 1.1-2.9 .6-3 .1-1.8-.7 1.8-1.3 4.5-1.1 .4-.6-6.4-.5-2.7 .5-.8 1.5-4 1-6 2.4-7.5 .7-3 .8-9-.6-7.5 1.6-2.3-1.4-2.2-.4-2.1 .4-1.3 1.5-4.1 .6-6 .5-16.5-.5-12 1.8-5.7-.9 3.7-1.5-2.5-.5-9 1.6-12-1.2-3.9 .1 .1-1.5-1.3-1.5 .3-4.5-3.8-3-2.5-4.5-8-3 2.6-.5 4.5-1.9 .8-.6 .2-1.5 2.1-1.5-4.6-1.2-6.9-.3 3.9-.4 6-2 .9-.6 0-1.5 1.6-3 5.7-1.5-.5-3 1.9-1.5 .1-1.5 1.8-1.5-.7-1.5 .6-1.5 4.8-1.5 .3-1.6 1.5-.6 3 0 7.5 1.7 3-.1 3-.6 3.2-1.8 6-1.5 1.6-1.5 1.6-4.5-1.9-2.2-4.4-2.3 4.2-1.5 .1-1.5 3.1-.6 1 .6 3.5 .5 6.7-.5-2.4-1.5-7.3-.5-1-1 2.5-1.5-.6-1.5 .5-1.5-1.4-.4-4.5-.8-7.5 0-10.5-3.1-6-.5-4.5-1.2-4.5 0-3.5 1.5 .5 .8 3 .7-10.5 .3-4.5-.4-4.5 .5-1.5-.4-.3-1.5 1.9-1.5-1.8-1.5 3.2-1 9-.5-3-2.2-3 .2-1.5 .8-6 0-13.4 1.2 2.6 1.5-.1 1.5-4.1 .7-4.5 .2-3-1-1.3 .1 1 1.5 3.3 .8 1.8 2.2-.5 1.5-2.8 .9-7.5-.3-5.5-2.1-2.1-1.5-.5-1.5-.9-.1-5 .1 1.5 1.5-.7 1.5-1.8 .3-6-1.2-7.5 1.4-3-1.3M250.1 309.5l-3.4-1.7-16.5-1.5-2.4 .2 .2 1.5 3.1 1.5M263.3 309.5l11.9-.5 3.6-1-11.1-2-6 0-1.9 .5-1.4 1.5 2.8 1.5M403.4 309.5l-3.7-.4-3.4 .4M487.7 309.5l-4-.8-3.9 .8M75.4 164l-2.7 .9-7.5-.1-3.2 .7 7.7 .9 4.5 1.4 10.5 .1 4.3-.9-12.3-1.5 2-.7 8.3-.8M98.4 164l7.3 .5 11.6-.5M119.2 165.5l.5 0-.5 0M136.4 164l3.8 .8 4.5-.5 7.5 .8 9-.2 5.7 2.1-7.2 .4-1.9-.4-1.1-.9-3-.4-18 .4-1.5-1.1-3-.6-3.1 1.1 6.1 .9 1.2 2.1-8.7 .6-25.5-1.1-7.5 1.3-19.5-.1-5.4 .8 .9 1.2 4.4 .3-10.4 .5-13.5-2.7-4.5 .1-4.5 1.1M176.6 164l-4.9 .6-7.5-.6M198.8 164l4.4 1.4 6 .5 7.2-1.9M220.4 164l2.3 .4 1 1.1-2.5 .8-9-.1-1.1 .8 5.6 1.4 1.3 1.6-.1 1.5-5.7 .4-2.6-.4 .3-1.5-3.7-.6-6-.5-9 .7-4.7-1.1 4.2-1.5-5.1-1.5 3.7-1.5M244.1 164l-8.4 0M302.8 164l-3.6 1-10.5-.6-8.2 1.1 7.4 1.5 2.3 1 1.5 0 .9-1 2.1-.7 4.5-.5 7.5 1.5 6 .4 .5-.7 2.5-.6 1.2-.9 .3-1.5M333.6 164l-2.3 1.5 3.2 1.5 .5 1.5 3.4 1.5 5.8 .9 9-1 5.1 .1 .9 1.9 6 2.5 4.5 .3 1.2 1.3-1.5 1.5-7.2 .7-3.9-.7 5.4-.8 1.5-1.1-1.5-.5-10.5 .5-7.5-1.9-4.5 .3-4.5 1.2-3 .2-10.5-.4-6-.8-6.1 1.8-1.3 3-1.6 1.5-.2 1.5 1.7 4.9 1.5 .7 6-.4 2.2 .8-5.2 1.4-.9 1.6 .4 1.5-7 1.7-3 1.7-4.5-.4-2.2-3-3.8-.8-7.5 1.7-2.4 2.1 .9 1.5-3 .7-5.1-.7 .6-1.5-7.5-.6-3-1-7.5 1.3-3 1.6-3 .1-21-4.7-4.5 0-7.5-1.7-2.3 .5-.2 1.5-.5 .4-7.5 .3-2.4 .8-1.9 3 1 3-4.2 1.5 .3 1.5 3.2 1.5 4 .5 1-.5-.8-1.5 2.5-1.5-.3-1.5 .6-.2 3-.6 1 .8 .5 1.3 4.5-.1 2.1-1.2-2.8-1.5-1.1-1.5 1.8-.4 7.5 .6 4.5 1.3 1.5-1.1 1.5-.1 2 1.2 1.5 3 1.7 1.5-.2 1.5 8.5 2 9 .5 1.5 .5-2 1.5 3.5 1.5 3 .1 1.5-.5 2.1-1.1 2.4-2.3 9 .1 2.4 .7-.6 1.5 2.3 1.5 .1 1.5-.8 1.5-1.8 1.5 2.9 .9 6.2 .6 1.3-1.9 1.5-.7 4.5 .7 4.5 1.5 6-1.5 7.5-.2 7.5 2.9 6-.8 4.5 .4 1.2-.4 .4-1.5 1.4-.4 6 .1 12-2.8 2.4-1.4 .5-1.5 6.1-3.1 7.9-1.4-.7-1.5-1.9-1.5 .7-1.8 1.5-.6 7.5-.6 3.7-1.5 .2-1.5-.9-1.2-3 .1-4.5 1.9-4.5 .6-1-1.4 1-1.7 1.5-.6 7.5-.9 6 0 .8-1.3 8.2-1.7 9 .6 1.9-.4 2.2-1.5 .3-1.5 1.6-.3 4.5 .7 6-1.2 13.5 .3 2.7 .5 2 1.5 .7 1.5-2.3 1.5-5.5 1.5-1.2 1.5 4.4 3-2.3 1.2-4.5 .2-4.5-1.2-3-1.8-4.5-.4-1.7 .5-1 1.5-4.8 4.3-8.7 1.7-3.4 3 3.1 3 .1 1.5 2.9 1 6.7 .5 2.1 1.5-2.2 1.5 1.1 1.5-1.3 1.5 2.6 2.2 2.6 .8-2.1 1.5-.7 1.5 4.7 1.6 4.5-.1 3.5 1.5-4.7 1.5 4.3 3-.6 1.5-3 1.5 .2 1.5-.9 1.5-1.8 1.6-5 1.4-.8 1.5 2.8 .5 7.5-.9 4.5 .3-2 1.6 .4 1.5 3.5 1.5 0 1.5 2.6 1.1 6 .8 1.3 1.1-8.1 3-.8 1.5 1.4 3-1.6 3 .8 1.5 2.5 1.2 9 0 1.8 1.8 3.2 1.5-1.6 3-2 1.5 .4 3 1.2 1.4 3.5 1.6-2 .6-3-.1-7.1-2-5.9-3-3.1-3-4.9-1.4-3 1.1-6 .1-6.6-1.3 3.8-3-1-1.5 2.3-2.1 1.5-.6 .3 1.2 4.2 .5 3.6-.5-3.6-1.8-6 .2-1.6-1.4-.6-1.5 .6-1.5-9.9-1.5 .6-1.5-4.1-3.1-3-1.2-6 .2-5.4 2.6-2.1 1.9-6 1.8-1.1 .8-1 3-4.8 1.5 2.4 1.5-3.5 0-2.5-2.2-3.2-.8 5.9-1.5 1.5-3 5.5-3 1.6-3-1.2-1.5 .1-1.5-1.4-1.5 4.3 0 2.3 1.5-2.4 1.5 3.5 .7 7.5 .4 1.2-1.1-.4-3-2-1.5 1.2-1.3 1.1-.2-1.9-1.5 1.3-3-3.5-1-6 0-4.5-1.2-10.5 .6-3-.5-6 2.1-3.7 0 2.2-.6 .9-.9-.1-1.5-5-1.5-1-1.5-5.3-1.3-3 1.4-6-.6-3 .5-1.5 2.1-3 1.2-9-2.3-9 1.8-16.5-.3-4.5 1.1-10.5 .3-1.7 .6-1.8 1.5-2.5 .6-2-.6-.2-1.5-3.8-1.2-3 .3-4.5 1.6-7.5-.9-.9 .2 1.9 1.5-3.8 1.5-.9 1.5 .7 1.3 9-.6 1.8 .8-3.3 1.1-7.5-.7-.8 2.6-2.2 .7-4.5 .7-8.9 .1-4.6 1.2-1.5 .9-1.2 2.4-3.3 1.1-10.5 .8-7.5-.7-4.5 .5-4.5-.4-4.5 .8-4.5 1.6-6 .9-10.5-1.7-13.5 2.2-1.5 0-4.5-2.1-3-.5-4.5 .3-4.5 1.2-6-.6-.9-.4 .9-.9 2.2-.6-6.7-.3-3-.9-1.5-1.8 .9-1.5-.9-1.3-4.3-3.2 .2-1.5-6.4-4.5 3-1.5 1.6-1.5 .2-1.5 2.2-1.5-3.9-1.5 2.9-3 .5-1.5 1.7-1.5 5.5-3 .7-1.5-1.4-1.5 6.5-6 4.5-1.5 0-1.7 3 .2 1.5 1 4.5-.5 4.5-.8 9-2.8 3.1-1.4 1.6-4.5 1.5-1.5 2.8-1.9 3-.9 12 .9 1.1 .4-2.8 1.5-.7 1.5 9.9 2.1 3-.1 5.7-2-.3-3-8.4-.7-2.3-.8 8.3-2.4 6.6-.6-8.4-1.5 .5-1.5 5.8-1.7 2.5-1.3-.4-1.5 .9-4 7.5-1.2 6 .2 10.5-2.9 3.4-2.6 6.1 0 1 1.5 .1 1.5-.8 3-2.1 1.5 4.3 1.3 1.5 1.7 6 1.3 9 0-.5 1.7-3.9 1.5-.1 1.5 6 1 1.5-2.3 1.5-.8 6 .2 4.6-1.1-1.6-1.4-.9-.1-.2-3 8.6-.9 1.6-.6 1.4-1.6 4.5-1.1 4.5 1.7 6-.5 6.5-3 1-1.5-2.8-1.5 1.3-1.5 1.1 0-11.6-.4-6.8-2.6 5.7-1.5-3.4-.8-15-.1-10.5 .7-30.7-1.3 38.6-1.5-6.2-1.5M370.8 165.5l6.4-.7 2.8 .7-4.3 .6-4.9-.6M405.1 164l1.6 1.5 6.5 .7 3.7-.7-1.8-1.5M426.4 164l0 1.5 16.8 2.7 13.5-.3 3.6 .6-3.6 .8-12-.6-7.5 1.5-6-1.5-6 .5-2.8 .8 5.8 1.1 6-.2 1 .6-.5 1.5 8.1 1.5-1.1 1.1-1.5 .1-10.5 0-10.5-1.1-3 1.1-1.5 1.5-7 .3 7 .2 4.5 1.3-1.1 1.5 3.3 1.5-.7 .6-5-.6-3.2-1.5-6.8-1.1-3-1.3-3-.5-3 .3-1.5 .7-.4 .4 1.3 1.5-.9 1.4-1.5 .1-3-.7-4.5-2-.6-1.8-.9-.5-8.5-2.5 .3-1.5-1.1-1.5 .3-.9 3 .3 3 2.4 3 1.2 1.5-.2 1.6-1.3 8.9-1.1 3-1.1 7.5-.1 3.1-.7-10.6-2.2-4.5-1.4-4.5-.6-6.3-1.8M442.5 164l2.2 .6 7.5-.6M468.3 164l3.4 .8 3-.8M368 168.5l4.7-.6 2.5 .6-1 1.1-6.2-1.1M140.3 170l2.9-1 9.2 1-1 1.5-3.7 .5-15 1.4-6.3-.4 5.5-1.5 6.8-.6 1.6-.9M311.2 169.4l-1.5 1.1-6.6 1-.9 1.1-3 .4 5 0 12.2-3-2.2-1.4-3 .8M384.1 170l6.6-.7 4.3 .7-4.3 .6-6.6-.6M79 171.5l7.2-.9 5.7 .9-1.9 1.5-6.7 1.5 2.4 1.5-1 .7-6-1.3-3-.1-3 .4-1 .3-.5 .9-1.5 .3-1.2-1.2 .8-1.5 9.2-1.5 .5-1.5M118.4 171.5l7.3 0-.5 1.1-2.3 .4 5.3 2.6 3.2 .4-10.7 .5-3 1.8-4.5 1.3-3.9-.6-3.5-3 16.2-1.5-3.5-1.5-.1-1.5M159.2 171.5l17-.1-9 .3-1.5 .4-.7 .9 2.2 1.3 6 1.2 3.6 2-2.2 1.5-2.9 .6-9 .7-7.5-.5-4.5 1.3-3-.3-4.9-1.8-.5-1.5 .9-.5 6-2 7.5-.7 1.9-1.3 .6-1.5M463.2 171.5l5.5-1.2 5 1.2-11 2.6-5-1.1 2-.9 3.5-.6M488.2 171.4l-.1 .1 .1 .1M93.3 173l2.1 0-2.1 0M190.9 173l6.3 0-6.3 0M41.2 174l.6 .5-.6 .2M202.9 174.5l4.8-.6 2.4 .6-2.4 .8-4.8-.8M457.8 176l1.9-.9 3-.3 3 1.7 .9 1 .3 1.5-4.2 .5-3.5-.5-2.2-1.5 .8-1.5M488.2 174.8l-2.6-.3-4.5-1.5 4.8-3-3.9-1.5-8.8-1.6-9 .2-1.2-1.6-4.8-.7-3 .1-3 1.1-6 .3-13-2.3M49.8 177.5l3.8 0-1.9 .7-1.9-.7M133.3 177.5l1.6 0-1.6 0M429.7 177.5l1.5-.8 2.9 .8-1.4 1-3-1M439.4 177.5l2.3-1.1 3 1.1-4.5 1.6-1.2-.1 .4-1.5M473.6 177.5l1.1-1.1 1.5-.2 6 .3 2 1-2 1.6-4.5 .8-3-.5-1.1-1.9M194.6 179l2.6-.2 2.5 1.7-4.1 0-1-1.5M348.3 179l1.2 0-1.2 0M333.5 180.5l2.4 0-2.4 0M256.6 183.5l2.3 0-2.3 0M365.7 186.5l1.1 0-1.1 0M204.7 187.5l-.9 .5 2.4 .5 3.1-.5-1.6-.6-3 .1M441.7 188l3-.9 6 2 5.2 .4-8.2 .9-5.7-.9-.3-1.5M364.6 189.5l3.5 1.5-3.5 0 0-1.5M167.1 192.5l4.1 0-1 1.7-1.5 .6-4.5-.6-4.5 .3-2.3-.5 2.3-.5 4.5 .2 1.5-.2 1.4-1M469.6 198.5l5.1 0-5.1 0M381.7 202.9l0 1.6 1.7 0 1.4-1.5-1.6-.5-1.5 .4M437.7 203l2.5-.5 1.9 .5-3.4 .7-1-.7M275.2 209.9l-.5 .6 .8 0-.3-.6M338.2 219.1l-1.2 .4 1.2 1.5 3.1 0 .4-1.5-.5-.5-3 .1M41.2 219.9l9-.5 6 1.1 6 0 6 .8 7.5-.6 3 .7 4.5-.3 6 1.4 .4 1.5-2 1.5-2.9 1.2-1.3 1.8 2.4 1.5 1 1.5-.8 1.5-1.3 1-15 3-1.5 .5-1.7 1.5-2.8 .1-12-2.5-6-.1-4.5-.7M488.2 235.8l-7.5-1.7-6 .5-6-.4-6 .6-4-.3-5-1.4-7.5 1.2-6-.9-5.2-1.9 .3-1.5-2.6-2.1-1.9-2.4 2.6-1.5 .6-1.5-.3-1.5 3-1.5 .5-1.5-.8-1.5 2.3-1.1 3 .1 3.1 2.5-3.9 3 2.5 1.5 1.3 3.3 1.5 1.1 3 .8 3 3.1 1.5 .5 .3-1.3-3.8-3 6.5-2.2 5.3-.8 1.3-1.5-2.9-1.5 6.8-3.2 6-1.1 6-2.2 3 0 1.5 .5-.9 3 .9 1 1.5 .8 3 .3M360.2 240.5l2-.4 1.2 .4-1.2 .9-2-.9M389.2 240.5l-.9 1.5 3.9 1.8 4-.3 1.5-1.5-5.7-1.5-2.8 0M363.7 243.5l1.6 0-.6 1.5-2.5 .8-4.5-.1-2.3-.7 8.3-1.5M417.7 247.5l-1.7 2 4.7 .3 2.9-1.8-2.9-1.1-3 .6M203.2 249.4l-1.9 1.6 .4 1.3 3-.7 .5-.6-.5-1.3-1.5-.3M323.3 249.5l3.6 0-3.6 0M399.7 249.1l-.8 .4 5.3 .4 1.8-.4-3.3-.9-3 .5M348.8 251l4.4-.1 4.5 1.4 1.8 1.7 1.6 3-3.4 1.3-4.5-.2-12 2.1-1.6-.2-2.4-3 1-1.3 7.5-.2-3-.6-.6-.9-.1-1.5 2.2-1.1 4.6-.4M375.6 264.5l2 0-2 0M360.4 266l5.5 0 1.2 1.5-2.5 0-.9-.7-3.3-.8M431.2 265.9l-.4 .1 .4 .3 0-.4M401 270.5l1.3 0-1.3 0M296.8 272l5.4-1.1 4.5 1.1 .9 1.5-2.2 1.5 .3 1.5 1 1.2 4.5-.4 7.5-3 6 .4 6-.5 4.5 2.7 1.5 .2 7.5 0 4.5-1.7 4.5-.2 9 2.4 1.5 1.1 2.8 .8-.7 1.5-2.1 .4-12-2.2-4.5 .2-4.5-.8-4.5 .3-4.5 1.6-7.5-.4-.7 .9 .7 .3 6 .1 1.5 .2 1 .9-7 3.7-4.5-.3-4.5-1.5-3 .1-4.5 1.1-1.5-1.2-4.5 .1-3 3.8-4.4 .2-1.6 1.1-3 .1-4.5-3.3-3.7-.9 2.2-1.5-.6-1.5 5.1-1.5-1.2-3 3.1-1.5 2.6-2 .9-1-.3-1.5M360.4 272l1.8-.4 2.1 .4-2.1 .4-1.8-.4M369.6 272l1.6-.7 1.4 .7-3 0M390.1 272l2.2 0-1.6 .5-.6-.5M411.7 272l2.9 0-2.9 0M414.4 273.5l.3-1.4 3.9 1.4-2.4 .6-1.8-.6M363.8 275l1.4-.6 1.8 .6-.3 .6-1.5 .1-1.4-.7M273.2 276.5l2-.4 1.8 .4-1.8 .4-2-.4M324.7 275.9l-.8 .6 .8 .6 2.5-.6-2.5-.6M320.2 277.8l-.8 .2 2.3 .5 1.9-.5-.4-.6-3 .4M248.9 279.5l2.3-.6 2.7 .6-2.7 .5-2.3-.5M302.2 279.2l0 .6 1.4 1.2-2.9 1.1-4.9 .4 4.9 1.3 3-.1 1.9-2.7 3.5-1.5-.9-1-3-.4-1.5 .1-1.5 1M71.7 282.5l5.7 0-5.7 0M343.1 282.5l1.1-1 1.5 0 .7 1-.7 1.1-2.6-1.1M381.7 281.3l-.3 1.2 1.2 1.5 3.6 .5 2.6 1-4.1 1.1-3.7 3.4 2.7 1.5 1 1.2 6-.3 9 .6 8.9-1.5-1.4-1.5-7.5-.1-7.5-2.1-1.1-.8-.7-1.5 .9-1.5-5.1-.9-3-2-1.5 .2M431.7 282.5l1.3 0-1.3 0M344.3 285.5l1.4-1.2 3.1 1.2-.1 .6-1.5 0-2.9-.6M212.4 288.5l4.2 0-2.9 .6-1.3-.6M328 288.5l1.2-1.1 1.5-.3 4 1.4-4 .6-2.7-.6M417.7 289.7l-1.4 .3 4.4 .6 2.7-.6-1.2-.7-4.5 .4M212.1 291.5l1.8 0 .4 1.5-1.9 0-.3-1.5M236.3 291.5l1.4-.4 2.9 .4-1.4 .9-2.9-.9M309.4 291.5l3.2 0-3.2 0M366.7 291.2l-2.2 1.8 .7 .7 1.5 .4 3.3-1.1-.1-1.5-3.2-.3M248.5 293l3.4 0-3.4 0M294.4 294.5l1.8-.6 3.8 .6-2.3 .4-3.3-.4M384.7 293.8l-.4 .7 1 0-.6-.7M93.2 296l2-1.4 .2 1.4-2.2 0M347.2 295.7l-.7 .3 2.7 0-.5-.5-1.5 .2M211.5 299l2.2-.4 4.4 1.9-4.4 .9-5-.9 2.8-1.5M229.7 299l3.5-.7 2.6 .7-4.1 1.2-1.5-.4-.5-.8M104.3 300.5l2.9-.3 4.5 .9 11.4 .9 1.6 1.5-1.4 1.5 3.4 .8 1.5 1.3 7.5-.8 9 1.7-4.5 .8-7.5 .1-6-1.5-4.5-.4-3-1.4-1.5-.1-14.3 1 5.3 1.4 6 .1-15 .6-2.7-.6 3.3-1.5-1.4-1.5 .8-.4 1.9-2.6 2.7-1.5M323.2 300.2l-9.5 1.8 8 1.9 6 .5 1.2-.9-.3-1.5 3-1.5-3.9-1-4.5 .7M428.2 300.3l-.7 .2 5.2 .4 3.9-.4-8.4-.2M161.1 302l4.3 0 .5 1.5-1.4 1.5-6.7 0 4.7-1.5-1.4-1.5M414.7 305l6 1.1 .2 .4-5 1.5 6.3 1.3 6.7-1.3 5.3-2.2 4.3-.8-10.3-.7-13.5 .7M236 306.5l4.7-.7 4 .7-4 .4-4.7-.4M458.2 305.6l-1.4 .9 11.9 1.9 4.2-.4-7.2-2.5-4.5-.3-3 .4M146.8 308l5.7 0-3.3 .4-2.4-.4M71.1 309.5l-22.4-.7-2.8-.8 11.8-2 4.5 .9 9 .6 4.5 1.2 3.4-.7 1.4-1.5 2.7-.1 .6 .1 0 1.5 .9 .7 3.6 .8M167 309.5l3-1.5 6.2-1.2 1.5-.8 10.5-1.1 9 2.3 1.9 2.3M182.7 309.5l-.5 0-1.5-.1-.6 .1M220.9 309.5l-7.4-3-1.3-1.5 .4-1.5 1.1-.6 3-.1 14.7 2.2-6.3 1.5 1.1 1.5 2.6 1.5M253.9 309.5l-2.7-1.5-1.2-1.5 7.2-.7 .2 .7-.9 1.5 .1 1.5M267.5 309.5l3.5 0M277.1 309.5l3.5-1.5-7.1-1.5-3.6-1.5-1.8-1.5-1.5 0-.1 1.5-7.8 .3-9-1.8-9-.4-3.1-1.1 3.9-1.5-1.1-1.5 3.3-.5 9 1.7 7.5-1.8 1.2 .6-1.3 1.5 1.6 .3 18 .4 6-.7-.7-1.5 2.2-.3 6 2.5 6 0 4.5-3.4 1.1-.3-1.6-1.5 .6-3 1.4-.3 7.8 1.8-7 3 .7 1.5 3 .3 15-1.1 2.5-.7 1.3-1.5 2.2-.2 2.4 .2 2.1 1.7 4.5 .3 3-.5-4.6-1.5 4.4-1.5 3.2-.5 6 .3 9-2.2 2.5-2.1-2.6-1.5-2.9-.6-1-.9 4-1.2 6 .4 2.5-.7 1.1-1.5 2.2-1.5-1.1-1.5 1.3-1.4 3.2-1.6-.7-1.5 3.5-1.8 3-.6 5.4 .9 .5 1.5-5.9 1.5 3 2.5 4.5-.4 7.5-2.6 8.4-1-7.3-1.5 6.4-.5 3 1.8 7.5-.1 1.5 .7 3.7 4.1 .3 1.5-1 1.5 1.9 3 10.1 3.6 1.3 .9-.1 1.5 1.5 1.5 5.9 1.5 .4 2.9 1.7 1.6-.7 1.5 5.9 1.5 2.1 1.2 1.5 .1 10.5-.8 3-1 4.5-.6 3 .1 7.5 2.5-.3 3-2.2 1.5M319.1 309.5l5.6-.9 4.5-2.3-1.5-.8-3.4 1-3.5 0-3.6-2.1-3-.6-6 .7-7.5 0-4.5-.6-3-1-14.8 2.1 14.8 1 2 .5-2 1-2.5 .5 11.5 .2 4.7 1.3M332.3 309.5l-.1 0-1.5 0-.5 0M368.4 309.5l-10 0M405.1 309.5l-6.9-.8-3.4 .8M65.4 164l-4.7 .4-3.6 1.1 11.1 1.3 4.5 1.3 15 .3 4.3-1.4-1.3-.9-11.8-.6 11.3-1.5M72 164l-5.1 0M92.8 164l.9 .8 1.5 .2 18 .1 1.7 .4 1.3 1 2.8 .5-11.8 .9-9-.8-1.5 .4-.7 1-2.3 .3-21 .1-9 2-4.5-.3-4.5-1.7-13.5 .3M173.8 164l-3.6 0M196.3 164l5.4 2.6 6 .3 6.4 1.6 1.2 1.5-1.6 .2-1.5-.7-12-1.4-7.5 .8-3.2-.4 3.2-1.5-4.2-1.5 3.3-1.5M214.7 165.5l3.5-.6 3.3 .6-6.8 0M287.5 164l-9.3 1.5-.5 1.5-20.5 .8-20.1-.8 15.6-.8 13.5 .2 2.2-.9-2.9-1.5M331.6 164l-3.5 1.5 4.6 1.5-.7 1.5 3.9 1.5 8.3 1.5 7.5-.4 2.9 .4-2.9 1.1-6-1-1.5 .2-1.4 1.2-10.6 1.4-3-1.1-4.5 .3-7.3-.6-1.7-.7-.4-.8 3.4-1 .5-.5-1.1-1.5 4.7-1.5 .4-.9 1.2-.6-4.2-.3-1.5-1.2M390 164l-.8 .1-1-.1M393.2 165.5l4 0-4 0M421.2 164l1.7 1.5 9.1 1.5-2.3 .8-7.5 1.1-2.2 1.1 2.2 .9 4.6 .6-.1 1.4-1.5 .1-9-1-6 .7-3-.8-6 .2-.5-.6 9.5-.3 1.5-.4 .8-.8-5.3-1.6-8.6-1.4 1.1-1 1.5-.1 15 1 4-1.4-1.9-1.5M439.3 164l-.6 .1-1.5-.1-.2 0M443.9 165.5l5.3-.6 3.6 .6-5.1 .4-3.8-.4M465.8 164l-1.6 .8-7.4-.8M119.3 167l6.2 0-.2 1.5-1.6 0-4.4-1.5M159.8 167l1.4-.4 2.4 .4-3.8 0M294.5 167l4.7-.7 9.8 2.2-2 1.5-9.3 2.1-9-.6-4.8-1.5 3.3-.9 6 0 2.8-.6-1.5-1.5M435.7 168.5l3.3 0-3.3 0M451.8 168.5l7 0-2.1 .4-4.9-.4M142.7 170l3.5-.4 4.2 .4-4.2 1.2-3-.5-.5-.7M488.2 169l-11.2-2 .7-1.3 9.9-.2-7.7-1.5M81.8 171.5l4.4-.4 2.6 .4-4.1 1.3-1.5-.2-1.4-1.1M309.3 173l5.1 0-2.1 1.5-5.8 1.5-.2 1.5 .8 1.5-1.7 1.5 1.2 4.5-.4 3 4.1 1.5 .9 1.5-1.5 1.5-4.5-.4-10.5-2.2-3 .4-12 4.1-7.5-.8-4.7-1.1 1.7-1.1 6 .6 1.5-.3 .3-.7-1.3-1.5-2.5-1.5 .5-1.1 1.1-.4-.6-1.5 2.2-1.5 1.8-.1 3 1.4 .4 .2-.4 1.5 3 .9 7.7-.9-1.7-.7-2.6-2.3 1.1-.3 4.5 1.1 5.2-.8 2-1.5-3.8-1.5 .9-1.5 6.2-3-3.6-1.5 9.2-1.5M391.4 173l5.3-.4 3.1 .4-3.1 2.7-4.5 .9-1.5-.6-.3-1.5 1-1.5M410.1 174.5l1.6-.4 .8 .4-2.4 0M435.6 174.5l3.1 0-3.1 0M152.7 176l4-.3 4.5-1.1 3 1.2 7.7 1.7-6.2 .4-4.5 1.1-10.5-1.2 0-.5 2-1.3M461.2 176l1.5 .3 1.7 1.2-1.7 .9-3.3-.9 1.8-1.5M111.8 177.5l3.8 0-3.8 0M227.8 177.5l2.4-1.2 2.3 1.2-1.8 3-3.7 1.5 5.6 1.5-2.3 1.5-.1 1.5-2 1.5 1.4 3-2.5 0-4.4-1.6-6-6.1-2.8-1.3 4.3-1.9 7.5-.7 1.5-.8 .6-1.1M477.2 177.5l3.1 0-3.1 0M389 179l.2-.6 1.5 .1 .1 .5-1.8 0M207 182l6.4 0-5.7 2.3-3-.2-.7-.6 3-1.5M234 188l3.7-.7 1.5 .7 3 1.5 .6 3-5.1 .1-5.6-1.6 2.6-1.5-.7-1.5M418.1 188l2.6-.5 10.5-.4 2.9 .9 .8 1.5-2.2 1.1-9 2-3-1.2-3-1.9 .4-1.5M198.2 189.5l3.5-.3 4.5 1.2 3-.2 3-1 2.8 .3-1.3 2-1.5 1-7.5-.3-6.5-2.7M409.9 189.5l5.9 0-4.7 1.5 2.1 1 3-.2 2.5 .7-7 .5-2.7 4-3.3 2.4-1.5 .4-1.5-.2-1.3-1.1 2.9-1.5-4.6-1.4-8.9 1.4 2.9 1.6-7.5 .5-2.5-.6 2.8-1.5 .3-1.5 3.1-1.5 .1-1.5 .9-1.5 4.3-.7 6 .8 4.5-.2 3-.4 1.2-1M260 191l2.1 0-2.1 0M198.6 194l4.6-.9 1.2 .9-1.2 1.4-1.5 .5-3.1-.4 0-1.5M246.3 194l3.4-.9 6.4 .9-2.2 1.5-1.2 .1-6.4-1.6M423.6 195.5l1.6-.4 2.6 .4 1.1 1.5-2.4 0-2.9-1.5M167.1 197l8.2 0-1.1 1.5-.1 1.5-1.9 1.5 .3 1.5 2.2 .9 4.5 .5 1.6-1.4 1.4-.2 6 .5 6-1.2 1.5 .2 1 .7-.5 1.5 1 .4 10.5 1.6 3.6-.5 2.4-2.5 1.5-.7 7.5 .5 4.5-3.5 7.5 .6 2.4 1.1 1.1 1.5-.4 1.5 1.4 .8 9 2.8 7.8-.6-1.5 1.5 .6 1.5 6.6 2 7.5-1.6 3.1 1.1 3.2 3 13.2 3.1 5.5-.1 3.5-.7 9 .5 6-1.5 4.5-.2 1.6 .4 1.4 1.5 1.5 .6 7.5-.4 3 1.3 3 2.3 3 1.2 3 .5 2.9-2.5 1.6-5.3 4.7-2.2 5.8-.7 3-2.3 .4-1.5 2.6-1 4.5-1.1 3 .9 4.5-.2 3-2.4 6 .6 7.5-.5 1.1 .7-.4 1.5 3.8 2.3 3 2.8 6 2.4 .4 1.5-3.3 3 6 1.5-.6 3 .6 1.5 3 3 5.9 1.4 1 1.6-3.2 1.5 2.1 3-1.4 1.8-3 1-4.9 .2-.8 1.5-1.8 .7-12.3-2.2-.7-1.5-4.3-1.5-1.9-1.5-1.8-.6-9-.4-4.5-1.6-2.5 1.1-3.5 .6-9-.5-4.5-1.8-7.5-2-3-.4-4.5 .6-6-1.2-2.2 .2-2.7 1.5-1.1 1.5-1.5 .5-7.5-1.5-10.5-.8-2 .3 2.7 1.5 0 1.5-.7 .1-3 0-4.5-1.2-6-.1-7.5 1.6-9 1-3 1.1-7.5-1.5-7.5 .5-7.5-1.1-3 .1-6 3-4.1 1 2.3 1.5 3.3 .5 .7 1-.7 .4-4.5 .9-4.5-.3-3-1.8-4 .8 4.9 1.5 3.6 1.8 4.5-.8 1.5 .3 .9 1.7-15.9 1.2-3.9 1.8-1.7 3-1.9 .5-7.5-.2-1.4-1.8-3.1-.8-9 1.6-4.5-1.4-4.5 1.5-6.5 .6-3.3 3-2.2 .1-13.5-3.3-9 0-6 1.4-6-.9-4.5 .3-6-1.4-4.5 .5-3.7-1.2 2-3-6.4-3 .4-1.5-2.2-1.5-2.8-3 3.3-1.5 .7-3 1.9-1.5-.7-.8-2-.7 2.7-1.5-.7-1.5 3.8-1.5 1.6-3 2.9-3-1.7-1.5 2.4-2.3 7.7-2.2 1.2-1.5 1.6-.4 7.5-1 6 1.4 1.5-.4 3.1-4.1 5.6-3 .5-3 1.2-1.5 4.5-3M374.7 203l2 0-1 .5-1-.5M180.7 207.4l-2.8 1.6 4.1 0 .7-1.5-2-.1M384.7 209l4.3 0-4.3 0M260.2 212.8l-1.5 .7 1.7 0-.2-.7M41.2 221.4l9-.5 21 1.5 12.4 1.6-1.7 1.5-.8 3 .1 1.5 1.1 1.5-.3 1.5-1.8 .6-7.5 1.2-6-.6-1.9 .3-2.9 1.5-4.2 .2-12-1.3-4.5-1.3M438.3 222.5l1.9 .4 .9 1.1 .8 1.5-.2 1.7-3 .5-4.3-2.2 2.8-2.6 1.1-.4M483.7 221.9l-.9 .6 1.3 0-.4-.6M338.2 224.9l-1.1 .6 2.6 .5 2.6-.5-1.1-1-3 .4M437.8 230l.9-.8 4.5-.4 3 .2 2.1 1-.6 1.2-1.5 .6-6-.8-2.4-1M488.2 231.4l-7.5 0-3 1.2-3 .3-13.5-.7-2.7-.7-3.9-4.5 6.6-.8 3-1.3 4-2.4-2.5-1.5 1.5-.3 4.7-2.7 5.8-1.6 2.3 .1 .5 1.5 1.7 2.2 3 1.6 3-.2M488.2 233.2l-.5-.2 .5-.5M397.4 245l3.8-.7 11.8 .7 .9 1.5-2.2 .3-1.5-1-3-.3-3.8 1-5.2 .5-3 1.1-3.4-.1 2-1.5 3.6-1.5M398.7 251l2.5-.4 3.8 .4-.8 1.5 1.5 1 1.5 .3 3-.5 3-1.3 4.5-.4 1.5 .4 1.5 1.2 3.3 .8-.3 1.5-1.5 .9-10.5-.5-7.5-1.8-5.5-3.1M423.2 251l3.5-1 6.8 1-5.3 1.6-5-1.6M349.7 252.5l3.6 0-1.6 .4-2-.4M151.2 254l2.5 0-2.5 0M422.9 260l1.4 0 .3 1.5-2.4 0 .7-1.5M416.5 266l3.5 0-2.5 1.5-4.3 1-1.5 .1-1.3-1.1 6.1-1.5M436.3 266l1.7 0 4.3 1.5-.9 3-3.5 1.5 0 1.5-.7 .4-3-.1-3.7-1.8-.8-1.5 1.5-1 4.5-1 1.7-1-1.1-1.5M300.3 273.5l1.9-1.4 1.5 .4 .2 1-3.2 3.2-1.5 2.8-1.5 .9-3.3-.9-.9-1.5 4.7-1.5 2.1-3M353.8 278l2.4-.5 3 .3 .5 .2 .2 1.5-2.7 0-3.4-1.5M407 278l4.7-.4 3 .5 2.3 1.4 1.2 3-2 2.2-7.6 .8-2.5 3-6.5 0-2.9-3-.7-3 1.6-1.5 .7-1.5 8.7-1.5M309.7 281l4.5-1.1 7.7 1.1-9.2 2-3.2-.5 .2-1.5M323.1 284l1.6-.5 1.3 .5-2.9 0M292.2 285.5l5.7 0-3.2 .8-2.5-.8M372.7 285.5l3-1 5.2 2.5-8.2 2.8-3-1.3 3-3M381.7 298.3l-1 .7 2.1 0-1.1-.7M103.3 302l3.9-.9 15 2.4-7.4 1.5-6.1 .2-6-1.4-.3-.3 .9-1.5M241 302l4.2-1.2 12 .6 4.3 .6 .9 1.5-3.7 .7-7.5-1.5-10.2-.7M266.4 302l20.8-.8 3.5 .8-8 1.8-7.5 .4-3-1.2-5.8-1M297.1 303.5l2.1-.8 6-.6 3 .5 1.3 .9-5.8 .6-6.6-.6M467 303.5l4.6 0-1.4 .9-3.2-.9M214.3 305l.9-.7 3-.4 9.6 1.1-4.9 1.5 .8 1.5-1 .3-2.4-.3-6-3M472.1 306.5l1.1-.9 1.5 0 1.7 .9-1.7 .4-2.6-.4M48.4 308l9.3-1.3 11.3 1.3-9.8 .7-10.8-.7M130.8 308l4.9-1.1 6.4 1.1-6.4 .7-4.9-.7M169.5 309.5l2.8-1.5 12.9-2.3 9 1.8 1.4 .5 .7 1.5M191.5 309.5l-10.8-.9-4.1 .9M279.7 309.5l3.7-1.5-6.2-1.5 4-.7 10.5 .5 1.3 .2-7.4 1.5 17.7 1.5M323.1 309.5l.1 0 1.5-.1 1.1 .1M339.4 309.5l-7.2-.6-3.1-.9 3.1-2 7.2-1-6.7-1.5 2.5-1.1 7.5 .4 11.9-.8-8.9-1-7.5 .4-1.5-.2-.7-.7 .7-.4 12-1.4 3-1.2 16.5 .8 2.1-.8 1.4-1.5-.3-1.5 1.3-1.5 3-1.2 1.5 0 1.5 1 1.7 1.7-.4 1.5 1.7 1.2 1.5 .2 6-1.1 10.4-.3 1.6-1.7 13.5-2.1 3-.1 4.5 .9 6-.8 2.3 2.3 6.2 1.5 .6 1.5-3.1 1.2-6 .4-5.9 1.4 2.9 2.3 4.5-.9 7.5 .1 7.4 1.5-1.4 1.4-18-1.3-10.5 .7-2 .7 5.4 1.5-5.4 1.5 6.2 1.5M374.5 309.5l-15.3-.7-4 .7M407.1 309.5l-11.9-1.5-1.5 .1-.2 1.4M424.4 309.5l7.5-1.5 3.8-1.8 7.5-1.2 6 1.7 12.7 1.3 6.6 1.5M459 309.5l-4.7 0M42.7 164l-1.5 .4M81.1 165.5l6.6 0-6.6 0M98.8 165.5l11.5 0 2.2 1.5-8.3 .2-5.4-1.7M190.9 165.5l3.3-.7 2.9 .7-1.4 .9-4.8-.9M283.4 164l-5.2 .4-2.3-.4M329.5 164l-3.3 .8-5.6-.8M447 165.5l3.3 0-3.3 0M488.2 164.2l-.8-.2M41.2 166.1l3-1.6 6-.2 4.5 1.5 11.6 1.2 5.3 1.5-9.4 1.7-2.3-.2-1.1-1.5-1.1-.3-16.5-.1M240.4 167l12.3-.5 9.3 .5-7.8 .4-13.8-.4M296.8 167l3.7 0 1.7 1.2 2.1 .3-1.4 1.5-5.2 .4-2.3-.4 2.3-.3 2.4-1.2-3.3-1.5M325.7 167l2-.5 2.7 .5-1.1 1.5 4.4 1.9 7.1 1.1-2.2 1.5-1.9 .1-4.5-1-6-.4-4.2-1.7-.5-1.5 4.2-1.5M400.7 167l3.5-.4 5.5 .4-2.5 .5-6.5-.5M418.9 167l3.3-.8 7.3 .8-7.3 .9-3.3-.9M207 168.5l1.6 0-1.6 0M411.5 168.5l4 0-.8 .4-3.2-.4M488.2 167.7l-8.9-.7 2.9-.6 6 0M287.3 170l6.6 0-3.7 .4-2.9-.4M84.5 171.5l1 0-1 0M299.9 179l2.3-.5 2 .5-2 1-1.5-.1-.8-.9M219.8 182l2 0 3.9 1.8 1.9 1.2-.4 1-1.5 1-1.5 .1-1.4-.6-3-4.5M280.2 189.5l2.5-.4 3.5 .4-2 1-1.5 0-2.5-1M393.2 192.5l2-1 1.5 0 7.4 1 3.3 1.5-.2 1-1.5 .5-4.5-1.5-6 .4-1.5-.4-.5-1.5M168.2 198.5l2.3 0-1.8 1.7-.7-.2 .2-1.5M164.2 201.5l3-1 1.4 2.5-2.9 .9-1.5-.4-.5-.5 .5-1.5M229.5 201.5l3.7 0 1.9 1.5-1.9 1.2-1.5 .1-3-.3-1.7-1 2.5-1.5M160.8 206l3.4-1 13.5 .8 .7 .2-1.9 1.5-.9 1.5 .6 .6 1.5 .6 4.9 .3 4.1 1.3 1.5-.1 1.2-1.2-2.8-1.5 3.1-1.8 9-.2 9 .6 4.5-.9 4.5-2.1 6.2 1.4-1.2 1.5 5.5 .9 3 1.1 6-.3 3 2.6 6 0 3-1.4 3-.2 2.6 1.8 2.1 3-2.1 1.5 1.9 .5 1.5 .1 3-1.2 3 0 4.5 .9 10.5-.1 6 2.1 18 .1 3.6 .6 .1 1.5 3.6 1.5 4.7 .5 1-.5-3.1-1.5 3.6-.1 5.5 1.6 .7 1.5-1.9 1.5 1.5 1.5-.6 1.5-11.2 .5-13.5-1.4-3.7 .9-2.3 1.7-4.5 .7-3 1.2-3 .2-3.5-.8 1.8-1.5-4.3-.6-1.8 .6 .3 2.3 1.2 .7-4.2 .9-13.5-.6-9-1.9-4.5 .4-1.5 .5-4.5 3.7-7.5 2-6.8 1-1.3 1.5 3.8 1.5-.4 1.5-1.6 1.5-3.6 1.5-2 1.5 .9 1.5-2.5 1.3-3-.2-3-1.9-3-.7-9 .8-6-1.4-6 1.6-6 .6-4.5 1.3-1.5 1.1-6.5-1-.8-1.5-1.7-.1-7.5 .5-6-.6-4.5 .9-10.5-.1-4.5-1.2-4.5-.3-1.1-.6 2.6-1.1 3.9-.4-5.4-.5-7.1-2.5-.2-1.5-2-1.5 0-1.5-.8-1.5 1.6-1.5 .5-1.5 1.4-1.5 2-4.5-.1-1.5 3.5-1.5-.5-1.5 .5-1.5 2.9-3-1.2-1.5 1-1 4.5-1.2 4.5 1 3 .1 1.1-.4 1.9-2 3-1.2 9 1.2 5.2-1-4.4-1.5 4.7-1.5-2.8-1.5 .1-1.5 2.8-1.5M236.9 207.5l2.3-.6 3.2 .6-3.2 1-1.5-.1-.8-.9M362.1 209l3.1-.5 4.5 .7 6-.3 4.5 1.2 4.5 2 6-1.8 3 .5 3 2.9 3.7 1.3-1.2 3-2.5 3 7.5 1.4-.5 4.6 5 3-1.8 1.5 1 1.5-1.1 1.5 4.9 .6 1.8 .9-3.3 1.6-12 .6-1-.7 2.5-1 .1-.5-9.1-.9-7.5-2.8-6 .7-6-2.6-6 .2-4.5-1.4-4.5 .6-7.5-.3-5.6-1-.7-1.5 4.2-1.5 .4-1.5-.8-4.5 1.8-3 3.7-.8 9 .1 1.5-.6-1.9-1.7-.3-1.5 2.1-3M139.8 212l4.8 0-1.4 .8-3.4-.8M269 215l.8 0-.8 0M377.2 216.4l1.8 .1-1.8-.1M272.2 219.3l-1.1 .2 1.3 1.5-.3 1.5 1.6 .5 4.5-1.2 3-.1 1.1 .8 .3 1.5 1.6 .3 10.2-.3-4.2-2.1-7.5-1.4-1.5-1.6-9 .4M325.9 219.5l2.7 0-2.7 0M354.7 222.4l-.6 .1 2.8 0-2.2-.1M41.2 222.9l21-.5 10.5 1 2.4 .6 .6 1.8 2.8 2.7-4.3 3.1-7.5 1-19.5 .8-2.1-.4 2.4-1.5-3.3-2-3-.4M473.2 226.7l-.3 .3 1.8 .5 1.5 .2 .3-.7-3.3-.3M488.2 229.5l-4.5 .1-6-1.6-2.8 2-4.7 .4-1.3-.4-.4-1.5-2.7-1.5 .8-1.5 5.2-3-.9-1.5 1.5-1.5 3.8-1.3 1.5 .1 1.5 1.2 .5 1.5-.9 1.5 .4 .3 3 .7 6-.3M230.2 231.2l-4.8 1.8 1.8 .5 4.5-.5 .6-1.5-.6-.5-1.5 .2M434 270.5l3.7 0-2 .4-1.7-.4M407.3 279.5l4.4-.5 3 .5 1 3-13.6 3 0-1.5 5-1.5 1.4-1.5-1.2-1.5M412.2 294.5l5.5-.6 5.4 .6-3.9 1.3-6-.7-1-.6M410 296l1.7-.9 .5 .9-.5 .4-1.7-.4M106.5 302l1.1 0-1.1 0M300 303.5l3.7-.4 2.5 .4-6.2 0M432.8 303.5l4.4-.6 4.7 .6-3.2 .4-5.9-.4M217 305l2.7-.4 5.3 .4-5.3 1-2.7-1M182.9 306.5l3.2 0 2.1 1.1 4.5 .4-8.3 0-1.5-1.5M279.7 306.5l3-.4 6.5 .4-5 .8-4.5-.8M333.7 306.5l6-.6 2.5 .6-1.9 1.5-2.1 .4-6.8-.4 2.3-1.5M369.7 306.3l-.6 .2 5.7 0-2.1-.8-3 .6M50.8 308l6.9-.8 7.1 .8-5.6 .5-8.4-.5M132.7 308l3-.6 4.6 .6-4.6 .4-3-.4M281.8 309.5l2.4-.7 8.8 .7M341.6 309.5l1.1-.8 4.5-.2 4.9 1M376.7 309.5l-20.5-1.6-3-1.4-7.3-1.5-1.3-1.5 8.6-.6 4.7-.9-5.3-1.5 3.6-1.8 13.5 .7 3.1-.4 2.9-1.6 1 3.1-.7 1.5 2.7 .2 2.2-.2 1.8-1.5 3.5-.8 1.5-.9 3-.3 1.2 .5-2.7 .8-3.4 2.2 4.9 .8 1.5-.2 3-1.6 6-.2 16.5-4 1.5 .2 .3 .5-4.4 3 4.5 1.5 1.3 1.5-7.7 .2-1.5 .3-.7 1 3.7 1.5-6 2.4-13.5-1.7-3 .1-1.5 .7 1.6 1.5M411 309.5l2.2-.4 3.6 .4M426.2 309.5l9.1-1.5 2.4-1.5 4-.5 3 .3 5.7 1.7-3.2 1.5M46.3 165.5l3.9-.2 6 1.3 4.9 .4-10.9 .9-4.5-.2-2.8-.7 3.4-1.5M248.1 167l8.2 0-8.2 0M422 167l3.3 0-3.3 0M482.5 167l2.2 0-2.2 0M61.4 168.5l.8-1.1 5.5 1.1-4 .6-2.3-.6M324.5 170l1.7-.8 1.5-.1 3.3 .9-1.8 1-4.7-1M161.3 207.5l2.9-.5 7.5 .9 1.6 1.1-.1 3.3 7.5 .3 3.2 .9 2.6 1.5-1.3 .7-6-.9-2.4 .2 .3 1.5 5.1 1.8 3.6-.3 .9-1.3 3-.4 7.5-3.2 10.5-.6 .8-.5 .1-1.5 1.6-1.5 3.5-1.6 1.5 0 1.5 1.5-.3 1.6-6.9 3 2.7 .9 4.5-.2 4.4-.7 3.1-1.6 3 .2 6-1.5 1.5 .8 .2 2.1 2.8 1.4 1.5 .4 7.5-.3 1.5 .4 4.1 2.6-1.7 1.5 .6 1.2 3.4 1.8-2.4 1.5-.1 1.5 .6 .7 3 .7 6.8 .1 1.6 1.5 4.8 1.5 .1 1.5-1.3 1.1-3 .2-6-2.2-3-.1-3-1.3-6-.2-4.5-1.7-9 .4-1 .8-11 3.6-1.3 .9-.6 1.5 1.9 .8 4.5 0 4.1 .7-3.6 1.5-2 .3-9-.3-2.9 1.5 1.1 1.5 4.5 1.5 1.8 1.2 .2 .3-1.6 1.5-4.6 1.4-15 1.4-3-.3-2.1-1 1.5-1.5-3.9-1.2-1.5 0-3 3.1-10.5 1.8-18-.4-6-.7-13.5 1.6-5.4-1.2 2.5-1.5-1.6-1.1-6-.5-4.8-1.4-3.5-3 1.9-1.5-2.7-1.5 3.4-4.5 2.6-6 5.8-1.5-2.7-1.8-.4-1.2 3.8-3-1.5-1.5 2.6-.8 7.5 1.1 7.5-3.1 3 2.2 3 .4 3-.7 3-2.1 3-.9 6 .2 2.6-.8-7.1-.3-3.5-1.2 2.9-1.5 .3-1.5-2.6-1.5M362.6 210.5l1.1-.7 3-.2 9 .9 2.8 1.5-4.3 1.1-2.7 1.9 1.7 1.5-.5 1.6 1.5 .5 9-1.8 .8-.3-.4-1.5 5.6-.4 3-1.5 1.5 .6 2.3 1.3-1.3 1.5 2.2 1.5-1.7 1.7-6.4 1.3 7.6 1.5 .7 1.5-1.1 1.5 4.5 1.5 .4 3-2.7 .3-4.5-.7-4.5 1.7-6-.7-6 .5-1.5-.4-3-2.4-6-.2-4.5-.9-6 .4-3.1-.6 1.1-1.5 3.5-.8 4.2-2.2-2.3-1.5-1.9-.5-7.5 .7-1.8-1.7 1.8-1.7 1.5-.4 10.5 0 2.4-.9 .1-1.5-2.6-3 .5-1.5M165.7 219.1l-1.2 .4 2.7 1.1 1.5 .1 2.1-1.2-5.1-.4M225.7 220.2l-.5 .8 1.1 0-.6-.8M51.4 224l7.8 .5 2.7 1-2.7 1.3-1.5-.1-3.9-1.2-.6-1.1-1.8-.4M299.6 224l2.6-.5 3 .2 1.8 .3 1.2 .8 4.8 .7-4.8 .8-6-.1-3.9-.7 1.3-1.5M70.1 225.5l1.1-.5 1.3 .5-2.4 0M204.7 225.4l-1.7 1.6 .2 .4 5.9 2.6 1.6 .2 2-.2-1-1.5 1.9-1.5 .4-1.5-3.3-1-6 .9M218.2 225.5l2.3 0-2.3 0M262.6 225.5l3.6-1 10.5 1 .3 1.5-1.8 .4-4.5-1.4-7.5 .7-.6-1.2M481.4 225.5l3.8-.5 2.8 .5-2.8 1.1-3.8-1.1M177.7 226.2l-.8 .8 2.3 .8 3.3-.8-1.8-.9-3 .1M285.3 227l3.4-1.3 1.5 .2 .9 1.1-2.4 .6-3.4-.6M48.7 228.5l10.5-1 4.6 2.5-6.1 1.2-3 0-4.8-1.2-1.2-1.5M395.6 233l4.1 0-4.1 0M192.7 234.2l-.9 .3 .6 1.5 3.3 .7 9-1.2 2.2-1-3.7-.5-10.5 .2M406.5 236l2.2 0-2.2 0M411 302l2.2-.4 3.2 .4-1.7 .5-3.7-.5M369.7 304.7l-5.2 1.8 8.2 .7 4.4-.7-.6-1.5-.8-.4-3-.3-3 .4M282.5 306.5l2.4 0-2.4 0M54 308l3.7-.4 4.3 .4-8 0M135.1 308l2.8 0-2.8 0M343.3 309.5l3.9-.5 2.6 .5M378.4 309.5l-2.7-.6-9-.4-9-1.2-4.5-1.7-3.6-.6 2.1-1 9.9-2-.9-.9-1.9-.6 7.9-.4 5.1 .4 .9 1.8 4.5 .9 7.5-.5 7.5 1 6.6-.2 .9-.5 7.5 1.2 5 2.3-6.5 1.8-10.5-1.8-5.3 0-.9 1.5 2.1 1.5M427.9 309.5l9.3-1.1 4.5-1.5 4.5 1.1-1.4 1.5M45.3 167l3.4-.9 6.4 .9-4.9 .4-4.9-.4M166.4 210.5l2.8 0-2 .8-.8-.8M365 210.5l2.3 0-.6 1-1.5-.4-.2-.6M197.2 215l3-1.2 3-.1 3 1 1.5 1.2 3 .5 7.5-1.2 12-.5 1.7 .3 .7 1.5-5.4 .8-6.3 2.2 .3 1.7 4.3 1.3 1.1 1.5-2.4 .3-13.5-1.5-7.5 1.4-3.4 1.3-1.5 3-1.1 1-8.5 .5-.1 1.5-3.7 1.5-.6 1.5 2.5 1.5 6.5 1.5-2.3 1.5-5.2 1.5-1.9 4.5-3.1 1.5-4.6 .5-6-.5-7.5 .7-6-.6 .1-1.6-1.2-1.5 1.7-1.5-.6-.5-1.5-.4-6 .1-3.2 .8 .2 1.5-2.5 3-3.5 1.6-4.5-4.2-3-.5-5.4 .1-4.1-3 2-1.5-1.7-1.5 .1-1.5 1.8-4.5 2.1-1.5-.4-1.5 11-4.5-1-3 7.6-.1 1-1.4 2-.3 1.5 .4 1.8 1.4 2.7 .5 3 0 4.5-1.1 9.2 2.1-3.2 1.7 1.5 1.6 4.5 .6 3 2.6 6 0 3.1-.5 1.2-1.5-2.7-1.5 2.9-2.3 8.8-2.2 .2-1.5-1.2-1.5 .4-1.5 2.3-1.5M160.2 216.5l4-.9 6.6 .9-6.6 1.1-3-.4-1-.7M241.4 216.5l3.8 0 1.5 .6 1.5 2.1-.1 1.8 2.9 1.5-2.3 1.5-1.2 1.5-2.3 .7-6-1.5-8.5-.7-1.6-1.5 1.1-.5 4.5-4.6 6.7-.9M171.8 218l3.4 0-3.4 0M385.8 218l3.4-1 4.9 1-1.9 .9-4.5 .6-4.2 1.5 3.9 3-3 1.5 .6 1.5 4.3 1.5-1.6 1.1-9-.2-4.5-2.1-6-.9-1.4-.9 1.1-1.5-.9-1.5 1.2-1 7.5-1.4 4.5-1.4 5.6-.7M184.6 219.5l3.2 0-2.6 .4-.6-.4M361.2 219.5l1.2 0-1.2 0M141.7 222.1l-.5 .4 4.7 0-1.2-1.5-3 1.1M236.2 222.5l4.1 0-4.1 0M220.5 227l3.7-.5 4.1 .5-4.7 3-2.4 .4-3 0-2.1-1.9 4.4-1.5M201 230l3.7 0 4.5 1.2 3.6 .3 .1 1.5 2.3 1 1.2 2-4.2 .8-3-.3-.6-.5 2-1.5-1.4-.9-7.5-1.5-.9-.6 .2-1.5M176.2 234.2l-.5 .3 2 .5 3.6-.5-3.6-.6-1.5 .3M177.7 238.8l-5.2 1.7 3.7 .4 4.7-1.9-3.2-.2M199.9 240.5l3.3-.5 6 .1 8.3 3.4-3.8 1.9-15.7 1.1 .2-1.5-1.5-1.5 .1-1.5 3.1-1.5M355.5 305l3.7-.4 1.5 .4-.3 1.5-1.2 .1-1.5-.1-2.2-1.5M380 309.5l-2.8-.9-12.4-.6 1.9-.5 10.5-.3 2.8-.7 .6-1.5 1.1-.6 3-.6 16.5 .5 8.7 2.2-4.2 1-10.5-1.7-6 0-4.3 .7 1.3 .3 3.6 2.7M429.8 309.5l4.4-.4 7.5 .4"/>
<path fill="none" stroke="#000" stroke-width="1.15" stroke-linejoin="round" d="M35.3 194.9l5.7 .8 4.9-1.7 8.7-.4 1.2 2-1 1.3 1.7 .9 10.4 2.7 .1-1.6 3.7-.6 2.5 1.1 11.4 .3 .9 2-1.4 1.9-1.5-2.3 1.1 3 4.6 7.1 3.1 6.5 4.5 3.8 1.5 2.6 8.3-1.7-.3 1.7-2.4 5.5-3.8 5.1-7.2 5.7-1.1 4.4 1.4 5.6 .2 5-4.4 3.6-2.1 4.2 .2 3.5-3.2 2.3-.5 3.1-3.1 3-2.6 1.6-2.9 1-6.9 .9-2-.5-.5-2.5-1.8-3.7-1.9-2.4-.6-4-3.1-5.9-.3-3 2.1-4.3-.3-4-1.3-3.5-3.6-6.3 .5-6.4-1.5-.6-3.1 .3-3.2-2.7-2.7 .4-4 1.6-2.5-.5-4.3 1-4.1-2.4-3-2.7-5.3-7.7 1.6-5.8-1-1.8 5-7.5 3.9-2.2 .3-3.3 3.5-1.5 1.5-2M481.7 194.9l5.7 .8 4.9-1.7 8.7-.4 1.2 2-1 1.3 1.7 .9 10.4 2.7 .1-1.6 3.7-.6 2.5 1.1 11.4 .3 .9 2-1.4 1.9-1.5-2.3 1.1 3 4.6 7.1 3.1 6.5 4.5 3.8 1.5 2.6 8.3-1.7-.3 1.7-2.4 5.5-3.8 5.1-7.2 5.7-1.1 4.4 1.4 5.6 .2 5-4.4 3.6-2.1 4.2 .2 3.5-3.2 2.3-.5 3.1-3.1 3-2.6 1.6-2.9 1-6.9 .9-2-.5-.5-2.5-1.8-3.7-1.9-2.4-.6-4-3.1-5.9-.3-3 2.1-4.3-.3-4-1.3-3.5-3.6-6.3 .5-6.4-1.5-.6-3.1 .3-3.2-2.7-2.7 .4-4 1.6-2.5-.5-4.3 1-4.1-2.4-3-2.7-5.3-7.7 1.6-5.8-1-1.8 5-7.5 3.9-2.2 .3-3.3 3.5-1.5 1.5-2M103.3 252.5l1.4 4.3-4.1 11.1-2.4 .7-1.8-2.3-.5-2.3 1.4-3-.5-2.2 3.1-1.7 3.4-4.6M35.3 194.8l4.4-.7 2.5-2-.4-.8 1.5-1.5 2.9-.9-.3-1.2 5-.3 2.3-.7 2.6 1.8 5.7 2.3 .8 1.1-.8 .9 1.9-1-.6-1.1 2.3 0-5.5-2.4-.5-.9-1.6-.8 0-.7 1.6-.4 2.3 1.6 4.9 2 0 1.4 3.2 3.8 2.5-1.7-1.4-2.3 1.4-.3 2.4 0 1.3 3 1.5 1.1 2.9-.1 2.8 .7 2.3-.7 1.9 .2-.5 2.2-2 3.3M481.7 194.8l4.4-.7 2.5-2-.4-.8 1.5-1.5 2.9-.9-.3-1.2 5-.3 2.3-.7 2.6 1.8 5.7 2.3 .8 1.1-.8 .9 1.9-1-.6-1.1 2.3 0-5.5-2.4-.5-.9-1.6-.8 0-.7 1.6-.4 2.3 1.6 4.9 2 0 1.4 3.2 3.8 2.5-1.7-1.4-2.3 1.4-.3 2.4 0 1.3 3 1.5 1.1 2.9-.1 2.8 .7 2.3-.7 1.9 .2-.5 2.2-2 3.3M76.9 189.6l.9-3 2.2-1.8 1.9 0 1.8 1.7 3.9-.7 2-1.3 1.3-.2-2.2 2.2 5 2.8-1.9 .5-8.3-.9-2.9 .8-3.7-.1M100.2 186.4l3.4 4.1-.8 1.9 1.4 1.2 4.8 .3-1.6-5.5-1.6-.6 2.1-1.7-2.2-1.6-2.7 .3-2.8 1.6M35.3 194.8l-2.3-1.2-1.8 .2 .1-1.7-.9-.3 1-2.2-.7-1.6 1.6-.7 7.7 .3 .7-1.1 0-1.4-4.1-1.5 0-.6 3.6-.1 .3-.8 3.6-.3 .1-.7 1.7-.3 2.1-1.3 5.1-.8-.9-2 2.4-.5 .6 .3-.8 1.5 1.2 .5 11.3 0 1.6-.6-.1-1 1.5-.8 2.4 .4 .2-.8-1.3-.5 8.4-.5-1.7-.4-7.3 .4-1.9-.7 .2-1.3 4.2-1-.9-.4-2.7 .1-5.6 1.8-.4 .8 2.1 1-2.8 1.5-.4 .7-2.6 .5-1.6 0-2.1-2.4-5.7 .5-1.9-1.4-.1-.7 1.9-.7 13.6-3.5 13.8-.6 14.7 1.4 .8 .6-10.1 0 2 .5 .1 .6 3.1 .3 8.2-1.2 .6-1.1 4.6 .3 15.5-1 9.9 .8 .7-.8-2.8-.2-.1-.5 3.4-.5 4.2 .3-.6 .4 .4 .3-.1 .7 2.8 .5 .2-.6-1.5-.4 .3-.5 3.1-.7 34.4-1.5 11.2 .5 .2 .7 16.8 .1 4.9 1 12.4-.8 19.9 .7 5.6 .7 21.3 0 14.4 1.6-3.5 .9-7.4-.1-3.1 1.3-6.2 .3-4.4 1.1-8 .1-1.9 .9 1 1.6-4.1 1.2-4.1 2.7-1.5-3.4 1-1.4 2.1-.4 2.5-1.6-1.2-.7-8.7 1.7-11.2-.2-9.7 3.1 4.8 .4 2.9 .9-1.1 2-.1 1.6-6.1 4-5.6 1.2-1.6 1.6-2.7 1.2 2.4 2.8-.2 1.7-3.7 .4 .4-1.7-.5-1.2-1.5-.1 .2-1-.8-.9-4.1 .9 .6-1.2-.9-.8-4.2 2.2 2.4 1.4 2.2-.5 1.6 .4-2 .9-2.2 1.9 3.4 3.4-.5 .9 .6 .8-3.1 4.7-3.4 2.6-8 2.7-2.3-.7-2.8 1.7-.6 1.4 3.2 3.6 1.2 3.1-.1 2.3-5.4 3.8 .2-1.7-2.5-1.3-.8-1.6-1.8-.5-.7-1-1 1.8-.4 2.3 1.6 3.7 1.3 .5 2.3 2.8 .1 2.3 .9 1.7-.9 .2-1.8-1.3-1.5-1.9-1-3.4-1.6-2.1-.5-1.7 .4-2.5-1.2-5.8-1.1-.5-1.8 1.1-1.1-.3-.2-3-2.4-3-.7-1.7-6.2 1.4-.3 1.5-2.3 1.1-5.4 4.3-.6 5.6-2.9 3.6-1.2-1-.9-3.3-2.6-5.2-1.5-7.8-2.5 1.5-1.8-1.5 1.2-.7-3.2-1.3-1-1.6-6.2 .2-5.3-.8-1.3-1.3-2.2 .5-3.1-1.3-1.6-1.7-2.1-1-1.3 .3 .5 1.6 4 4.9 3.1 0 2.5-2.3 .3 1.5 4.3 2.8-2.7 4.2-2.9 1.9-8.1 4.1-6.6 1.6-1.1-4.7-4.2-5.9-1.4-3.1-3.8-4.5-.1-1.6M481.7 194.8l-2.3-1.2-1.8 .2 .1-1.7-.9-.3 1-2.2-.7-1.6 1.6-.7 7.7 .3 .7-1.1 0-1.4-4.1-1.5 0-.6 3.6-.1 .3-.8 3.6-.3 .1-.7 1.7-.3 2.1-1.3 5.1-.8-.9-2 2.4-.5 .6 .3-.8 1.5 1.2 .5 11.3 0 1.6-.6-.1-1 1.5-.8 2.4 .4 .2-.8-1.3-.5 8.4-.5-1.7-.4-7.3 .4-1.9-.7 .2-1.3 4.2-1-.9-.4-2.7 .1-5.6 1.8-.4 .8 2.1 1-2.8 1.5-.4 .7-2.6 .5-1.6 0-2.1-2.4-5.7 .5-1.9-1.4-.1-.7 1.9-.7 13.6-3.5 13.8-.6 14.7 1.4 .8 .6-10.1 0 2 .5 .1 .6 3.1 .3 8.2-1.2 .6-1.1 4.6 .3 15.5-1 9.9 .8 .7-.8-2.8-.2-.1-.5 3.4-.5 4.2 .3-.6 .4 .4 .3-.1 .7 2.8 .5 .2-.6-1.5-.4 .3-.5 3.1-.7 34.4-1.5 11.2 .5 .2 .7 16.8 .1 4.9 1 12.4-.8 19.9 .7 5.6 .7 21.3 0 14.4 1.6-3.5 .9-7.4-.1-3.1 1.3-6.2 .3-4.4 1.1-8 .1-1.9 .9 1 1.6-4.1 1.2-4.1 2.7-1.5-3.4 1-1.4 2.1-.4 2.5-1.6-1.2-.7-8.7 1.7-11.2-.2-9.7 3.1 4.8 .4 2.9 .9-1.1 2-.1 1.6-6.1 4-5.6 1.2-1.6 1.6-2.7 1.2 2.4 2.8-.2 1.7-3.7 .4 .4-1.7-.5-1.2-1.5-.1 .2-1-.8-.9-4.1 .9 .6-1.2-.9-.8-4.2 2.2 2.4 1.4 2.2-.5 1.6 .4-2 .9-2.2 1.9 3.4 3.4-.5 .9 .6 .8-3.1 4.7-3.4 2.6-8 2.7-2.3-.7-2.8 1.7-.6 1.4 3.2 3.6 1.2 3.1-.1 2.3-5.4 3.8 .2-1.7-2.5-1.3-.8-1.6-1.8-.5-.7-1-1 1.8-.4 2.3 1.6 3.7 1.3 .5 2.3 2.8 .1 2.3 .9 1.7-.9 .2-1.8-1.3-1.5-1.9-1-3.4-1.6-2.1-.5-1.7 .4-2.5-1.2-5.8-1.1-.5-1.8 1.1-1.1-.3-.2-3-2.4-3-.7-1.7-6.2 1.4-.3 1.5-2.3 1.1-5.4 4.3-.6 5.6-2.9 3.6-1.2-1-.9-3.3-2.6-5.2-1.5-7.8-2.5 1.5-1.8-1.5 1.2-.7-3.2-1.3-1-1.6-6.2 .2-5.3-.8-1.3-1.3-2.2 .5-3.1-1.3-1.6-1.7-2.1-1-1.3 .3 .5 1.6 4 4.9 3.1 0 2.5-2.3 .3 1.5 4.3 2.8-2.7 4.2-2.9 1.9-8.1 4.1-6.6 1.6-1.1-4.7-4.2-5.9-1.4-3.1-3.8-4.5-.1-1.6M280.3 171.4l7.4-.3-4.9-1.1 11.6-1.3 26.8 .9 9.9-.4 16.1 .9 19.9 .2 2.5-.6 7.4 .1 4.3 1-1.8 1.1-7.5 2.1-.6 1.3 2.5 1.3 12.6 1.4 .4 1.5 1.9 1.3 1.8-.1 .3-.8-.9-1.5 3.1-1.1 .3-1.4-1.5-.5 .7-1.1-.7-1.1 7.4 .5 3.1 1.6 2.5 .4 3.7-1.3 3.1 1.5 .6 1.4 4.4 1.1 2.5 1.5-4.4 1.7-8.5 .1-2.6 .8-3.1 2 3.7-1.6 3.7-.4 .9 .6-.9 .8 .6 1.2 4.1 .5 1.5-.4-5.7 1.8-1.7 .2-.2-1.2-4.8 1.3-.9 1 .9 .8-4.7 1-.3 1.2-1.6 1-.8 1.5 .6 1.7-3.6 1.5-3.2 2.2-.7 1.5 1.8 4-.4 1.8-1.1-.2-1.7-2.4-.4-1.6-1.8-1.1-5-.5-1.3 .2 .4 1.2-6.6-.4-3.1 1.9-.8 6.1 1.4 3.5 1.9 1.1 3.1-.1 2.4-1.1 .2-1.7 4.2-.6-2 6.9 3.3-.2 3.1 .9-.3 5.2 1.5 1.8 2.5 .5 1.8-.5 2 1 1.8-1 .8-1.6 1.4-.6 2.1-.6 1.2 1.2 .4-1.7 1.5 0 2.2 2 7.7 0 1.3 2.6 1.8 .6 1.9 1.5 6.8 2.3 1.9 1.2 1.8 5.1 1.5 1.5 4.7 1.7 4.4 .5 7 2.9 .6 2.9-.4 1.8-4.1 5-.9 5.9-2.2 5-1.3 1.1-6.2 1.4-1.8 2.1-.2 2.8-6 6.3-1.9 .6-4.2-1 1.5 2.3-.4 1.8-5.6 1-.4 1.6-3.3 .4 .6 1.2-.6 2.5-3.1 1.3 1.9 1.2-2.9 1.9-.9 1.2 .7 .6-4.4 1.2-3.1-1.2-1.2-2 .6-2.5 1.5-2.6 .4-5.8 2.4-6.2 .2-3.3 1.1-4.5 .2-7.8-6.4-3.8-5-9.2-2.1-2.5 .3-1.9 1.2-1.6-.9-2.5 .9-2.3 3.2-3.9 0-3.3-1.3-2.3-1.4-.6-1 1.8-3.8-1.3-2.8-1.9-.1-1.6-2.1-2.1-5-1.3-1.8-2-1.9-.7-2.5 .6-9.3-3.8-1.8-2 .4-1.5-1-1.4-7.5-6.8-1.2-2.2-2.1-.8 .2 1.9 5 6.7 1.3 .9-3.2-1.8-.4-1.9-2.7-1.7 .3-1.7-2.1-1.1-3.1-3.7-2.6-.7-4-5.2-.6-2.1 .3-3.7-.8-2 2.1-.1-5-1.9-6.8-4.3-3.7-1.3-5.6-.9-9.3-.5-3.1 .7-1.9-.8-6.2 2.6-8 1.5 6.8-2.5-5.6-.2-4.3-2 .8-.8 4.8-.7-6.9-.1-1.8-.5M398.1 166.4l16.1-.8 37.2-.2 14.9 .6-2.5 1.7-2.5 .7 0 .7-22.3 2.6-4.3 2.9-6.2-.9-6.2-2.8-.7-1.2 3.8-.4-5-.7-1.2-.9-21.1-1.3M411.7 170.9l-2.5 .8-2.4 1.7-6.2-.5-4.4-.9-4.3 0 6.2-1.6-2.5-.5-17.4-1 1.3-.7 7.4-.4 6.2 .4 11.2 .9 1.8 1.1 5.6 .7M342.3 169.5l6.2 .4 14.9-.5-1.3-1.1-7.4-.3-13.7 .6 1.3 .9M377 166.9l12.4 .1 22.3-1.4-40.9 .4 6.2 .9M182.9 264.6l.7 4.6 2.1 6.4-.9 1.9 1.2 1.5 2.5 0 2.5-1.1 3.7-.1 3.7-1.7 6.5-.8 3.5 1.1 1.8 2.4 2.5-1.4 .4 2.3 .8-.8 2.6 3.1 3.6 .8 1.8-.9 1.7 1.2 2.1-1.3 2.5-.3 .2-1.7 3-3.8 1.1-3.5-.5-3.9-4.4-3.7-1-2.3-3.1-1.8-1.1-4.9-2-1-1.5-4-1.1 2.6 .1 3.3-1.1 2.3-1.9 0-1.8-1.7-2.6-1.2 1.3-3.5-4.7-1.1-3.6 1.7-.7 2.6-1.6 .3-2-1.4-2.6 2.9-2.9 2.1-.8 1.6-6 1.5-4 1.7M221.6 284.7l4.5 .2-.4 2.1-1.8 .4-1.5-1.2-.8-1.5M256.3 278.4l2.7 2.4 4.5 .9-.7 1.5-3.4 2.3-.7-.3 .3-1.3-1.3-.7 .9-1.2-2.3-3.6M256.3 284.5l2 1.1-2 1.9-1.8 .7-.5 1.3-1.6 .6-3.6-.5-.1-.7 5-2.1 2.6-2.3M160.4 230.3l2.7 .5 10.5 10.4-.1 3.5-1.6 .2-2.8-2.4-4.4-7.3-4.3-4.9M172.6 246l1.3-1.1 5.2 1.2 2.7 0 2.3 1.1 .1 1-10.2-1.5-1.4-.7M184.8 248.1l14.9-.2-5 2.3-8.7-1.5-1.2-.6M177.4 235.5l.7-.6 1.7 .5 7.9-6.7 2.4 2.1-1.6 1-.4 1.6 1.5 2.7-1.7 1.2-1.9 4.8-1.7 .5-1.7-1.2-3.8-.3-.2-1.8-1.1-1.4-.1-2.4M189.5 240.8l.8 3.5 1.2 .2-.1-3.4 .8-.4 1.8 2.9 1-.4-2.4-3.4 2-1.4-2.2 .3-1-1.8 .6-1.1 2.6 .5 2.7-.9-1 1.5-3.2-.1-2 .6-1.6 3.4M204.6 239l1.9-1.1 1.9 .5 1.2 3.2 3.1-2.2 8.7 2.8 1.8 2.1 2.3 .8-.9 1.8 4.2 3.7-3.1-.4-2.5-2.6-2.2-.4-1.1 1.5-2.9 .2-2.4-1.3-1.3 .3-.5-3.7-3.8-1.7-1.9 0-1-1.4 1.6-.8-3.1-1.3M200.3 234.9l1.2 1.2-.6 2.3-.8-1.6 .2-1.9M191.7 214.4l2 0 .2 1.7-1 1.6 .6 1.9 2.5 1.5-4.3-1.7-.7-2 .7-3M193.5 228.6l1.8-1 2.5-2.5 1.3 3.5-1.4 1.7-1.7-1.1-2.5-.6M193.5 222.6l1.8 1.6 1.9-.9 .6-1.6-1.8 0-2.5 .9M204.5 196.9l2-1.6 4.3-.2 1.7-1.7 3.1-1.4 .2-1.7 1.9-.8 .6 1.8-1.3 2-.2 1.8-1.2 .7-5.8 1.4-5.3-.3M215.8 189.4l4.1-.5 2.7-1.2-4.7-1.9-.5 1.7-1.6 .9 0 1M203.4 197.4l2-.1-.4 2.3-.9 .5-.7-2.7M218.3 185.2l1.8-.4-.6-2.1 1.9 0-1.6-2-.7-2.2-.8 6.7M192.2 206.4l1.3 .4-1.5 3.6-.9-1.3 1.1-2.7M176.9 213.6l1.7-1.1 1.2 .6-.8 1.3-1 .4-1.1-1.2M141.3 225.1l2.3 2.8-.2 1.4-1.3 .6-.9-1.1 .1-3.7M35.1 181.8l8.8-.9 .4-1.2-4-1.7-.6-.7 .3-1.1-4-.7-1.2 .8 .6 1 .8 .9 2.3 .3 0 .8-1.9 0 .4 .7-1.2 .4 2.2 .3-2.9 1.1M481.5 181.8l8.8-.9 .4-1.2-4-1.7-.6-.7 .3-1.1-4-.7-1.2 .8 .6 1 .8 .9 2.3 .3 0 .8-1.9 0 .4 .7-1.2 .4 2.2 .3-2.9 1.1M481.2 180.1l-.2-1.4 .8-.2-1.3-.6-2.2 0-2.1 .8-.4 1.6 2.3 .3 3.1-.5M460.7 172.3l4.3 .3 6.9-1.1-1.9-.5-9.3 0-1.9 .4 2.5 .5-.6 .4M383.3 210.4l3.6-1.4 2.5 .1 7.2 3.3-4.1 .3-1.2-1.9-3.8-.8-4.2 .4M396.3 214.4l2-1.7 3.5 .3 2 1.3-3.7 1.2-3.8-1.1M106.7 168.6l6.2-1.4 13.6-.4-11.1 .7-5 1.5-3.7-.4M55.8 166.4l19.9-.4-11.2 .8-8.7-.4M-404.2 305.3l49.6-.2 12.4-1 24.8 .5 2.5 .9 9.9-1.4 62-.5 12.4 .3 37.2 2.3-2.5 2 39.7 .2 37.2-1.3 62-.4 16.1-3.6 12.4-1.1-3.7 1.6-5 3.8 5 .6 24.8 .3 12.4-.6 6.2-1 31-1.4M42.2 305.3l49.6-.2 12.4-1 24.8 .5 2.5 .9 9.9-1.4 62-.5 12.4 .3 37.2 2.3-2.5 2 39.7 .2 37.2-1.3 62-.4 16.1-3.6 12.4-1.1-3.7 1.6-5 3.8 5 .6 24.8 .3 12.4-.6 6.2-1 31-1.4M488.6 305.3l49.6-.2 12.4-1 24.8 .5 2.5 .9 9.9-1.4 62-.5 12.4 .3 37.2 2.3-2.5 2 39.7 .2 37.2-1.3 62-.4 16.1-3.6 12.4-1.1-3.7 1.6-5 3.8 5 .6 24.8 .3 12.4-.6 6.2-1 31-1.4M333.6 168.6l6.2 0 3.7-.9-4.9-.2-5 .6 0 .5M343.5 167.5l14.9-.1 1.2-.5-19.8 .2 3.7 .4M374.5 167.5l14.9 0 0-.6-12.4 0-2.5 .6M363.4 168.4l7.4 .2 3.7-.5-9.9-.3-1.2 .6M380.7 172.5l7.5 .3 1.2-.8-6.2-.8-2.5 .5 0 .8M364.6 169.9l5 .2 1.2-.6-5-.1-1.2 .5M368.3 166.5l11.2-.1 1.2-.6-9.9 0-2.5 .7M98 166l21.1-.3-21.1 .3M157.5 166.4l13.7-.3-14.9-.1 1.2 .4M210.8 167.7l17.4-.3-11.2-.3-6.2 .6M264.2 168.8l3.7-.1-4.4-.1 .7 .2"/>
<path fill="none" stroke="#000" stroke-width="0.9" d="M79.4 165.0V309.6M116.6 165.0V309.6M153.8 165.0V309.6M191.0 165.0V309.6M228.2 165.0V309.6M265.4 165.0V309.6M302.6 165.0V309.6M339.8 165.0V309.6M377.0 165.0V309.6M414.2 165.0V309.6M451.4 165.0V309.6M42.2 174.6H488.6M42.2 201.2H488.6M42.2 237.4H488.6M42.2 273.6H488.6M42.2 300.2H488.6"/>
<rect x="42.2" y="165.0" width="446.4" height="2.6" fill="#101828" fill-opacity="0.55"/>
<rect x="42.2" y="305.6" width="446.4" height="4.0" fill="#101828" fill-opacity="0.5"/>
</g>
<rect x="42.2" y="165.0" width="446.40000000000003" height="144.60000000000002" fill="none" stroke="#000" stroke-width="1"/>
<path fill="none" stroke="#000" stroke-width="0.8" d="M37.2 308.8h5.0M39.7 305.5h2.5M37.2 300.2h5.0M39.7 292.9h2.5M37.2 284.0h5.0M39.7 273.6h2.5M37.2 262.2h5.0M39.7 250.0h2.5M37.2 237.4h5.0M39.7 224.8h2.5M37.2 212.6h5.0M39.7 201.2h2.5M37.2 190.8h5.0M39.7 181.9h2.5M37.2 174.6h5.0M39.7 169.3h2.5M37.2 166.0h5.0M42.2 309.6v5.0M54.6 309.6v2.5M67.0 309.6v2.5M79.4 309.6v5.0M91.8 309.6v2.5M104.2 309.6v2.5M116.6 309.6v5.0M129.0 309.6v2.5M141.4 309.6v2.5M153.8 309.6v5.0M166.2 309.6v2.5M178.6 309.6v2.5M191.0 309.6v5.0M203.4 309.6v2.5M215.8 309.6v2.5M228.2 309.6v5.0M240.6 309.6v2.5M253.0 309.6v2.5M265.4 309.6v5.0M277.8 309.6v2.5M290.2 309.6v2.5M302.6 309.6v5.0M315.0 309.6v2.5M327.4 309.6v2.5M339.8 309.6v5.0M352.2 309.6v2.5M364.6 309.6v2.5M377.0 309.6v5.0M389.4 309.6v2.5M401.8 309.6v2.5M414.2 309.6v5.0M426.6 309.6v2.5M439.0 309.6v2.5M451.4 309.6v5.0M463.8 309.6v2.5M476.2 309.6v2.5M488.6 309.6v5.0"/>
<text x="34.9" y="311.5" class="t7" text-anchor="end">-80</text>
<text x="34.9" y="302.9" class="t7" text-anchor="end">-60</text>
<text x="34.9" y="286.7" class="t7" text-anchor="end">-40</text>
<text x="34.9" y="264.9" class="t7" text-anchor="end">-20</text>
<text x="34.9" y="240.1" class="t7" text-anchor="end">0</text>
<text x="34.9" y="215.3" class="t7" text-anchor="end">20</text>
<text x="34.9" y="193.5" class="t7" text-anchor="end">40</text>
<text x="34.9" y="177.3" class="t7" text-anchor="end">60</text>
<text x="34.9" y="168.7" class="t7" text-anchor="end">80</text>
<text transform="translate(23.3,187.1) rotate(-90)" class="tl" text-anchor="middle">Latitude</text>
<text x="4.2" y="307.6" class="t12">(b)</text>
<text x="42.2" y="321.9" class="t6" text-anchor="middle">0</text>
<text x="79.4" y="321.9" class="t6" text-anchor="middle">30</text>
<text x="116.6" y="321.9" class="t6" text-anchor="middle">60</text>
<text x="153.8" y="321.9" class="t6" text-anchor="middle">90</text>
<text x="191.0" y="321.9" class="t6" text-anchor="middle">120</text>
<text x="228.2" y="321.9" class="t6" text-anchor="middle">150</text>
<text x="265.4" y="321.9" class="t6" text-anchor="middle">180</text>
<text x="302.6" y="321.9" class="t6" text-anchor="middle">210</text>
<text x="339.8" y="321.9" class="t6" text-anchor="middle">240</text>
<text x="377.0" y="321.9" class="t6" text-anchor="middle">270</text>
<text x="414.2" y="321.9" class="t6" text-anchor="middle">300</text>
<text x="451.4" y="321.9" class="t6" text-anchor="middle">330</text>
<text x="488.6" y="321.9" class="t6" text-anchor="middle">360</text>
<text x="436.3" y="331.0" class="t8">Longitude E</text>
<clipPath id="cc"><rect x="43.4" y="362.5" width="446.1" height="144.8"/></clipPath>
<g clip-path="url(#cc)">
<rect x="43.4" y="362.5" width="446.1" height="144.8" fill="#313695"/>
<path fill="#4575b4" d="M42.4 361.5l447 0 0 145.5-447 0 0-145.5zM127.9 403.4l-4.1 1.6-.6 1.5 3.2 .8 6.2-.8-4.7-1.5 1.8-1.5-1.8-.1zM133.9 404.6l-.4 .4 .4 .3 1.5 .2 3.4-.5-1.9-.7-3 .3zM141.4 362.9l-.4 .1 7.9 .5 3.2-.5-10.7-.1z"/>
<path fill="#6b9ecc" d="M42.4 361.5l447 0 0 145.5-447 0 0-145.5zM139.9 362.2l-1.3 .8 11.8 1 3.2-1-3.2-.7-10.5-.1zM208.9 505.5l2.5 0-2.5 0zM351.4 505.5l4 0-4 0zM142.9 397.1l-1.2 .4 .2 1.5-3.5 1.6-9 .7-11.3 3.7 .8 1.5 1.8 1.5 4.9 1.5 8.3 .2 4.5-.8 1.9-.9 1-1.5 5.7-1.5 .2-1.5 3.5-1.5 .6-1.5-2.4-1.5-.7-1.5-2.3-.6-3 .2z"/>
<path fill="#93c5df" d="M42.4 361.5l93.1 0 1.4 1.6 1.5 .6 10.3 .8-2.9 1.5 4.6 1.1 2.1-1.1-1.4-1.5 3.9-1.5-3.1-1-10.8-.5 348.3 0 0 145.5-447 0 0-145.5zM49.9 444l3 1.1 4.4-1.1-1.4-1.2-6 1.2zM57.4 386.9l3 1.1 3.9-1-.9-1.1-4.5 .4-1.5 .6zM67.9 384l-.4 0 1.6 0-1.2 0zM70.9 389.9l3.6 .1-3.6-.1zM90.4 502.5l.4 0-.4 0zM105.4 433.4l-1.5 .4-.4 1.2 1.9 .5 1.8-.5-1-1.5-.8-.1zM126.4 364.2l-1.1 .3 2.6 .4 4-.4-5.5-.3zM138.4 395.9l-3.1 1.6 .7 1.5-2.1 .5-4.5-.9-5.7 3.4-9.9 3 3.8 3 5.8 2.2 4.5 .4 10.5-.3 2.9-.8 4.3-3 9.5-3-.2-1.5 1.9-3-9.4-3.2-6-.6-3 .7zM144.4 369l4.6 0-1.6-.4-3 .4zM162.4 367.5l2.9 0-2.9 0zM166.9 502.2l-1.1 .3 4.4 0-3.3-.3zM174.4 370.3l-.4 .2 2.3 0-1.9-.2zM175.9 367.3l-.5 .2 3.5 .7 5.2-.7-5.2-.6-3 .4zM207.4 505.1l-1.2 .4 7.4 0-3.2-.7-3 .3zM252.4 367.4l-1.5 .1 8.6 0-7.1-.1zM259.9 409.5l1.5 1 3-.9 3 2.2 2.5-.8 1.8-1.5-2.8-.5-9 .5zM345.4 404.8l1.5 1.6 6 2.5 3-.1 1.6-.8-1.8-1.5-1.3-2.4-7.5 .1-1.5 .6zM352.9 401.9l1.5 1.3 1.5 .1 2-1.3-5-.1zM444.4 366l1.5 .6 7.5 .9 1.2 1.5 1.8 .4 6.2-.4-5.1-3-10.1-.6-3 .6zM57.4 499.5l-4.1 1.5 15.3 0-11.2-1.5zM105.4 502.4l1.6 .1-1.6-.1zM258.4 411.6l-1 .9 2.5 1.2 4.2-1.2-2.7-1.3-3 .4zM349.9 505.2l-1.2 .3 5.7 .6 3.1-.6-7.6-.3zM451.9 404.9l-1 1.6-2.3 1.5 1.8 1.4 6 .3 1.5-.4 1.4-1.3-.5-3-.9-.4-3-.5-3 .8z"/>
<path fill="#bfe1ee" d="M42.4 361.5l91.6 0 .7 1.5-.8 .6-7.5-.1-3.2 1 4.7 1 16.4-1-2.7 1.5 3.9 1.5-7.5 1.5 4.9 .6 7.5-.1 6-2.4 6 1.4 9 .3 .5 .2-1 1.5 2 .8 3 .2 5.6-1 .1-1.5 5.6-1.5-9.1-1.5-.2-1.5-2-.3-3.4 .3 .4 1 2.8 .5-1.3 .1-3-.5-15 .3-2.7-1.4 3-1.5-.3-1-1.5-.4-11.3-.1 51.4 0 3.4 .5 2-.5 53.5 0 7.5 .4 5.8-.4 49.5 0 1.7 .7 1.5-.7 45.1 0 2.9 .6 3.9-.6 63.2 0 1.9 .6 7.8-.6 44.7 0 0 7-3.3 .5 3.3 1 0 26.5-1.5-1-2.1 .5 .5 1.5 3.1 .6 0 85.9-1.5-.9-1.5-.1-2.3 1.5 1.4 1.5 .9 .2 2.1-.2 .9-.7 0 18.3-3.9 .4 3.9 .2 0 2.8-36.7 0-3.8-.5-8.5 .5-49.2 0 1.4-1.5-2.2-.1-9 1.6-69-.4-50.2 .4-9.8-.5-2.5 .5-115.9 0-7.6-.6-8 .6-41.7 0-.6-1.5-9.7-.2-3.1 .2 6.1 .4 .9 1.1-27.9 0 0-2.7 13-.3-8.5-1.1-4.5 .5 0-132.7 10.5 .3 9.6-2-20.1-.6 0-6.9zM63.4 382.4l-4.5 1.7-6 .6-1.2 .8 1.3 1.5 4.4 2.4 4.6 2.1 5.9 1.6 3-.3 7.6-2.8-1.6-1.9-2.7-1.1-.1-1.5-1.7-2.2-3-.8-6-.1zM79.9 398.2l-.6 .8 3.2 0-2.6-.8zM85.9 502l-.6 .5 5.1 .5 5.3-.5-5.3-1-4.5 .5zM88.9 401.7l-.4 .3 1.9 .7 2.8-.7-4.3-.3zM91.9 363l6 .5 .7-.5-6.7 0zM99.4 364.1l-.3 .4 6.3 .5 4-.5-10-.4zM138.4 394l-4.5 2.1-8 1.4-6.5 4.5-2 .8-9.7 .7 6.9 4.5 4 1.5 1.8 1.3 4.5 1.3 4.5 .3 4.5-.7 6 .2 5.8-2.4 1.4-1.5 2.5-1.5 5.4-1.5 2.6-1.5 .2-3 1.3-1.5-.3-1.5-5.4-.9-6-2-6-.8-3 .2zM160.9 499.3l-1.3 .2 5.3 1.5-1 .3-1.1 1.2 2.6 .6 7.8-.6 3-1.5-10.8-.4-.5-1.1-4-.2zM171.4 494.9l-.8 .1 2 0-1.2-.1zM190.9 502.4l6 .5 5.2-.4-5.2-.9-6 .8zM192.4 392.7l-.8 .3 .3 1.5 3.6 0-.3-1.5-2.8-.3zM199.9 481.1l-1.1 .4 7.1 2.5 1.5 0 2.3-1-2.6-1.5-7.2-.4zM211.9 370.3l-1.2 .2 3 0-1.8-.2zM214.9 488.8l-1.1 .2 4.1 .4 2-.4-2-.5-3 .3zM222.4 371.9l-.4 .1 1 0-.6-.1zM223.9 503.6l-1.2 .4 4.6 0-3.4-.4zM229.9 366l-1.1 0 10.1 .4 3.6-.4-12.6 0zM247.9 367.5l9 .9 4.5 1 4.3-.4-1.6-1.5-1.2-.1-15 .1zM277.9 379.1l-1.4 .4 4.4 .9 5.2-.9-8.2-.4zM288.4 382.2l-.3 .3 1.8 .3 2.5-.3-2.5-.6-1.5 .3zM322.9 470.9l-.5 .1 5 .9 1.3-.9-5.8-.1zM337.9 364.5l3 .4 4.9-.4-4.9-.6-3 .6zM351.4 400.5l-3 1.1-9 .2-1.5 1.6-.5 1.6 2 1.7 10.5 2.8-1.6 1.5 1.6 .5 6 .7 3-.7 .5-.5-1.1-1.5 1.8-1.5-.9-1.5 3.7-4.5-1-.7-3-.8-7.5 0zM361.9 397.2l-.7 .3 2.2 .7 4.3-.7-2.8-.7-3 .4zM391.9 443.7l-5.4 1.8 2.4 2.5 3-.1 2-.9 .1-1.5-2.1-1.8zM415.9 505.2l-.2 .3 3.2 .4 5.1-.4-5.1-.6-3 .3zM430.9 364.3l-.6 .2 2.1 1.1 1.5 .1 2.7-1.2-1.2-.5-4.5 .3zM436.9 503.5l-1.2 .5 7.2 0-3-.6-3 .1zM442.9 365.4l-1.5 .6 2.6 1.5 6.4 .9 4.5 1.7 4.5 0 7.5-1.1-4.1-1.5-.9-1.5-14.5-1.4-4.5 .8zM462.4 363l9.8 0-6.8-.7-3 .7zM43.9 394.3l-.6 .2 1.8 0-1.2-.2zM45.4 380.8l-1.4 .2 1.4 .9 1.5 .2 1.9-1.1-3.4-.2zM55.9 437.3l-3.9 2.2 .4 1.5-4 1.8-1.1 1.2 1.2 1.5 2.9 1.1 4.5 .1 6.3-2.7 1.7-1.5-2.9-1.5-.2-1.5-1.1-1.5-3.8-.7zM91.9 407.8l-.9 1.7-4.1 1.5 2 1.4 4.5 .9 5.6-.8 2.6-1.5-5.9-1.5-.4-1.5-3.4-.2zM91.9 386.8l-.8 .2 3.6 0-2.8-.2zM102.4 431.8l-2.4 1.7 2.3 4.5-1.1 1.5 1.8 1.5-.3 3 2.7 .3 .7-.3-1-3 2.7-1.5 .9-1.5-.4-1.5 2.6-1.5-.3-1.5-6.7-2.1-1.5 .4zM103.9 424l-1.4 .5 1.9 1.5 .8 1.5-.3 1.5 2.9 0-.1-1.5 2-1.5 .2-1.5-3-.8-3 .3zM120.4 419.3l-.8 .7 2.3 .4 1.5-.4-1.5-.8-1.5 .1zM127.9 413l-1.1 1 5.2 0-2.6-1.2-1.5 .2zM141.4 495.6l-1.2 .9 2.8 1.5 .6 1.5 4.2 0-1.2-1.5 .4-1.5-2.6-1.1-3 .2zM142.9 417.6l-.7 .9 .7 .4 1.6-.4-1.6-.9zM204.4 505.4l6 .6 4.8-.5-1.8-.8-4.5-.4-4.5 1.1zM229.9 441.7l-1.4 .8 1.4 1.5-2.1 1.5 2.4 0 5.5-1.5-5.8-2.3zM249.4 503.8l-1.1 .2 6.3 0-5.2-.2zM252.4 404.5l-1.1 2 1.4 1.5-3.2 3 3.2 3 .1 1.5 1.1 .3 7.5-.1 7.5-2.3 6-3.9 .3-1.5-3.3-.9-3-1.7-6 .9-4.5-2.1-4.5-.2-1.5 .5zM279.4 406.4l1.5 .6 2.6-.5-2.6-.4-1.5 .3zM340.9 374.6l-1.2 .4 2.7 .6 2.8-.6-1.3-.7-3 .3zM340.9 486.5l-.7 1 .7 .3 3.1-.3-1.6-.9-1.5-.1zM348.4 481.3l-5.8 1.7 0 1.5 8.8 .6 2.4-.6-2.4-2.2-3-1zM387.4 449.7l-.8 .3 2.3 2.1 .3 2.4 2.7 .9 4.1-.9-.5-3-5.1-2.1-3 .3zM447.4 379.3l-6.2 1.7 1.7 .9 4.5 0 4.5 .8 3-.2 2.2-1.5-5.2-2.2-4.5 .5zM465.4 366l4.5 .4 5.1-.4-9.6 0zM43.9 401.6l-1 .4 .1 1.5 5.4 1.4 1.5-.9 .1-.5-1.6-1.8-1.5-.4-3 .3zM49.9 491.1l-.7 2.4 .7 .2 .9-.2-.2-1.5-.7-.9zM61.9 488.2l-1.3 .8 2.8 .4 2.7-.4-2.7-1.1-1.5 .3zM88.9 428.3l-1.1 .7 1.1 .7 4.7-.7-1.7-.6-3-.1zM97.9 422.8l-.7 .2 .7 .6 1.5 .1 1.2-.7-2.7-.2zM100.9 502.4l-.5 .1 6.5 1.2 1.5-.1 1.5-1.1-3-1-6 .9zM105.4 499.3l-1.2 .2 2.7 .4 2.3-.4-3.8-.2zM253.9 454.3l-.7 .2 2.2 .4 .7-.4-2.2-.2zM258.4 500.2l-.8 .8 3.6 0-1.3-.8-1.5 0zM274.9 416.7l-4.1 1.8 1.4 1.5 1.2 .3 6 .9 1.5-.8-.2-1.9-1.9-1.5-3.9-.3zM280.9 414l-.8 1.5 .8 .9 3 1 3 0 2.8-1.9-1.5-1.5-2.8-.6-3 0-1.5 .6zM346.9 505l-.7 .5 8.2 1.1 4.8-1.1-6.3-.8-6 .3zM441.4 488.8l-.8 .2 2.4 0-1.6-.2zM451.9 401.8l-.8 .2-2.8 4.5-1.9 1.5 1.3 1.5 2.7 1.3 4.5 .1 6.9-1.4 .5-1.5-.5-1.5 1.1-1.5-2.4-1.5 1.9-1.5-4.5-.7-6 .5zM453.4 394.3l-.8 .2-.6 1.5 1.6 1.5 2.8 .5 2-.5-.5-1.5-2.8-1.5-1.7-.2zM472.9 369.9l0 1.1 1.5 .4 1.8-.9-1.8-.9-1.5 .3zM49.9 499.5l-5.1 1.5 2.1 .9 32.2-.9-11.2-.8-6-1.3-12 .6zM253.9 457.3l-.7 .2 1.8 0-1.1-.2zM451.9 412.4l.7 .1-.7-.1zM456.4 413.8l-1.5 .6-1.5 2.1-1.6 .5 10.1 1.5 7.6 0-5.1-3-8-1.7zM463.9 502.3l-4.5 1.3-7.6 .4 12.1 1 8.7-2.5-8.7-.2zM465.4 453l.5 0-.5 0zM468.4 485.6l-.7 .4 .2 1.5-1.9 3 3.9 0 4.5-2.1 4.9-.9-.7-1.5-2.7-.8-4.5-.2-3 .6zM254.5 408l2.9 0-2.9 0z"/>
<path fill="#e3f3f6" d="M43.1 361.5l73 0 1 1.5 3.3 .5 1.5 1.4 4.1 1.1-1.3 1.5 1.7 .5 6 .4 6 1.7 12 .1 6 1.3 4.5-1.7 6 .1 6 2.5 13.5 3 7.5 .9 3-1.3-11.2-4.5 .5-1.5 3.8-1.5-8.6-1.5-2.5-2.3-6 .1-9 1.6-6 0-2.5-.9 2.5-1.1 4.5-.6 2.5-1.3 14.8 0 4.2 1.5 4 .3 19.9-.3-4.6-1.5 6.6 0 2.1 .6 11.5-.6 25.1 0 12.9 .8 7.5-.2 2.9-.6 42.3 0 1.4 1.5 4.4 .3 4.4-.3-2.4-1.5 40.6 0 2.4 1.3 3 .5 6.6-1.8 55.5 0 2.9 1.5-5.3 1.5 1.1 1.5 3.7 .8 6-.1 4.5 1.8 4.9 .5-.2 1.5 3.6 1.5-2.5 1.5 .1 1.5 5.8 1.5-7.2 1.5-7.5 .8-2.1 .7-1.4 1.5 2 1.7 9 2.4 .4 .4-1.6 1.5 2 1.5 .8 1.5 2.9 .8 4.5-.8 1.2-1.5-2.6-1.5-1.6-1.8-2.9-1.2 10.4-1.2 3-2.7 1.8-.6-1.5-1.5-5.7-1.5 .2-1.5 2.3-3-.2-1.5 7.6-.4 1.1 .4 .4 2.2 1.5 .6 3 0 3.6-1.3 1.9-3-12.8-1.5 11.3-1.5-1-.1-16.5-.5-9.4-.9-1.1-.8-1.5-.2-7.5 .8-1.5-.5-.7-.8 2.2-.6 6-.3 1-.6 14.7 0-3.7 1.2-6.6 .3 11.1 .6 12-.5 6-1.3 7.5 .1 0 6-7.3 1.1 4.3 1 3 1.4 0 8.5-6.1 2.6 3.1 2.8 3 .8 0 6.1-4.5 1.4-1.4 .9-1.6 2.7-3.4 1.8 0 1.5 3.6 1.5 1.4 1.5-1.8 1.5 .2 .6 1.5 .4 6-1.1 0 3.7-6 .9-7 0 1 1.6 12 .3 0 23.6-.5 0 .5 0 0 40.1-1.5 .3-2.4 1.6-2.5 4.5-1.1 .7-6 .1-3 1.1-6 1.1-3.7 3-.8 1.7-12 0-.6-.2 1.6-1.5-10-1.1-3.6 1.1-1.6 1.5 1.5 1.5 3.7 1.3 6 .2 13.5 2.1 7.5-1.5 9-.4 4.5 .9 6 0 1.3 .4 .2 9.3-6 .5-1 .7 7 .6 0 2.4-34.3 0 4.3-1.1 6 .6 1.5-.2 4.5-2.5 8.9-1.3-14.9-1.1-1.8-.4-.3-1.5-2.4-.3-7.7 .3-5.8 1.5 9 .4 3.8 1.1-3.8 .9-10.5 .1-6-1.1-4.5 .4-1.4 1.2 2.9 .6 10.5-.3 4.6 1.2-18 1.5-39.8 0 2.2-.8 7.5-.5 16.5 .8 4.5-.3 1.8-.7-13.8-3-9 2.4-13.5 0-14.7 2.1-19.1 0 2.3-.4 2.2-1.1-17.2-2-3.6 .5 .6 1.5 1.5 .4 11.9 1.1-13 0-.4-1.5-5 1.5-13.2 0 1.7-.7 7.5 .3 1.5-1.1-3-.6-26.9 2.1-21.1-.4-17.8 .4-1.7-.7-12-.4-3.4 1.1-111 0-4.1-.8-6-.2-7.5 .3-3.2 .7-37.4 0 2.7-1.5-4.1-.7-12-.2-3 .3-1.1 .6 6.1 1.5-24.5 0 0-2.4 13.5-.1 2.3-.5-6.7-1.5 5.9-.5 15-.2 6 1 12 .7 7.5-.7 7.5 1.6 4.5 .2 1.2-.6 1.2-1.5 0-1.5 2.1-.4 1.1-1.1-8.6-2-10.5 1.8-12-1.9-5.1 .6 6.7 1.5-6.1 .7-10.8-.7-1.9-1.5-2.3-.7-4.6 .7-14.9 .4-1.5 .4-1.5 1.3 0-4.3 3 1.4 18-1.6 1.4-.6 1.4-3 1.7 .5 1.5 1.2 2.6-.2-1.6-3 4.2-1.5 3.8-.5 .9-1-2.4-1.4-3-.5-6 1.1-6-.6-8.3-.1-.7 .1-1.5 2.5-1.5 .3-4.5-.3-3-1 2.1-1.6 .7-1.5-2.3-3 .7-1.5-1.2-.4 0-68.1 1.4 1-.7 1.5 9.5 1.5-1.4-1.5-5.5-3-.7-1.5-2.6-.9 0-3.7 4.5 1.4 4.5 .5 10.5-1.1 1-.7-1-1.9-7.5 .5-3-1.4-1.5-2-4.9-1.2 1.9-2 2.2-1-.1-1.5-1.6-1.5-.5-1.2-4.5 .3 0-6.6 4.5-.1 2.2 1.6-5.6 1.5-.8 1.5 1.2 .7 7.5 1.2 3 1.2 4.5 .5 3 1.3 7.5-.2 6 .8 1 .5-.6 1.5-2.9 1.5 .1 1.5 8.4 .6 3.3 .9 1.2 1.5-1.4 1.5 1.4 1.5-1.5 .8-3-.7-4.5-2.2-3.7 .6 2 1.5 4.7 2 6-.2 1.5 .6 .5 .6-8.7 1.5 1.5 1.5 .3 1.5 8.1 1.5 1.8 1.5 .1 1.5-4.6 4.5-.1 3-2.6 1.5 .6 1.5-2.2 3-7.5 3 .8 .5 3 .2 15-2 3 .1 1.9 1.2 1.5 3-.9 1.5 1.4 3-.2 1.5 1.2 1.5 2.6 .6 1.5 0 4.1-2.1-.4-1.5 .8-1.6 5.9-1.4-2.5-3 5.6-1.7 1.5-2.8-3-1.2-1.5 .1-3 1.4-2.7-.3-1.5-1.5 2.7-1.3 0-1.8 4.5-2.5 6-.3 4.5 .7 6-1.6 10.5-1 3 .4 4.6-1.6 2.4-1.5-5.1-3-.4-1.5-1.5-1.8 .1-2.7 7.6-1.5 .6-1.5-1.3-1.5 5-1.5 1.5-1.5 .3-3 2-1.5 .9-1.5-.8-1.5 8.1-2 1.6-1-1.6-1.6-6-.3-1.8 .4-1.2 1.7-1.5 .9-4.5 1.1-6-1.9-10.5-.5-1.5 .3-3 1.9-6 .8-7.5 2.3-4.5 .4-3 1.5-6 1.8-9-.2-10.5-2.2-8.3-4.9-4.8-1.5 10.1-4.5 4.5-.5 6 .5 3-.7 1.1-.8-1.3-1.5-.7-3-.8 0-.7 1.5-3.6 .5-5.8-.5 2.5-1.5-1.2-.6-7.5 2.4-3.8-.3-.6-1.5 3.4-1.5 .6-1.5 4.7-1.5-2.8-.6-4.5 .3-3 1.4-7.5 1.7-7.5-1.1-6 .3-10.5-.5 0-7.9 7.5 .3 15-1.2 1.5-.2 .8-1.5-5.3-.7-19.5-.5 0-6.1 .7-.2zM48.4 365.7l-.9 .3 .9 .5 3.2-.5-3.2-.3zM78.4 362.9l-.6 .1 1.1 1.5 1 .2 13.5-.4 15 1.9 3-.2 .7-1.5-9.7-1.1-3-1.3-3-.4-6 0-4.5 1.1-7.5 .1zM118.9 387.3l-1.1 1.2 2.6 .5 2.5-.5-2.5-1.4-1.5 .2zM121.9 379.4l-.5 .1 1.4 0-.9-.1zM130.9 382.1l-.9 .4 2.4 .8 4-.8-2.5-.8-3 .4zM189.4 390l-4.5 1.5-.6 1.5-7.2 3-2.7 2.4-3-.1-.7 .7 2.2 1.5 7.5 .3 6-1.3 0-2.1 10.4-1.4 3.1-1.9 1.5-.3 3 0 4.5 1.5 7.5-.4 6 1.4 9-1.5 2.1-1.8-2.1-1.6-6-.5-1.5-.9-4.5-1.2-.5 1.2 3.5 .9 4.9 2.1-3.4 .6-4.5-.2-1.3-.4-3.2-3-1.5-.4-3.7 .4 3.8 1.5-3.1 .9-4.5 .4-16.5-2.8zM223.9 365.5l-2 2-2.5 .8-10.5 .1-4 .6 .9 1.5 1.6 .7 3 .6 6-.1 .9 .3 .6 1.5 1.5 .1 8.5-1.6-.8-1.5 4.9-3 2.4-.5 9 .3 12 1.4 7.5 1.5 4.5-.4 3-2.5 13.5 .9 1.5-.7-13.5 0-.6-1.5-2.4-.7-3 1.4-4.5 .3-15-.2-3-1.4-3-.4-16.5 .5zM301.9 404.5l-1.3 .5 2.8 1.2 3-1.2-1.5-.6-3 .1zM306.4 485.7l-.6 .3 .6 .7 1.5 0 1.1-.7-1.1-.5-1.5 .2zM309.4 365.9l3.5 .1-3.5-.1zM336.4 364.3l1.5 .8 3 .2 9.4-.8-9.4-1.3-4.5 1.1zM351.4 367.5l4.5 .5 3.1-.5-7.6 0zM367.9 374.9l-.7 .1-1 1.5 4.7 .6 3.2-.6-.7-1.5-1-.5-4.5 .4zM372.4 368.9l-.8 .1 6.8 .8 3.3-.8-3.3-.5-6 .4zM382.9 377.9l-1.2 .1 1.6 0-.4-.1zM387.4 361.8l-.7 1.2 .2 1.5 .5 .1 15 .3 4.1-.4-2.6-.5-7.5 .2-4.5-1.9-4.5-.5zM421.9 465.7l-1.2 .8 1.2 .4 2.5-.4-1-.8-1.5 0zM426.4 479.8l-.6 .2 .6 1.1 1.5 .2 1.1-1.3-2.6-.2zM427.9 463.3l-.8 .2 1.3 0-.5-.2zM435.4 469.2l-.2 .3 1.3 0-1.1-.3zM439.9 471l-1.3 1.5 8.8 1.5 7.1-1.5-8.6-2.4-3-.1-3 1zM451.9 392.5l-2.4 2-.5 1.5 .6 1.5 3.5 1.5-5.7 3 .3 1.5-.5 1.5-3 3 2.7 3-.3 3 1.1 3 3.3 1.5-1.8 1.5 1.2 1 6-1.3 16.5 .1 3.8-1.3-8.3-3.2-9.4-2.8 3.3-1.5 6.1 0 3.6-1.5-4.5-1.5-1.9-1.5 5.1-1.5-2.9-1.5-2.4-2.7-3-.7-1.2-1.1 1.2-1.8 6-.8 .4-.4-1.4-1.5 2.2-1.5-1.2-1.1-1.5-.4-1.5 .7-1.5 1.6-3 .5-4.5-1.7-4.5-.1zM465.4 389.8l-1.4 .2 2.9 .9 .1-.9-1.6-.2zM487.9 364.5l-.4 0 1 0-.6 0zM478.9 422.9l-1.5 .3-1.3 1.3 2.8 .7 2.1-.7-.6-1.1-1.5-.5zM54.4 432.9l-3 1.2-7.7 .9 4.7 .4 1.5 .7 1.6 1.9-2.8 1.5-.9 1.5-3.3 1.5 .4 1.5 2 2.4 4.5 1.7 6 .2 1.5-.4 2.8-2.4 3.6-1.5 1.9-1.5-1.5-1.5 .4-1.5-1.2-1.2-4.6-1.8 .4-3-3.3-1.1-3 .5zM58.9 410.4l-.7 .6 1.1 0-.4-.6zM67.9 438l3 .3 2-.3-2-.9-3 .9zM90.4 485.4l-1.7 2.1-2.1 1.5-3.7 1.4-3 .3-1.3 1.3 2.8 .9 9.3-.9 1.2-.8 9 2.3 1.8 0-1.7-3-.1-1.5-10.5-3.6zM105.4 478.1l-1.3 .4 2.8 1.4 1.5 .1 1.7-1.5-4.7-.4zM114.4 484.4l-1.4 1.6 3.2 1.5-1.1 1.5 1.4 1.5 2.4 .1 1.7-1.6 .3-1.5-3.5-1.2-1-1.8-2-.1zM121.9 502.1l-1.3 .4 4.3 .9 3-.9-3-.6-3 .2zM157.9 489.5l-3 1.6-6 .3-10.5 1.5-3 3.3-.9 .3 5 3 1.9 .5 4.5 .6 12-.1 1.6 .5 .3 1.5 4.1 1.1 4.5 0 7.5-1 4.6-1.6-15.1-2.6-12.2-.4 13.7-1.2 7.5 .5 3.3-.8 1.1-1.5 3.8-1.5-.7-.7-3-.5-10.5 1-6 2.4-7.5 0-4.5-.7 9.4-3 3-1.5-3.4-1.2-1.5 .2zM102.4 367.3l-1.4 .2 4.3 0-2.9-.2zM190.9 493.4l-.8 .1-1 1.5 1.9 1.5-2.1 1.5 7.2 1.5-4.1 1.5-5.6 .7-.4 .8 4.9 1 12 .3 .8 .2-2.2 1.5 8.9 .8 6.4-.8-1.9-1.2-1.9-.3 1.9-1.4 1.5 0 6 2.1 7.7-.7-6.2-1.9-4.5-.2-4.5 .5-3-2-7.5-.3-1.8-.6 2.6-1.5-1.1-1.5 .9-1.5-.6-.4-1.5-.3-3 1-3 .1-2.7-1.9-3.3-.1zM196.9 478.4l-3.9 3.1 .9 1.2 14.4 3.3 .6 1.5-3 1.1-4.5-.2-1.5 .8 1.5 .6 4.5-.6 3 .2 12.8 2.6-4 1.5 1.7 1.2 4.5-.3 2.7-.9-2.2-1.5 1.6-1.5-.6-.3-1.5-2.8-4.5-1.4-6 .9-3.7-.9 2.2-2 10.5-2.5 .5-1.5-3.5-1.6-10.5 2-3.6-.4-3.9-1.7-4.5 .1zM199.9 438l-2.1 1.5 2.1 .6 2.7-.6-1.2-1.1-1.5-.4zM205.9 470.9l2.2 .1-2.2-.1zM223.9 439.4l-1.6 1.6 3 3-2.1 1.5 2.5 1.5 1.2 1.5 2.9 0 .2-1.5 7.4-.7 4.5-1.2 .9-1.1-2.4-1.4-7.2-1.6-1.8-2.4-3-.2-4.5 1zM262.9 374.7l-.9 .3 3.9 .5 2.1-.5-5.1-.3zM271.9 370.3l-.7 .2 4.8 0-4.1-.2zM276.4 375l-6 4.3-7.5-.9-3 1.6-3 .1-2.3-.6 1.9-1.5-2.2-1.5-1.9-.2-3 2.6-7.5 .1-1.2 .5-.9 1.5 .6 .8 7.5 3.3 1.5-.5 3-2.4 6 .9 6-.3 12 .6 7.5 2.4 4.5-1.4 4.5-.6 3-1.3-1.2-1.5-.3-1.5-9.6-1.5-8.4-3zM339.4 373.5l-1.5 .4-1.2 1.1 1.9 3 .2 1.5-.9 1.3-4.5-.4-1.5-1-3-.6-7.5 .9-2.4 1.3 2.4 1 3 .3 15-1.2 1.5 .3 2.6 2.6 4.9 .1 1.5-1.8 6.3-1.3 .8-1.5-2.3-1.5-.4-1.5 1.6-1.1 7.1-.4-2.6-.7-1.5-1.9-1.5-.4-18 1.5zM376.9 379.2l-3.5 1.8 .5 1.5 4.5 1.5 3.8 0-1.5-3 .3-1.5-1.1-.6-3 .3zM399.4 379.1l-1.5 .5-.3 1.4 .7 1.5 1.1 .5 4.5 .1 2.7-.6-.8-1.5-6.4-1.9zM427.9 485.9l-5.4 3.1 .9 .7 3-.1 1.8-2.1 5-1.5-2.3-.8-3 .7zM448.9 422.3l-1.2 2.2 2.7 2.3 1.5 .2 4-1-.3-1.5 1.2-1.5-4.9-1.2-3 .5zM459.4 425.9l-.5 .1 2.1 1.5 1.4 .2 1.8-.2 .7-1.5-2.5-.8-3 .7zM474.4 470.9l1.3 1.6 1.7 .3 3.2-1.8-1.7-.7-4.5 .6zM477.4 440.8l-1.3 1.7 2.8 .5 8.3-2-5.3-.8-4.5 .6zM48.4 478.3l-1.4 .2-2.5 1.5 3.9 .4 1.2-.4 1.2-1.5-2.4-.2zM109.9 494.9l-.7 .1 2.7 0-2-.1zM190.9 505.5l.7 0-.7 0zM219.4 497.7l-3.9 1.8 3.9 .8 6-.8-4.5-1.9-1.5 .1zM228.4 500.1l-1.1 .9 2.6 .4 8.2-.4-9.7-.9zM232.9 488.8l-1.5 1.2-1.7 .5 9.2 .3 1.5 .4 3 2 5.3-1.2-11.3-2.5-1.5-.9-3 .2zM243.4 421.4l-4.5 .3-1.3 1.3 2.8 1.4 3-.3 1.8-1.1-.2-1.5-1.6-.1zM252.4 400.5l-1.5 .8-.2 .7 .6 1.5-1.5 1.5-.4 2-1.5 1.6-2.3 .9 3.6 4.5-.3 3 .4 1.5-1.7 1.5 3.3 .2 4.5 2.5 4.3-1.2 .2-2 1.5-1.2 4.5 2.8 6 2.5 12 .7 6.3-1.3 1.7-3-1.4-1.5 .9-1.5 4.8-4.5-.3-1.8-3-1.6-.4-1.1 .4-1.6-4.5-.3-6-2-9 .2-10.5-3.9-4.5-.4-6 .5zM265.9 398.8l-.6 .2 1.5 0-.9-.2zM322.9 439.2l-.8 .3 1.6 1.5-.2 1.5 3.8 1.5-2.9 1.3-3 .6-4.5-1.9-4.4 0 4.4 3.1 15 .4 3 1 7.5 1.3 1-1.3-.1-1.5 1.4-1.5 0-1.5-.8-.3-6-1.8-4.5-.1-1.5-.6-.4-.2 .2-1.5-5.8-.9-3 .6zM360.4 395.7l-1.5 .5-3.5 2.8-10 .7-9.1-.7-1.4 1.5 .9 1.5-.5 3 4 6-2.9 .4-2.6 1.1 2.6 1.8 3 .4 6-1.3 6-.1 6 .9 6.5-1.7-1.2-6 2.2-.9 3 .2 2.9-.8-4.5-1.5 .6-1.5-.7-1.5 5.3-3-.7-1.5-4.4-.9-6 .6zM378.4 434.5l-.6 .5 0 1.5 .9 1.5 9.6 1.5-2.4 2.3-3.8 .7 1.5 3 .3 3-4 .8-1 .7 .3 1.5 6.7 2.9 1.3 1.6 3.2 .8 7.5-.7 4.8-1.6-1.6-1.5 .8-1.5-.8-1.5-4.9-4.5-1.3-3.2-1.9-2.8 .7-1.5-3.5-1.5-2.8-2.2-6-.8-3 1zM397.9 406.3l-.1 3.2-1 1.5 1.1 1.6 1.5 1 1.5 .2 3-.3 2.1-1-1.3-1.5 .5-1.5-2.1-3-2.2-.7-3 .5zM456.4 449.7l-5.1 1.8-.3 1.5 .9 1.9 4.5 2.2 6 .3 9.5-2.9 .3-1.5-3.8-2.5-12-.8zM459.4 433.2l-.7 .3 2 1.5 2.3 0-.6-1.5-3-.3zM241.9 497.8l-.7 .2 4.6 0-3.9-.2zM246.4 446.7l-1.5 .5-.5 2.8 2.7 1.5 .2 1.5 1.9 1.5-.4 1.5-2.1 1.5 1.7 1.5 4 1.7 4.5 1.1 1.5-1.3 4.2-1.5-2-1.5 .7-1.5-.4-1.5 .4-1.5-2.2-3-3.7-1.8-9-1.5zM267.4 453.9l-1 .6 2.5 .9 5-.9-3.5-1.1-3 .5zM276.4 452.9l-.6 .1 .2 1.5 1.9 .1 3-1.6-1.5-.4-3 .3zM285.4 472.3l-1 .2 1.8 0-.8-.2zM319.9 469.3l-1.5 .2-2.3 1.5 9.8 2.4 4.5 0 4.4-.9-.1-1.5-5.8-1.8-9 .1zM339.4 474l-1.5 .5-2.9 2.5 .5 1.5 3.9 1 3-.3 .5-.7-.6-1.5 1.6-1.5-4.5-1.5zM343.9 470.8l0 1 1.5 .8 1.5-.4 .6-1.2-2.1-.5-1.5 .3zM354.4 419.9l-.6 .1 .6-.1zM363.4 439.5l.4 1.5-2.4 1.5 6.5 .4 6 1.1 4.7-1.5-7.7-1.1-7.5-1.9zM366.4 422.7l-.4 .3 1.9 .3 3.5-.3-3.5-.7-1.5 .4zM385.9 484.4l-.8 .1-.6 1.5 2.6 1.5-.8 1.5 .3 1.5 .8 .3 4.5 .7 1.5-.5 .6-2 2.8-1.5-5.9-3-5-.1zM403.9 428.9l-1.1 .1 1.1-.1zM460.9 473.8l-1.1 .2 2.6 .6 3.2-.6-1.7-.7-3 .5zM241.9 502l-1.3 .5 7.3 2.5 4.5 0 6.3-1-16.8-2zM253.9 497.6l-1.2 .4 .8 1.5-.7 1.5 5.6 .8 7.9-.8-4.9-2.8-7.5-.6zM268.9 460.2l-.9 .3 2.4 .7 1.5-.7-3-.3zM273.4 475.4l-.6 1.6 2.1 1.5 4.5-.4 1.8-1.1-1.8-2-1.5-.4-4.5 .8zM316.9 487.3l-.4 .2 2.6 1.5 3.8 .8 2.2-.8 .2-1.5-5.4-.5-3 .3zM346.9 479.8l-8.9 3.2-1.8 1.5-.1 1.5 3.3 3.9 3 .6 10.5-2.9 4.9-3.1-.9-1.5-2.8-1.5 1.2-1.5-3.9-.9-4.5 .7zM361.9 446.5l-4.2 2 1.2 .9 3 .1 5.8-2.5-2.8-1-3 .5zM367.9 484.2l-.8 .3 2.1 0-1.3-.3zM373.9 449.7l-.4 .3 3.1 0-2.7-.3zM388.9 502.4l7.8 .1-7.8-.1zM274.9 503.9l5.8 .1-4.3-1.1-1.5 1zM316.9 502.3l-.4 .2 1.9 .6 9.9-.6-6.9-.5-4.5 .3zM360.4 487.3l-.6 .2 1.4 0-.8-.2zM118.3 361.5l14.4 0-1.8 1.2-7.5 .3-3-.2-2.1-1.3zM131 366l4.4-.2 1 .2 .5 1.1 3.5 .4-4.3 0-5.1-1.5zM155.9 369l2.2 0-2.2 0zM114.1 402l.8 0-.8 0zM97.8 403.5l.4 0-.4 0zM283.9 409.5l3-1.4 3 .4 2.7 1-2.7 2.1-1.5 .3-3.8-.9-.7-1.5zM105.6 411l1.3-.6 .9 .6-.9 .5-1.3-.5zM275.6 411l2.3-.5 1.3 .5-1.3 1.7-3 .6-1.5-.3-.2-.5 2.4-1.5zM339.5 411l3.7 0-3.7 0zM127.7 415.5l3.9 0 3.3 1.5-.3 1.5 3.7 1.5-2.9 .5-2.1-.5-.9-1.1-3-1.1-7.4-.8 1.4-.8 4.3-.7zM94.9 417l3-.5 2.9 .5 2.2 1.5 .1 1.5-2.2 .4-2.6-.4-3.4-3zM113.3 421.5l2.6-.4 3 1.3 4.7 .6-1.7 1.2-7.5-.3-3.8-.9 2.7-1.5zM57.2 490.5l1.8 0 .2 1.5-1.8 1-1.5-1 1.3-1.5zM94.2 501l.7-.8 1.5-.3 3.4 1.1-3.4 .4-2.2-.4zM42.4 502.5l0-.8 .7 .8-.7 0z"/>
<path fill="#fee090" d="M42.4 363l0-.8 2.5-.7 41 0-10.2 1.5 1.1 1.5 3.1 .8 13.5-.5 9.3 1.2-4.8 1.1-6.2 .4-2.8 1.5 1.5 .5 7.5-1.2 18-.7-.6-1.6 .5-1.5 1.6 0 4.5 1.5-.6 1.5-3.5 1.5-.3 1.5 1.4 .3 6 .5 4.5 1.3 1.5-.2 1.5-1.2 1.5-.3 4.5 .4 4.5 1.4 6-1.1 10.5 2.7 3-.5 .3-.3-.9-1.5 3.6-.2 11.4 3.2 2.1 1.9 7.5 .3 6 1.7 8.7-.9-.4-1.5 .5-1.5-2.6-1.5 2.3-1.5-1-.4-7.5-.2-3.5-.9 1.9-1.5 1.6-.5 1.5 0 8.3 2 2.8 1.5-.9 1.5 1.8 1.2 7.5-.4 4.5 .6 10.5-.6 2.5-2.3 0-1.5 3.5-2.1 1.5-.4 18 .9 3.6 1.6-6.9 3-2.3 3-1.9 1.2-6 .3-3 2.1-2.3 .9 .4 1.5 1.9 1.1 4.5 1.4 2.6 2 .4 1.5 6.9-1.5 .9-1.5 1.2-.6 3-.5 9-.5 3 2.5 6-1.3 10.5 2.5 3.4-.6 .7-1.5 6.4-.7 1.5-.9 1.9-2.9-.9-1.5 .8-1.5-9.3-1.2-.7-.3 0-1.5-.8-.7-6 .2-6-.8-6 .2-11.7-1.9 5.7-.7 16.5 .3 7.7-2.6 .8-1.5-13-1-5.3-2-.3-1.5 5-1.5 35.4 0 .1 1.5 7.1 .7 8.6-.7-3.6-1.5 19 0-6 1.8-1.8 1.2 1.8 .9 6 .4 6-.3 5.1-1-.6-.8-2.5-.7 1-.1 1.7-1.4 7.1 0 .3 1.5 7.4 1.9 3-.4 2.4-1.5 3.6-1.2 3 .1 4.5 1.1 .2 1.5 1.3 .5 3 .3 16.5 .1 3.4-.9-1.9-1.2-10.5 0-3.5-1.8 18.3 0 16.7 1.1 1.1 .4-4.4 1.5 .4 1.5 3.6 1.5-6.8 1.5 11.2 1.5-1.8 1.5 10.2-.6 4 .6-.9 3-4.6 1.7-4.5 .8-3.8 3.5 11 4.5-1.7 3 3.5 .4 3.7 4.1-.7 1.8-1.4 1.2 .6 1.5 2 1.5-3.7 3 .2 3-4 3 2.2 1.5 .9 1.5 .2 1.5-.9 1.5 2.1 3 2 1.5-1.5 1.5 .4 1.5-1 3 1.1 3 3.8 1.4 4.5-.1 2.7 1.7-2.7 1-1.5-.5-1.5-1.5-1.5-.2-6 2.5-11.5 .2-.6 1.5 2.7 1.5 6.4 .7 1.5 .1 6-1.5 4.6 .7-3.1 .8-.8 .7 2.3 .7 6-1 6 .5 4.5-.8 2 .6 1.3 1.5 .8 1.5-.3 1.5 1 3 1.2 .6 7.2 .9 7.8 2.5 0 23.4-2.9-3.4-1.6-.3-4.5 0-12 3.3-1.5-.3-9-3.7-.5-.5 .6-1.5-1.6-1.1-1.5 0-1.5 1 .5 1.6-2 1.4-10.5 .1-6.3-1.5 0-1.5-1.2-.3-3.7-4.2 .3-1.5-1.1-1.6-1.5 .1-1.5 1.8-4.5 1.2-6 0-1.5 .5-1.5 1.5-4 1 2.5 1 5.4 3.5 2.1 3 1.5 .4 3.7 2.6 .8 1.5 .2 3-2.5 1.5 .3 1.5 3 1.5-.1 1.5-6.1 3-.8 3.3-3 .9-6-.5-9-4.5-4.5-1-4.5-2.2-1.5-.1-9-.3-4.2 1.4 1.2 .2 4.4 2.8-2.9 1.2-12-.5-1.5-.7 9.4-3-12.4-4.8-6.1-1.2-2.2-1.5 .8-1.5-7.1-1.5 5.1-1.5-.4-1.5-12.2-3 .7-1.5-5.5-1.5-4.6-.6-3-1.1-2.5 .2 2.4 1.5-8.4 1.5-3.5 2-7.5 .1-1.7 .9 3.4 1.5-.2 1.5 1.5 .4 12 1.6 7.5 .4 1.2 .6-1.5 1.5-1.2 3-2.6 1.5 2.6 .6 4.5-.9 1.8 .3-3.3 .8-.5 3.7 1.5 1.5 0 1.5-.4 1.5-2.1 1.5 4.5 1.5 7.5-1.8 3-1.4 6-.8 15 1.6 4.5 2 1.5 0 4.5-2.5 3 .4 3 2.2 13.5-.3 13.5 1 2.7-.4 1.8-.9 4.5 .1 4.5-.8 7.5 2.3 3-1.7 6 1 12 .8 6.4 2.2 1.6 1.5-12.5 .9-1.5 .3-2.9 1.8 1.4 .8 9 .1 3 .6-1.5 .3-9 .2-3-.5-1.5-.9-3-.2-10.5 .8-6-.6-2 .9 9.5 .3 3 2.1 1.5 .2 10.5-.4 4 .8-7 .7-12-.1-9.9-2.1-.9-1.5-4.2-.7-9-.2-3-1.2-1.5 0-7.5 1.1-7.5-1-3 .3-.9 .2 2.4 1.6 8.1 1.4-17.1 1.9-9-.8-2.6 .4 .5 1.5-3.1 0 1.9-1.5-12.2-1.5-4-1-7.5-.3-4.5-1.2-7.5 .4-10.5-.7-3 .2-1.5 .9 .1 1.7 3.8 1.5-2.4 .4-18 1.1-16.5-.8-4.7 .8-9.1 0 3.7-1.5-.4-.5-6-.4-4.5-1.8-5-.3 12.5-.2 3 .9 1.5 1.3 4.5 .3 7-.8-.1-1.5-8.5-1.5 .5-1.5-.4-.3-4.5-1.5-20.1-2.7 .6-.6 6.3-.9-1.2-1.5 3.9-1.5 3-.2 7.5 1.4 2.4-1.2-.8-1.5-5.2-1.5-2.4-2.9-1.5-.6-3 .8-1.5 1.1-.6 1.6-.9 .6-10.5 1.2-3.2-.3 1.3-1.5-2.6-1.6-7.5-3-4.5-.5-3 1.5-3-.1-1.4-.8 2.9-.9 4.5-2.4 9-1 4.5 .2 3.3-3.4-1.8-2.3-6 .1-1.3 .7-.2 1.5-1.5 .9-9 2.3-6.4-1.7-3.5-1.5 4.6-1.5-.3-1.5 .6-1.5-1-.5-6 1.3-2.4-2.3-2.1-.7-8.9 .7 .2 3 1.2 2.6 4.5 .4-4.5 .1-2.9 1.4-1.6 .1-2.4-.1-2.1-1.3-1.5-.2-7.5-.4-2 .4 5 2.2 3.7 .8-2.3 1.5 0 1.5-2.1 3 2.5 3 5.7 .8 1.4 .7 .8 3-.7 .2-5.5-.2-2-1.8-7.5-3.7-4.5-1.1-6 1.3-6 .5-7.5-1.5-6 .8-6-.4-4.5 .8-3 1.6-6 1.5-3-1.5-4.5-1-2.4-1.5 .6-1.5-2.7-3.5-6-.6-3-2.4-9-2.3 .2-1.7-1.7-.3-7.5 1-2.4 .8-.6 1.5 .3 1.5-2.2 1.5-1.2 3-3.8 1.5 1.3 1.5-.4 1.4-1.5 0-1.5-.7-1.2-.7-.9-1.5-2.4-.9-9-.9-9-.1-2.4 1.9-4 0-2-1.5 2.4-1.2 4.7-.3-1.4-1.5 0-1.5-7.8-1.9-2.2-1.1 2.2-1.2 3-.7 .6-1.1-9.6-.5 0-24.5 4.5 2.1 7.5 .1 3 1 6 .9 1.5 1.4 1.5 .4 6 .1 .8-.5-.3-1.5-3.5-.8-4.5-.3-1.5-3.4 2.4-1.5 7.1-3 0-1.5 4-1.4 6-.3 10.5-4.1 1.5 0 1.9 1.3 .4 4.5 1.3 1.5-.6 1.8-1.1 1.2 4.6 1.5-.5 1-5 .5 5 .5 1.2 1 6.3 2.4 5.4-.9-.4-1.5-4-1.5 1-1.5 0-1.5 1.8-1.5 .1-1.5 2.1-.7 10.5-.5 7.5 .6 1.6 .6-2.9 1.5 1.3 .9 4.5 1.4 3 .2 1.5-.5 1.5-1.6 1.1-.4 6.4 0-1.4-1.5 1.4-.8 7.5 0 3-.6 0-.8-1.5-1.8-9 .6-3 .7-9-1.7-7.5 1-3-.3-4.8-3.8 .1-3-4.3-2.5-4-.5-.4-1.5 2.9-.4 10.5 2 6-.1-1.5-.4-.3-1.1 .5-1.5 2.7-1.5 4.6-.3 3 .3 3 1.7 4.5-.3 4.5 .6 2.5-.5-.3-1.5 1.6-1.5 3.3-1.5-1.8-1.5-3.1-1.5 .3-1.5 2.2-1.5 .1-1.5-4-3 1.8-1.5 .1-3 3.5-1.5 1.3-4.5 3-.4 13.5 1.7 9-.4 5.6-.9-1.9-1.5 9.8-3 3-.1 15 1.9 12-.8 3.2-1 2.9-3-3.1-2.5-8.6-2 2.9-1.5-13.8-.9-3 .4-3.7 2-5.3 1.6-4.5 0-10.5-1.3-3 .6-3 1.6-4.5 .3-6.8-1.3-6.7-.5-3-1.2-10.5-.4-1.4 .6 2.9 1.3 6-.1 .7 .3-.2 1.5-2 .7-4.1-.7-.4-.7-6 .9-8-.2 1.1-1.5-2.7-3 1.5-3 2.5-1.5-.4-.5-5.8-2.5-4.7 .1-4.5-1.6-4.5-.8-4.5 .3-6 1.6-7.5 .3-1.5-.3-3-2-1.5-.3-4.6 1.2-1.4 1.3-1.5-.2-7.5-4.2-7.6 1.6-1.9 1.5-1 .2-10.5-.7-7.5 1.3-10.5-.3 0-6.1 7.5 .6 6-1 9-.4 6-.9 5.1-1.7-5.1-1.6-16.8 .1 1.8-2.3 2.7-.7-16.2-.6 0-.9zM100.9 370.3l-1.3 .2 2.8 1.7 3 .7 1.6-.9-2.4-1.5-3.7-.2zM195.4 383.9l3 1.2 3 .4 2.5-1.5-4-.8-4.5 .7zM229.9 374.4l-.5 .6 6.7 0-1.7-.7-4.5 .1zM243.4 388.1l-.9 .4 .5 1.5 1.9 .4 .7-.4-.7-1.5-1.5-.4zM252.4 394l-2.5 2 .6 1.5-4.3 3 1.7 .9 1.4 2.1-1.1 1.5 0 1.5-1.8 1.1-3 .7-1.7 1.2 4.4 3 .7 1.5-.6 1.5-2.1 1.5 .5 1.5-2.7 1.7-6-.1-1.5-1.2-1.5 0-7.5 2.4-2.7 .2 2.7 .3 3.2 1.2 .5 1.5 3.8 2.1 3-1 10.5-.4 3.7-.7 .8-.7 4.5 .4 7.5-1.6 3 .4 4.5 2.1 4.5 .6 3 2.4 3 .3 8.9-3.9 8.8-1.5-2.1-1.5-3-4.5 4-3 1.9-4.5-.6-1.5 6.1-.2 9-2.3 1.3-.5 .5-1.5-.3-1.5-1.5-.3-25.5-.3-6 1.3-9-.3-4-1.9 1.4-3-1-1.5 .5-1.5-1.4-.7-5.8 .7 1.1 1.5-1.3 1.5-1.5 .1-6-3.7-3 .1zM294.4 371.9l-.9 .1 3.9 .4 1.5-.4-4.5-.1zM307.9 364.8l-1.2 1.2 3.9 1.5 .6 1.5 1.2 .2 12.4-.2-9.4-.3-2.3-1.2 3.8-1 4.5-.1 6 .9 4.1-1.3-14.6-.3-9-.9zM342.4 367.5l9.8 1.5-3.8 1.4-1.5 1.2-13.4 1.9 .5 1.5-1.6 1.5-2 .8-15.9 2.2 .4 1.5 5 2 11.5 1-2.1 1.5 1.1 1.6 7.5-.2 6-1.6 9-.7 8.3 2.4-2.6 1.5 1.8 .7 7.5-3 4.5-.1 .7 .9-4.3 1.5-2.4 2.7-3 1.1-1.5 1.4-9.7 2.3 .1 1.5-9.9 .7-10.5-1-1.3 .3 1 1.5-1.2 .9-2.7 .6 5.6 1.5 .6 1.5-.4 1.5 .7 1.5-.5 1.5-1.8 1.1-6 .7-4.3 2.7 7.3 1.1 .8 .4-.4 1.5 2.6 .8 7.5 .1 7.5-1.3 3.4 .4-.3 1.5-6.9 6-3.8 1.5-2.1 1.5 2.1 1.5-3 3 3.5 1.5-4.5 1.5-2 1.5 4.6 1.1 9-1 3 .8 1.1 .6 .4 .8 6-1.8 6-.2 .5-.3-3.5-.3-4.9-2.7 3.2-3-4.3-1.3-4.5 .6-1.1-.8-.8-1.5 1.9-.5 1.5 1.1 3 .7 9-3 4.5 .9 10.5-.2 1.1 1-2.6 2-1.6 2.5 1.6 .5 6-.9 1.3-1.1 .3-1.5 1.4-.7 6 .4 3-.3 3-1.1 .6 .2-.9 1.5-2.7 2.4-5.3 .6 8.3 .3 2.6 1.2 .4 1.3 6.1-1.3 1.9-1.5 .9-1.5-.3-1.5-2.6-1.8-3-1-3 .1-3-1-5.4-.8 1.6-1.5-5.2-1.6-9-4.1-4.5-.3-.6-1.5-6.7-3 2.8-2.5 3-.4 6 .8 5.2-2.4 6.8-1.5 1.5 .6 1.2 2.4-1.8 3 2 1.5 1.6 2.6 9 .4 3-1.3 .3-1.7-1.7-1.5 1.4-2 3-1.6 4.6-.9-2.8-3-6.3-.9-6 1-4.5-1.4-4.5 .4-6-.5-3-1.6-3-.4-1.3 .4-.3 1.5 2.8 1.5-2.7 1.1-3 .1-4.1-1.2-1-1.5 2.1-3.2 3-1.1 3.7-.2 .3-3 6.4-1.5 .8-1.5-2.2-1.8-1.5-.6-4.5 0-1.1-.6 2.6-2.2 4.5 0 1.3-.8-.1-1.5-2.3-3 4.1-1.7 3-.5 3 .8 1.9 1.4-1.9 3 3 .7 9-.2 3-1.1 1.5-2.4 1.8-1.5-5.3 0-4-1.7-6.3-1.3-.7-1.5 .6-1.5-2.6-1.2-6 .7-13.5-.9-6 1.1-1.5-.2-.4-1 1.9-1.5 3 .2 3 1.1 9-.8 1.1-.5 1.1-1.5-2.2-1.6-15 1.1-10.5-1.6-12-.2-3 .8zM402.4 367.4l-.7 .1 5.5 0-4.8-.1zM418.9 398.8l-.8 .2-1.2 1.5 2 .4 3-.4 4.9-1.5-1.9-1.5-6 1.3zM421.9 380.8l-.4 .2 3.5 0-3.1-.2zM430.9 416.5l-.9 .5 3.3 0-2.4-.5zM433.9 412.5l4.2 0-4.2 0zM456.4 448.3l-7.9 1.7-2 3 1.3 3-2.3 3 1.9 1.3 1.5 .2 9-1.4 1.5 1.9 9-2-.2-1.5 8.6-3-.9-1.5-7.5-4.1-10.5-.9-1.5 .3zM307.9 483l-9 3.8-.7 .7 1.3 1.5-3.6 1.3-3-.3-1.5-1.2-4.5-.2-4.5-1-1.5 .5-1.2 .9 1 1.5-1 1.5 2.9 1.5-4.5 1.5 .5 1.5 1.1 1.5 3.5 0 2.8-3-.6-1.2-1.2-.3 .6-1.5 3.6-1.9 4.5 1 1.3 .9-3.9 1.5 4.1 2.6 1.5-.5 1.5-1.9 4.5-.8 1.3-.9 3.2-.8 3-2 3-.1 7.5 2.3 3 .2 3.2-1.1 3.1-3-3.3-1.4-12-1.5-4.5-1.8-1.5 .2zM310.9 476.7l-.5 .3 4.2 0-3.7-.3zM334.9 498.8l-1.2 .7 2.7 .7 2.3-.7-2.3-.8-1.5 .1zM337.9 496.4l3 .8 3.1-.7-3.1-.5-3 .4zM358.9 502.3l-1.2 .2 8.7 .6 3.8-.6-3.8-.6-7.5 .4zM366.4 496.4l1 .1-1-.1zM379.9 496.2l-1.5 1.2-5.7 .6 19.3 0-7.6-.9-3-1.1-1.5 .2zM402.4 497.7l-.8 .3 2.3 .7 2.1-.7-2.1-.6-1.5 .3zM424.9 496.4l-1.5 .2-2.7 1.4 2.7 2.4 1.5-.5 1-1.9-.5-1.5-.5-.1zM76.9 460l-.3 .5 1.8 .7 2-.7-2-1.3-1.5 .8zM87.4 464.8l-1.5 .2 .5 1.5-.5 1.5 3 .7 4.5-1 4.8-2.7-4.8-1-6 .8zM90.4 454.4l-.8 .1 3.8 .5 1.3-.5-4.3-.1zM115.9 455.9l-.8 .1-.6 1.5 2.9 .5 3.1-.5-2.6-1.5-2-.1zM117.4 450l1.5 1.3 1.5 .2 3.1-1.5-6.1 0zM124.9 461.6l-1.3 .4 1.3 1.5 1.5 .6 2.9-.6 1-1.5-.9-.9-4.5 .5zM138.4 458.9l-3 1.2-4.7 .4 11.9 1.5 5.2 1.5-.5 1.5 3.1 .6 6-1.1 1.3-1-5.8-2.4-.6-.6 0-1.5-.9-.4-4.5 .5-7.5-.2zM154.9 429l-8 1.5 14 .8 1.6-.8-7.6-1.5zM166.9 428.7l-.3 .3 5.2 0-4.9-.3zM172.9 419.7l-1.2 .3 .8 1.5-3.8 1.5 4.2 0 3.7-1.5-.5-1.5-3.2-.3zM181.9 427.4l-.5 .1 .5 .8 2-.8-2-.1zM190.9 410.9l0 .5 .7-.4-.7-.1zM192.4 424.4l1.6 .1-1.6-.1zM201.4 431.6l-1.4 .4 2.9 .7 2-.7-3.5-.4zM202.9 426l7.5 .5 4.5 1.8 1.5 0 1.5-.8-1.3-1.5-3.2-.5-10.5 .5zM223.9 412.5l-6.9 1.5 3.9 1.2 3-.2 2.3-1 0-1.5-2.3 0zM228.4 431.4l-1.1 .6 1.1 .4 2.5-.4-1-1.1-1.5 .5zM235.9 434.8l-2 1.7-5.5 .2-7.5 1.9-15-1-6-1.2-3 .1-9.6 4.5-9.2 3 3.8 .7 7.5-.3 9 1.3 1.5-.5 1.5-1.5 7.5-1.4 1.5 .4 2.9 2.8 5.7 0-.5 1.5 9.9 3.5 4.5 .5 6-.9 3.9 1.4-.5 1.5 2.1 1.5-.1 1.5-2.9 1.5-2.5 2.7-1.8 .3 4.8 1.2 6-.3 2.9 .6 1.4 1.5 3.2 .5 9-1.6 2.1 1.1 .8 1.5 1.6 .2 2.3-.2 2.2-1.4 1.8-.1 1.4 1.5-1.9 1.5 3.2 1.7 5.3 1.3-3.8 2.1-4.5 .1-1.5 .6-.8 1.7-10 3 .2 1.5 7.6 1.5 0 .9-5.3 .6-.5 1.5 5.8 2.3 9-.2 .9-.6-6.9-.9-3-2.1 3-.6 6 1.3 1.5-.3 3.6-3.4-2-3 1.4-1 9-2.8 5.4-.7-2.4-.9-4.5-.5 1.1-1.6-1.1-1.5-6-2-1.4-2.5 5-3-6.3-3-.2-1.5 1.7-1.5-1.7-1.5 .5-3-8.1 .2-7.9 1.3 1.9 1.4 1.9 .1-5.2 0-.9-1.5-4.4-1.5 .9-1.5-1.3-.7-6-.7-.5-.1-.7-1.5-6.3-.7-2.1-.8-1-1.5-3.7-1.5 4.8-1.5-.9-1.5-4-1.5-3.6-.2zM249.4 431.9l1.9 .1-1.9-.1zM258.4 439.4l-.7 .1-.8 1.2-.7 1.8 0 1.5 .7 .3 3 .6 3-.9 6 1.1 2.6-1.1-.5-1.5-2.1-1.6-4.5-.4-1.5 1.3-1.2-.8 1-1.5-4.3-.1zM259.9 426l-.4 1.5 .6 1.5 4.3 0 .7-1.5-.7-.5-1.5-1-3 0zM265.9 436.3l-.9 .2 .9 .6 1.5-.6-1.5-.2zM300.4 464.8l-.7 .2 2.2 1.1 3.9-1.1-5.4-.2zM304.9 459.9l-.9 .6 3 0-.6-1-1.5 .4zM312.4 418.3l-1 .2 1 .4 .9-.4-.9-.2zM310.9 385l-1.8 2 4.8 .2 5.2-1.7-5.2-1-3 .5zM384.4 431.1l-.3 .9-1.2 .3-7.5 .7-1.4 2-.1 1.8-3 1.3-3 0-4.5-.9-7.5 2.1-4.5-1.2-7.5 1.2-4.5-.7-3-1.2-12-.8-6.1 1.4-6.5 3 .5 1.5-2.9 .5-2.1 1 3.1 3-.7 1.5 .5 1.5 .7 .3 10.5-1.7 6-.2 7.5 1 7.5 1.7 7.5-.5 1.7 .9 1 1.5 7.8 .6 4-.6 3.5-1.7 3-.2 7.5 1.7 4.5 1.7 1.5 1.7 4.5 1.6 3 .5 4.5-1 7.5-.3 .6-1 3.7-1.5-2.1-1.5 1.2-1.5-.5-1.5-3.9-1.5 1-1.5-5-1.5-1.9-4.5 .9-1.1 6-.2 1.7-1.7-4.7-2.5-2.6 1-1.9-.1-2.7-1.4 .9-1.5-5.6-1.5-.1-1.1-4.5 .2zM397.9 433.4l-.6 .1 2.1 .6 1.3-.6-2.8-.1zM408.4 457.2l-1.5 .3 9 3 4.5-1.5-1.8-1.5-1.2-.2-4.5-.5-4.5 .4zM412.9 419.9l-.5 .1 1.2 0-.7-.1zM414.4 431.9l-.6 .1 1.2 0-.6-.1zM424.9 418.2l-1.5 .3 .8 1.5-4.4 1.5 1.2 1.5-1.7 1.5-.5 1.5 5.4 1.5 1.3 1.5-4.1 1.5 1.6 1.5 .3 1.5 6.1-2 1-1-2.3-1.5 4.1-3-3.9-1.5 2.8-1.5-.5-1.5-2.3-3-3.4-.3zM457.9 461.4l-1.1 .6 1.4 0-.3-.6zM304.9 497.7l-1 .3 4 1 1.5 0 1.9-1-3.4-.7-3 .4zM316.9 493.2l-.6 .3 1.1 1.5 1 .3 3 .4 2.4-.7-2.4-2.3-4.5 .5zM78.4 464.8l-1.3 .2 1.9 0-.6-.2zM91.9 458.9l-4.4 1.6 5.9 2.2 1.5 0 4.5-1.6 9 .6 4.5-.4 2.1-.8-2.1-1.9-1.5-.2-9 .8-6-1.1-4.5 .8zM118.9 467.8l-.7 1.7 3.7-.2 2.8-1.3-1.3-1.4-3 .4-1.5 .8zM141.4 472.2l-1.2 .3 1.2 .9 4.1-.9-4.1-.3zM148.9 472.5l4.5 .8 4-.8-4-.9-4.5 .9zM162.4 469.1l-4.8 1.9 .3 1 .4 .5 4.1 .4 6 .2 4.3-.6-4.3-.7-1.5-2.3-1.5-.8-3 .4zM171.4 440.9l3 .8 1.6-.7-3.1-.5-1.5 .4zM225.4 416.6l-.8 .4 9.8 .9 .7-.9-2.2-.5-7.5 .1zM186.4 448.5l1.5 .5 2.2-.5-3.7 0zM190.9 467.9l-3 1.5-.5 1.6 2 .6 1.5-.4 2.7-1.7 1.1-1.5-2.3-.6-1.5 .5zM210.4 460.3l-4.5 1.5 0 1.7-3.8 1.5 2.3 1.6 1.8-.1 1.2-1.6 3-1.6 1.5-1.9 4.4-.9-5.9-.2zM219.4 463.1l-.9 .4-.3 1.5 1.1 3 1.6 .9 1.5-.1 1.4-.8 .4-1.5-1.8-2.8-1.5-.7-1.5 .1zM234.4 469.4l-.7 .1 1.3 0-.6-.1zM262.9 469.2l-1.4 .3 2.9 .7 2.2-.7-3.7-.3zM303.4 473.8l-3 .7-1.6 1 3.1 .8 3.9-.8-.9-1.5-1.5-.2zM318.4 387.7l-1.5 .8 5.9 0-4.4-.8zM321.4 458.9l1.8 .1-1.8-.1zM123.4 478.1l0 .6 1.5 .5 9.3 2.3-2.4 1.5 .9 1.5 1.2 .3 4.5 .1 4.8-3.4-7.6-3-10.7-1.1-1.5 .7zM153.4 478.1l-1.4 .4 .6 1.5 6 0-3.7-1.8-1.5-.1zM171.4 480.9l-1.2 .6 2.7 .7 1.5-.1 .8-.6-3.8-.6zM172.9 459.6l-1.2 .9 1.2 1.5 3.8 0 2.9-1.5-2.2-1-4.5 .1zM177.4 466l-.6 .5 3.6 .4 3.2-.4-1.7-.8-4.5 .3zM101.3 361.5l12 0 0 1.5-1.9 .4-7.5-.2-2.6-1.7zM120.6 361.5l10.9 0-2.1 .8-4.5 .2-4.3-1zM167 363l5.9-1.3 1.5 .3 .4 1-6.4 .6-.9 .9-2.1 .3-8.2-.3 9.8-1.5zM211.4 363l13.9-1.5 15.7 0 27.3 1.5-2.4 1-.9 2-5.1 .6-10.5-.2-4.5-1.5-4.5-.6-9 .3-13.5-.5-1.7 .4 3.8 1.5-1.4 1.5-3.7 .4-7.5-.4-6 .6-4.5-.7-7.5-.3-6.3-1.1-.8-1.5 2.6-.6 26.5-.9zM202.9 366l-.5 0 5 1.2 1.7-1.2-6.2 0zM442.3 363l2.3 0-2.3 0zM451.4 361.5l7.2 0-3.7 .4-3.5-.4zM479.5 363l2.4-.5 7.5-.1 0 1.4-6 .2-3 1.1-3 .2-21.3-.8 3.3-.6 18-.4 2.1-.5zM471.5 367.5l11.9-1.1 4.8 1.1-6.3 .7-10.4-.7zM273.7 369l4.2-.6 2.9 .6-2.9 .6-4.2-.6zM479.6 373.5l2.3-1.1 7.5 .1 0 6-1.5 .2-8 3.8 1.7 1.5 .3 1.5-6.9 1.5 6.8 3-.2 3-2.7 2.3-6-1.5-1-.8-1.4-3-4.5-1.5 3.1-4.5-4.1-1.5 1.4-1.5 2-.9 7.5-1.8 4.4-1.8-3.6-1.5 2.9-1.5zM463.7 376.5l1.7-.7 2.2 .7-3.9 0zM358.7 378l3.2-.8 3 .2 4 .6 2.5 1.5-3.5 2-4.5 .3-3-1.8-1.7-2zM355.2 382.5l6.6 0-6.6 0zM115.9 384l1.5-.7 1.5 .5-.2 1.7-4.3 0 1.5-1.5zM459.3 385.5l2 0-2 0zM84.2 390l4.7-.7 6 1.9 6 .6 3.3 1.2-.9 1.5 .5 1.5-2.7 1.5 5.7 1.5-.6 1.5-3.8 .4-4.2-.4-6.3-2.4-4.7-.6-4-3 2.7-.7 4.5 .3 1.8-1.1-8.8-1.5 .8-1.5zM124 391.5l2.4-.6 .3 .6 4.2 .6 1.8 .9-1.3 1.5-5 .3-6 1.6-10.5 .5-2.9-.9 2.9-1.9 4.5-.1 4.5-1.8 5.1-.7zM370.7 394.5l.2-.8 1.5-.4 .8 1.2-2.5 0zM67.5 396l3.6 0-1.7 1.5-3 1.1-1.5 .1-1.3-1.2 3.9-1.5zM53.7 400.5l2.2-.5 4.3 .5-2.7 1.5-1.6 .2-1.7-.2-.5-1.5zM66.3 403.5l1.6-.6 1.5 0 .5 .6-2 .8-1.6-.8zM290.2 403.5l4.2-.4 2.8 .4-7 0zM475 403.5l2.4-.7 2.9 .7-2.9 .7-2.4-.7zM69.2 408l1.7-.4 2 .4 .3 1.5-3.8 1.7-5-.2 .1-1.5 4.7-1.5zM49.2 409.5l3.6 0-1.4 .5-2.2-.5zM469.3 412.5l4.9 0-1.3 1.5-3.6-1.5zM56.9 415.5l2-1.1 13.5 .1 3 .5 2 2-2 1.2-2.5 .3-.1 1.5-3.4 .9-4.5 3-5.9 2.1-.4 1.5-2.7 1-9 .5-1.5-.3-3-2.5 0-10.7 3 .3 3.2 1.2-.5 1.5 1.8 .6 7.5-.1 4.5 1.5 2.1-.5-2.7-3-4.4-1.5zM487.8 415.5l1.6 0 0 10.7-3-.4-1.5-.9-.2-1.9-3.2-1.5 0-1.5-2.6-3 3-1.2 5.9-.3zM82.2 418.5l2.2-.9 3.4 .9-4.9 4.5-1.5 .8-6 .1-3.1-.9 7.7-1.5 2.4-1.5-.2-1.5zM363.1 418.5l.3-.5 3.1 .5-3.1 1-.3-1zM371.1 420l4.2 0 1.8 1.5-3.2 .4-1.3-.4-1.5-1.5zM461.7 421.5l4.1 0-1.9 .9-2.2-.9zM64.8 426l9.1-.3 5.5 1.8-3.3 4.5-2 1.5-3.5 1.5-4.2 .5-1.5-.4-.8-1.6-3-1.5-.8-1.5 1.6-1.5 .4-1.5 2.5-1.5zM341.3 429l4.1-.6 2.6 .6-4.1 .8-2.6-.8zM481.3 429l3.6-1 2.1 1-3.6 1.1-1.5-.4-.6-.7zM42.4 432l.5 0-.5 0zM482.4 432l1-.8 1.5-.1 4.5 .5 0 .7-3 .7-3-.4-1-.6zM342.2 433.5l1.7-.5 1.4 .5-1.4 .7-1.7-.7zM477.8 433.5l2.6 0-2.6 0zM44.9 438l.6 0-.6 0zM375 439.5l.9 0-.9 0zM354.2 441l1.7-.9 2.3 .9-1.4 1.5 2.7 1.5-.2 1.5-3.4 1.9-6 1.7-2.6-.6-.7-1.5 5-1.5-1.7-1.7-4.8-1.3 1.8-.5 4.5 .4 2.8-1.4zM377.4 441l1-.5 3.5 .5-4.5 0zM375.9 445.5l2.5-.5 2.3 .5-2.3 .7-2.5-.7zM271.9 457.5l4.5-1.1 4.5 .5 1.2 .6-1.2 2.3-3 .9-1.5 0-4-1.7-.5-1.5zM428.7 471l.7-.4 2.6 .4-3.3 0zM208.2 474l3 0-3 0zM481.5 474l1.9-.5 .3 .5-2.2 0zM431.6 475.5l5.3-1.4 10.5 .9 6-.4 3 .8 3 2.2 7.5-.3 6.3 1.2-7.8 2.6-1.5 .1-4.5-1.1-9 1.1-.9 .3 2 1.5 0 1.5-4.1 .5-1.6-.5-1.4-1.2-6 .4-3.8-.7-.6-1.5 .5-1.5-6.2-1.5-1.5-1.5 4.8-1.5zM438.4 478l-1.1 .5 2.6 .6 5.3-.6-3.8-.9-3 .4zM346.6 477l1 0-1 0zM98.4 480l2.5-.5 1.8 .5 1.8 1.5-.5 1.5-4.6-.4-1.4 .4 1.4 .5 .7 1-.3 1.5-1.9-.1-3.2-1.4 .8-1.5 2.4 0 .5-3zM477 480l1.9-.6 1.6 .6-1.6 .4-1.9-.4zM460.5 483l1.9-.6 .8 .6-2.7 0zM198.8 486l2.6-.4 2.5 .4-2.5 .5-2.6-.5zM225.8 486l1.1-.9 4.6 .9-1.6 1.5-1.5 0-2.6-1.5zM150.1 489l2 0-2 0zM167.6 490.5l5.3-.9 2 .9-3.5 1.6-2.4-.1-1.4-1.5zM207.9 490.5l1.3 0 3.8 1.5-2.6 1.3-1.5 0-2.5-1.3 1.5-1.5zM122.7 492l2.2-1.1 6 .3 1.9 2.3-1.9 .9-7.5 1.4-.6 .7 2 1.5-2.9 1-4.5-.1-3.3-.9 1.8-1.4 4.5-1 5.3-2.1-3-1.5zM233 492l4.2 0 .8 1.5-.6 .5-3-.5-1.4-1.5zM86.3 493.5l8.6 .1 3.7 1.4-.4 1.5-1.8 .4-12-.4-1.2-1.5 3.1-1.5zM160.6 493.5l2.1 0-2.1 0zM465.5 495l2.9-.8 6 .7 6-.5 4.5 .4 .5 .2 .4 1.5-2.4 .1-7.5-1.2-2.5 2.6 11.5 1 1.5 .7 .8 1.3-2.3 .9-18.4-.9 .4-1.8 2.4-1.2-4.2-1.5 .4-1.5zM228.5 496.5l1.4-.8 7.5-.3 3.8 1.1-6.8 2.2-7.2-.7 1.3-1.5zM130.5 499.5l3.4-.2 9 2.2 12 .4 .7 .6 6.1 1.5 3.7 .4 3 .1 4.5-1 9-.6 4.4 1.1 .4 1.5 2.7 .4 25.5 .5 17.5-2.4-4-1.5 4.5-.6 3 .1 6.6 2-.6 .9-1.4 .6-5.2 1.5-96.5 0-7.9-1.4-13.5 0-2.6-1.6 2.6 0 1.5 .7 3 .4 7.5 0 1.5-1 1.1-1.6-5.7-1.5 4.2-1.5zM179.7 499.5l2.2-1.1 1.5-.1 5.1 1.2-5.1 .6-3.7-.6zM237.1 499.5l3.9 0-3.9 0zM57.4 502.5l13.5-.3 2.4 .3 2.1 1.2 1.5 .2 22.5-.5 2.7 .6 .3 .7 1.5 .5 4.2 .3 2 1.5-4 0-3.7-.9-1.5 .1-.6 .8-20.6 0 3.2-1.1 9-.4-13.5-1.4-12 .1-1.8-.2-2.7-1.2-4.5-.3zM319.9 504l6-.4 4.4 .4-5.9 .4-4.5-.4zM474.3 504l4.6-.1 4.5 1.3 6-.2 0 1.8-6-1-5.3 1.2-8.2 0-.1-1.5 4.5-1.5zM42.4 505.5l0-.5 15 .3 3.4 1.7-18.4 0 0-1.5zM254.1 505.5l5.8-.7 2.4 .7-8.2 0zM345.1 507l4.8 0-4.8 0zM401.9 507l3.5-.4 5.9 .4-9.4 0zM459.1 507l1.8 0-1.8 0z"/>
<path fill="#fdbe70" d="M42.4 363l4.2-1.5 11.8 0 5 .7 3.1-.7 16.6 0-6.2 .5-3.3 1 1.8 1.8 3 .9 13.5-.5 7.9 .8-12.8 1.5-2.6 .8-4.5-1.4-19.5 .2-1.5-.1-1.7-1 5.7-1.5-16-.7-4.5-.8zM105.2 361.5l4 0-2.3 1-1.7-1zM122.2 361.5l8 0-3.8 .6-4.2-.6zM214.5 363l12.5-1.5 23.9 .8 10.5 1.2 1.5 1 .3 1.5-12.3 .1-.9-.1-.1-1.5-8-.7-12 .5-15.4-1.3zM274.1 363l3.8-1.1 12 .3 5.9-.7 11.6 0 .8 1.5-4.2 1.5 1.2 1.5 2.2 1.5 .5 1.5 1.5 1.5 1.5 .4 12-.6 12-2.6 12.3 1.3-2.1 1.5-4.2 1.3-7.5 0-4.5 1.2-9.1 .5 1.6 .6 7.5-.3 2.6 1.2-2.8 1.5-19.3 1.9-1.5-.4-.6-1.5 2.1-1 2.7-.5 0-1.5-1.2-.6-4.5-1.1-18-1.1-.5-.2 3.5-1.3 .9-1.7-2.4-.7-13.5-1.1-3.2-1.2 .9-1.5zM325 361.5l13.5 0-4.9 1.5-.8 1.5-2.4 .7-7.5 .1-10.7-.8 17.8-1.5-5-1.5zM377.4 363l4 .4 1.5 1.4 3 1 10.5-.3 8.9 .5-7.4 1.5 3 .8 10.5-.6 4.5 .3 9 3.6 1.5 1.2 4.5 .9 2.3 1.3-2.3 2.3-6 1.3-7.5-.6-.2-1.5-1.3-1.1-6-.2-6 .8-4.5-.4-1.5-.6 1.5-2.4 8.4-.6-6.9-.8-1.5-.7-10.5-.7-1.5-1-1.5-2.1-7.5-.3-4.3-1.9 3.3-1.5zM415.9 373.5l-.7 0 .7 .3 0-.3zM396.7 361.5l9.7 0-7 1.3-2.7-1.3zM488.2 363l1.2 .1-1.2-.1zM160.7 364.5l1.9 0-1.9 0zM185.1 364.5l14.8-.9 12 .3 1.7 .6-1.7 .7-10.5 .6-9 1.2-7.8-1 .5-1.5zM356.7 364.5l3.7-.4 4.9 1.9-4.9 .5-9.9-.5 6.2-1.5zM410.9 364.5l2-1.3 1.5-.1 5.4 1.4-6.9 2-2.2-.5 .2-1.5zM461.6 364.5l9.8-.6 7.1 .6-7.1 .5-9.8-.5zM317.7 367.5l3.4 0-3.4 0zM366 367.5l.4-.7 1.5-.2 4.5 .3 1.6 .6-8 0zM101.3 369l8.6-.7 3 .3 1.2 .4-.6 1.5 14.9 3 4.4 3-3.4 .7-10.5-2.2-6 .7-3 1.2-4.5 .2-6-1.6-9 .7-3.8-1.2-.5-3 5.8-1.1 3 .2 7.5 2.9 3 .6 4.5 .3 1.3-1.4-.3-1.5-1-.5-4.5-2-4.1-.5zM78.3 370.5l.6 0-.6 0zM192.3 370.5l4.5 0-4.5 0zM234.6 370.5l2.8-1.2 1.5 .1 1.7 1.1-1.7 1-3 .2-1.3-1.2zM42.4 373.5l9 .8 5 2.2-6.5 1.4-7.5-1.3 0-3.1zM71.7 373.5l2.2-.5 1.5 .5-3.7 0zM242.9 373.5l2 .3 1.3 1.2-1 1.5-6.6 0 1.8-2.1 2.5-.9zM483.1 373.5l6.3-.2 0 3.4-4.5-.4-3.7-1.3 1.9-1.5zM64.7 375l1.7 0-1.7 0zM142.2 375l5.2-.7 3.6 .7-2.1 1.1-1.5 .2-5.2-1.3zM292.7 375l1.7-1 7.5-.3 1.5 .1 1.1 1.2-4.1 1.1-6-.5-1.7-.6zM166.3 376.5l3.6-1.4 3 .3 4.5 2.7 6 .9 3 1.3 .8 .7 0 1.5-4.3 1.5-1.2 1.5-7.3 2.3-4.5 .5-1.3-1.3-1.7-.3-12.9 .3 .9-3-3-.4-4.5 .9-1.5-.3-1.3-1.7 2.8-.9 3.7-2.1-.2-1.5 1-.3 3 .1 3 .8 8.4-2.1zM216.2 376.5l4.7-.6 4.5 1 9 0 3 1.1-5.3 3 .8 1.5 2.2 1.5-.7 1.3-1.5 .3-15-1.2-4.5-1.5-4.5-.1-1.5-.9-5.7-.9 2.7-.5 6 .6 6-2.9-.2-1.7zM302.5 379.5l.9-.7 3-.2 2.6 2.4-5.6 1.9-1.2-.4 .9-1.5-.6-1.5zM481.3 379.5l.9 0-.9 0zM387 381l3.4-.6 2 .6-3.5 1.4-1.9-1.4zM412.7 381l3.2-.9 1.5 .4 1.5 1.7 1.5 .6 9 .1 4.7 1.1 3 1.5-1 1.5 .8 2 1.5 .6 4.5 .6 1.5 1.3 .5 3-2.2 1.5 2 3-3.1 1.5 1.1 4.5-2.1 1.5-2.2 .8-2 2.2-2.5 1.4-7.5 .3-3.6 1.3 3.7 1.5 0 1.5-2.1 1.5-4 .6-3-1.4-5.1-.7 .8-3-3.8-1.5 2.1-2.1 8.3-2.4-1-1.5 2.6-3 8-1.5 2.7-1.5 .1-1.5-5.6-1.5-.1-1.5 2.9-1.5-2.9-.1-.5 1.6-7 2.1-6-1.3-4.5 .5-2.3 1.7 .8 1.2 1.4 .3-7.4 1.8-9 .4-3.2-.7 5.7-4.5-8.8-1.5 4.8-1.1 5.4-3.4-2.1-3 1.2-.8 3-.5 9 .4 1.5-.3 2.5-1.8 .4-1.5 1.4-1.5zM469.8 381l3.1-.5 3 .5-3.2 1.5-3.7 0 .8-1.5zM257.7 385.5l5.7 0-2 1.1-3.7-1.1zM390.2 385.5l2.4 0-2.4 0zM139.5 387l1.9-1.3 1.5-.1 3 .6 .9 .8-2.4 1.9-1.5 .3-1.5-.4-1.9-1.8zM189.3 387l12.7 0 .1 1.5-5.2 0-1.5-1.1-6.1-.4zM299.4 387l4-.7 1.5 .7-1 1.5-4.7 1.5 2.7 1 3-.4 3-1.4 3-.1 10.5 1.1 12-1.6 3 .1 7.5-1.7 1.5 0 8.1 3-2.9 1.5-.7 1.8-3 2.6-3 .9-6 .1-4.4-.9-1.6-.9-4.5 1.1-4.8-1.7 .9-1.5-2.1-.3-1.8 .3 1.4 1.5-2.6 .6-.8 .9 .4 1.5-1.1 .5-3 .1-2-.6-.8-1.5 4.2-1.5-4.4-.8-1.5 .1-2.9 2.2-6.1 3.1-3-.1 2-3-2-1.1-3 1.4-7.5 2.1-6 3-4.5 0-3.5-.9 .2-1.5 2.6-1.5 0-1.5 2.2-1.5-.8-3 .8-1.6 1.5-.7 7.5 0 6-1.7 6.5-.5zM250.7 388.5l4.7-.5 1.5 .5 .9 1.5-2.4 1.1-4.5 .3-1.4-1.4 1.2-1.5zM272.9 388.5l2-.5 1.3 .5-3.3 0zM472.2 388.5l5.6 1.5 .4 3-3.8 0 .2-1.5-1.7-2.8-.7-.2zM96.7 394.5l2.6 0-1.4 .8-1.2-.8zM241.7 394.5l3.2-.5 2.3 .5-3.8 .9-1.5-.2-.2-.7zM200.5 397.5l3.9-.4 2 .4 1 1.1 1.5 .3 6-.4 4.5 .4 6-.8 9 .1 4.5-1.2 1.5 .6 1.2 1.4-4.4 1.5 6.2 .5 2.4 1 1.7 1.5-1 1.5-.1 1.6-11.5 1.4 2.1 1.5 .7 1.5-4.8 1-3-1.2-7.5-.1-3-2.2-3-1.2-4.5-.6-1.5 .4-1.6 .9 3.1 .8 .6 .7-1.9 1.5 .5 1.5-2.2 1.2-6 1.4-5.8-1.1-.7-1.5 1.9-1.5-2.9-2-3-.8-3 0-2.1 2.8-.2 3-.8 1.5-2 1.5 2.5 3-1.9 .9-4.5-.2-3-1.7-3-.8-3-2.7-7.3-1.5-.8-1.5-3.6-1.5 3-1.5 2.2-3 2-1.5-2.9-1.5 .1-1.5 1.3-.4 25.5 1.6 7.5-2 7.4-.7-5.9-1.2-.3-.3 .9-1.5zM219.4 400.1l-4.8 1.9 4.8 1.8 2.2-.3 .5-1.5-2.7-1.9zM190.9 406.5l1.5 .7 1.5 .1 2.2-.8-2.2-.8-3 .8zM408.6 399l2.8 0-2.8 0zM321.1 402l4.8-.1 4.5 1.3 .6 .3 0 1.5 1.1 1.5-3.2 1.3-7.2 .2-.6 1.5-2.7 3.2-1.5 .7-3-.1-2.3-.8 1-1.5 4.3-1 3.7-2-.7-.1-.7-1.4 2.3-1.5-2.6-1.5 2.2-1.5zM374.9 403.5l2.4 0-2.4 0zM378.9 411l6.9 0 4.9 1.5-4.2 1.5 3.9 1.3 3.5 3.2-3 0-4.4-1.5-2.1-2.2-2.8-.8 1-1.5-3.7-1.5zM216.7 412.5l1.6 0-1.6 0zM241 412.5l1.1 0 2 1.5-2.2 1.7-3.6-.2 .7-1.5 2-1.5zM300.7 412.5l1.2-.8 1.5 .1 1.2 .7-1.2 1.5 11 1.5-6.5 1.8-1.3 1.2 2.5 1.5 1.3 1.5-2.5 .6-4.5-.1-5.5-2-.3-1.5-2-1.5 2-1.5 3.6-1.5-.5-1.5zM210 415.5l1.9-.5 3 1.2 4.5 .8-1.5 .7-1.5 0-6.4-2.2zM318.2 417l1.7-1.2 2.3 1.2-.8 1.8-1.5 0-1.2-.3-.5-1.5zM397.9 417l3.7 0-2.2 .6-1.5-.6zM439 417l.9-.7 1.5-.1 3.9 2.3-1.9 1.5 .7 6-.6 1.5 1.1 1.5-6.2 .6-2.9-.6-.8-1.5 .2-1.5-1-1.5 1.4-1.5-.4-1.5-1.6-1.5 0-1.5 5.7-1.5zM484.2 417l5.2 0 0 6.8-4.3-2.3 1.1-1.5-2.2-1.5 .2-1.5zM42.4 418.5l0-1 1.8 1 .4 1.5 2.3 .7 4.5 .7 6-.4 3.8 2-6.9 1.5 1.2 3-2.6 .6-4.5 0-1.7-.6 .3-1.5 3.7-1.5-2.3-.7-6-.2 0-5.1zM197.6 418.5l3.1 0-2.3 .7-.8-.7zM325.6 418.5l4.8-.2 3.1 1.7-1.1 1.5-2 .2-1.2 2.8 6.7 3-5.4 3 .5 1.5-.6 1.6-3 .8-4.5-.5-6 .6-1.5 .5-.3 1.5-7.2 4.1-10 3.4 7 3.5 .8 1-.1 1.5-1.3 1.5 2.1 1.2 3 .5 12-3.5 12 .4 6 1.4 3 1.4 7.3 1.6 10.7 .6 7.5-1 6 2 6 .5 6 1.5 1.9 .9 1.1 2 9-1.7 9.9 1.2-1.1 1.5-3.2 1.5 4.8 1.5 1.9 1.5-.9 1.5-6.9 .6-1.5 .6-1.5 2.2-3 1.1 3 .6 4.5-1 6 1.1 6-.7 4.5 1.3 1.8 1.7-1.4 1.5-.9 3 .3 1.5 2.4 1.5 .6 1.5-2.8 .9-9 .3-7.5-1.1-6 .3-1.7-.4-.9-1.5-1.9-1-10.5-.9-4.5 .6-6-.6-2.7-1.1-.6-1.5-1.2-.9-4.4-2.1 4.4-2.7 0-.5-7.5-2.3-3-1.8-6 .5-2.8-.7-1-1.5-3-1.5-8.2-1.7-5.9-2.8 .7-1.5-.8-.4-13.5-2.2-1.5 1.4-2.5-.3-.5-.8-1.5-.2-4.5 .3-10.5-1.2-6 .8-3-.5-1.5-1-.4-.4 3.4-3.8 1.3-.7 9.4 0-1.1-1.5 .7-1.5-4.3-1.5-9 .1-4.8 1.4-8.7 .7-4.5 1-3-.2 2.5-1.5 5-.8 1.5-.8 .5-1.4-1.4-3-2.4-1.5 .5-3-.6-1.5 .6-1.5 2.8-1.1 3-.4 4.5 1.8 6 .1 1.2-.4 .1-1.5 1.8-1.5-5.3-1.5 1.7-1.5 5-.8 4.5 1.4 3-.2 1.6-.4 1.3-1.5-2.3-1.5 3.9-.8 3 .2 4.5 1.3 7.5 0 1.1-.7-1.8-1.5-.2-1.5 8.1-3zM327.4 421.4l-.5 .1 2.3 0-1.8-.1zM403.9 476.8l-1.3 .2-.3 1.5 1.3 1.5 2.1 0-.2-3-1.6-.2zM313.9 431.9l-.9 .1 1.8 0-.9-.1zM193.6 421.5l1.8-1.3 1.5-.1 9 1.4 2.6 1.5-3.9 1.5-3.2 .2-1.5-.3-3-2.5-3.3-.4zM209.1 421.5l4.3-.2 3.5 1.7-2 .5-4.6-.5-1.2-1.5zM162.2 424.5l3.5 0-3.5 0zM170.5 426l3.9-.7 4.6 .7-6.1 1.4-2.4-1.4zM410.8 426l.6-1 3.5 1-2 .6-2.1-.6zM71.9 427.5l3.7 0-2.4 1.5-1 3-1.3 .8-3 .3-2.8-1.1-1.3-1.5 2.6-2 5.5-1zM149.6 427.5l1.1 0-1.1 0zM193.2 427.5l5.2-.5 4.5 .8 6 .2 3 1 .1 1.5-1.6 1.1-1.5 0-15.7-4.1zM243.7 427.5l2.7 .1 3.7 1.4-3.7 .9-1 .6-.5 1.8-1.5 .7-7.6 .5-.3-1.5 1.9-2.1 6.3-2.4zM360.8 427.5l2.6-.5 4.5 .3 4.5-.7 1.2 .9-.7 1.5-2 1.7-3 1.6-3 .6-3.1-.9-.7-1.5 1.1-1.5-1.4-1.5zM188.8 429l2.1-.3 1.5 1.8-1.5 .7-3 .3-1.5-1 2.4-1.5zM225.5 429l1.4-.6 1.8 .6-3.2 0zM167.1 430.5l5.8-.4 2.6 .4-1.7 1.5-3.9 .5-1.5-.4-1.3-1.6zM126.5 432l2.9-.3 3 1 6 .6 16.5-.9 3.4 1.1-2.7 1.5-2.2 2.2-1.5 .3-3-.7-.3-1.8-1.2-.4-3 .1-3 1.1-4.5 .1-4.5-2-5.8-.4-.1-1.5zM179.9 432l3.5-.4 2.8 .4-1.3 1.5-.1 1.5-1.4 .8-3 .1-3.3-.9 2.8-3zM216.4 432l4.5-.7 1.7 .7-3.2 .9-4.7 3.6-3.9 0-7.3-1.5 2.4-.6 3-1.9 7.5-.5zM256.8 433.5l4.6-.7 2.9 .7-4.4 2.6-1.5 .1-3.2-1.2 1.6-1.5zM405.6 433.5l4.3-.5 6 1.7 3 1.3 7.5-.9 13.5 2.2 6 .4 .9 .3 .6 1.5 1.5 .9 4.5 1.5 1.5-.3 4.5-3.2 1.1 1.1 6.4-.6 1.7 .6 1.7 4.5-1.9 .9-1.5 .1-4.5-1.7-4.5-.4-1.5 .3-1 2.3-5 .4-2.6 1.1-2.5 3 .3 1.5-2.4 1.5-1.3 1.5 2.7 1.5-.4 1.5-2.2 1.5 2.4 2.5 5.7 .5 .8 1.5-2 1.4-4.5 .1-2.6-1.5 .4-1.5-3.8 .5-2.5-.5-1.3-3-2.2-2.4-1.5-.8-9 1.1-7-.9-3.4-1.5-.4-1.5 1.5-1.5-2.7-1.5-2.6-4.5 1.1-1 2.2-.5-4.7-1.5 1.7-1.5 .1-1.5 3.3-3-4.7-1.5-.7-1.5zM415.9 442.4l-.5 .1 3.5 .5 2.9-.5-2.9-.4-3 .3zM162.1 435l3.3-1.1 1.5 0 1.1 1.1-1.1 2.6-4.5-1.1-.3-1.5zM228.1 435l2 0-2 0zM185 438l2.9-.7 2 .7-4.9 0zM251.9 438l2.1 0-2.1 0zM88.3 439.5l3.6-1.1 1.5 .2 3.3 3.9-1.8 1.3-4.5 .5-4.7 1.2 7.3 1.5-6.3 1.5 .4 1.5 13.8 2.3 4.7 2.2-3.2 .9-4.5-1.7-4.5-.9-9 1.2-9.6-4-.5-1.5 .4-1.5-3.9-1.5 4.6-.5 1.3-1 1.4-3 7.8 0 2.4-1.5zM78.4 445.4l-1.3 .1 1.3-.1zM123 444l1.9-.6 1.8 .6-3.7 0zM168.1 444l3.3-.5 3.5 2-.5 1-1.5 .1-4.8-2.6zM113.9 445.5l2-1.4 3 .3 1.5 .6 3.4 3.5-9.4 .5-1.7-.5 1.2-3zM159.9 445.5l2.5-.2 6.5 1.7-5 .9-6-.2-1 .8 .2 1.5 8.9 0 5.4-1.1 1-.4 .5-1.1 1.5-.3 6 .5 7.5-1.3 .6 .7-5.1 .7-.4 .8 1.5 1.5 1.9 .5 7.5 .1 1.8-.6 2.7-2.1 7.5-2.7 7 1.8 8.8 4.5-2.3 1.4-4.5 .1-1.5 .6-.8 .9 .8 1.5-3.1 1.5-7.4 2-1.7-.5 2-1.5-4.8-.7-9-.3-4.5-2-6 .9-15 1-9-1.4-7.5 2-6 .7-4.5-.6-3-1.5-9 0-6-1.1 6-1.5 2.9-3-1.1-1.5 5.7-1.2 6 .9 7.5-.2 4.7-1 7.3-.5 2-1zM470.4 447l2.5-.5 6 .3 2.7 1.7-2.7 .5-3-.5-1.5 .3-1.9-.3-2.1-1.5zM42.4 451.5l0-.8 3.1 .8-1.6 .7-1.5 0 0-.7zM489.1 451.5l.3-.3 0 .5-.3-.2zM57.4 453l3-.1 4.7 1.6-1 1.5-5.2 3-.7 1.5 1.6 1.5-.6 1.5 4.2 1.4 1.5-.5 3-2.4-1-3 2.5-1 3-.1 1.5 1.1-.6 1.5 1.8 1.5-2.7 1.7-1.5 1.6-3 .5-4.5-.4-.7 1.1 6.7 1.6 12-1.5 1.5 1.3-.7 1.6 .7 1.3 6.9 .2-.9 .5-4.5-.3-1.4 1.3 1 1.5 .4 3 .8 1.5-1.9 1.5-.2 1.5-1.7 .6-4.5-.2-5.7-1.9 1.3-1.5-3.1-1.8-.8-2.7-2.2-.7-3 .1-1.6 .6 1.6 1.8 4.2 1.2-.2 1.5 2 1.5-6 1.4-3-.6-1.4-.8 .7-1.5-.8-1.2-2.8-1.8 5.3-6-6.2-1.5 3.4-1.5-1.2-2-8.7-1-.8-1.5-1.9-1.5 1.4-1.5-.5-4.7 1.5-.6 6 1.8 6.2 .5-1.7-2.2-1.5-.8zM75.4 470.9l-.4 .1 1.9 .6 5.1-.6-3.6-.4-3 .3zM75.4 473.8l1.5 .5 1.7-.3-1.7-.5-1.5 .3zM112.2 454.5l2.2-.7 2.4 .7-4.6 0zM481.3 454.5l3.6-.5 2.1 .5-.2 3-1.1 1.5 1.2 1.5 2.5 .6 0 5.6-1.5-1-4.5 .7-3-1.9-1.5-.1-2.7 .6-.6 1.5-2.7 1.1-3-.4-6.3-2.2 2.3-1.5 .7-1.5 2.8-1.5 7.7-1.5-.6-1.5 4.8-3zM86 456l3.2 0 1.3 1.5-4.6 1.5-1.5-1.5 1.6-1.5zM130.1 457.5l1 0-1 0zM231.7 457.5l1.2-1.2 1.5-.2 1.5 .1 1.5 1.3-3 .6-2.7-.6zM155.2 459l2.7-.4 4.5 .3 .4 .1 .2 1.5-2.1 .8-4.5-.3-1.8-.5 .6-1.5zM276.3 459l1.9 0-1.9 0zM295.8 460.5l1.6-.5 5.4 2-.2 1.5-9.7 .4-3-.6-2.8-1.3 8.7-1.5zM42.4 462l0-.7 1.5 .3 3.2 1.9-.7 1.5 2 1.5 .1 1.5-3.1 1.4-1.5 .1-1.5-1 0-6.5zM185.3 462l2.6-.5 6 2-1.5 1.3-1.5 .1-1.8-1.4-3.8-1.5zM197.6 462l2.3-.9 1.5 .9-1.5 .5-2.3-.5zM228.2 462l.2-.5 4.6 .5-.1 1-4.7-1zM102.2 463.5l9.2-.6 4.2 .6-1.2 1.3-1.5 .4-9-.6-1.7-1.1zM134.3 463.5l1.7 0-.6 .4-1.1-.4zM233 463.5l1.4-.7 4.4 .7-1.4 .8-4.4-.8zM131.4 465l2.5-1.2 .5 1.2-2 .6-1-.6zM249.2 465l1.5 1.5 6.2 2.8 3 2.5 2.4 .7-1.6 3-1.9 1.5-.4 1.5 2.7 1.5-1.9 3-3.3 1.5-.5 1.9-1.5 .6-7.5-1.9-2.7-2.1 5.6-3 .2-1.5-1.3-1.5 3.5-4.5-2.3-1.6-9-.2-1.2-1.2-.3-1.4-2.5-1.6 1-.8 1.5 .1 1.5 1.6 3 .1 4.9-1 .9-1.5zM100.9 468l1.5-.5 1.1 .5-1.1 .4-1.5-.4zM267.6 468l1.3-.4 3.3 .4-1.8 .4-2.8-.4zM136.7 469.5l3.2-.6 4.3 .6-4.3 1-1.5 0-1.7-1zM177.5 469.5l4.4-1.1 1.5 .2 1.5 .9-1.5 .8-3 .4-1.5 0-1.4-1.2zM95.7 471l5.2-.7 1.2 .7-2.7 .8-3.7-.8zM107.3 471l2.6-1.1 4.5 .6 .8 .5 0 1.5-.8 1.2-1.7 .3 4.7 .3 1.8 1.2-.3 1.5-1.5 1.3-1.5 .1-7.9-2.9-2.9-3 2.2-1.5zM172.5 471l1.9-.6 2.3 .6-4.2 0zM123.7 472.5l1.2-.7 7.5-.2 1.5 0 1.5 .9-4.5 .9-7.2-.9zM265.2 472.5l3.7-.6 .7 .6-2.2 .4-2.2-.4zM146.5 474l3.3 0 1.6 1.5-4 .3-.8-.3-.1-1.5zM229.4 474l3.8 0-.1 1.5-3.8 0 .1-1.5zM291.2 474l4.7 0-1.5 1.7-1.5 .3-4.5 .3-2.5-.8 4-.7 1.3-.8zM129 475.5l3.4-1.1 5.5 1.1-.6 1.5-3.4 .4-3.3-.4-1.6-1.5zM160.2 475.5l14.2-.8 3.2 .8-.9 1.5-2.3 .3-3.7-.3-3.8-1.3-4.5 .7-2.2-.9zM438.2 475.5l.4 0-.4 0zM320.9 477l.5-.7 4.9 .7-.2 1.5-1.7 .4-3 2.5-3 .4-2.6-1.8 .3-1.5 3.8-.8 1-.7zM179.9 478.5l2.8 0-2.8 0zM299 478.5l5.9-.5 4.1 .5-4.1 .4-5.9-.4zM288.7 480l1.2-.8 4.5 .6 3-.4 1.5 1 .5 1.1 3.4 1.5-3.9 .9-7.5-.1-1.3-.8-.1-1.5-1.3-1.5zM233.9 481.5l3.5-1 4.8 1-1.8 1.2-1.5 0-5-1.2zM438.4 481.5l3-.4 1.7 .4-4.7 0zM163.9 483l1.5-1.1 1.5 .2 3.1 .9 .9 1.5-2.5 1.4-1.8 .1-3.8-1.5 1.1-1.5zM327.2 493.5l1.7-.4 6.2 1.9-7.7 2.1-.1-.6 1.6-1.5-1.7-1.5zM356.7 493.5l2.2-.9 1.5 .6 1.7 1.8-6.2 1.5-1.7 0-3.6-1.5 3.8-.4 2.3-1.1zM87.4 495l4.2 0-4.2 0zM265.6 495l2.4 0-2.4 0zM385.5 495l3.4-1 3 0 6.5 1 1.7 1.5-2.2 .4-3-.6-6-.2-3.4-1.1zM413.8 495l4.7 0-4.7 0zM440.8 495l7.3 0-2.2 1.1-1.5 .1-3-.5-.6-.7zM288 496.5l16.4 3 6.5 2.5 .7 2 4.2 1.5-21.4 1-18.5-1 8-.8 4.5-1.8 12.1-.4-12.1-.2-9.2-1.3 .4-1.5 7.1-1.5 1.3-1.5zM310.8 496.5l3.1-.9 4.1 .9-2.6 .9-4.6-.9zM118 498l2.5 0-2.5 0zM319 499.5l8.4-1.5 1.5 .3 1.4 1.2 0 1.5-7.3 0-4-1.5zM362.8 499.5l3.6-.1 7.5 .9 6-1.2 15-.4 4.5 .8-4.5 .9-9-.5-4.5 .6-1 .5 5.5 2.4 3.4 .6-10.9 1-7.6-1 1.7-1.5-1.6-.9-10.2-.6 2.1-1.5zM408.1 499.5l1.8-.6 7.2 .6-2.7 1.3-1.5 .1-4.8-1.4zM429.4 499.5l1.5-.7 2.6 .7-1.7 1.5-.9 .1-1.9-.1 .4-1.5zM438.8 499.5l4.3 0-4.3 0zM469.4 499.5l2-.4 3.1 .4-3.1 1.4-1.5-.5-.5-.9zM130.2 501l2.2-.4 4 .4-2.5 .4-3.7-.4zM232.3 502.5l2.1 0-2.1 0zM449.1 502.5l6 0-6 0zM94.3 504l5.6 0-2 .6-3.6-.6zM144.3 504l3.1-.8 7.5-.2 10.5 2 6.7 2-30.6 0-1.6-.9-3.2-.6 1.7-.8 4.5-.1 1.4-.6zM173.9 504l1 0-1 0zM237.1 504l.7 0-.7 0zM355.8 504l3.1-.5 9.2 .5-4.7 .4-7.6-.4zM423.2 504l4.7-.8 3.2 .8-1.7 .7-6.2-.7zM42.4 505.5l10.5 .3 4.1 1.2-13.7 0-.9-1.5zM175.1 505.5l.8-1.1 7.9 1.1-4.9 .6-3.8-.6zM226.8 505.5l9.1-1.2 .7 1.2-3.2 1.5-7.5 0 .9-1.5zM436.9 505.5l6-.5 5.1 .5-5.1 .4-6-.4zM472 505.5l3.9-.7 2.6 .7-4.1 1-2.4-1zM487.5 505.5l1.9-.1 0 .4-1.9-.3zM81.2 507l3.2-.7 4.5-.2 6 .3 2.2 .6-15.9 0zM185.6 507l2.3-.6 6 0 25.5 .1 2.5 .5-36.3 0z"/>
<path fill="#f88d52" d="M44.1 363l4.8-1.5 6.9 0 7.3 1.5-7.2 .8-11.8-.8zM71.2 361.5l4.4 0-4.4 0zM124 361.5l4.5 0-4.5 0zM220.1 363l9.6-1.5 4.7 0 6 1.3 12-.1 3.2 .3 1.3 1 2.2 .5 1.6 1.5-7.6 0 1.1-1.5-12.3-1.4-10.5 .9-11.3-1zM276 363l3.4-.6 10.5 .1 8.8-1 5.3 0 2.2 1.5-4.3 1.1-15-.1-2.5 .5-.5 1-1.5 .1-4.5-.3-3-.8 1.1-1.5zM327.2 361.5l4.8 0-4.8 0zM67.1 364.5l3.8-.6 3.4 2.1-10.9 .6-4.1-.6 7.8-1.5zM188.8 364.5l11.1-.7 10.9 .7-18.4 2.2-6.4-.7 2.8-1.5zM320.3 364.5l8.6-.4 1.7 .4-10.3 0zM466.5 364.5l9.1 0-9.1 0zM82.7 366l6.2-.5 8.2 .5-11.2 .9-3.2-.9zM284.8 366l17.1-.7 1.5 .5 1.7 1.7 .2 1.5-2.4 1.5-4.1 0-4.4-1-.5-.5 1-1.5-2-1-8.1-.5zM393.5 366l6.5 0-3.6 .4-1.3 1.1 3.3 1.5-2 .3-5.3-.3-2.7-1.5 2-1 3.1-.5zM108 369l2.8 0-2.8 0zM336.2 369l5.9 0-.8 1.5-1.9 .2-2.7-.2-.5-1.5zM404.8 369l8.1-.4 5.7 1.9-4.2 1.1-4.5 0-5.7-1.1 .6-1.5zM328.1 370.5l1.4 0-1.4 0zM91.4 372l1.3 0-1.3 0zM123 373.5l.7 0-.7 0zM484.9 375l4.5 0-4.5 0zM171.1 376.5l4.8 2.7 6.2 1.8-6.2 1.6-6-.6-7.5 2.8-2.8-.8-1.7-1.9-6.2-1.1 1.7-.6 6 .2 6-.8 5.7-3.3zM229.3 384l1.5 0-1.5 0zM399.4 387l4.5 .4 3.5 1.1-4.9 4.5 4.9 1.5-3.5 1.9-3 .5-6.8-2.4 .7-1.5 4.7-3-2-1.5 1.9-1.5zM413 387l1.4-1.1 1.5-.3 4.1 1.4-4.1 1.3-1.5 0-1.4-1.3zM427.1 387l2.3-.7 1.5 .7-1.5 .5-2.3-.5zM291.3 390l1.6-.5 1.5 .3 2.1 1.7-2.1 1.7-3 1-3-.3-5.1-2.4 8-1.5zM311.7 391.5l4.8 0-4.8 0zM423.2 391.5l1.7-.5 .5 .5-2.2 0zM335.2 393l7.2-.9 3 .3 .7 .6-2.2 2.1-4.5 .7-1.5-.4-2.7-2.4zM409 393l3.9-.6 8.4 .6-.9 1.5-3 .4-8.4-1.9zM433.8 393l.1-.6 1.5-.6 1.5 3 1.8 1.2-.3 1.1-6-1.5-2.1-1.1 3.5-1.5zM283.6 396l2.4 0-2.4 0zM226.7 399l3 0-3 0zM227.4 402l14.5 .3 3.4 1.2-1.4 3-11 .6-2.7 .9 .9 1.5-6.4 0-2.3-1.5 1.5-1.8 3.5-1.2-1.7-1.5 1.7-1.5zM170.9 403.5l13.3 0-.8 1.3-4.5 .2 0 1.5-1.5 .9-3 .6-3-.5-.9-1 2.2-1.5-1.8-1.5zM196.4 403.5l3.5-.7 3.1 .7-3.1 .9-3.5-.9zM423.7 403.5l2.7-1.5 10.7 1.5-1.9 1.5 0 3-2.8 1.7-10.5 .5-4.5-.4-3 .6-1.5-.7 4.5-1.1 .5-.6 7-1.5-1.2-3zM200.8 406.5l1.4 0 .8 1.5-1.6 .4-1.6-.4 1-1.5zM176.7 409.5l6.7-.3 1.7 1.8-.6 1.5-1.9 1.5-.4 1.5-4.8 .6-1.5-.2-3.8-1.9-.1-1.5-1.6-1.5 6.3-1.5zM201 412.5l1.9-1 1.5 0 1.9 1-3.4 .7-1.9-.7zM300.2 417l.6 0-.6 0zM438.2 418.5l3.2-.4 1.3 .4-2.8 .8-1.7-.8zM301.6 420l.3-.4 1.5 .4-1.8 0zM321.9 423l2.1 0-1.1 .4-1-.4zM439.2 423l.7-.7 1.5 1 .5 1.2 .1 1.5-2.1 1.2-1.5-.4-1.5-2.3 2.3-1.5zM313 427.5l2.4-.4 2.8 .4 .2 1.5 6 .6 2.2 .9-6.7 .8-4.5-1.2-5.3 .4-2.4 1.5 4 1.5-.4 1.5-3.4 2-2.2 2.5-2.3 .1-2.1-1.6 2.2-1.5-2.6-1.5-.3-1.5 3.5-1.5-2.3-1.5 6.1-.9 5.1-2.1zM204.8 429l3.1 0-3.1 0zM276 436.5l4.9-.7 2.4 .7-.9 .9-6.4-.9zM292.5 436.5l1.1 0-1.1 0zM422 438l2.9-.9 3-.1 10.5 2.9 4.5 0 3 1.3 1.5 1.3 .4 1.5-4.6 4.5-.5 3-4.3 1.7-3 .1-1.1-.3 2.3-1.5-4.1-1.5 5.4-1.5-.1-1.5-1.4-3 1-1.5-5-.3-4.5-2.2-7.5-.1-7.5 1.3-1.5-.4-1-1.3 4-1.4 6 .5 1.6-.6zM275.1 439.5l7.3-.8 1.3 .8-.6 1.5 .8 .5 4.4-.5 4.6-1.5 3.9 1.5-6.9 3-3 .2-3-.8-6 .6-1.5-.5-1-1-.3-3zM80.2 442.5l2.7-.4 1.7 .4-.4 1.5-1.3 .3-2.6-.3-.1-1.5zM424.9 444l3-.8 1.5 .3 .5 .5-.4 1.5 1.9 1.5-5.4 1.5 0 1.5 3.4 1.5 1.1 1.5-1.1 1.5-6 1.2-6.3-1.2 3.2-1.5 .6-1.5-8.5-1.5-.8-3-1.7-1.5 4.5-.8 7.5 .1 3-.8zM81.8 447l2.7 0-3.1 2.3-2.3-.8 2.7-1.5zM174.3 450l3.1-.4 2 .4-2.9 1.5 3 1.5-5.1 1-13.5 .4-6-1.2-13.5 3.5-7.6-2.2-.1-1.5-1.8-1.5 2-1.4 1.5 0 13.5 1.2 6 1.4 4.5-1.2 6 .6 8.9-2.1zM198 451.5l4.9-.8 4.5 1.3 1.5 1 .3 1.5-1.8 .9-4.5 .5-7-1.4 2.1-3zM292.5 451.5l3.5 0 6.3 1.5-1.9 1-6-.1-5.2 .6 .2-1.5 3.1-1.5zM320.9 451.5l3.5-.9 10.5 .8 4.5 2.4 6 1.4 12.9 .8 6.6 1.7 3-1 9.5 .8 7.3 1.5 1.3 3 1.4 .9 7.5-.2 3 1.8 6.2 .5-.2 .7-6-.3-7.5 .7-3.2 1.9 1.7 .9 8.1 .6-4.5 3 .6 1.5 3.6 1.5 .1 1.5-6.4 2.8-1.5 .1-4.5-2.2-6-.5-1.6-1.7-3.5-1.5-1.3-3-1.1-.5-7.8-1-.2-1.5 .5-.4 5.7-1.1-.6-1.5-3.6 .8-7.5-.7-6 .6-13.5-3.4-3.3-1.8 5.1-3-1.8-1.3-1.5-.4-9 .9-5.4-.7 .1-1.5-1.8-1.5 .6-1.5zM387.4 474l1.9 0-1.9 0zM399 460.5l1.4 0-1 .4-.4-.4zM65.4 469.5l7.2 0-4.7 1.9-4.1-.4 1.6-1.5zM244.4 469.5l1.8 0-1.8 0zM412 475.5l3.9-.5 1.5 .5 .1 3-1.6 2.3-4.5-.5-2.8-1.8 1.3-2.4 2.1-.6zM62.1 480l1.7 0-1.7 0zM373.6 480l1.8-1.3 .5 1.3-2.3 0zM404.5 481.5l4.6 0-.1 1.5-3.1 0-1.4-1.5zM283.4 499.5l8-1.4 6.8 1.4 3.1 1.5-14.4 .5-3.7-.5 .2-1.5zM322.7 499.5l3.2-.4 1.6 .4-1.6 .6-3.2-.6zM374.5 502.5l2.4-.9 3 .2 4 2.2-7 .3-1.7-.3-.7-1.5zM148.2 504l6.7-.5 9.9 2-2.4 .8-9 .2-4.5-.8-.7-1.7zM288.6 504l2.8-.6 9-.1 6-.7 1.5 .3 1 1.1 5 1.5-21 .5-8.2-.5 2.2-.5 1.7-1zM425.8 504l3.2 0-3.2 0zM229.4 505.5l4.7 0-2.7 .9-1.5-.1-.5-.8zM440.5 505.5l5 0-5 0zM45.3 507l1.6-.6 3-.2 4.4 .8-9 0zM83.4 507l10 0-10 0zM188.5 507l7.1 0-7.1 0zM202.5 507l8.6 0-8.6 0z"/>
<path fill="#e9583a" d="M47 363l5.9-1.1 8 1.1-5 .5-8.9-.5zM223 363l8.4-1.2 6.6 1.2-6.6 .8-8.4-.8zM245.6 363l6.4 0-6.4 0zM278 363l22.4-1 4 1-8.5 .8-10.5-.5-4.5 1.4-3.9-.2 1-1.5zM194 364.5l5.9-.4 8.4 .4-11.4 .8-4.5 1-4.8-.3 6.4-1.5zM62.2 366l4.1 0-4.1 0zM85.1 366l8.9 0-8.9 0zM298.7 366l1.1 0-1.1 0zM407.2 370.5l2.7-.9 4.6 .9-3.1 .4-4.2-.4zM430.2 408l1.6 0-1.6 0zM413.9 439.5l2 0-2 0zM440.3 445.5l1.1-.8 1.5 .8-1.5 .5-1.1-.5zM138.3 451.5l6.1 1.2 6.4 .3-6.4 .3-4.5 1.2-2.6-1.5 1-1.5zM325.6 453l3.3-.4 4.5 .4-3 .9-4.8-.9zM201.1 454.5l1.8-.5 1.2 .5-3 0zM343.5 457.5l1.9-.7 10.5 .2 9.2 3.5-1.7 1.8-1.5 .5-6 .2-4.5 1-9.4-2-4.2-1.5 5.7-1.5 0-1.5zM374 462l1.4-.9 3-.3 3 .2 2.2 1 1.8 4.5-1.5 1.5 .7 3-3.2 1.7-3-.3-2.8-1.4-.7-1.5-4.7-1.5 6.7-1.5 1.7-1.5-6.8-1.5 2.2-1.5zM286.7 499.5l3.2-.4 2.2 .4-3.7 .9-1.7-.9zM152.6 504l9.9 1.5-6.1 .7-5.1-.7 1.3-1.5zM292.2 504l8.1 0-4.4 .6-1.1 .9-5 0 2.4-1.5zM306.7 505.5l4 0-4 0zM48.4 507l2.3 0-2.3 0z"/>
<path fill="#d12c26" d="M50.5 363l3.9-.5 4.6 .5-8.5 0zM225.1 363l6.3-.8 4.7 .8-4.7 .5-6.3-.5zM291.4 363l6-.5 4.5 .5-6 .4-4.5-.4zM196.7 364.5l8.9 0-8.9 0zM190.1 366l2.2 0-2.2 0zM350.1 460.5l4.3-1.1 4 1.1-5.5 .9-1.5-.1-1.3-.8zM154 505.5l2.4-.4 3.6 .4-6 0z"/>
<path fill="#a50026" d="M227.3 363l6.9 0-6.9 0zM295.1 363l2.4 0-2.4 0z"/>
<path fill="none" stroke="#000" stroke-width="0.45" stroke-opacity="0.8" d="M141.4 362.9l-.4 .1 7.9 .5 3.2-.5-10.7-.1M127.9 403.4l-4.1 1.6-.6 1.5 3.2 .8 6.2-.8-4.7-1.5 1.8-1.5-1.8-.1M133.9 404.6l-.4 .4 .4 .3 1.5 .2 3.4-.5-1.9-.7-3 .3M139.9 362.2l-1.3 .8 11.8 1 3.2-1-3.2-.7-10.5-.1M142.9 397.1l-1.2 .4 .2 1.5-3.5 1.6-9 .7-11.3 3.7 .8 1.5 1.8 1.5 4.9 1.5 8.3 .2 4.5-.8 1.9-.9 1-1.5 5.7-1.5 .2-1.5 3.5-1.5 .6-1.5-2.4-1.5-.7-1.5-2.3-.6-3 .2M208.9 505.5l2.5 0-2.5 0M351.4 505.5l4 0-4 0M135.5 361.5l1.4 1.6 1.5 .6 10.3 .8-2.9 1.5 3.1 1.1 3-.6 .6-.5-1.4-1.5 3.9-1.5-3.1-1-10.8-.5M259.5 361.5l.4 0 1.5 0M126.4 364.2l-1.1 .3 2.6 .4 4-.4-5.5-.3M444.4 366l1.5 .6 7.5 .9 1.2 1.5 1.8 .4 6.2-.4-5.1-3-10.1-.6-3 .6M162.4 367.5l2.9 0-2.9 0M175.9 367.3l-.5 .2 3.5 .7 5.2-.7-5.2-.6-3 .4M252.4 367.4l-1.5 .1 8.6 0-7.1-.1M144.4 369l4.6 0-1.6-.4-3 .4M174.4 370.3l-.4 .2 2.3 0-1.9-.2M67.9 384l-.4 0 1.6 0-1.2 0M57.4 386.9l3 1.1 3.9-1-.9-1.1-4.5 .4-1.5 .6M70.9 389.9l3.6 .1-3.6-.1M138.4 395.9l-3.1 1.6 .7 1.5-2.1 .5-4.5-.9-5.7 3.4-9.9 3 3.8 3 5.8 2.2 4.5 .4 10.5-.3 2.9-.8 4.3-3 9.5-3-.2-1.5 1.9-3-9.4-3.2-6-.6-3 .7M352.9 401.9l1.5 1.3 1.5 .1 2-1.3-5-.1M345.4 404.8l1.5 1.6 6 2.5 3-.1 1.6-.8-1.8-1.5-1.3-2.4-7.5 .1-1.5 .6M451.9 404.9l-1 1.6-2.3 1.5 1.8 1.4 6 .3 1.5-.4 1.4-1.3-.5-3-.9-.4-3-.5-3 .8M259.9 409.5l1.5 1 3-.9 3 2.2 2.5-.8 1.8-1.5-2.8-.5-9 .5M258.4 411.6l-1 .9 2.5 1.2 4.2-1.2-2.7-1.3-3 .4M105.4 433.4l-1.5 .4-.4 1.2 1.9 .5 1.8-.5-1-1.5-.8-.1M49.9 444l3 1.1 4.4-1.1-1.4-1.2-6 1.2M57.4 499.5l-4.1 1.5 15.3 0-11.2-1.5M90.4 502.5l.4 0-.4 0M105.4 502.4l1.6 .1-1.6-.1M166.9 502.2l-1.1 .3 4.4 0-3.3-.3M207.4 505.1l-1.2 .4 7.4 0-3.2-.7-3 .3M349.9 505.2l-1.2 .3 5.7 .6 3.1-.6-7.6-.3M130.4 507l-8.1 0M314.8 507l-6.8 0M450.1 507l-5.8 0M91.9 363l6 .5 .7-.5-6.7 0M134 361.5l.7 1.5-.8 .6-7.5-.1-3.2 1 4.7 1 16.4-1-2.7 1.5 3.9 1.5-7.5 1.5 4.9 .6 7.5-.1 6-2.4 6 1.4 9 .3 .5 .2-1 1.5 3.5 1 6-.6 1.1-.4 .1-1.5 5.6-1.5-9.1-1.5-.2-1.5-2-.3-3.4 .3 .4 1 2.8 .5-1.3 .1-3-.5-15 .3-2.7-1.4 3-1.5-.3-1-1.5-.4-11.3-.1M158.4 361.5l1 .1 .7-.1M183.3 361.5l.1 0 1.5 .2 .8-.2M195 361.5l3.4 .5 2-.5M213.1 361.5l4.6 0M253.9 361.5l7.5 .4 5.8-.4M316.7 361.5l.2 .2 1.5 .5 1.5-.7M365 361.5l2.9 .6 3.9-.6M435 361.5l1.9 .6 7.8-.6M462.4 363l9.8 0-6.8-.7-3 .7M487.3 361.5l.6 0 .4 0M99.4 364.1l-.3 .4 6.3 .5 4-.5-10-.4M337.9 364.5l3 .4 4.9-.4-4.9-.6-3 .6M430.9 364.3l-.6 .2 2.1 1.1 1.5 .1 2.7-1.2-1.2-.5-4.5 .3M229.9 366l-1.1 0 10.1 .4 3.6-.4-12.6 0M442.9 365.4l-1.5 .6 2.6 1.5 6.4 .9 4.5 1.7 4.5 0 7.5-1.1-4.1-1.5-.9-1.5-14.5-1.4-4.5 .8M465.4 366l4.5 .4 5.1-.4-9.6 0M247.9 367.5l9 .9 4.5 1 4.3-.4-1.6-1.5-1.2-.1-15 .1M489.4 368.5l-3.3 .5 3.3 1M211.9 370.3l-1.2 .2 3 0-1.8-.2M472.9 369.9l0 1.1 1.5 .4 1.8-.9-1.8-.9-1.5 .3M42.4 370.7l10.5 .3 9.6-2-20.1-.6M222.4 371.9l-.4 .1 1 0-.6-.1M340.9 374.6l-1.2 .4 2.7 .6 2.8-.6-1.3-.7-3 .3M277.9 379.1l-1.4 .4 4.4 .9 5.2-.9-8.2-.4M447.4 379.3l-6.2 1.7 1.7 .9 4.5 0 4.5 .8 3-.2 2.2-1.5-5.2-2.2-4.5 .5M45.4 380.8l-1.4 .2 1.4 .9 1.5 .2 1.9-1.1-3.4-.2M63.4 382.4l-4.5 1.7-6 .6-1.2 .8 1.3 1.5 4.4 2.4 4.6 2.1 5.9 1.6 3-.3 7.6-2.8-1.6-1.9-2.7-1.1-.1-1.5-1.7-2.2-3-.8-6-.1M288.4 382.2l-.3 .3 1.8 .3 2.5-.3-2.5-.6-1.5 .3M91.9 386.8l-.8 .2 3.6 0-2.8-.2M192.4 392.7l-.8 .3 .3 1.5 3.6 0-.3-1.5-2.8-.3M43.9 394.3l-.6 .2 1.8 0-1.2-.2M138.4 394l-4.5 2.1-8 1.4-6.5 4.5-2 .8-9.7 .7 6.9 4.5 4 1.5 1.8 1.3 4.5 1.3 4.5 .3 4.5-.7 6 .2 5.8-2.4 1.4-1.5 2.5-1.5 5.4-1.5 2.6-1.5 .2-3 1.3-1.5-.3-1.5-5.4-.9-6-2-6-.8-3 .2M453.4 394.3l-.8 .2-.6 1.5 1.6 1.5 2.8 .5 2-.5-.5-1.5-2.8-1.5-1.7-.2M361.9 397.2l-.7 .3 2.2 .7 4.3-.7-2.8-.7-3 .4M489.4 396.5l-1.5-1-2.1 .5 .5 1.5 3.1 .6M42.4 397.7l.3-.2-.3-.2M79.9 398.2l-.6 .8 3.2 0-2.6-.8M351.4 400.5l-3 1.1-9 .2-1.5 1.6-.5 1.6 2 1.7 10.5 2.8-1.6 1.5 1.6 .5 6 .7 3-.7 .5-.5-1.1-1.5 1.8-1.5-.9-1.5 3.7-4.5-1-.7-3-.8-7.5 0M43.9 401.6l-1 .4 .1 1.5 5.4 1.4 1.5-.9 .1-.5-1.6-1.8-1.5-.4-3 .3M88.9 401.7l-.4 .3 1.9 .7 2.8-.7-4.3-.3M451.9 401.8l-.8 .2-2.8 4.5-1.9 1.5 1.3 1.5 2.7 1.3 4.5 .1 6.9-1.4 .5-1.5-.5-1.5 1.1-1.5-2.4-1.5 1.9-1.5-4.5-.7-6 .5M252.4 404.5l-1.1 2 1.4 1.5-3.2 3 3.2 3 .1 1.5 1.1 .3 7.5-.1 7.5-2.3 6-3.9 .3-1.5-3.3-.9-3-1.7-6 .9-4.5-2.1-4.5-.2-1.5 .5M279.4 406.4l1.5 .6 2.6-.5-2.6-.4-1.5 .3M91.9 407.8l-.9 1.7-4.1 1.5 2 1.4 4.5 .9 5.6-.8 2.6-1.5-5.9-1.5-.4-1.5-3.4-.2M254.5 408l2.9 0-2.9 0M451.9 412.4l.7 .1-.7-.1M127.9 413l-1.1 1 5.2 0-2.6-1.2-1.5 .2M280.9 414l-.8 1.5 .8 .9 3 1 3 0 2.8-1.9-1.5-1.5-2.8-.6-3 0-1.5 .6M456.4 413.8l-1.5 .6-1.5 2.1-1.6 .5 10.1 1.5 7.6 0-5.1-3-8-1.7M274.9 416.7l-4.1 1.8 1.4 1.5 1.2 .3 6 .9 1.5-.8-.2-1.9-1.9-1.5-3.9-.3M142.9 417.6l-.7 .9 .7 .4 1.6-.4-1.6-.9M120.4 419.3l-.8 .7 2.3 .4 1.5-.4-1.5-.8-1.5 .1M97.9 422.8l-.7 .2 .7 .6 1.5 .1 1.2-.7-2.7-.2M103.9 424l-1.4 .5 1.9 1.5 .8 1.5-.3 1.5 2.9 0-.1-1.5 2-1.5 .2-1.5-3-.8-3 .3M88.9 428.3l-1.1 .7 1.1 .7 4.7-.7-1.7-.6-3-.1M102.4 431.8l-2.4 1.7 2.3 4.5-1.1 1.5 1.8 1.5-.3 3 2.7 .3 .7-.3-1-3 2.7-1.5 .9-1.5-.4-1.5 2.6-1.5-.3-1.5-6.7-2.1-1.5 .4M55.9 437.3l-3.9 2.2 .4 1.5-4 1.8-1.1 1.2 1.2 1.5 2.9 1.1 4.5 .1 6.3-2.7 1.7-1.5-2.9-1.5-.2-1.5-1.1-1.5-3.8-.7M229.9 441.7l-1.4 .8 1.4 1.5-2.1 1.5 2.4 0 5.5-1.5-5.8-2.3M391.9 443.7l-5.4 1.8 2.4 2.5 3-.1 2-.9 .1-1.5-2.1-1.8M387.4 449.7l-.8 .3 2.3 2.1 .3 2.4 2.7 .9 4.1-.9-.5-3-5.1-2.1-3 .3M465.4 453l.5 0-.5 0M253.9 454.3l-.7 .2 2.2 .4 .7-.4-2.2-.2M253.9 457.3l-.7 .2 1.8 0-1.1-.2M322.9 470.9l-.5 .1 5 .9 1.3-.9-5.8-.1M199.9 481.1l-1.1 .4 7.1 2.5 1.5 0 2.3-1-2.6-1.5-7.2-.4M348.4 481.3l-5.8 1.7 0 1.5 8.8 .6 2.4-.6-2.4-2.2-3-1M489.4 484l-1.5-.9-1.5-.1-2.3 1.5 1.4 1.5 .9 .2 2.1-.2 .9-.7M468.4 485.6l-.7 .4 .2 1.5-1.9 3 3.9 0 4.5-2.1 4.9-.9-.7-1.5-2.7-.8-4.5-.2-3 .6M340.9 486.5l-.7 1 .7 .3 3.1-.3-1.6-.9-1.5-.1M61.9 488.2l-1.3 .8 2.8 .4 2.7-.4-2.7-1.1-1.5 .3M214.9 488.8l-1.1 .2 4.1 .4 2-.4-2-.5-3 .3M441.4 488.8l-.8 .2 2.4 0-1.6-.2M49.9 491.1l-.7 2.4 .7 .2 .9-.2-.2-1.5-.7-.9M171.4 494.9l-.8 .1 2 0-1.2-.1M141.4 495.6l-1.2 .9 2.8 1.5 .6 1.5 4.2 0-1.2-1.5 .4-1.5-2.6-1.1-3 .2M49.9 499.5l-5.1 1.5 2.1 .9 32.2-.9-11.2-.8-6-1.3-12 .6M105.4 499.3l-1.2 .2 2.7 .4 2.3-.4-3.8-.2M160.9 499.3l-1.3 .2 5.3 1.5-1 .3-1.1 1.2 2.6 .6 7.8-.6 3-1.5-10.8-.4-.5-1.1-4-.2M258.4 500.2l-.8 .8 3.6 0-1.3-.8-1.5 0M85.9 502l-.6 .5 5.1 .5 5.3-.5-5.3-1-4.5 .5M100.9 502.4l-.5 .1 6.5 1.2 1.5-.1 1.5-1.1-3-1-6 .9M190.9 502.4l6 .5 5.2-.4-5.2-.9-6 .8M463.9 502.3l-4.5 1.3-7.6 .4 12.1 1 8.7-2.5-8.7-.2M223.9 503.6l-1.2 .4 4.6 0-3.4-.4M249.4 503.8l-1.1 .2 6.3 0-5.2-.2M436.9 503.5l-1.2 .5 7.2 0-3-.6-3 .1M489.4 503.6l-3.9 .4 3.9 .2M42.4 504.3l13-.3-8.5-1.1-4.5 .5M204.4 505.4l6 .6 4.8-.5-1.8-.8-4.5-.4-4.5 1.1M346.9 505l-.7 .5 8.2 1.1 4.8-1.1-6.3-.8-6 .3M415.9 505.2l-.2 .3 3.2 .4 5.1-.4-5.1-.6-3 .3M76.7 507l-.6-1.5-12.8 0 6.1 .4 .9 1.1M134 507l-7.6-.6-8 .6M262.2 507l-9.8-.5-2.5 .5M319.1 507l-6.7-.4-6.5 .4M391.2 507l1.4-1.5-3.1 0-8.1 1.5M452.7 507l-3.8-.5-8.5 .5M42.4 361.7l.7-.2M78.4 362.9l-.6 .1 1.1 1.5 1 .2 13.5-.4 15 1.9 3-.2 .7-1.5-9.7-1.1-3-1.3-3-.4-6 0-4.5 1.1-7.5 .1M116.1 361.5l1 1.5 3.3 .5 1.5 1.4 4.1 1.1-1.1 1.6 7.5 .8 6 1.7 12 .1 6 1.3 4.5-1.7 4.5-.1 7.5 2.7 13.5 3 7.5 .9 3-1.3-11.2-4.5 .5-1.5 3.8-1.5-8.6-1.5-2.5-2.3-6 .1-9 1.6-6 0-2.5-.9 2.5-1.1 4.5-.6 2.5-1.3M132.7 361.5l-1.8 1.2-7.5 .3-3-.2-2.1-1.3M179.7 361.5l4.2 1.5 2.5 .3 21.4-.3-4.6-1.5M209.8 361.5l2.1 .6 11.5-.6M248.5 361.5l12.9 .8 7.5-.2 2.9-.6M289.3 361.5l.6 0 .2 0M314.1 361.5l1.4 1.5 8.8 0-2.4-1.5M346 361.5l4.1 0M362.5 361.5l2.4 1.3 3 .5 6.6-1.8M387.4 361.8l-.7 1.2 .2 1.5 .5 .1 15 .3 4.1-.4-2.6-.5-7.5 .2-4.5-1.9-4.5-.5M430 361.5l2.9 1.5-5.3 1.5 1.1 1.5 3.7 .8 6-.1 4.5 1.8 4.9 .5-.2 1.5 3.6 1.5-2.5 1.5 .1 1.5 5.8 1.5-7.2 1.5-7.5 .8-2.1 .7-1.4 1.5 2 1.7 9 2.4 .4 .4-1.6 1.5 2 1.5 .8 1.5 1.4 .6 6-.6 1.2-1.5-2.6-1.5-1.6-1.8-2.9-1.2 10.4-1.2 3-2.7 1.8-.6-1.5-1.5-5.7-1.5 .2-1.5 2.3-3-.2-1.5 7.6-.4 1.1 .4 .4 2.2 1.5 .6 3 0 3.6-1.3 1.9-3-12.8-1.5 11.3-1.5-1-.1-16.5-.5-9.4-.9-1.1-.8-1.5-.2-7.5 .8-1.5-.5-.7-.8 2.2-.6 6-.3 1-.6M463.1 361.5l-3.7 1.2-6.6 .3 12.6 .6 10.5-.5 6-1.3 7.5 .1M336.4 364.3l1.5 .8 3 .2 9.4-.8-9.4-1.3-4.5 1.1M487.9 364.5l-.4 0 1 0-.6 0M48.4 365.7l-.9 .3 .9 .5 3.2-.5-3.2-.3M131 366l4.4-.2 1 .2 .5 1.1 3.5 .4-4.3 0-5.1-1.5M223.9 365.5l-2 2-2.5 .8-10.5 .1-4 .6 .9 1.5 1.6 .7 3 .6 6-.1 .9 .3 .6 1.5 1.5 .1 8.5-1.6-.8-1.5 4.9-3 2.4-.5 9 .3 12 1.4 7.5 1.5 4.5-.4 3-2.5 13.5 .9 1.5-.7-13.5 0-.6-1.5-2.4-.7-3 1.4-4.5 .3-15-.2-3-1.4-3-.4-16.5 .5M309.4 365.9l3.5 .1-3.5-.1M102.4 367.3l-1.4 .2 4.3 0-2.9-.2M351.4 367.5l4.5 .5 3.1-.5-7.6 0M155.9 369l2.2 0-2.2 0M372.4 368.9l-.8 .1 6.8 .8 3.3-.8-3.3-.5-6 .4M489.4 367.9l-7.3 1.1 4.3 1 3 1.4M271.9 370.3l-.7 .2 4.8 0-4.1-.2M42.4 371.6l7.5 .3 15-1.2 1.5-.2 .8-1.5-5.3-.7-19.5-.5M339.4 373.5l-1.5 .4-1.2 1.1 1.9 3 .2 1.5-.9 1.3-4.5-.4-1.5-1-3-.6-7.5 .9-2.4 1.3 2.4 1 3 .3 15-1.2 1.5 .3 2.6 2.6 4.9 .1 1.5-1.8 6.3-1.3 .8-1.5-2.3-1.5-.4-1.5 1.6-1.1 7.1-.4-2.6-.7-1.5-1.9-1.5-.4-18 1.5M262.9 374.7l-.9 .3 3.9 .5 2.1-.5-5.1-.3M276.4 375l-6 4.3-7.5-.9-3 1.6-3 .1-2.3-.6 1.9-1.5-2.2-1.5-1.9-.2-3 2.6-7.5 .1-1.2 .5-.9 1.5 .6 .8 7.5 3.3 1.5-.5 3-2.4 6 .9 6-.3 12 .6 7.5 2.4 4.5-1.4 4.5-.6 3-1.3-1.2-1.5-.3-1.5-9.6-1.5-8.4-3M367.9 374.9l-.7 .1-1 1.5 4.7 .6 3.2-.6-.7-1.5-1-.5-4.5 .4M382.9 377.9l-1.2 .1 1.6 0-.4-.1M121.9 379.4l-.5 .1 1.4 0-.9-.1M376.9 379.2l-3.5 1.8 .5 1.5 4.5 1.5 3.8 0-1.5-3 .3-1.5-1.1-.6-3 .3M399.4 379.1l-1.5 .5-.3 1.4 .7 1.5 1.1 .5 4.5 .1 2.7-.6-.8-1.5-6.4-1.9M489.4 379.9l-6.1 2.6 3.1 2.8 3 .8M130.9 382.1l-.9 .4 2.4 .8 4-.8-2.5-.8-3 .4M42.4 385.5l4.5-.1 2.2 1.6-5.6 1.5-.8 1.5 1.2 .7 7.5 1.2 3 1.2 4.5 .5 3 1.3 7.5-.2 6 .8 1 .5-.6 1.5-2.9 1.5 .1 1.5 8.4 .6 3.3 .9 1.2 1.5-1.4 1.5 1.4 1.5-1.5 .8-3-.7-4.5-2.2-3.7 .6 2 1.5 4.7 2 6-.2 1.5 .6 .5 .6-8.7 1.5 1.5 1.5 .3 1.5 8.1 1.5 1.8 1.5 .1 1.5-4.6 4.5-.1 3-2.6 1.5 .6 1.5-2.2 3-7.5 3 .8 .5 3 .2 15-2 3 .1 1.9 1.2 1.5 3-.9 1.5 1.4 3-.2 1.5 1.2 1.5 2.6 .6 1.5 0 4.1-2.1-.4-1.5 .8-1.6 5.9-1.4-2.5-3 5.6-1.7 1.5-2.8-3-1.2-1.5 .1-3 1.4-2.7-.3-1.5-1.5 2.7-1.3 0-1.8 4.5-2.5 6-.3 4.5 .7 6-1.6 10.5-1 3 .4 4.6-1.6 2.4-1.5-5.1-3-.4-1.5-1.5-1.8 .1-2.7 7.6-1.5 .6-1.5-1.3-1.5 5-1.5 1.5-1.5 .3-3 2-1.5 .9-1.5-.8-1.5 8.1-2 1.6-1-1.6-1.6-6-.3-1.8 .4-1.2 1.7-1.5 .9-4.5 1.1-6-1.9-10.5-.5-1.5 .3-3 1.9-6 .8-7.5 2.3-4.5 .4-3 1.5-6 1.8-9-.2-11.7-2.6-6.3-4.1-5.6-1.9 10.1-4.5 4.5-.5 6 .5 3-.7 1.1-.8-1.3-1.5-.7-3-.8 0-.7 1.5-3.6 .5-5.8-.5 2.5-1.5-1.2-.6-7.5 2.4-3.8-.3-.6-1.5 3.4-1.5 .6-1.5 4.7-1.5-2.8-.6-4.5 .3-3 1.4-7.5 1.7-7.5-1.1-6 .3-10.5-.5M118.9 387.3l-1.1 1.2 2.6 .5 2.5-.5-2.5-1.4-1.5 .2M189.4 390l-4.5 1.5-.6 1.5-7.2 3-2.7 2.4-3-.1-.7 .7 2.2 1.5 7.5 .3 6-1.3 0-2.1 10.4-1.4 3.1-1.9 1.5-.3 3 0 4.5 1.5 7.5-.4 6 1.4 9-1.5 2.1-1.8-2.1-1.6-6-.5-1.5-.9-4.5-1.2-.5 1.2 3.5 .9 4.9 2.1-3.4 .6-4.5-.2-1.3-.4-3.2-3-1.5-.4-3.7 .4 3.8 1.5-3.1 .9-4.5 .4-16.5-2.8M465.4 389.8l-1.4 .2 2.9 .9 .1-.9-1.6-.2M489.4 389.9l-.1 .1 .1 0M451.9 392.5l-2.4 2-.5 1.5 .6 1.5 3.5 1.5-5.7 3 .3 1.5-.5 1.5-3 3 2.7 3-.3 3 1.1 3 3.3 1.5-1.8 1.5 1.2 1 6-1.3 16.5 .1 3.8-1.3-8.3-3.2-9.4-2.8 3.3-1.5 6.1 0 3.6-1.5-4.5-1.5-1.9-1.5 5.1-1.5-2.9-1.5-2.4-2.7-3-.7-1.2-1.1 1.2-1.8 6-.8 .4-.4-1.4-1.5 2.2-1.5-1.2-1.1-1.5-.4-1.5 .7-1.5 1.6-3 .5-4.5-1.7-4.5-.1M489.4 392.2l-4.5 1.4-1.4 .9-1.6 2.7-3.4 1.8 0 1.5 3.6 1.5 1.4 1.5-1.8 1.5 .2 .6 1.5 .4 6-1.1M360.4 395.7l-1.5 .5-3.5 2.8-10 .7-9.1-.7-1.4 1.5 .9 1.5-.5 3 4 6-2.9 .4-2.6 1.1 2.6 1.8 3 .4 6-1.3 6-.1 6 .9 6.5-1.7-1.2-6 2.2-.9 3 .2 2.9-.8-4.5-1.5 .6-1.5-.7-1.5 5.3-3-.7-1.5-4.4-.9-6 .6M265.9 398.8l-.6 .2 1.5 0-.9-.2M252.4 400.5l-1.5 .8-.2 .7 .6 1.5-1.5 1.5-.4 2-1.5 1.6-2.3 .9 3.6 4.5-.3 3 .4 1.5-1.7 1.5 3.3 .2 4.5 2.5 4.3-1.2 .2-2 1.5-1.2 4.5 2.8 6 2.5 12 .7 6.3-1.3 1.7-3-1.4-1.5 .9-1.5 4.8-4.5-.3-1.8-3-1.6-.4-1.1 .4-1.6-4.5-.3-6-2-9 .2-10.5-3.9-4.5-.4-6 .5M114.1 402l.8 0-.8 0M97.8 403.5l.4 0-.4 0M42.4 404.9l4.5 1.4 4.5 .5 10.5-1.1 1-.7-1-1.9-7.5 .5-3-1.4-1.5-2-4.9-1.2 1.9-2 2.2-1-.1-1.5-1.6-1.5-.5-1.2-4.5 .3M301.9 404.5l-1.3 .5 2.8 1.2 3-1.2-1.5-.6-3 .1M397.9 406.3l-.1 3.2-1 1.5 1.1 1.6 1.5 1 1.5 .2 3-.3 2.1-1-1.3-1.5 .5-1.5-2.1-3-2.2-.7-3 .5M283.9 409.5l3-1.4 3 .4 2.7 1-2.7 2.1-1.5 .3-3.8-.9-.7-1.5M489.4 408.6l-6 .9-7 0 1 1.6 12 .3M58.9 410.4l-.7 .6 1.1 0-.4-.6M105.6 411l1.3-.6 .9 .6-.9 .5-1.3-.5M275.6 411l2.3-.5 1.3 .5-1.3 1.7-3 .6-1.5-.3-.2-.5 2.4-1.5M339.5 411l3.7 0-3.7 0M42.4 411.5l1.4 1-.7 1.5 9.5 1.5-1.4-1.5-5.5-3-.7-1.5-2.6-.9M127.7 415.5l3.9 0 3.3 1.5-.3 1.5 3.7 1.5-2.9 .5-2.1-.5-.9-1.1-3-1.1-7.4-.8 1.4-.8 4.3-.7M94.9 417l3-.5 2.9 .5 2.2 1.5 .1 1.5-2.2 .4-2.6-.4-3.4-3M354.4 419.9l-.6 .1 .6-.1M113.3 421.5l2.6-.4 3 1.3 4.7 .6-1.7 1.2-7.5-.3-3.8-.9 2.7-1.5M243.4 421.4l-4.5 .3-1.3 1.3 2.8 1.4 3-.3 1.8-1.1-.2-1.5-1.6-.1M366.4 422.7l-.4 .3 1.9 .3 3.5-.3-3.5-.7-1.5 .4M448.9 422.3l-1.2 2.2 2.7 2.3 1.5 .2 4-1-.3-1.5 1.2-1.5-4.9-1.2-3 .5M478.9 422.9l-1.5 .3-1.3 1.3 2.8 .7 2.1-.7-.6-1.1-1.5-.5M459.4 425.9l-.5 .1 2.1 1.5 1.4 .2 1.8-.2 .7-1.5-2.5-.8-3 .7M403.9 428.9l-1.1 .1 1.1-.1M54.4 432.9l-3 1.2-7.7 .9 4.7 .4 1.5 .7 1.6 1.9-2.8 1.5-.9 1.5-3.3 1.5 .4 1.5 2 2.4 4.5 1.7 6 .2 1.5-.4 2.8-2.4 3.6-1.5 1.9-1.5-1.5-1.5 .4-1.5-1.2-1.2-4.6-1.8 .4-3-3.3-1.1-3 .5M459.4 433.2l-.7 .3 2 1.5 2.3 0-.6-1.5-3-.3M378.4 434.5l-.6 .5 0 1.5 .9 1.5 9.6 1.5-2.4 2.3-3.8 .7 1.5 3 .3 3-4 .8-1 .7 .3 1.5 6.7 2.9 1.3 1.6 3.2 .8 7.5-.7 4.8-1.6-1.6-1.5 .8-1.5-.8-1.5-4.9-4.5-1.3-3.2-1.9-2.8 .7-1.5-3.5-1.5-2.8-2.2-6-.8-3 1M489.4 435l-.5 0 .5 0M67.9 438l3 .3 2-.3-2-.9-3 .9M199.9 438l-2.1 1.5 2.1 .6 2.7-.6-1.2-1.1-1.5-.4M223.9 439.4l-1.6 1.6 3 3-2.1 1.5 2.5 1.5 1.2 1.5 2.9 0 .2-1.5 7.4-.7 4.5-1.2 .9-1.1-2.4-1.4-7.2-1.6-1.8-2.4-3-.2-4.5 1M322.9 439.2l-.8 .3 1.6 1.5-.2 1.5 3.8 1.5-2.9 1.3-3 .6-4.5-1.9-4.4 0 4.4 3.1 15 .4 3 1 7.5 1.3 1-1.3-.1-1.5 1.4-1.5 0-1.5-.8-.3-6-1.8-4.5-.1-1.5-.6-.4-.2 .2-1.5-5.8-.9-3 .6M363.4 439.5l.4 1.5-2.4 1.5 6.5 .4 6 1.1 4.7-1.5-7.7-1.1-7.5-1.9M477.4 440.8l-1.3 1.7 2.8 .5 8.3-2-5.3-.8-4.5 .6M246.4 446.7l-1.5 .5-.5 2.8 2.7 1.5 .2 1.5 1.9 1.5-.4 1.5-2.1 1.5 1.7 1.5 4 1.7 4.5 1.1 1.5-1.3 4.2-1.5-2-1.5 .7-1.5-.4-1.5 .4-1.5-2.2-3-3.7-1.8-9-1.5M361.9 446.5l-4.2 2 1.2 .9 3 .1 5.8-2.5-2.8-1-3 .5M373.9 449.7l-.4 .3 3.1 0-2.7-.3M456.4 449.7l-5.1 1.8-.3 1.5 .9 1.9 4.5 2.2 6 .3 9.5-2.9 .3-1.5-3.8-2.5-12-.8M276.4 452.9l-.6 .1 .2 1.5 1.9 .1 3-1.6-1.5-.4-3 .3M267.4 453.9l-1 .6 2.5 .9 5-.9-3.5-1.1-3 .5M268.9 460.2l-.9 .3 2.4 .7 1.5-.7-3-.3M427.9 463.3l-.8 .2 1.3 0-.5-.2M421.9 465.7l-1.2 .8 1.2 .4 2.5-.4-1-.8-1.5 0M319.9 469.3l-1.5 .2-2.3 1.5 9.8 2.4 4.5 0 4.4-.9-.1-1.5-5.8-1.8-9 .1M435.4 469.2l-.2 .3 1.3 0-1.1-.3M205.9 470.9l2.2 .1-2.2-.1M343.9 470.8l0 1 1.5 .8 1.5-.4 .6-1.2-2.1-.5-1.5 .3M439.9 471l-1.3 1.5 8.8 1.5 7.1-1.5-8.6-2.4-3-.1-3 1M474.4 470.9l1.3 1.6 1.7 .3 3.2-1.8-1.7-.7-4.5 .6M285.4 472.3l-1 .2 1.8 0-.8-.2M339.4 474l-1.5 .5-2.9 2.5 .5 1.5 3.9 1 3-.3 .5-.7-.6-1.5 1.6-1.5-4.5-1.5M460.9 473.8l-1.1 .2 2.6 .6 3.2-.6-1.7-.7-3 .5M273.4 475.4l-.6 1.6 2.1 1.5 4.5-.4 1.8-1.1-1.8-2-1.5-.4-4.5 .8M489.4 475.1l-1.5 .3-2.4 1.6-2.5 4.5-1.1 .7-6 .1-3 1.1-6 1.1-3.7 3-.8 1.7-12 0-.6-.2 1.6-1.5-10-1.1-3.6 1.1-1.6 1.5 1.5 1.5 3.7 1.3 6 .2 13.5 2.1 7.5-1.5 9-.4 4.5 .9 6 0 1.5 .7M42.4 477.3l.3-.3-.3-1.3M48.4 478.3l-1.4 .2-2.5 1.5 3.9 .4 1.2-.4 1.2-1.5-2.4-.2M105.4 478.1l-1.3 .4 2.8 1.4 1.5 .1 1.7-1.5-4.7-.4M196.9 478.4l-3.9 3.1 .9 1.2 14.4 3.3 .6 1.5-3 1.1-4.5-.2-1.5 .8 1.5 .6 4.5-.6 3 .2 12.8 2.6-4 1.5 1.7 1.2 4.5-.3 2.7-.9-2.2-1.5 1.6-1.5-.6-.3-1.5-2.8-4.5-1.4-6 .9-3.7-.9 2.2-2 10.5-2.5 .5-1.5-3.5-1.6-10.5 2-3.6-.4-3.9-1.7-4.5 .1M346.9 479.8l-8.9 3.2-1.8 1.5-.1 1.5 3.3 3.9 3 .6 10.5-2.9 4.9-3.1-.9-1.5-2.8-1.5 1.2-1.5-3.9-.9-4.5 .7M426.4 479.8l-.6 .2 .6 1.1 1.5 .2 1.1-1.3-2.6-.2M489.4 478.6l-.2-.1 .2-.1M114.4 484.4l-1.4 1.6 3.2 1.5-1.1 1.5 1.4 1.5 2.4 .1 1.7-1.6 .3-1.5-3.5-1.2-1-1.8-2-.1M367.9 484.2l-.8 .3 2.1 0-1.3-.3M385.9 484.4l-.8 .1-.6 1.5 2.6 1.5-.8 1.5 .3 1.5 .8 .3 4.5 .7 1.5-.5 .6-2 2.8-1.5-5.9-3-5-.1M90.4 485.4l-1.7 2.1-2.1 1.5-3.7 1.4-3 .3-1.3 1.3 2.8 .9 9.3-.9 1.2-.8 9 2.3 1.8 0-1.7-3-.1-1.5-10.5-3.6M306.4 485.7l-.6 .3 .6 .7 1.5 0 1.1-.7-1.1-.5-1.5 .2M427.9 485.9l-5.4 3.1 .9 .7 3-.1 1.8-2.1 5-1.5-2.3-.8-3 .7M42.4 487.4l2.1-1.4 .7-1.5-2.3-3 .7-1.5-1.2-.4M316.9 487.3l-.4 .2 2.6 1.5 3.8 .8 2.2-.8 .2-1.5-5.4-.5-3 .3M360.4 487.3l-.6 .2 1.4 0-.8-.2M232.9 488.8l-1.5 1.2-1.7 .5 9.2 .3 1.5 .4 3 2 5.3-1.2-11.3-2.5-1.5-.9-3 .2M57.2 490.5l1.8 0 .2 1.5-1.8 1-1.5-1 1.3-1.5M157.9 489.5l-3 1.6-6 .3-10.5 1.5-3 3.3-.9 .3 5 3 1.9 .5 4.5 .6 12-.1 1.6 .5 .3 1.5 4.1 1.1 4.5 0 7.5-1 4.6-1.6-15.1-2.6-12.2-.4 13.7-1.2 7.5 .5 3.3-.8 1.1-1.5 3.8-1.5-.7-.7-3-.5-10.5 1-6 2.4-7.5 0-4.5-.7 9.4-3 3-1.5-3.4-1.2-1.5 .2M42.4 492l.2 0-.2 .1M190.9 493.4l-.8 .1-1 1.5 1.9 1.5-2.1 1.5 7.2 1.5-4.1 1.5-5.6 .7-.4 .8 4.9 1 12 .3 .8 .2-2.2 1.5 8.9 .8 6.4-.8-1.9-1.2-1.9-.3 1.9-1.4 1.5 0 6 2.1 7.7-.7-6.2-1.9-4.5-.2-4.5 .5-3-2-7.5-.3-1.8-.6 2.6-1.5-1.1-1.5 .9-1.5-.6-.4-1.5-.3-3 1-3 .1-2.7-1.9-3.3-.1M109.9 494.9l-.7 .1 2.7 0-2-.1M42.4 495.8l3 1.4 18-1.6 1.4-.6 1.4-3 1.7 .5 1.5 1.2 2.6-.2-1.6-3 4.2-1.5 3.8-.5 .9-1-2.4-1.4-3-.5-6 1.1-6-.6-8.3-.1-.7 .1-1.5 2.5-1.5 .3-4.5-.3-3-1M219.4 497.7l-3.9 1.8 3.9 .8 6-.8-4.5-1.9-1.5 .1M241.9 497.8l-.7 .2 4.6 0-3.9-.2M253.9 497.6l-1.2 .4 .8 1.5-.7 1.5 5.6 .8 7.9-.8-4.9-2.8-7.5-.6M94.2 501l.7-.8 1.5-.3 3.4 1.1-3.4 .4-2.2-.4M228.4 500.1l-1.1 .9 2.6 .4 8.2-.4-9.7-.9M42.4 501.7l.7 .8-.7 .2M121.9 502.1l-1.3 .4 4.3 .9 3-.9-3-.6-3 .2M241.9 502l-1.3 .5 7.3 2.5 4.5 0 6.3-1-16.8-2M316.9 502.3l-.4 .2 1.9 .6 9.9-.6-6.9-.5-4.5 .3M388.9 502.4l7.8 .1-7.8-.1M274.9 503.9l5.8 .1-4.3-1.1-1.5 1M489.4 502.8l-6 .5-1 .7 7 .6M42.4 504.6l13.5-.1 2.3-.5-6.7-1.5 17.9-.7 19.5 1.6 10.5-.5 6 1.5 4.5 .2 1.2-.6 1.2-1.5 0-1.5 2.1-.4 1.1-1.1-8.6-2-10.5 1.8-12-1.9-5.1 .6 6.7 1.5-6.1 .7-10.8-.7-1.9-1.5-2.3-.7-4.6 .7-14.9 .4-1.5 .4-1.5 1.3M190.9 505.5l.7 0-.7 0M78.3 507l2.7-1.5-4.1-.7-12-.2-3 .3-1.1 .6 6.1 1.5M136.5 507l-4.1-.8-6-.2-7.5 .3-3.2 .7M240.9 507l-.5-.1-1.5-.1-1 .2M264.6 507l-1.7-.7-12-.4-3.4 1.1M289.2 507l-6.8-.4-3.9 .4M322.7 507l1.7-.7 7.5 .3 1.5-1.1-4.5-.6-25.4 2.1M341.3 507l-.4-1.5-5 1.5M356.6 507l2.3-.4 2.2-1.1-15.7-2-5.1 .5 .6 1.5 1.5 .4 11.9 1.1M394.2 507l2.2-.8 7.5-.5 16.5 .8 4.5-.3 1.8-.7-13.8-3-9 2.4-13.5 0-14.7 2.1M455.1 507l4.3-1.1 6 .6 1.5-.2 4.5-2.5 8.9-1.3-14.9-1.1-1.8-.4-.3-1.5-.9-.2-9.2 .2-5.8 1.5 9 .4 3.8 1.1-3.8 .9-7.5 .2-4.5-.3-4.5-.9-3 .1-1.5 .3-1.4 1.2 2.9 .6 10.5-.3 4.6 1.2-18 1.5M486.8 507l-3.9 0M42.4 362.2l1.5-.4 1-.3M85.9 361.5l-10.2 1.5 1.1 1.5 3.1 .8 13.5-.5 9.3 1.2-4.8 1.1-6.2 .4-2.8 1.5 1.5 .5 7.5-1.2 18-.7-.6-1.6 .5-1.5 1.6 0 4.5 1.5-.6 1.5-3.5 1.5-.3 1.5 1.4 .3 6 .5 4.5 1.3 1.5-.2 1.5-1.2 1.5-.3 4.5 .4 4.5 1.4 6-1.1 10.5 2.7 3-.5 .3-.3-.9-1.5 3.6-.2 11.4 3.2 2.1 1.9 7.5 .3 6 1.7 8.7-.9-.4-1.5 .5-1.5-2.6-1.5 2.3-1.5-1-.4-7.5-.2-3.5-.9 1.9-1.5 1.6-.5 1.5 0 8.3 2 2.8 1.5-.9 1.5 1.8 1.2 7.5-.4 4.5 .6 10.5-.6 2.5-2.3 0-1.5 3.5-2.1 1.5-.4 18 .9 3.6 1.6-6.9 3-2.3 3-1.9 1.2-6 .3-3 2.1-2.3 .9 .4 1.5 1.9 1.1 4.5 1.4 2.6 2 .4 1.5 6.9-1.5 .9-1.5 1.2-.6 3-.5 9-.5 3 2.5 6-1.3 10.5 2.5 3.4-.6 .7-1.5 6.4-.7 1.5-.9 1.9-2.9-.9-1.5 .8-1.5-9.3-1.2-.7-.3 0-1.5-.8-.7-6 .2-6-.8-6 .2-11.7-1.9 5.7-.7 16.5 .3 7.7-2.6 .8-1.5-13-1-5.3-2-.3-1.5 5-1.5M113.3 361.5l0 1.5-3.4 .4-6.7-.4-1.9-1.5M131.5 361.5l-2.1 .8-4.5 .2-4.3-1M167 363l5.9-1.3 1.5 .3 .4 1-6.4 .6-.9 .9-2.1 .3-8.2-.3 9.8-1.5M241 361.5l27.3 1.5-2.4 1-.9 2-5.1 .6-10.5-.2-4.5-1.5-4.5-.6-9 .3-13.5-.5-1.7 .4 3.8 1.5-1.4 1.5-3.7 .4-7.5-.4-6 .6-4.5-.7-7.5-.3-6.3-1.1-.8-1.5 1.1-.5 4.5-.3 21-.4 16.4-1.8M281.3 361.5l12.4 0M311.2 361.5l.1 1.5 2.6 .4 6 .3 7.1-.7-3.6-1.5M342.4 361.5l-6 1.8-1.8 1.2 1.8 .9 3 .3 10.5-.4 3.6-.8-.6-.8-2.5-.7 1-.1 1.7-1.4M360.2 361.5l.3 1.5 7.4 1.9 3-.4 4.5-2.3 3-.4 4.5 .6 1.5 .6 .2 1.5 2.8 .7 18 .2 3.4-.9-1.9-1.2-10.5 0-3.5-1.8M411.2 361.5l13.7 .6 4.1 .9-4.4 1.5 .4 1.5 3.6 1.5-6.8 1.5 11.2 1.5-1.8 1.5 10.2-.6 4 .6-.9 3-4.6 1.7-4.5 .8-3.8 3.5 11 4.5-1.7 3 3.5 .4 3.7 4.1-.7 1.8-1.4 1.2 .6 1.5 2 1.5-3.7 3 .2 3-4 3 2.2 1.5 .9 1.5 .2 1.5-.9 1.5 2.1 3 2 1.5-1.5 1.5 .4 1.5-1 3 1.1 3 3.8 1.4 4.5-.1 2.7 1.7-2.7 1-1.5-.5-1.5-1.5-1.5-.2-6 2.5-11.5 .2-.6 1.5 2.7 1.5 6.4 .7 1.5 .1 6-1.5 4.6 .7-3.1 .8-.8 .7 2.3 .7 6-1 6 .5 4.5-.8 2 .6 1.3 1.5 .8 1.5-.3 1.5 1 3 1.2 .6 7.2 .9 7.8 2.5M442.3 363l2.3 0-2.3 0M458.6 361.5l-3.7 .4-3.5-.4M489.4 363.8l-6 .2-3 1.1-3 .2-21.3-.8 3.3-.6 18-.4 4.5-1 7.5-.1M202.9 366l-.5 0 5 1.2 1.7-1.2-6.2 0M307.9 364.8l-1.2 1.2 3.9 1.5 .6 1.5 1.2 .2 12.4-.2-9.4-.3-2.3-1.2 3.8-1 4.5-.1 6 .9 4.1-1.3-14.6-.3-9-.9M342.4 367.5l9.8 1.5-3.8 1.4-1.5 1.2-13.4 1.9 .5 1.5-1.6 1.5-2 .8-15.9 2.2 .4 1.5 5 2 11.5 1-2.1 1.5 1.1 1.6 7.5-.2 6-1.6 9-.7 8.3 2.4-2.6 1.5 1.8 .7 7.5-3 4.5-.1 .7 .9-4.3 1.5-2.4 2.7-3 1.1-1.5 1.4-9.7 2.3 .1 1.5-9.9 .7-10.5-1-1.3 .3 1 1.5-1.2 .9-2.7 .6 5.6 1.5 .6 1.5-.4 1.5 .7 1.5-.5 1.5-1.8 1.1-6 .7-4.3 2.7 7.3 1.1 .8 .4-.4 1.5 2.6 .8 7.5 .1 7.5-1.3 3.4 .4-.3 1.5-6.9 6-3.8 1.5-2.1 1.5 2.1 1.5-3 3 3.5 1.5-4.5 1.5-2 1.5 4.6 1.1 9-1 3 .8 1.1 .6 .4 .8 6-1.8 6-.2 .5-.3-3.5-.3-4.9-2.7 3.2-3-4.3-1.3-4.5 .6-1.1-.8-.8-1.5 1.9-.5 1.5 1.1 3 .7 9-3 4.5 .9 10.5-.2 1.1 1-2.6 2-1.6 2.5 1.6 .5 6-.9 1.3-1.1 .3-1.5 1.4-.7 6 .4 3-.3 3-1.1 .6 .2-.9 1.5-2.7 2.4-5.3 .6 8.3 .3 2.6 1.2 .4 1.3 6.1-1.3 1.9-1.5 .9-1.5-.3-1.5-2.6-1.8-3-1-3 .1-3-1-5.4-.8 1.6-1.5-5.2-1.6-9-4.1-4.5-.3-.6-1.5-6.7-3 2.8-2.5 3-.4 6 .8 5.2-2.4 6.8-1.5 1.5 .6 1.2 2.4-1.8 3 2 1.5 1.6 2.6 9 .4 3-1.3 .3-1.7-1.7-1.5 1.4-2 3-1.6 4.6-.9-2.8-3-6.3-.9-6 1-4.5-1.4-4.5 .4-6-.5-3-1.6-3-.4-1.3 .4-.3 1.5 2.8 1.5-2.7 1.1-3 .1-4.1-1.2-1-1.5 2.1-3.2 3-1.1 3.7-.2 .3-3 6.4-1.5 .8-1.5-2.2-1.8-1.5-.6-4.5 0-1.1-.6 2.6-2.2 4.5 0 1.3-.8-.1-1.5-2.3-3 4.1-1.7 3-.5 3 .8 1.9 1.4-1.9 3 3 .7 9-.2 3-1.1 1.5-2.4 1.8-1.5-5.3 0-4-1.7-6.3-1.3-.7-1.5 .6-1.5-2.6-1.2-6 .7-13.5-.9-6 1.1-1.5-.2-.4-1 1.9-1.5 3 .2 3 1.1 9-.8 1.1-.5 1.1-1.5-2.2-1.6-15 1.1-10.5-1.6-12-.2-3 .8M402.4 367.4l-.7 .1 5.5 0-4.8-.1M471.5 367.5l11.9-1.1 4.8 1.1-6.3 .7-10.4-.7M273.7 369l4.2-.6 2.9 .6-2.9 .6-4.2-.6M100.9 370.3l-1.3 .2 2.8 1.7 3 .7 1.6-.9-2.4-1.5-3.7-.2M294.4 371.9l-.9 .1 3.9 .4 1.5-.4-4.5-.1M42.4 372.4l7.5 .6 6-1 9-.4 6-.9 5.1-1.7-5.1-1.6-16.8 .1 1.8-2.3 2.7-.7-16.2-.6M229.9 374.4l-.5 .6 6.7 0-1.7-.7-4.5 .1M463.7 376.5l1.7-.7 2.2 .7-3.9 0M358.7 378l3.2-.8 3 .2 4 .6 2.5 1.5-3.5 2-4.5 .3-3-1.8-1.7-2M489.4 378.5l-1.5 .2-8 3.8 1.7 1.5 .3 1.5-6.9 1.5 6.8 3-.2 3-2.7 2.3-6-1.5-1-.8-1.4-3-4.5-1.5 3.1-4.5-4.1-1.5 1.4-1.5 13.9-4.5-3.6-1.5 3.7-2.1 1.5-.5 7.5 .1M421.9 380.8l-.4 .2 3.5 0-3.1-.2M355.2 382.5l6.6 0-6.6 0M115.9 384l1.5-.7 1.5 .5-.2 1.7-4.3 0 1.5-1.5M195.4 383.9l3 1.2 3 .4 2.5-1.5-4-.8-4.5 .7M310.9 385l-1.8 2 4.8 .2 5.2-1.7-5.2-1-3 .5M459.3 385.5l2 0-2 0M243.4 388.1l-.9 .4 .5 1.5 1.9 .4 .7-.4-.7-1.5-1.5-.4M318.4 387.7l-1.5 .8 5.9 0-4.4-.8M84.2 390l4.7-.7 6 1.9 6 .6 3.3 1.2-.9 1.5 .5 1.5-2.7 1.5 5.7 1.5-.6 1.5-3.8 .4-4.2-.4-6.3-2.4-4.7-.6-4-3 2.7-.7 4.5 .3 1.8-1.1-8.8-1.5 .8-1.5M124 391.5l2.4-.6 .3 .6 4.2 .6 1.8 .9-1.3 1.5-5 .3-6 1.6-10.5 .5-2.9-.9 2.9-1.9 4.5-.1 4.5-1.8 5.1-.7M252.4 394l-2.5 2 .6 1.5-4.3 3 1.7 .9 1.4 2.1-1.1 1.5 0 1.5-1.8 1.1-3 .7-1.7 1.2 4.4 3 .7 1.5-.6 1.5-2.1 1.5 .5 1.5-2.7 1.7-6-.1-1.5-1.2-1.5 0-7.5 2.4-2.7 .2 2.7 .3 3.2 1.2 .5 1.5 3.8 2.1 3-1 10.5-.4 3.7-.7 .8-.7 4.5 .4 7.5-1.6 3 .4 4.5 2.1 4.5 .6 3 2.4 3 .3 8.9-3.9 8.8-1.5-2.1-1.5-3-4.5 4-3 1.9-4.5-.6-1.5 6.1-.2 9-2.3 1.3-.5 .5-1.5-.3-1.5-1.5-.3-25.5-.3-6 1.3-9-.3-4-1.9 1.4-3-1-1.5 .5-1.5-1.4-.7-5.8 .7 1.1 1.5-1.3 1.5-1.5 .1-6-3.7-3 .1M370.7 394.5l.2-.8 1.5-.4 .8 1.2-2.5 0M67.5 396l3.6 0-1.7 1.5-3 1.1-1.5 .1-1.3-1.2 3.9-1.5M418.9 398.8l-.8 .2-1.2 1.5 2 .4 3-.4 4.9-1.5-1.9-1.5-6 1.3M53.7 400.5l2.2-.5 4.3 .5-2.7 1.5-1.6 .2-1.7-.2-.5-1.5M66.3 403.5l1.6-.6 1.5 0 .5 .6-2 .8-1.6-.8M290.2 403.5l4.2-.4 2.8 .4-7 0M475 403.5l2.4-.7 2.9 .7-2.9 .7-2.4-.7M69.2 408l1.7-.4 2 .4 .3 1.5-3.8 1.7-5-.2 .1-1.5 4.7-1.5M49.2 409.5l3.6 0-1.4 .5-2.2-.5M190.9 410.9l0 .5 .7-.4-.7-.1M223.9 412.5l-6.9 1.5 3.9 1.2 3-.2 2.3-1 0-1.5-2.3 0M433.9 412.5l4.2 0-4.2 0M469.3 412.5l4.9 0-1.3 1.5-3.6-1.5M42.4 415.5l3 .3 3.2 1.2-.5 1.5 1.8 .6 7.5-.1 4.5 1.5 2.1-.5-3.6-3.6-3-.4-.5-.5 .5-.6 7.5-.7 9 .4 2.5 .9 1 1.5-2 1.2-2.5 .3-.1 1.5-3.4 .9-4.5 3-5.9 2.1-.4 1.5-2.7 1-9 .5-1.5-.3-3-2.5M225.4 416.6l-.8 .4 9.8 .9 .7-.9-2.2-.5-7.5 .1M430.9 416.5l-.9 .5 3.3 0-2.4-.5M82.2 418.5l2.2-.9 3.4 .9-4.9 4.5-1.5 .8-6 .1-3.1-.9 7.7-1.5 2.4-1.5-.2-1.5M312.4 418.3l-1 .2 1 .4 .9-.4-.9-.2M363.1 418.5l.3-.5 3.1 .5-3.1 1-.3-1M424.9 418.2l-1.5 .3 .8 1.5-4.4 1.5 1.2 1.5-1.7 1.5-.5 1.5 5.4 1.5 1.3 1.5-4.1 1.5 1.6 1.5 .3 1.5 6.1-2 1-1-2.3-1.5 4.1-3-3.9-1.5 2.8-1.5-.5-1.5-2.3-3-3.4-.3M172.9 419.7l-1.2 .3 .8 1.5-3.8 1.5 4.2 0 3.7-1.5-.5-1.5-3.2-.3M371.1 420l4.2 0 1.8 1.5-3.2 .4-1.3-.4-1.5-1.5M412.9 419.9l-.5 .1 1.2 0-.7-.1M461.7 421.5l4.1 0-1.9 .9-2.2-.9M192.4 424.4l1.6 .1-1.6-.1M64.8 426l9.1-.3 5.5 1.8-3.3 4.5-2 1.5-3.5 1.5-4.2 .5-1.5-.4-.8-1.6-3-1.5-.8-1.5 1.6-1.5 .4-1.5 2.5-1.5M202.9 426l7.5 .5 4.5 1.8 1.5 0 1.5-.8-1.3-1.5-3.2-.5-10.5 .5M259.9 426l-.4 1.5 .6 1.5 4.3 0 .7-1.5-.7-.5-1.5-1-3 0M181.9 427.4l-.5 .1 .5 .8 2-.8-2-.1M489.4 426.2l-3-.4-1.5-.9-.2-1.9-3.2-1.5 0-1.5-2.6-3 3-1.2 7.5-.3M154.9 429l-8 1.5 14 .8 1.6-.8-7.6-1.5M166.9 428.7l-.3 .3 5.2 0-4.9-.3M341.3 429l4.1-.6 2.6 .6-4.1 .8-2.6-.8M481.3 429l3.6-1 2.1 1-3.6 1.1-1.5-.4-.6-.7M42.4 431.8l.5 .2-.5 .2M201.4 431.6l-1.4 .4 2.9 .7 2-.7-3.5-.4M228.4 431.4l-1.1 .6 1.1 .4 2.5-.4-1-1.1-1.5 .5M249.4 431.9l1.9 .1-1.9-.1M384.4 431.1l-.3 .9-1.2 .3-7.5 .7-1.4 2-.1 1.8-3 1.3-3 0-4.5-.9-7.5 2.1-4.5-1.2-7.5 1.2-4.5-.7-3-1.2-12-.8-6.1 1.4-6.5 3 .5 1.5-2.9 .5-2.1 1 3.1 3-.7 1.5 .5 1.5 .7 .3 10.5-1.7 6-.2 7.5 1 7.5 1.7 7.5-.5 1.7 .9 1 1.5 7.8 .6 4-.6 3.5-1.7 3-.2 7.5 1.7 4.5 1.7 1.5 1.7 4.5 1.6 3 .5 4.5-1 7.5-.3 .6-1 3.7-1.5-2.1-1.5 1.2-1.5-.5-1.5-3.9-1.5 1-1.5-5-1.5-1.9-4.5 .9-1.1 6-.2 1.7-1.7-4.7-2.5-2.6 1-1.9-.1-2.7-1.4 .9-1.5-5.6-1.5-.1-1.1-4.5 .2M414.4 431.9l-.6 .1 1.2 0-.6-.1M342.2 433.5l1.7-.5 1.4 .5-1.4 .7-1.7-.7M397.9 433.4l-.6 .1 2.1 .6 1.3-.6-2.8-.1M477.8 433.5l2.6 0-2.6 0M489.4 432.3l-4.5 .6-2.5-.9 1-.8 1.5-.1 4.5 .5M235.9 434.8l-2 1.7-5.5 .2-7.5 1.9-15-1-6-1.2-3 .1-9.6 4.5-9.2 3 3.8 .7 7.5-.3 9 1.3 1.5-.5 1.5-1.5 7.5-1.4 1.5 .4 2.9 2.8 5.7 0-.5 1.5 9.9 3.5 4.5 .5 6-.9 3.9 1.4-.5 1.5 2.1 1.5-.1 1.5-2.9 1.5-2.5 2.7-1.8 .3 4.8 1.2 6-.3 2.9 .6 1.4 1.5 3.2 .5 9-1.6 2.1 1.1 .8 1.5 1.6 .2 2.3-.2 2.2-1.4 1.8-.1 1.4 1.5-1.9 1.5 3.2 1.7 5.3 1.3-3.8 2.1-4.5 .1-1.5 .6-.8 1.7-10 3 .2 1.5 7.6 1.5 0 .9-5.3 .6-.5 1.5 5.8 2.3 9-.2 .9-.6-6.9-.9-3-2.1 3-.6 6 1.3 1.5-.3 3.6-3.4-2-3 1.4-1 9-2.8 5.4-.7-2.4-.9-4.5-.5 1.1-1.6-1.1-1.5-6-2-1.4-2.5 5-3-6.3-3-.2-1.5 1.7-1.5-1.7-1.5 .5-3-8.1 .2-7.9 1.3 1.9 1.4 1.9 .1-5.2 0-.9-1.5-4.4-1.5 .9-1.5-1.3-.7-6-.7-.5-.1-.7-1.5-6.3-.7-2.1-.8-1-1.5-3.7-1.5 4.8-1.5-.9-1.5-4-1.5-3.6-.2M265.9 436.3l-.9 .2 .9 .6 1.5-.6-1.5-.2M44.9 438l.6 0-.6 0M258.4 439.4l-.7 .1-.8 1.2-.7 1.8 0 1.5 .7 .3 3 .6 3-.9 6 1.1 2.6-1.1-.5-1.5-2.1-1.6-4.5-.4-1.5 1.3-1.2-.8 1-1.5-4.3-.1M375 439.5l.9 0-.9 0M171.4 440.9l3 .8 1.6-.7-3.1-.5-1.5 .4M354.2 441l1.7-.9 2.3 .9-1.4 1.5 2.7 1.5-.2 1.5-3.4 1.9-6 1.7-2.6-.6-.7-1.5 5-1.5-1.7-1.7-4.8-1.3 1.8-.5 4.5 .4 2.8-1.4M377.4 441l1-.5 3.5 .5-4.5 0M375.9 445.5l2.5-.5 2.3 .5-2.3 .7-2.5-.7M42.4 447.5l4.5 2.1 7.5 .1 3 1 6 .9 1.5 1.4 1.5 .4 6 .1 .8-.5-.3-1.5-3.5-.8-4.5-.3-1.5-3.4 2.4-1.5 7.1-3 0-1.5 4-1.4 6-.3 10.5-4.1 1.5 0 1.9 1.3 .4 4.5 1.3 1.5-.6 1.8-1.1 1.2 4.6 1.5-.5 1-5 .5 5 .5 1.2 1 6.3 2.4 5.4-.9-.4-1.5-4-1.5 1-1.5 0-1.5 1.8-1.5 .1-1.5 2.1-.7 10.5-.5 7.5 .6 1.6 .6-2.9 1.5 1.3 .9 4.5 1.4 3 .2 1.5-.5 1.5-1.6 1.1-.4 6.4 0-1.4-1.5 1.4-.8 7.5 0 3-.6 0-.8-1.5-1.8-9 .6-3 .7-9-1.7-7.5 1-3-.3-4.8-3.8 .1-3-4.3-2.5-4-.5-.4-1.5 2.9-.4 10.5 2 6-.1-1.5-.4-.3-1.1 .5-1.5 2.7-1.5 4.6-.3 3 .3 3 1.7 4.5-.3 4.5 .6 2.5-.5-.3-1.5 1.6-1.5 3.3-1.5-1.8-1.5-3.1-1.5 .3-1.5 2.2-1.5 .1-1.5-4-3 1.8-1.5 .1-3 3.5-1.5 1.3-4.5 3-.4 13.5 1.7 9-.4 5.6-.9-1.9-1.5 9.8-3 3-.1 15 1.9 12-.8 3.2-1 2.9-3-3.1-2.5-8.6-2 2.9-1.5-13.8-.9-3 .4-3.7 2-5.3 1.6-4.5 0-10.5-1.3-3 .6-3 1.6-4.5 .3-6.8-1.3-6.7-.5-3-1.2-10.5-.4-1.4 .6 2.9 1.3 6-.1 .7 .3-.2 1.5-2 .7-4.1-.7-.4-.7-6 .9-8-.2 1.1-1.5-2.7-3 1.5-3 2.5-1.5-.4-.5-5.8-2.5-4.7 .1-4.5-1.6-4.5-.8-4.5 .3-6 1.6-7.5 .3-1.5-.3-3-2-1.5-.3-4.6 1.2-1.4 1.3-1.5-.2-7.5-4.2-7.6 1.6-1.9 1.5-1 .2-10.5-.7-7.5 1.3-10.5-.3M186.4 448.5l1.5 .5 2.2-.5-3.7 0M456.4 448.3l-7.9 1.7-2 3 1.3 3-2.3 3 1.9 1.3 1.5 .2 9-1.4 1.5 1.9 9-2-.2-1.5 8.6-3-.9-1.5-7.5-4.1-10.5-.9-1.5 .3M117.4 450l1.5 1.3 1.5 .2 3.1-1.5-6.1 0M90.4 454.4l-.8 .1 3.8 .5 1.3-.5-4.3-.1M115.9 455.9l-.8 .1-.6 1.5 2.9 .5 3.1-.5-2.6-1.5-2-.1M271.9 457.5l4.5-1.1 4.5 .5 1.2 .6-1.2 2.3-3 .9-1.5 0-4-1.7-.5-1.5M408.4 457.2l-1.5 .3 9 3 4.5-1.5-1.8-1.5-1.2-.2-4.5-.5-4.5 .4M91.9 458.9l-4.4 1.6 5.9 2.2 1.5 0 4.5-1.6 9 .6 4.5-.4 2.1-.8-2.1-1.9-1.5-.2-9 .8-6-1.1-4.5 .8M138.4 458.9l-3 1.2-4.7 .4 11.9 1.5 5.2 1.5-.5 1.5 3.1 .6 6-1.1 1.3-1-5.8-2.4-.6-.6 0-1.5-.9-.4-4.5 .5-7.5-.2M321.4 458.9l1.8 .1-1.8-.1M76.9 460l-.3 .5 1.8 .7 2-.7-2-1.3-1.5 .8M172.9 459.6l-1.2 .9 1.2 1.5 3.8 0 2.9-1.5-2.2-1-4.5 .1M210.4 460.3l-4.5 1.5 0 1.7-3.8 1.5 2.3 1.6 1.8-.1 1.2-1.6 3-1.6 1.5-1.9 4.4-.9-5.9-.2M304.9 459.9l-.9 .6 3 0-.6-1-1.5 .4M124.9 461.6l-1.3 .4 1.3 1.5 1.5 .6 2.9-.6 1-1.5-.9-.9-4.5 .5M457.9 461.4l-1.1 .6 1.4 0-.3-.6M219.4 463.1l-.9 .4-.3 1.5 1.1 3 1.6 .9 1.5-.1 1.4-.8 .4-1.5-1.8-2.8-1.5-.7-1.5 .1M78.4 464.8l-1.3 .2 1.9 0-.6-.2M87.4 464.8l-1.5 .2 .5 1.5-.5 1.5 3 .7 4.5-1 4.8-2.7-4.8-1-6 .8M300.4 464.8l-.7 .2 2.2 1.1 3.9-1.1-5.4-.2M177.4 466l-.6 .5 3.6 .4 3.2-.4-1.7-.8-4.5 .3M118.9 467.8l-.7 1.7 3.7-.2 2.8-1.3-1.3-1.4-3 .4-1.5 .8M190.9 467.9l-3 1.5-.5 1.6 2 .6 1.5-.4 2.7-1.7 1.1-1.5-2.3-.6-1.5 .5M162.4 469.1l-4.8 1.9 .3 1 .4 .5 4.1 .4 6 .2 4.3-.6-4.3-.7-1.5-2.3-1.5-.8-3 .4M234.4 469.4l-.7 .1 1.3 0-.6-.1M262.9 469.2l-1.4 .3 2.9 .7 2.2-.7-3.7-.3M428.7 471l.7-.4 2.6 .4-3.3 0M141.4 472.2l-1.2 .3 1.2 .9 4.1-.9-4.1-.3M148.9 472.5l4.5 .8 4-.8-4-.9-4.5 .9M489.4 471.4l-2.9-3.4-1.6-.3-4.5 0-12 3.3-1.5-.3-9-3.7-.5-.5 .6-1.5-1.6-1.1-1.5 0-1.5 1 .5 1.6-2 1.4-10.5 .1-6.3-1.5 0-1.5-1.2-.3-3.7-4.2 .3-1.5-1.1-1.6-1.5 .1-1.5 1.8-4.5 1.2-6 0-1.5 .5-1.5 1.5-4 1 2.5 1 5.4 3.5 2.1 3 1.5 .4 3.7 2.6 .8 1.5 .2 3-2.5 1.5 .3 1.5 3 1.5-.1 1.5-6.1 3-.8 3.3-3 .9-6-.5-9-4.5-4.5-1-4.5-2.2-1.5-.1-9-.3-4.2 1.4 1.2 .2 4.4 2.8-2.9 1.2-12-.5-1.5-.7 9.4-3-12.4-4.8-6.1-1.2-2.2-1.5 .8-1.5-7.1-1.5 5.1-1.5-.4-1.5-12.2-3 .7-1.5-5.5-1.5-4.6-.6-3-1.1-2.5 .2 2.4 1.5-8.4 1.5-3.5 2-7.5 .1-1.7 .9 3.4 1.5-.2 1.5 1.5 .4 12 1.6 7.5 .4 1.2 .6-1.5 1.5-1.2 3-2.6 1.5 2.6 .6 4.5-.9 1.8 .3-3.3 .8-.5 3.7 1.5 1.5 0 1.5-.4 1.5-2.1 1.5 4.5 1.5 7.5-1.8 3-1.4 6-.8 15 1.6 4.5 2 1.5 0 4.5-2.5 3 .4 3 2.2 13.5-.3 13.5 1 2.7-.4 1.8-.9 4.5 .1 4.5-.8 7.5 2.3 3-1.7 6 1 12 .8 6.4 2.2 1.6 1.5-12.5 .9-1.5 .3-2.9 1.8 1.4 .8 9 .1 3 .6-1.5 .3-9 .2-3-.5-1.5-.9-3-.2-10.5 .8-6-.6-2 .9 9.5 .3 3 2.1 1.5 .2 10.5-.4 4 .8-2.5 .4-16.5 .2-9.9-2.1-.6-1.4-3-.6-10.5-.4-3-1.2-9 1.1-7.5-1-3.9 .5 2.4 1.6 8.1 1.4-17.1 1.9-9-.8-2.6 .4 .5 1.5M208.2 474l3 0-3 0M303.4 473.8l-3 .7-1.6 1 3.1 .8 3.9-.8-.9-1.5-1.5-.2M481.5 474l1.9-.5 .3 .5-2.2 0M431.6 475.5l5.3-1.4 10.5 .9 6-.4 3 .8 3 2.2 7.5-.3 6.3 1.2-7.8 2.6-1.5 .1-4.5-1.1-9 1.1-.9 .3 2 1.5 0 1.5-4.1 .5-1.6-.5-1.4-1.2-6 .4-3.8-.7-.6-1.5 .5-1.5-6.2-1.5-1.5-1.5 4.8-1.5M310.9 476.7l-.5 .3 4.2 0-3.7-.3M346.6 477l1 0-1 0M123.4 478.1l0 .6 1.5 .5 9.3 2.3-2.4 1.5 .9 1.5 1.2 .3 4.5 .1 4.8-3.4-7.6-3-10.7-1.1-1.5 .7M153.4 478.1l-1.4 .4 .6 1.5 6 0-3.7-1.8-1.5-.1M438.4 478l-1.1 .5 2.6 .6 5.3-.6-3.8-.9-3 .4M98.4 480l2.5-.5 1.8 .5 1.8 1.5-.5 1.5-4.6-.4-1.4 .4 1.4 .5 .7 1-.3 1.5-1.9-.1-3.2-1.4 .8-1.5 2.4 0 .5-3M477 480l1.9-.6 1.6 .6-1.6 .4-1.9-.4M171.4 480.9l-1.2 .6 2.7 .7 1.5-.1 .8-.6-3.8-.6M307.9 483l-9 3.8-.7 .7 1.3 1.5-3.6 1.3-3-.3-1.5-1.2-4.5-.2-4.5-1-1.5 .5-1.2 .9 1 1.5-1 1.5 2.9 1.5-4.5 1.5 .5 1.5 1.1 1.5 3.5 0 2.8-3-.6-1.2-1.2-.3 .6-1.5 3.6-1.9 4.5 1 1.3 .9-3.9 1.5 4.1 2.6 1.5-.5 1.5-1.9 4.5-.8 1.3-.9 3.2-.8 3-2 3-.1 7.5 2.3 3 .2 3.2-1.1 3.1-3-3.3-1.4-12-1.5-4.5-1.8-1.5 .2M460.5 483l1.9-.6 .8 .6-2.7 0M198.8 486l2.6-.4 2.5 .4-2.5 .5-2.6-.5M225.8 486l1.1-.9 4.6 .9-1.6 1.5-1.5 0-2.6-1.5M150.1 489l2 0-2 0M167.6 490.5l5.3-.9 2 .9-3.5 1.6-2.4-.1-1.4-1.5M207.9 490.5l1.3 0 3.8 1.5-2.6 1.3-1.5 0-2.5-1.3 1.5-1.5M122.7 492l2.2-1.1 6 .3 1.9 2.3-1.9 .9-7.5 1.4-.6 .7 2 1.5-2.9 1-4.5-.1-3.3-.9 1.8-1.4 4.5-1 5.3-2.1-3-1.5M233 492l4.2 0 .8 1.5-.6 .5-3-.5-1.4-1.5M86.3 493.5l8.6 .1 3.7 1.4-.4 1.5-1.8 .4-12-.4-1.2-1.5 3.1-1.5M160.6 493.5l2.1 0-2.1 0M316.9 493.2l-.6 .3 1.1 1.5 1 .3 3 .4 2.4-.7-2.4-2.3-4.5 .5M465.5 495l2.9-.8 6 .7 6-.5 4.5 .4 .5 .2 .4 1.5-2.4 .1-7.5-1.2-2.5 2.6 11.5 1 1.5 .7 .8 1.3-2.3 .9-18.4-.9 .4-1.8 2.4-1.2-4.2-1.5 .4-1.5M228.5 496.5l1.4-.8 7.5-.3 3.8 1.1-6.8 2.2-7.2-.7 1.3-1.5M337.9 496.4l3 .8 3.1-.7-3.1-.5-3 .4M366.4 496.4l1 .1-1-.1M379.9 496.2l-1.5 1.2-5.7 .6 19.3 0-7.6-.9-3-1.1-1.5 .2M424.9 496.4l-1.5 .2-2.7 1.4 2.7 2.4 1.5-.5 1-1.9-.5-1.5-.5-.1M304.9 497.7l-1 .3 4 1 1.5 0 1.9-1-3.4-.7-3 .4M402.4 497.7l-.8 .3 2.3 .7 2.1-.7-2.1-.6-1.5 .3M179.7 499.5l2.2-1.1 1.5-.1 5.1 1.2-5.1 .6-3.7-.6M237.1 499.5l3.9 0-3.9 0M334.9 498.8l-1.2 .7 2.7 .7 2.3-.7-2.3-.8-1.5 .1M358.9 502.3l-1.2 .2 8.7 .6 3.8-.6-3.8-.6-7.5 .4M319.9 504l6-.4 4.4 .4-5.9 .4-4.5-.4M42.4 505l15 .3 3.4 1.7M254.1 505.5l5.8-.7 2.4 .7-8.2 0M79.7 507l3.2-1.1 9-.4-13.5-1.4-12 .1-1.8-.2-2.7-1.2-4.5-.3 13.5-.3 2.4 .3 2.1 1.2 1.5 .2 22.5-.5 2.7 .6 .3 .7 1.5 .5 4.2 .3 2 1.5M106.1 507l-3.7-.9-1.5 .1-.6 .8M138.8 507l-7.9-1.4-13.5 0-2.6-1.6 2.6 0 1.5 .7 3 .4 7.5 0 1.5-1 1.1-1.6-5.7-1.5 6.1-1.8 10.5 2.3 12 .4 .7 .6 6.1 1.5 3.7 .4 3 .1 4.5-1 9-.6 4.4 1.1 .4 1.5 2.7 .4 25.5 .5 17.5-2.4-4-1.5 4.5-.6 3 .1 6.6 2-.6 .9-1.4 .6-5.2 1.5M183.1 507l-6.3 0M267.1 507l3.7-1.5-.4-.5-6-.4-4.5-1.8-5-.3 12.5-.2 3 .9 1.5 1.3 4.5 .3 7-.8-.1-1.5-8.5-1.5 .5-1.5-.4-.3-4.5-1.5-20.1-2.7 .6-.6 6.3-.9-1.2-1.5 3.8-1.5 3.1-.2 7.5 1.4 2.4-1.2-.9-1.6-5.1-1.4-2.4-2.9-1.5-.6-3 .8-1.5 1.1-.6 1.6-.9 .6-12 1.2-1.7-.3 1.3-1.5-2.3-1.5-7.8-3.1-4.5-.5-3 1.5-1.5 .2-2.9-1.1 2.9-.9 4.5-2.4 9-1 4.5 .2 3.3-3.4-1.8-2.3-1.5-.3-4.5 .4-1.3 .7-.2 1.5-1.5 .9-9 2.3-6.4-1.7-3.5-1.5 4.6-1.5-.3-1.5 .6-1.5-1-.5-6 1.3-3-2.6-3-.4-7.4 .7 .2 3 1.2 2.6 4.5 .4-4.5 .1-2.9 1.4-1.6 .1-2.4-.1-2.1-1.3-1.5-.2-7.5-.4-2 .4 5 2.2 3.7 .8-2.3 1.5 0 1.5-2.1 3 2.5 3 5.7 .8 1.4 .7 .8 3-2.2 .4-4-.4-2-1.8-7.5-3.7-4.5-1.1-6 1.3-6 .5-7.5-1.5-6 .8-6-.4-4.5 .8-3 1.6-6 1.5-3-1.5-4.5-1-2.4-1.5 .6-1.5-2.7-3.5-6-.6-3-2.4-9-2.3 .2-1.7-1.7-.3-7.5 1-2.4 .8-.6 1.5 .3 1.5-2.2 1.5-1.2 3-3.8 1.5 1.3 1.5-.4 1.4-1.5 0-1.5-.7-1.2-.7-.9-1.5-2.4-.9-9-.9-9-.1-2.4 1.9-4 0-2-1.5 2.4-1.2 4.7-.3-1.4-1.5 0-1.5-7.8-1.9-2.2-1.1 2.2-1.2 3-.7 .6-1.1-9.6-.5M345.1 507l4.8 0M362.7 507l1.9-1.5-12.2-1.5-4-1-7.5-.3-4.5-1.2-7.5 .4-10.5-.7-3 .2-1.5 .9 .1 1.7 3.8 1.5-2.4 .4-19.5 1.1-16.5-.7-3.2 .7M401.9 507l3.5-.4 5.9 .4M459.1 507l.3 0 1.5 0M469.9 507l0-1.5 6-1.7 3 .1 4.5 1.3 6-.2M489.4 506.8l-6-1-5.3 1.2M42.4 362.7l1.5-.2 1.5-.5 1.2-.5M58.4 361.5l5 .7 3.1-.7M83.1 361.5l-6.2 .5-3.3 1 1.8 1.8 3 .9 13.5-.5 7.9 .8-12.8 1.5-2.6 .8-4.5-1.4-21 .1-1.7-1 5.7-1.5-20.5-1.2M109.2 361.5l-2.3 1-1.7-1M130.2 361.5l-3.8 .6-4.2-.6M237.4 361.5l3 .6 19.3 .9 3.2 1.5 .3 1.5-12.3 .1-.9-.1-.1-1.5-8-.7-12 .5-15.4-1.3 12.5-1.5M307.4 361.5l.8 1.5-4.2 1.5 1.2 1.5 2.2 1.5 .5 1.5 1.5 1.5 1.5 .4 12-.6 12-2.6 12.3 1.3-2.1 1.5-4.2 1.3-7.5 0-4.5 1.2-9.1 .5 1.6 .6 7.5-.3 2.6 1.2-2.8 1.5-19.3 1.9-1.5-.4-.6-1.5 2.1-1 2.7-.5 0-1.5-1.2-.6-4.5-1.1-18-1.1-.5-.2 3.5-1.3 .9-1.7-2.4-.7-12-.8-4.7-1.5 .9-1.5 2.3-.9 13.5 .1 5.9-.7M338.5 361.5l-4.9 1.5-.8 1.5-2.4 .7-7.5 .1-10.7-.8 17.8-1.5-5-1.5M377.4 363l4 .4 1.5 1.4 3 1 10.5-.3 8.9 .5-7.4 1.5 3 .8 10.5-.6 4.5 .3 9 3.6 1.5 1.2 4.5 .9 2.3 1.3-2.3 2.3-6 1.3-7.5-.6-.2-1.5-1.3-1.1-6-.2-6 .8-4.5-.4-1.5-.6 1.5-2.4 8.4-.6-6.9-.8-1.5-.7-10.5-.7-1.5-1-1.5-2.1-7.5-.3-4.3-1.9 3.3-1.5M406.4 361.5l-7 1.3-2.7-1.3M160.7 364.5l1.9 0-1.9 0M185.1 364.5l14.8-.9 12 .3 1.7 .6-1.7 .7-10.5 .6-9 1.2-7.8-1 .5-1.5M356.7 364.5l3.7-.4 4.9 1.9-4.9 .5-9.9-.5 6.2-1.5M410.9 364.5l2-1.3 1.5-.1 5.4 1.4-6.9 2-2.2-.5 .2-1.5M461.6 364.5l9.8-.6 7.1 .6-7.1 .5-9.8-.5M489.4 363.1l-1.2-.1 1.2-.1M317.7 367.5l3.4 0-3.4 0M366 367.5l.4-.7 1.5-.2 4.5 .3 1.6 .6-8 0M101.3 369l8.6-.7 3 .3 1.2 .4-.6 1.5 14.9 3 4.4 3-3.4 .7-10.5-2.2-6 .7-3 1.2-4.5 .2-6-1.6-9 .7-3.8-1.2-.5-3 5.8-1.1 3 .2 7.5 2.9 3 .6 4.5 .3 1.3-1.4-.3-1.5-1-.5-4.5-2-4.1-.5M78.3 370.5l.6 0-.6 0M192.3 370.5l4.5 0-4.5 0M234.6 370.5l2.8-1.2 1.5 .1 1.7 1.1-1.7 1-3 .2-1.3-1.2M42.4 373.4l9 .9 5 2.2-6.5 1.4-7.5-1.3M71.7 373.5l2.2-.5 1.5 .5-3.7 0M242.9 373.5l2 .3 1.3 1.2-1 1.5-6.6 0 1.8-2.1 2.5-.9M415.9 373.5l-.7 0 .7 .3 0-.3M64.7 375l1.7 0-1.7 0M142.2 375l5.2-.7 3.6 .7-2.1 1.1-1.5 .2-5.2-1.3M292.7 375l1.7-1 7.5-.3 1.5 .1 1.1 1.2-4.1 1.1-6-.5-1.7-.6M166.3 376.5l3.6-1.4 3 .3 4.5 2.7 6 .9 3 1.3 .8 .7 0 1.5-4.3 1.5-1.2 1.5-7.3 2.3-4.5 .5-1.3-1.3-1.7-.3-12.9 .3 .9-3-3-.4-4.5 .9-1.5-.3-1.3-1.7 2.8-.9 3.7-2.1-.2-1.5 1-.3 3 .1 3 .8 8.4-2.1M216.2 376.5l4.7-.6 4.5 1 9 0 3 1.1-5.3 3 .8 1.5 2.2 1.5-.7 1.3-1.5 .3-15-1.2-4.5-1.5-4.5-.1-1.5-.9-5.7-.9 2.7-.5 6 .6 6-2.9-.2-1.7M489.4 376.7l-4.5-.4-3.7-1.3 1.9-1.5 6.3-.2M302.5 379.5l.9-.7 3-.2 2.6 2.4-5.6 1.9-1.2-.4 .9-1.5-.6-1.5M481.3 379.5l.9 0-.9 0M387 381l3.4-.6 2 .6-3.5 1.4-1.9-1.4M412.7 381l3.2-.9 1.5 .4 1.5 1.7 1.5 .6 9 .1 4.7 1.1 3 1.5-1 1.5 .8 2 1.5 .6 4.5 .6 1.5 1.3 .5 3-2.2 1.5 2 3-3.1 1.5 1.1 4.5-2.1 1.5-2.2 .8-2 2.2-2.5 1.4-7.5 .3-3.6 1.3 3.7 1.5 0 1.5-2.1 1.5-4 .6-3-1.4-5.1-.7 .8-3-3.8-1.5 2.1-2.1 8.3-2.4-1-1.5 2.6-3 8-1.5 2.7-1.5 .1-1.5-5.6-1.5-.1-1.5 2.9-1.5-2.9-.1-.5 1.6-7 2.1-6-1.3-4.5 .5-2.3 1.7 .8 1.2 1.4 .3-7.4 1.8-9 .4-3.2-.7 5.7-4.5-8.8-1.5 4.8-1.1 5.4-3.4-2.1-3 1.2-.8 3-.5 9 .4 1.5-.3 2.5-1.8 .4-1.5 1.4-1.5M469.8 381l3.1-.5 3 .5-3.2 1.5-3.7 0 .8-1.5M257.7 385.5l5.7 0-2 1.1-3.7-1.1M390.2 385.5l2.4 0-2.4 0M139.5 387l1.9-1.3 1.5-.1 3 .6 .9 .8-2.4 1.9-1.5 .3-1.5-.4-1.9-1.8M189.3 387l12.7 0 .1 1.5-5.2 0-1.5-1.1-6.1-.4M299.4 387l4-.7 1.5 .7-1 1.5-4.7 1.5 2.7 1 3-.4 3-1.4 3-.1 10.5 1.1 12-1.6 3 .1 7.5-1.7 1.5 0 8.1 3-2.9 1.5-.7 1.8-3 2.6-3 .9-6 .1-4.4-.9-1.6-.9-4.5 1.1-4.8-1.7 .9-1.5-2.1-.3-1.8 .3 1.4 1.5-2.6 .6-.8 .9 .4 1.5-1.1 .5-3 .1-2-.6-.8-1.5 4.2-1.5-4.4-.8-1.5 .1-2.9 2.2-6.1 3.1-3-.1 2-3-2-1.1-3 1.4-7.5 2.1-6 3-4.5 0-3.5-.9 .2-1.5 2.6-1.5 0-1.5 2.2-1.5-.8-3 .8-1.6 1.5-.7 7.5 0 6-1.7 6.5-.5M250.7 388.5l4.7-.5 1.5 .5 .9 1.5-2.4 1.1-4.5 .3-1.4-1.4 1.2-1.5M272.9 388.5l2-.5 1.3 .5-3.3 0M472.2 388.5l5.6 1.5 .4 3-3.8 0 .2-1.5-1.7-2.8-.7-.2M96.7 394.5l2.6 0-1.4 .8-1.2-.8M241.7 394.5l3.2-.5 2.3 .5-3.8 .9-1.5-.2-.2-.7M200.5 397.5l3.9-.4 2 .4 1 1.1 1.5 .3 6-.4 4.5 .4 6-.8 9 .1 4.5-1.2 1.5 .6 1.2 1.4-4.4 1.5 6.2 .5 2.4 1 1.7 1.5-1 1.5-.1 1.6-11.5 1.4 2.1 1.5 .7 1.5-4.8 1-3-1.2-7.5-.1-3-2.2-3-1.2-4.5-.6-1.5 .4-1.6 .9 3.1 .8 .6 .7-1.9 1.5 .5 1.5-2.2 1.2-6 1.4-5.8-1.1-.7-1.5 1.9-1.5-2.9-2-3-.8-3 0-2.1 2.8-.2 3-.8 1.5-2 1.5 2.5 3-1.9 .9-4.5-.2-3-1.7-3-.8-3-2.7-7.3-1.5-.8-1.5-3.6-1.5 3-1.5 2.2-3 2-1.5-2.9-1.5 .1-1.5 1.3-.4 25.5 1.6 7.5-2 7.4-.7-5.9-1.2-.3-.3 .9-1.5M408.6 399l2.8 0-2.8 0M219.4 400.1l-4.8 1.9 4.8 1.8 2.2-.3 .5-1.5-2.7-1.9M321.1 402l4.8-.1 4.5 1.3 .6 .3 0 1.5 1.1 1.5-3.2 1.3-7.2 .2-.6 1.5-2.7 3.2-1.5 .7-3-.1-2.3-.8 1-1.5 4.3-1 3.7-2-.7-.1-.7-1.4 2.3-1.5-2.6-1.5 2.2-1.5M374.9 403.5l2.4 0-2.4 0M190.9 406.5l1.5 .7 1.5 .1 2.2-.8-2.2-.8-3 .8M378.9 411l6.9 0 4.9 1.5-4.2 1.5 3.9 1.3 3.5 3.2-3 0-4.4-1.5-2.1-2.2-2.8-.8 1-1.5-3.7-1.5M216.7 412.5l1.6 0-1.6 0M241 412.5l1.1 0 2 1.5-2.2 1.7-3.6-.2 .7-1.5 2-1.5M300.7 412.5l1.2-.8 1.5 .1 1.2 .7-1.2 1.5 11 1.5-6.5 1.8-1.3 1.2 2.5 1.5 1.3 1.5-2.5 .6-4.5-.1-5.5-2-.3-1.5-2-1.5 2-1.5 3.6-1.5-.5-1.5M210 415.5l1.9-.5 3 1.2 4.5 .8-1.5 .7-1.5 0-6.4-2.2M318.2 417l1.7-1.2 2.3 1.2-.8 1.8-1.5 0-1.2-.3-.5-1.5M397.9 417l3.7 0-2.2 .6-1.5-.6M439 417l.9-.7 1.5-.1 3.9 2.3-1.9 1.5 .7 6-.6 1.5 1.1 1.5-6.2 .6-2.9-.6-.8-1.5 .2-1.5-1-1.5 1.4-1.5-.4-1.5-1.6-1.5 0-1.5 5.7-1.5M42.4 417.5l1.5 .7 .7 1.8 .8 .3 6 1.1 6-.4 3.8 2-6.9 1.5 1.2 3-4.1 .7-4.7-.7 .3-1.5 3.7-1.5-2.3-.7-6-.2M197.6 418.5l3.1 0-2.3 .7-.8-.7M325.6 418.5l4.8-.2 3.1 1.7-1.1 1.5-2 .2-1.2 2.8 6.7 3-5.4 3 .5 1.5-.6 1.6-3 .8-4.5-.5-6 .6-1.5 .5-.3 1.5-7.2 4.1-10 3.4 7 3.5 .8 1-.1 1.5-1.3 1.5 2.1 1.2 3 .5 12-3.5 12 .4 6 1.4 3 1.4 7.3 1.6 10.7 .6 7.5-1 6 2 6 .5 6 1.5 1.9 .9 1.1 2 9-1.7 9.9 1.2-1.1 1.5-3.2 1.5 4.8 1.5 1.9 1.5-.9 1.5-6.9 .6-1.5 .6-1.5 2.2-3 1.1 3 .6 4.5-1 6 1.1 6-.7 4.5 1.3 1.8 1.7-1.4 1.5-.9 3 .3 1.5 2.4 1.5 .6 1.5-2.8 .9-9 .3-7.5-1.1-6 .3-1.7-.4-.9-1.5-1.9-1-10.5-.9-4.5 .6-6-.6-2.7-1.1-.6-1.5-1.2-.9-4.4-2.1 4.4-2.7 0-.5-7.5-2.3-3-1.8-6 .5-2.8-.7-1-1.5-3-1.5-8.2-1.7-5.9-2.8 .7-1.5-.8-.4-13.5-2.2-1.5 1.4-2.5-.3-.5-.8-1.5-.2-4.5 .3-10.5-1.2-6 .8-3-.5-1.5-1-.4-.4 3.4-3.8 1.3-.7 9.4 0-1.1-1.5 .7-1.5-4.3-1.5-9 .1-4.8 1.4-8.7 .7-4.5 1-3-.2 2.5-1.5 5-.8 1.5-.8 .5-1.4-1.4-3-2.4-1.5 .5-3-.6-1.5 .6-1.5 2.8-1.1 3-.4 4.5 1.8 6 .1 1.2-.4 .1-1.5 1.8-1.5-5.3-1.5 1.7-1.5 5-.8 4.5 1.4 3-.2 1.6-.4 1.3-1.5-2.3-1.5 3.9-.8 3 .2 4.5 1.3 7.5 0 1.1-.7-1.8-1.5-.2-1.5 8.1-3M193.6 421.5l1.8-1.3 1.5-.1 9 1.4 2.6 1.5-3.9 1.5-3.2 .2-1.5-.3-3-2.5-3.3-.4M209.1 421.5l4.3-.2 3.5 1.7-2 .5-4.6-.5-1.2-1.5M327.4 421.4l-.5 .1 2.3 0-1.8-.1M162.2 424.5l3.5 0-3.5 0M489.4 423.8l-4.3-2.3 1.1-1.5-2.2-1.5 .2-1.5 5.2 0M170.5 426l3.9-.7 4.6 .7-6.1 1.4-2.4-1.4M410.8 426l.6-1 3.5 1-2 .6-2.1-.6M71.9 427.5l3.7 0-2.4 1.5-1 3-1.3 .8-3 .3-2.8-1.1-1.3-1.5 2.6-2 5.5-1M149.6 427.5l1.1 0-1.1 0M193.2 427.5l5.2-.5 4.5 .8 6 .2 3 1 .1 1.5-1.6 1.1-1.5 0-15.7-4.1M243.7 427.5l2.7 .1 3.7 1.4-3.7 .9-1 .6-.5 1.8-1.5 .7-7.6 .5-.3-1.5 1.9-2.1 6.3-2.4M360.8 427.5l2.6-.5 4.5 .3 4.5-.7 1.2 .9-.7 1.5-2 1.7-3 1.6-3 .6-3.1-.9-.7-1.5 1.1-1.5-1.4-1.5M188.8 429l2.1-.3 1.5 1.8-1.5 .7-3 .3-1.5-1 2.4-1.5M225.5 429l1.4-.6 1.8 .6-3.2 0M167.1 430.5l5.8-.4 2.6 .4-1.7 1.5-3.9 .5-1.5-.4-1.3-1.6M126.5 432l2.9-.3 3 1 6 .6 16.5-.9 3.4 1.1-2.7 1.5-2.2 2.2-1.5 .3-3-.7-.3-1.8-1.2-.4-3 .1-3 1.1-4.5 .1-4.5-2-5.8-.4-.1-1.5M179.9 432l3.5-.4 2.8 .4-1.3 1.5-.1 1.5-1.4 .8-3 .1-3.3-.9 2.8-3M216.4 432l4.5-.7 1.7 .7-3.2 .9-4.7 3.6-3.9 0-7.3-1.5 2.4-.6 3-1.9 7.5-.5M313.9 431.9l-.9 .1 1.8 0-.9-.1M256.8 433.5l4.6-.7 2.9 .7-4.4 2.6-1.5 .1-3.2-1.2 1.6-1.5M405.6 433.5l4.3-.5 6 1.7 3 1.3 7.5-.9 13.5 2.2 6 .4 .9 .3 .6 1.5 1.5 .9 4.5 1.5 1.5-.3 4.5-3.2 1.1 1.1 6.4-.6 1.7 .6 1.7 4.5-1.9 .9-1.5 .1-4.5-1.7-4.5-.4-1.5 .3-1 2.3-5 .4-2.6 1.1-2.5 3 .3 1.5-2.4 1.5-1.3 1.5 2.7 1.5-.4 1.5-2.2 1.5 2.4 2.5 5.7 .5 .8 1.5-2 1.4-4.5 .1-2.6-1.5 .4-1.5-3.8 .5-2.5-.5-1.3-3-2.2-2.4-1.5-.8-9 1.1-7-.9-3.4-1.5-.4-1.5 1.5-1.5-2.7-1.5-2.6-4.5 1.1-1 2.2-.5-4.7-1.5 1.7-1.5 .1-1.5 3.3-3-4.7-1.5-.7-1.5M162.1 435l3.3-1.1 1.5 0 1.1 1.1-1.1 2.6-4.5-1.1-.3-1.5M228.1 435l2 0-2 0M185 438l2.9-.7 2 .7-4.9 0M251.9 438l2.1 0-2.1 0M88.3 439.5l3.6-1.1 1.5 .2 3.3 3.9-1.8 1.3-4.5 .5-4.7 1.2 7.3 1.5-6.3 1.5 .4 1.5 13.8 2.3 4.7 2.2-3.2 .9-4.5-1.7-4.5-.9-9 1.2-9.6-4-.5-1.5 .4-1.5-3.9-1.5 4.6-.5 1.3-1 1.4-3 7.8 0 2.4-1.5M415.9 442.4l-.5 .1 3.5 .5 2.9-.5-2.9-.4-3 .3M123 444l1.9-.6 1.8 .6-3.7 0M168.1 444l3.3-.5 3.5 2-.5 1-1.5 .1-4.8-2.6M78.4 445.4l-1.3 .1 1.3-.1M113.9 445.5l2-1.4 3 .3 1.5 .6 3.4 3.5-9.4 .5-1.7-.5 1.2-3M159.9 445.5l2.5-.2 6.5 1.7-5 .9-6-.2-1 .8 .2 1.5 8.9 0 5.4-1.1 1-.4 .5-1.1 1.5-.3 6 .5 7.5-1.3 .6 .7-5.1 .7-.4 .8 1.5 1.5 1.9 .5 7.5 .1 1.8-.6 2.7-2.1 7.5-2.7 7 1.8 8.8 4.5-2.3 1.4-4.5 .1-1.5 .6-.8 .9 .8 1.5-3.1 1.5-7.4 2-1.7-.5 2-1.5-4.8-.7-9-.3-4.5-2-6 .9-15 1-9-1.4-7.5 2-6 .7-4.5-.6-3-1.5-9 0-6-1.1 6-1.5 2.9-3-1.1-1.5 5.7-1.2 6 .9 7.5-.2 4.7-1 7.3-.5 2-1M470.4 447l2.5-.5 6 .3 2.7 1.7-2.7 .5-3-.5-1.5 .3-1.9-.3-2.1-1.5M42.4 450.7l3.1 .8-3.1 .7M57.4 453l3-.1 4.7 1.6-1 1.5-5.2 3-.7 1.5 1.6 1.5-.6 1.5 4.2 1.4 1.5-.5 3-2.4-1-3 2.5-1 3-.1 1.5 1.1-.6 1.5 1.8 1.5-2.7 1.7-1.5 1.6-3 .5-4.5-.4-.7 1.1 6.7 1.6 12-1.5 1.5 1.3-.7 1.6 .7 1.3 6.9 .2-.9 .5-4.5-.3-1.4 1.3 1 1.5 .4 3 .8 1.5-1.9 1.5-.2 1.5-1.7 .6-4.5-.2-5.7-1.9 1.3-1.5-3.1-1.8-.8-2.7-2.2-.7-3 .1-1.6 .6 1.6 1.8 4.2 1.2-.2 1.5 2 1.5-6 1.4-3-.6-1.4-.8 .7-1.5-.8-1.2-2.8-1.8 5.3-6-6.2-1.5 3.4-1.5-1.2-2-8.7-1-.8-1.5-1.9-1.5 1.4-1.5-.5-4.7 1.5-.6 6 1.8 6.2 .5-1.7-2.2-1.5-.8M489.4 451.7l-.3-.2 .3-.3M112.2 454.5l2.2-.7 2.4 .7-4.6 0M86 456l3.2 0 1.3 1.5-4.6 1.5-1.5-1.5 1.6-1.5M130.1 457.5l1 0-1 0M231.7 457.5l1.2-1.2 1.5-.2 1.5 .1 1.5 1.3-3 .6-2.7-.6M155.2 459l2.7-.4 4.5 .3 .4 .1 .2 1.5-2.1 .8-4.5-.3-1.8-.5 .6-1.5M276.3 459l1.9 0-1.9 0M295.8 460.5l1.6-.5 5.4 2-.2 1.5-9.7 .4-3-.6-2.8-1.3 8.7-1.5M42.4 461.3l1.5 .3 3.2 1.9-.7 1.5 2 1.5 .1 1.5-3.1 1.4-1.5 .1-1.5-1M185.3 462l2.6-.5 6 2-1.5 1.3-1.5 .1-1.8-1.4-3.8-1.5M197.6 462l2.3-.9 1.5 .9-1.5 .5-2.3-.5M228.2 462l.2-.5 4.6 .5-.1 1-4.7-1M102.2 463.5l9.2-.6 4.2 .6-1.2 1.3-1.5 .4-9-.6-1.7-1.1M134.3 463.5l1.7 0-.6 .4-1.1-.4M233 463.5l1.4-.7 4.4 .7-1.4 .8-4.4-.8M131.4 465l2.5-1.2 .5 1.2-2 .6-1-.6M249.2 465l1.5 1.5 6.2 2.8 3 2.5 2.4 .7-1.6 3-1.9 1.5-.4 1.5 2.7 1.5-1.9 3-3.3 1.5-.5 1.9-1.5 .6-7.5-1.9-2.7-2.1 5.6-3 .2-1.5-1.3-1.5 3.5-4.5-2.3-1.6-9-.2-1.2-1.2-.3-1.4-2.5-1.6 1-.8 1.5 .1 1.5 1.6 3 .1 4.9-1 .9-1.5M100.9 468l1.5-.5 1.1 .5-1.1 .4-1.5-.4M267.6 468l1.3-.4 3.3 .4-1.8 .4-2.8-.4M489.4 466.7l-1.5-1-4.5 .7-3-1.9-1.5-.1-2.7 .6-.6 1.5-2.7 1.1-3-.4-6.3-2.2 2.3-1.5 .7-1.5 2.8-1.5 7.7-1.5-.6-1.5 5.4-3.2 3-.3 2.1 .5-.2 3-1.1 1.5 1.2 1.5 2.5 .6M136.7 469.5l3.2-.6 4.3 .6-4.3 1-1.5 0-1.7-1M177.5 469.5l4.4-1.1 1.5 .2 1.5 .9-1.5 .8-3 .4-1.5 0-1.4-1.2M75.4 470.9l-.4 .1 1.9 .6 5.1-.6-3.6-.4-3 .3M95.7 471l5.2-.7 1.2 .7-2.7 .8-3.7-.8M107.3 471l2.6-1.1 4.5 .6 .8 .5 0 1.5-.8 1.2-1.7 .3 4.7 .3 1.8 1.2-.3 1.5-1.5 1.3-1.5 .1-7.9-2.9-2.9-3 2.2-1.5M172.5 471l1.9-.6 2.3 .6-4.2 0M123.7 472.5l1.2-.7 7.5-.2 1.5 0 1.5 .9-4.5 .9-7.2-.9M265.2 472.5l3.7-.6 .7 .6-2.2 .4-2.2-.4M75.4 473.8l1.5 .5 1.7-.3-1.7-.5-1.5 .3M146.5 474l3.3 0 1.6 1.5-4 .3-.8-.3-.1-1.5M229.4 474l3.8 0-.1 1.5-3.8 0 .1-1.5M291.2 474l4.7 0-1.5 1.7-1.5 .3-4.5 .3-2.5-.8 4-.7 1.3-.8M129 475.5l3.4-1.1 5.5 1.1-.6 1.5-3.4 .4-3.3-.4-1.6-1.5M160.2 475.5l14.2-.8 3.2 .8-.9 1.5-2.3 .3-3.7-.3-3.8-1.3-4.5 .7-2.2-.9M438.2 475.5l.4 0-.4 0M320.9 477l.5-.7 4.9 .7-.2 1.5-1.7 .4-3 2.5-3 .4-2.6-1.8 .3-1.5 3.8-.8 1-.7M403.9 476.8l-1.3 .2-.3 1.5 1.3 1.5 2.1 0-.2-3-1.6-.2M179.9 478.5l2.8 0-2.8 0M299 478.5l5.9-.5 4.1 .5-4.1 .4-5.9-.4M288.7 480l1.2-.8 4.5 .6 3-.4 1.5 1 .5 1.1 3.4 1.5-3.9 .9-7.5-.1-1.3-.8-.1-1.5-1.3-1.5M233.9 481.5l3.5-1 4.8 1-1.8 1.2-1.5 0-5-1.2M438.4 481.5l3-.4 1.7 .4-4.7 0M163.9 483l1.5-1.1 1.5 .2 3.1 .9 .9 1.5-2.5 1.4-1.8 .1-3.8-1.5 1.1-1.5M327.2 493.5l1.7-.4 6.2 1.9-7.7 2.1-.1-.6 1.6-1.5-1.7-1.5M356.7 493.5l2.2-.9 1.5 .6 1.7 1.8-6.2 1.5-1.7 0-3.6-1.5 3.8-.4 2.3-1.1M87.4 495l4.2 0-4.2 0M265.6 495l2.4 0-2.4 0M385.5 495l3.4-1 3 0 6.5 1 1.7 1.5-2.2 .4-3-.6-6-.2-3.4-1.1M413.8 495l4.7 0-4.7 0M440.8 495l7.3 0-2.2 1.1-1.5 .1-3-.5-.6-.7M288 496.5l16.4 3 6.5 2.5 .7 2 4.2 1.5-21.4 1-18.5-1 8-.8 4.5-1.8 12.1-.4-12.1-.2-9.2-1.3 .4-1.5 7.1-1.5 1.3-1.5M310.8 496.5l3.1-.9 4.1 .9-2.6 .9-4.6-.9M118 498l2.5 0-2.5 0M319 499.5l8.4-1.5 1.5 .3 1.4 1.2 0 1.5-7.3 0-4-1.5M362.8 499.5l3.6-.1 7.5 .9 6-1.2 15-.4 4.5 .8-4.5 .9-9-.5-4.5 .6-1 .5 5.5 2.4 3.4 .6-10.9 1-7.6-1 1.7-1.5-1.6-.9-10.2-.6 2.1-1.5M408.1 499.5l1.8-.6 7.2 .6-2.7 1.3-1.5 .1-4.8-1.4M429.4 499.5l1.5-.7 2.6 .7-1.7 1.5-.9 .1-1.9-.1 .4-1.5M438.8 499.5l4.3 0-4.3 0M469.4 499.5l2-.4 3.1 .4-3.1 1.4-1.5-.5-.5-.9M130.2 501l2.2-.4 4 .4-2.5 .4-3.7-.4M232.3 502.5l2.1 0-2.1 0M449.1 502.5l6 0-6 0M94.3 504l5.6 0-2 .6-3.6-.6M173.9 504l1 0-1 0M237.1 504l.7 0-.7 0M355.8 504l3.1-.5 9.2 .5-4.7 .4-7.6-.4M423.2 504l4.7-.8 3.2 .8-1.7 .7-6.2-.7M42.4 505.4l10.5 .4 4.1 1.2M175.1 505.5l.8-1.1 7.9 1.1-4.9 .6-3.8-.6M436.9 505.5l6-.5 5.1 .5-5.1 .4-6-.4M472 505.5l3.9-.7 2.6 .7-4.1 1-2.4-1M43.3 507l-.9-.8M81.2 507l3.2-.7 4.5-.2 6 .3 2.2 .6M141.5 507l-1.6-.9-3.2-.6 1.7-.8 4.5-.1 4.5-1.4 7.5-.2 10.5 2 6.7 2M162 507l-1.1-.1-1.5 .1-.1 0M185.6 507l2.3-.6 6 0 25.5 .1 2.5 .5M225.9 507l.9-1.5 9.1-1.2 .7 1.2-3.2 1.5M489.4 505.8l-1.9-.3 1.9-.1M55.8 361.5l7.3 1.5-7.2 .8-11.8-.8 4.8-1.5M75.6 361.5l-4.4 0M128.5 361.5l-4.5 0M233.9 361.5l6.5 1.3 7.5-.3 7.7 .5 1.3 1 2.2 .5 1.6 1.5-7.6 0 1.1-1.5-12.3-1.4-10.5 .9-11.3-1 9.6-1.5M304 361.5l2.2 1.5-4.3 1.1-15-.1-2.5 .5-.5 1-1.5 .1-4.5-.3-3-.8 1.1-1.5 1.9-.5 12 0 8.8-1M332 361.5l-4.8 0M67.1 364.5l3.8-.6 3.4 2.1-10.9 .6-4.1-.6 7.8-1.5M188.8 364.5l11.1-.7 10.9 .7-18.4 2.2-6.4-.7 2.8-1.5M320.3 364.5l8.6-.4 1.7 .4-10.3 0M466.5 364.5l9.1 0-9.1 0M82.7 366l6.2-.5 8.2 .5-11.2 .9-3.2-.9M284.8 366l17.1-.7 1.5 .5 1.7 1.7 .2 1.5-2.4 1.5-4.1 0-4.4-1-.5-.5 1-1.5-2-1-8.1-.5M393.5 366l6.5 0-3.6 .4-1.3 1.1 3.3 1.5-2 .3-5.3-.3-2.7-1.5 2-1 3.1-.5M108 369l2.8 0-2.8 0M336.2 369l5.9 0-.8 1.5-1.9 .2-2.7-.2-.5-1.5M404.8 369l8.1-.4 5.7 1.9-4.2 1.1-4.5 0-5.7-1.1 .6-1.5M328.1 370.5l1.4 0-1.4 0M91.4 372l1.3 0-1.3 0M123 373.5l.7 0-.7 0M484.9 375l4.5 0-4.5 0M171.1 376.5l4.8 2.7 6.2 1.8-6.2 1.6-6-.6-7.5 2.8-2.8-.8-1.7-1.9-6.2-1.1 1.7-.6 6 .2 6-.8 5.7-3.3M229.3 384l1.5 0-1.5 0M399.4 387l4.5 .4 3.5 1.1-4.9 4.5 4.9 1.5-3.5 1.9-3 .5-6.8-2.4 .7-1.5 4.7-3-2-1.5 1.9-1.5M413 387l1.4-1.1 1.5-.3 4.1 1.4-4.1 1.3-1.5 0-1.4-1.3M427.1 387l2.3-.7 1.5 .7-1.5 .5-2.3-.5M291.3 390l1.6-.5 1.5 .3 2.1 1.7-2.1 1.7-3 1-3-.3-5.1-2.4 8-1.5M311.7 391.5l4.8 0-4.8 0M423.2 391.5l1.7-.5 .5 .5-2.2 0M335.2 393l7.2-.9 3 .3 .7 .6-2.2 2.1-4.5 .7-1.5-.4-2.7-2.4M409 393l3.9-.6 8.4 .6-.9 1.5-3 .4-8.4-1.9M433.8 393l.1-.6 1.5-.6 1.5 3 1.8 1.2-.3 1.1-6-1.5-2.1-1.1 3.5-1.5M283.6 396l2.4 0-2.4 0M226.7 399l3 0-3 0M227.4 402l14.5 .3 3.4 1.2-1.4 3-11 .6-2.7 .9 .9 1.5-6.4 0-2.3-1.5 1.5-1.8 3.5-1.2-1.7-1.5 1.7-1.5M170.9 403.5l13.3 0-.8 1.3-4.5 .2 0 1.5-1.5 .9-3 .6-3-.5-.9-1 2.2-1.5-1.8-1.5M196.4 403.5l3.5-.7 3.1 .7-3.1 .9-3.5-.9M423.7 403.5l2.7-1.5 10.7 1.5-1.9 1.5 0 3-2.8 1.7-10.5 .5-4.5-.4-3 .6-1.5-.7 4.5-1.1 .5-.6 7-1.5-1.2-3M200.8 406.5l1.4 0 .8 1.5-1.6 .4-1.6-.4 1-1.5M176.7 409.5l6.7-.3 1.7 1.8-.6 1.5-1.9 1.5-.4 1.5-4.8 .6-1.5-.2-3.8-1.9-.1-1.5-1.6-1.5 6.3-1.5M201 412.5l1.9-1 1.5 0 1.9 1-3.4 .7-1.9-.7M300.2 417l.6 0-.6 0M438.2 418.5l3.2-.4 1.3 .4-2.8 .8-1.7-.8M301.6 420l.3-.4 1.5 .4-1.8 0M321.9 423l2.1 0-1.1 .4-1-.4M439.2 423l.7-.7 1.5 1 .5 1.2 .1 1.5-2.1 1.2-1.5-.4-1.5-2.3 2.3-1.5M313 427.5l2.4-.4 2.8 .4 .2 1.5 6 .6 2.2 .9-6.7 .8-4.5-1.2-5.3 .4-2.4 1.5 4 1.5-.4 1.5-3.4 2-2.2 2.5-2.3 .1-2.1-1.6 2.2-1.5-2.6-1.5-.3-1.5 3.5-1.5-2.3-1.5 6.1-.9 5.1-2.1M204.8 429l3.1 0-3.1 0M276 436.5l4.9-.7 2.4 .7-.9 .9-6.4-.9M292.5 436.5l1.1 0-1.1 0M422 438l2.9-.9 3-.1 10.5 2.9 4.5 0 3 1.3 1.5 1.3 .4 1.5-4.6 4.5-.5 3-4.3 1.7-3 .1-1.1-.3 2.3-1.5-4.1-1.5 5.4-1.5-.1-1.5-1.4-3 1-1.5-5-.3-4.5-2.2-7.5-.1-7.5 1.3-1.5-.4-1-1.3 4-1.4 6 .5 1.6-.6M275.1 439.5l7.3-.8 1.3 .8-.6 1.5 .8 .5 4.4-.5 4.6-1.5 3.9 1.5-6.9 3-3 .2-3-.8-6 .6-1.5-.5-1-1-.3-3M80.2 442.5l2.7-.4 1.7 .4-.4 1.5-1.3 .3-2.6-.3-.1-1.5M424.9 444l3-.8 1.5 .3 .5 .5-.4 1.5 1.9 1.5-5.4 1.5 0 1.5 3.4 1.5 1.1 1.5-1.1 1.5-6 1.2-6.3-1.2 3.2-1.5 .6-1.5-8.5-1.5-.8-3-1.7-1.5 4.5-.8 7.5 .1 3-.8M81.8 447l2.7 0-3.1 2.3-2.3-.8 2.7-1.5M174.3 450l3.1-.4 2 .4-2.9 1.5 3 1.5-5.1 1-13.5 .4-6-1.2-13.5 3.5-7.6-2.2-.1-1.5-1.8-1.5 2-1.4 1.5 0 13.5 1.2 6 1.4 4.5-1.2 6 .6 8.9-2.1M198 451.5l4.9-.8 4.5 1.3 1.5 1 .3 1.5-1.8 .9-4.5 .5-7-1.4 2.1-3M292.5 451.5l3.5 0 6.3 1.5-1.9 1-6-.1-5.2 .6 .2-1.5 3.1-1.5M320.9 451.5l3.5-.9 10.5 .8 4.5 2.4 6 1.4 12.9 .8 6.6 1.7 3-1 9.5 .8 7.3 1.5 1.3 3 1.4 .9 7.5-.2 3 1.8 6.2 .5-.2 .7-6-.3-7.5 .7-3.2 1.9 1.7 .9 8.1 .6-4.5 3 .6 1.5 3.6 1.5 .1 1.5-6.4 2.8-1.5 .1-4.5-2.2-6-.5-1.6-1.7-3.5-1.5-1.3-3-1.1-.5-7.8-1-.2-1.5 .5-.4 5.7-1.1-.6-1.5-3.6 .8-7.5-.7-6 .6-13.5-3.4-3.3-1.8 5.1-3-1.8-1.3-1.5-.4-9 .9-5.4-.7 .1-1.5-1.8-1.5 .6-1.5M399 460.5l1.4 0-1 .4-.4-.4M65.4 469.5l7.2 0-4.7 1.9-4.1-.4 1.6-1.5M244.4 469.5l1.8 0-1.8 0M387.4 474l1.9 0-1.9 0M412 475.5l3.9-.5 1.5 .5 .1 3-1.6 2.3-4.5-.5-2.8-1.8 1.3-2.4 2.1-.6M62.1 480l1.7 0-1.7 0M373.6 480l1.8-1.3 .5 1.3-2.3 0M404.5 481.5l4.6 0-.1 1.5-3.1 0-1.4-1.5M283.4 499.5l8-1.4 6.8 1.4 3.1 1.5-14.4 .5-3.7-.5 .2-1.5M322.7 499.5l3.2-.4 1.6 .4-1.6 .6-3.2-.6M374.5 502.5l2.4-.9 3 .2 4 2.2-7 .3-1.7-.3-.7-1.5M148.2 504l6.7-.5 9.9 2-2.4 .8-9 .2-4.5-.8-.7-1.7M288.6 504l2.8-.6 9-.1 6-.7 1.5 .3 1 1.1 5 1.5-21 .5-8.2-.5 2.2-.5 1.7-1M425.8 504l3.2 0-3.2 0M229.4 505.5l4.7 0-2.7 .9-1.5-.1-.5-.8M440.5 505.5l5 0-5 0M45.3 507l1.6-.6 3-.2 4.4 .8M83.4 507l10 0M188.5 507l7.1 0M202.5 507l8.6 0M47 363l5.9-1.1 8 1.1-5 .5-8.9-.5M223 363l8.4-1.2 6.6 1.2-6.6 .8-8.4-.8M245.6 363l6.4 0-6.4 0M278 363l22.4-1 4 1-8.5 .8-10.5-.5-4.5 1.4-3.9-.2 1-1.5M194 364.5l5.9-.4 8.4 .4-11.4 .8-4.5 1-4.8-.3 6.4-1.5M62.2 366l4.1 0-4.1 0M85.1 366l8.9 0-8.9 0M298.7 366l1.1 0-1.1 0M407.2 370.5l2.7-.9 4.6 .9-3.1 .4-4.2-.4M430.2 408l1.6 0-1.6 0M413.9 439.5l2 0-2 0M440.3 445.5l1.1-.8 1.5 .8-1.5 .5-1.1-.5M138.3 451.5l6.1 1.2 6.4 .3-6.4 .3-4.5 1.2-2.6-1.5 1-1.5M325.6 453l3.3-.4 4.5 .4-3 .9-4.8-.9M201.1 454.5l1.8-.5 1.2 .5-3 0M343.5 457.5l1.9-.7 10.5 .2 9.2 3.5-1.7 1.8-1.5 .5-6 .2-4.5 1-9.4-2-4.2-1.5 5.7-1.5 0-1.5M374 462l1.4-.9 3-.3 3 .2 2.2 1 1.8 4.5-1.5 1.5 .7 3-3.2 1.7-3-.3-2.8-1.4-.7-1.5-4.7-1.5 6.7-1.5 1.7-1.5-6.8-1.5 2.2-1.5M286.7 499.5l3.2-.4 2.2 .4-3.7 .9-1.7-.9M152.6 504l9.9 1.5-6.1 .7-5.1-.7 1.3-1.5M292.2 504l8.1 0-4.4 .6-1.1 .9-5 0 2.4-1.5M306.7 505.5l4 0-4 0M48.4 507l1.5-.1 .8 .1M50.5 363l3.9-.5 4.6 .5-8.5 0M225.1 363l6.3-.8 4.7 .8-4.7 .5-6.3-.5M291.4 363l6-.5 4.5 .5-6 .4-4.5-.4M196.7 364.5l8.9 0-8.9 0M190.1 366l2.2 0-2.2 0M350.1 460.5l4.3-1.1 4 1.1-5.5 .9-1.5-.1-1.3-.8M154 505.5l2.4-.4 3.6 .4-6 0M227.3 363l6.9 0-6.9 0M295.1 363l2.4 0-2.4 0"/>
<path fill="none" stroke="#000" stroke-width="1.15" stroke-linejoin="round" d="M36.5 392.6l5.7 .8 4.9-1.7 8.7-.4 1.2 2-1 1.3 1.7 .9 10.4 2.7 .1-1.6 3.7-.6 2.5 1.1 11.4 .3 .8 2-1.3 1.9-1.5-2.3 1.1 3 4.6 7.1 3.1 6.5 4.5 3.8 1.4 2.6 8.3-1.7-.2 1.7-2.5 5.5-3.7 5.1-7.2 5.7-1.1 4.4 1.4 5.6 .2 5-4.5 3.6-2.1 4.2 .3 3.5-3.2 2.3-.5 3.1-3.1 3-2.6 1.6-2.9 1-6.9 .9-2-.5-.5-2.5-1.9-3.7-1.8-2.4-.6-4-3.1-5.9-.3-3 2.1-4.3-.3-4-1.3-3.5-3.6-6.3 .5-6.4-1.5-.6-3.1 .3-3.2-2.7-2.7 .4-4 1.6-2.5-.5-4.3 1-4.1-2.4-3-2.7-5.3-7.7 1.6-5.8-1-1.8 5-7.5 4-2.2 .2-3.3 3.5-1.5 1.5-2M482.6 392.6l5.7 .8 4.9-1.7 8.7-.4 1.2 2-1 1.3 1.7 .9 10.4 2.7 .1-1.6 3.7-.6 2.5 1.1 11.4 .3 .8 2-1.3 1.9-1.5-2.3 1.1 3 4.6 7.1 3.1 6.5 4.5 3.8 1.4 2.6 8.3-1.7-.2 1.7-2.5 5.5-3.7 5.1-7.2 5.7-1.1 4.4 1.4 5.6 .2 5-4.5 3.6-2.1 4.2 .3 3.5-3.2 2.3-.5 3.1-3.1 3-2.6 1.6-2.9 1-6.9 .9-2-.5-.5-2.5-1.9-3.7-1.8-2.4-.6-4-3.1-5.9-.3-3 2.1-4.3-.3-4-1.3-3.5-3.6-6.3 .5-6.4-1.5-.6-3.1 .3-3.2-2.7-2.7 .4-4 1.6-2.5-.5-4.3 1-4.1-2.4-3-2.7-5.3-7.7 1.6-5.8-1-1.8 5-7.5 4-2.2 .2-3.3 3.5-1.5 1.5-2M104.5 450.2l1.4 4.3-4.1 11.1-2.4 .7-1.8-2.3-.5-2.3 1.3-3-.5-2.2 3.1-1.7 3.5-4.6M36.5 392.5l4.4-.7 2.5-2-.4-.8 1.5-1.5 2.9-.9-.3-1.2 5-.3 2.3-.7 2.6 1.8 5.7 2.3 .8 1.1-.8 .9 1.9-1-.6-1.1 2.3 0-5.6-2.4-.4-.9-1.7-.8 0-.7 1.7-.4 2.3 1.6 4.8 2 0 1.4 3.3 3.8 2.4-1.7-1.3-2.3 1.3-.3 2.5 0 1.3 3 1.4 1.1 3-.1 2.7 .7 2.4-.7 1.9 .2-.5 2.2-2 3.3M482.6 392.5l4.4-.7 2.5-2-.4-.8 1.5-1.5 2.9-.9-.3-1.2 5-.3 2.3-.7 2.6 1.8 5.7 2.3 .8 1.1-.8 .9 1.9-1-.6-1.1 2.3 0-5.6-2.4-.4-.9-1.7-.8 0-.7 1.7-.4 2.3 1.6 4.8 2 0 1.4 3.3 3.8 2.4-1.7-1.3-2.3 1.3-.3 2.5 0 1.3 3 1.4 1.1 3-.1 2.7 .7 2.4-.7 1.9 .2-.5 2.2-2 3.3M78.1 387.3l.9-3 2.2-1.8 1.9 0 1.8 1.7 3.9-.7 1.9-1.3 1.4-.2-2.2 2.2 4.9 2.8-1.8 .5-8.3-.9-2.9 .8-3.7-.1M101.4 384.1l3.3 4.1-.7 1.9 1.4 1.2 4.8 .3-1.6-5.5-1.6-.6 2.1-1.7-2.3-1.6-2.7 .3-2.7 1.6M36.5 392.5l-2.3-1.2-1.8 .2 .1-1.7-.9-.3 1-2.2-.7-1.6 1.6-.7 7.7 .3 .7-1.1 0-1.4-4.1-1.5 0-.6 3.6-.1 .3-.8 3.6-.3 .1-.7 1.7-.3 2.1-1.3 5.1-.8-.9-2 2.4-.5 .6 .3-.9 1.5 1.3 .5 11.3 0 1.6-.6-.2-1 1.5-.8 2.5 .4 .1-.8-1.2-.5 8.4-.5-1.7-.4-7.3 .4-1.9-.7 .1-1.3 4.3-1-.9-.4-2.7 .1-5.6 1.8-.4 .8 2.1 1-2.8 1.5-.4 .7-2.6 .5-1.6 0-2.1-2.4-5.7 .5-1.9-1.4-.1-.7 1.9-.7 13.6-3.5 13.7-.6 14.8 1.4 .7 .6-10 0 2 .5 .1 .6 3.1 .3 8.2-1.2 .6-1.1 4.6 .3 15.5-1 9.9 .8 .6-.8-2.7-.2-.1-.5 3.3-.5 4.2 .3-.6 .4 .5 .3-.1 .7 2.7 .5 .2-.6-1.4-.4 .2-.5 3.1-.7 34.4-1.5 11.2 .5 .2 .7 16.8 .1 4.9 1 12.4-.8 19.8 .7 5.6 .7 21.3 0 14.4 1.6-3.5 .9-7.4-.1-3.1 1.3-6.2 .3-4.3 1.1-8.1 .1-1.8 .9 1 1.6-4.1 1.2-4.1 2.7-1.5-3.4 1-1.4 2.1-.4 2.5-1.6-1.3-.7-8.6 1.7-11.2-.2-9.7 3.1 4.7 .4 3 .9-1.1 2-.1 1.6-6.1 4-5.6 1.2-1.6 1.6-2.7 1.2 2.3 2.8-.1 1.7-3.7 .4 .4-1.7-.5-1.2-1.5-.1 .2-1-.8-.9-4.1 .9 .6-1.2-.9-.8-4.2 2.2 2.4 1.4 2.2-.5 1.6 .4-2 .9-2.2 1.9 3.4 3.4-.5 .9 .6 .8-3.1 4.7-3.4 2.6-8 2.7-2.3-.7-2.8 1.7-.6 1.4 3.2 3.6 1.2 3.1-.1 2.3-5.4 3.8 .2-1.7-2.5-1.3-.8-1.6-1.8-.5-.7-1-1 1.8-.4 2.3 1.6 3.7 1.3 .5 2.3 2.8 .2 2.3 .8 1.7-.8 .2-1.9-1.3-1.5-1.9-1-3.4-1.6-2.1-.5-1.7 .4-2.5-1.1-5.8-1.1-.5-1.9 1.1-1.1-.3-.1-3-2.5-3-.6-1.7-6.2 1.4-.4 1.5-2.2 1.1-5.5 4.3-.6 5.6-2.9 3.6-1.2-1-.9-3.3-2.6-5.2-1.5-7.8-2.4 1.5-1.9-1.5 1.2-.7-3.2-1.3-1-1.6-6.2 .2-5.3-.8-1.2-1.3-2.3 .5-3.1-1.3-1.6-1.7-2.1-1-1.2 .2 .5 1.7 3.9 4.9 3.1 0 2.5-2.3 .4 1.5 4.2 2.8-2.6 4.2-3 1.9-8 4.1-6.6 1.6-1.1-4.7-4.2-5.9-1.4-3.1-3.8-4.5-.2-1.6M482.6 392.5l-2.3-1.2-1.8 .2 .1-1.7-.9-.3 1-2.2-.7-1.6 1.6-.7 7.7 .3 .7-1.1 0-1.4-4.1-1.5 0-.6 3.6-.1 .3-.8 3.6-.3 .1-.7 1.7-.3 2.1-1.3 5.1-.8-.9-2 2.4-.5 .6 .3-.9 1.5 1.3 .5 11.3 0 1.6-.6-.2-1 1.5-.8 2.5 .4 .1-.8-1.2-.5 8.4-.5-1.7-.4-7.3 .4-1.9-.7 .1-1.3 4.3-1-.9-.4-2.7 .1-5.6 1.8-.4 .8 2.1 1-2.8 1.5-.4 .7-2.6 .5-1.6 0-2.1-2.4-5.7 .5-1.9-1.4-.1-.7 1.9-.7 13.6-3.5 13.7-.6 14.8 1.4 .7 .6-10 0 2 .5 .1 .6 3.1 .3 8.2-1.2 .6-1.1 4.6 .3 15.5-1 9.9 .8 .6-.8-2.7-.2-.1-.5 3.3-.5 4.2 .3-.6 .4 .5 .3-.1 .7 2.7 .5 .2-.6-1.4-.4 .2-.5 3.1-.7 34.4-1.5 11.2 .5 .2 .7 16.8 .1 4.9 1 12.4-.8 19.8 .7 5.6 .7 21.3 0 14.4 1.6-3.5 .9-7.4-.1-3.1 1.3-6.2 .3-4.3 1.1-8.1 .1-1.8 .9 1 1.6-4.1 1.2-4.1 2.7-1.5-3.4 1-1.4 2.1-.4 2.5-1.6-1.3-.7-8.6 1.7-11.2-.2-9.7 3.1 4.7 .4 3 .9-1.1 2-.1 1.6-6.1 4-5.6 1.2-1.6 1.6-2.7 1.2 2.3 2.8-.1 1.7-3.7 .4 .4-1.7-.5-1.2-1.5-.1 .2-1-.8-.9-4.1 .9 .6-1.2-.9-.8-4.2 2.2 2.4 1.4 2.2-.5 1.6 .4-2 .9-2.2 1.9 3.4 3.4-.5 .9 .6 .8-3.1 4.7-3.4 2.6-8 2.7-2.3-.7-2.8 1.7-.6 1.4 3.2 3.6 1.2 3.1-.1 2.3-5.4 3.8 .2-1.7-2.5-1.3-.8-1.6-1.8-.5-.7-1-1 1.8-.4 2.3 1.6 3.7 1.3 .5 2.3 2.8 .2 2.3 .8 1.7-.8 .2-1.9-1.3-1.5-1.9-1-3.4-1.6-2.1-.5-1.7 .4-2.5-1.1-5.8-1.1-.5-1.9 1.1-1.1-.3-.1-3-2.5-3-.6-1.7-6.2 1.4-.4 1.5-2.2 1.1-5.5 4.3-.6 5.6-2.9 3.6-1.2-1-.9-3.3-2.6-5.2-1.5-7.8-2.4 1.5-1.9-1.5 1.2-.7-3.2-1.3-1-1.6-6.2 .2-5.3-.8-1.2-1.3-2.3 .5-3.1-1.3-1.6-1.7-2.1-1-1.2 .2 .5 1.7 3.9 4.9 3.1 0 2.5-2.3 .4 1.5 4.2 2.8-2.6 4.2-3 1.9-8 4.1-6.6 1.6-1.1-4.7-4.2-5.9-1.4-3.1-3.8-4.5-.2-1.6M281.3 369.1l7.5-.3-5-1.1 11.6-1.3 26.8 .9 9.9-.4 16.1 .9 19.9 .2 2.4-.6 7.5 .1 4.3 1-1.8 1.1-7.5 2.1-.6 1.3 2.5 1.3 12.6 1.4 .4 1.5 1.8 1.3 1.9-.1 .3-.8-.9-1.5 3.1-1.1 .2-1.4-1.5-.5 .8-1.1-.8-1.1 7.5 .5 3.1 1.6 2.5 .4 3.7-1.3 3.1 1.5 .6 1.4 4.3 1.1 2.5 1.5-4.3 1.7-8.6 .1-2.6 .8-3.1 2 3.7-1.6 3.8-.4 .8 .6-.8 .8 .6 1.2 4.1 .5 1.5-.4-5.8 1.8-1.7 .2-.1-1.2-4.8 1.3-.9 1 .9 .8-4.8 1-.2 1.2-1.6 1-.9 1.5 .6 1.7-3.6 1.5-3.2 2.2-.6 1.5 1.7 4-.3 1.8-1.1-.2-1.8-2.4-.4-1.6-1.7-1.2-5.1-.4-1.2 .2 .4 1.2-6.6-.4-3.1 1.9-.9 6.1 1.5 3.5 1.9 1.1 3.1-.1 2.3-1.1 .3-1.7 4.2-.6-2 6.9 3.2-.2 3.1 .9-.2 5.2 1.5 1.8 2.4 .5 1.9-.5 2 1 1.7-1 .9-1.6 1.4-.6 2.1-.6 1.2 1.2 .4-1.7 1.5 0 2.2 2 7.7 0 1.2 2.6 1.9 .6 1.8 1.5 6.8 2.3 1.9 1.2 1.9 5.1 1.4 1.5 4.8 1.7 4.3 .5 7.1 2.9 .6 2.9-.5 1.8-4.1 5-.9 5.9-2.2 5-1.2 1.1-6.2 1.4-1.9 2.1-.1 2.8-6.1 6.3-1.9 .6-4.2-1 1.5 2.3-.4 1.8-5.5 1-.4 1.6-3.3 .4 .6 1.2-.6 2.5-3.1 1.3 1.8 1.2-2.8 1.9-.9 1.2 .6 .6-4.3 1.2-3.1-1.2-1.3-2 .7-2.5 1.4-2.6 .4-5.8 2.5-6.2 .1-3.3 1.1-4.5 .3-7.8-6.5-3.8-4.9-9.2-2.1-2.5 .2-1.9 1.3-1.6-.9-2.5 .9-2.3 3.2-3.9 0-3.3-1.4-2.3-1.3-.6-1 1.8-3.9-1.3-2.7-1.9-.1-1.6-2.1-2.1-5-1.3-1.8-2-1.9-.7-2.5 .6-9.3-3.8-1.8-2 .3-1.5-1-1.4-7.4-6.8-1.2-2.2-2.1-.8 .2 1.8 5 6.8 1.3 .9-3.2-1.8-.4-1.9-2.7-1.7 .3-1.7-2.1-1.1-3.1-3.7-2.6-.7-4-5.2-.6-2.1 .3-3.7-.8-2 2.1-.1-5-1.9-6.8-4.3-3.7-1.3-5.6-.9-9.3-.5-3.1 .7-1.8-.8-6.2 2.6-8.1 1.5 6.8-2.5-5.5-.2-4.4-2 .9-.8 4.7-.7-6.8-.1-1.9-.5M399 364.1l16.2-.8 37.1-.2 14.9 .6-2.5 1.7-2.5 .7 0 .7-22.3 2.6-4.3 2.9-6.2-.9-6.2-2.8-.6-1.2 3.7-.4-5-.7-1.2-.9-21.1-1.3M412.7 368.6l-2.5 .8-2.5 1.7-6.2-.5-4.3-.9-4.4 0 6.2-1.6-2.4-.5-17.4-1 1.3-.7 7.4-.4 6.2 .4 11.1 .9 1.9 1.1 5.6 .7M343.3 367.2l6.2 .4 14.8-.5-1.2-1.1-7.4-.3-13.7 .6 1.3 .9M378 364.6l12.4 .1 22.3-1.4-40.9 .4 6.2 .9M184 462.3l.7 4.6 2.1 6.4-.9 1.9 1.2 1.5 2.5 0 2.5-1.1 3.7-.1 3.7-1.7 6.5-.8 3.4 1.1 1.9 2.4 2.5-1.4 .4 2.3 .8-.8 2.6 3.1 3.6 .8 1.8-.9 1.7 1.2 2.1-1.3 2.5-.3 .2-1.7 3-3.8 1.1-3.5-.5-3.9-4.4-3.7-1-2.3-3.1-1.8-1.1-4.9-2-1-1.5-4-1.1 2.6 .1 3.3-1.1 2.3-1.9 0-1.8-1.7-2.6-1.2 1.3-3.5-4.7-1.1-3.6 1.7-.7 2.6-1.6 .3-2-1.4-2.6 2.9-2.9 2.1-.8 1.6-6 1.5-4 1.7M222.7 482.4l4.5 .2-.4 2.1-1.9 .4-1.4-1.2-.8-1.5M257.4 476.1l2.6 2.4 4.6 .9-.8 1.5-3.3 2.3-.7-.3 .2-1.3-1.2-.7 .8-1.2-2.2-3.6M257.4 482.2l2 1.1-2 1.9-1.9 .7-.5 1.3-1.6 .6-3.6-.5-.1-.7 5.1-2.1 2.6-2.3M161.5 428l2.7 .5 10.6 10.4-.2 3.5-1.6 .2-2.8-2.4-4.4-7.3-4.3-4.9M173.8 443.7l1.2-1.1 5.2 1.2 2.7 0 2.3 1.1 .1 1-10.2-1.5-1.3-.7M185.9 445.8l14.9-.2-5 2.3-8.7-1.5-1.2-.6M178.5 433.2l.7-.6 1.7 .5 7.9-6.7 2.4 2.1-1.6 1-.4 1.6 1.5 2.7-1.7 1.2-1.9 4.8-1.7 .5-1.7-1.2-3.7-.3-.3-1.8-1.1-1.4-.1-2.4M190.6 438.5l.8 3.5 1.2 .2-.1-3.4 .8-.4 1.8 2.9 1-.4-2.4-3.4 2-1.4-2.2 .3-1-1.8 .6-1.1 2.6 .5 2.7-.9-1 1.5-3.2-.1-2 .6-1.6 3.4M205.7 436.7l1.9-1.1 1.8 .5 1.3 3.2 3.1-2.2 8.7 2.8 1.8 2.1 2.2 .8-.8 1.8 4.2 3.7-3.1-.4-2.5-2.6-2.2-.4-1.1 1.5-2.9 .2-2.5-1.3-1.2 .3-.5-3.7-3.8-1.7-1.9 0-1-1.4 1.6-.8-3.1-1.3M201.4 432.6l1.2 1.2-.6 2.3-.9-1.6 .3-1.9M192.8 412.1l2 0 .2 1.7-1 1.6 .6 1.9 2.5 1.5-4.3-1.7-.7-2 .7-3M194.6 426.3l1.8-1 2.5-2.5 1.3 3.5-1.4 1.7-1.7-1.1-2.5-.6M194.6 420.3l1.8 1.6 1.9-.9 .6-1.6-1.8 0-2.5 .9M205.6 394.6l2-1.6 4.3-.2 1.6-1.7 3.1-1.4 .3-1.7 1.8-.8 .7 1.8-1.3 2-.2 1.8-1.3 .7-5.7 1.4-5.3-.3M216.9 387.1l4.1-.5 2.7-1.2-4.7-1.9-.5 1.7-1.6 .9 0 1M204.5 395.1l2-.1-.4 2.3-.9 .5-.7-2.7M219.4 382.9l1.8-.4-.6-2.1 1.9 0-1.7-2-.6-2.2-.8 6.7M193.3 404.1l1.3 .4-1.5 3.6-.9-1.3 1.1-2.7M178 411.3l1.7-1.1 1.2 .6-.8 1.3-1 .4-1.1-1.2M142.4 422.8l2.4 2.8-.3 1.4-1.2 .6-1-1.1 .1-3.7M36.3 379.5l8.8-.9 .4-1.2-4-1.7-.6-.7 .3-1.1-4-.7-1.2 .8 .6 1 .9 .9 2.2 .3 0 .8-1.9 0 .4 .7-1.2 .4 2.2 .3-2.9 1.1M482.4 379.5l8.8-.9 .4-1.2-4-1.7-.6-.7 .3-1.1-4-.7-1.2 .8 .6 1 .9 .9 2.2 .3 0 .8-1.9 0 .4 .7-1.2 .4 2.2 .3-2.9 1.1M482.1 377.8l-.2-1.4 .8-.2-1.3-.6-2.2 0-2.1 .8-.4 1.6 2.3 .3 3.1-.5M461.6 370l4.4 .3 6.8-1.1-1.9-.5-9.3 0-1.8 .4 2.4 .5-.6 .4M384.3 408.1l3.6-1.4 2.5 .1 7.2 3.3-4.1 .3-1.3-1.9-3.7-.8-4.2 .4M397.3 412.1l2-1.7 3.5 .3 1.9 1.3-3.7 1.2-3.7-1.1M107.8 366.3l6.2-1.4 13.7-.4-11.2 .7-4.9 1.5-3.8-.4M57 364.1l19.9-.4-11.2 .8-8.7-.4M-402.7 503l49.6-.2 12.4-1 24.7 .5 2.5 .9 9.9-1.4 62-.5 12.4 .3 37.2 2.3-2.5 2 39.6 .2 37.2-1.3 62-.4 16.1-3.6 12.4-1.1-3.7 1.6-5 3.8 5 .6 24.7 .3 12.4-.6 6.2-1 31-1.4M43.4 503l49.6-.2 12.4-1 24.7 .5 2.5 .9 9.9-1.4 62-.5 12.4 .3 37.2 2.3-2.5 2 39.6 .2 37.2-1.3 62-.4 16.1-3.6 12.4-1.1-3.7 1.6-5 3.8 5 .6 24.7 .3 12.4-.6 6.2-1 31-1.4M489.5 503l49.6-.2 12.4-1 24.7 .5 2.5 .9 9.9-1.4 62-.5 12.4 .3 37.2 2.3-2.5 2 39.6 .2 37.2-1.3 62-.4 16.1-3.6 12.4-1.1-3.8 1.6-4.9 3.8 4.9 .6 24.8 .3 12.4-.6 6.2-1 31-1.4M334.6 366.3l6.2 0 3.7-.9-4.9-.2-5 .6 0 .5M344.5 365.2l14.9-.1 1.2-.5-19.8 .2 3.7 .4M375.5 365.2l14.9 0 0-.6-12.4 0-2.5 .6M364.3 366.1l7.5 .2 3.7-.5-9.9-.3-1.3 .6M381.7 370.2l7.4 .3 1.3-.8-6.2-.8-2.5 .5 0 .8M365.6 367.6l4.9 .2 1.3-.6-5-.1-1.2 .5M369.3 364.2l11.2-.1 1.2-.6-9.9 0-2.5 .7M99.2 363.7l21-.3-21 .3M158.6 364.1l13.7-.3-14.9-.1 1.2 .4M211.9 365.4l17.4-.3-11.2-.3-6.2 .6M265.2 366.5l3.7-.1-4.3-.1 .6 .2"/>
<path fill="none" stroke="#000" stroke-width="0.9" d="M80.6 362.5V507.3M117.8 362.5V507.3M154.9 362.5V507.3M192.1 362.5V507.3M229.3 362.5V507.3M266.4 362.5V507.3M303.6 362.5V507.3M340.8 362.5V507.3M378.0 362.5V507.3M415.1 362.5V507.3M452.3 362.5V507.3M43.4 372.3H489.5M43.4 398.9H489.5M43.4 435.1H489.5M43.4 471.4H489.5M43.4 497.9H489.5M266.4 426.6H340.8M266.4 430.1H340.8"/>
<rect x="43.4" y="362.5" width="446.1" height="3.5" fill="#101828" fill-opacity="0.5"/>
<rect x="43.4" y="502.5" width="446.1" height="4.8" fill="#101828" fill-opacity="0.55"/>
</g>
<rect x="43.4" y="362.5" width="446.1" height="144.8" fill="none" stroke="#000" stroke-width="1"/>
<path fill="none" stroke="#000" stroke-width="0.8" d="M38.4 506.5h5.0M40.9 503.2h2.5M38.4 497.9h5.0M40.9 490.6h2.5M38.4 481.7h5.0M40.9 471.4h2.5M38.4 459.9h5.0M40.9 447.7h2.5M38.4 435.1h5.0M40.9 422.5h2.5M38.4 410.3h5.0M40.9 398.9h2.5M38.4 388.5h5.0M40.9 379.6h2.5M38.4 372.3h5.0M40.9 367.0h2.5M38.4 363.7h5.0M43.4 507.3v5.0M55.8 507.3v2.5M68.2 507.3v2.5M80.6 507.3v5.0M93.0 507.3v2.5M105.4 507.3v2.5M117.8 507.3v5.0M130.1 507.3v2.5M142.5 507.3v2.5M154.9 507.3v5.0M167.3 507.3v2.5M179.7 507.3v2.5M192.1 507.3v5.0M204.5 507.3v2.5M216.9 507.3v2.5M229.3 507.3v5.0M241.7 507.3v2.5M254.1 507.3v2.5M266.4 507.3v5.0M278.8 507.3v2.5M291.2 507.3v2.5M303.6 507.3v5.0M316.0 507.3v2.5M328.4 507.3v2.5M340.8 507.3v5.0M353.2 507.3v2.5M365.6 507.3v2.5M378.0 507.3v5.0M390.4 507.3v2.5M402.8 507.3v2.5M415.1 507.3v5.0M427.5 507.3v2.5M439.9 507.3v2.5M452.3 507.3v5.0M464.7 507.3v2.5M477.1 507.3v2.5M489.5 507.3v5.0"/>
<text x="36.1" y="509.2" class="t7" text-anchor="end">-80</text>
<text x="36.1" y="500.6" class="t7" text-anchor="end">-60</text>
<text x="36.1" y="484.4" class="t7" text-anchor="end">-40</text>
<text x="36.1" y="462.6" class="t7" text-anchor="end">-20</text>
<text x="36.1" y="437.8" class="t7" text-anchor="end">0</text>
<text x="36.1" y="413.0" class="t7" text-anchor="end">20</text>
<text x="36.1" y="391.2" class="t7" text-anchor="end">40</text>
<text x="36.1" y="375.0" class="t7" text-anchor="end">60</text>
<text x="36.1" y="366.4" class="t7" text-anchor="end">80</text>
<text transform="translate(23.3,384.8) rotate(-90)" class="tl" text-anchor="middle">Latitude</text>
<text x="4.2" y="505.3" class="t12">(c)</text>
<text x="43.4" y="519.6" class="t6" text-anchor="middle">0</text>
<text x="80.6" y="519.6" class="t6" text-anchor="middle">30</text>
<text x="117.8" y="519.6" class="t6" text-anchor="middle">60</text>
<text x="154.9" y="519.6" class="t6" text-anchor="middle">90</text>
<text x="192.1" y="519.6" class="t6" text-anchor="middle">120</text>
<text x="229.3" y="519.6" class="t6" text-anchor="middle">150</text>
<text x="266.4" y="519.6" class="t6" text-anchor="middle">180</text>
<text x="303.6" y="519.6" class="t6" text-anchor="middle">210</text>
<text x="340.8" y="519.6" class="t6" text-anchor="middle">240</text>
<text x="378.0" y="519.6" class="t6" text-anchor="middle">270</text>
<text x="415.1" y="519.6" class="t6" text-anchor="middle">300</text>
<text x="452.3" y="519.6" class="t6" text-anchor="middle">330</text>
<text x="489.5" y="519.6" class="t6" text-anchor="middle">360</text>
<text x="437.2" y="528.7" class="t8">Longitude E</text>
<rect x="154.00" y="329.6" width="22.60" height="8.0" fill="#313695"/>
<rect x="176.30" y="329.6" width="22.60" height="8.0" fill="#4575b4"/>
<rect x="198.60" y="329.6" width="22.60" height="8.0" fill="#74add1"/>
<rect x="220.90" y="329.6" width="22.60" height="8.0" fill="#abd9e9"/>
<rect x="243.20" y="329.6" width="22.60" height="8.0" fill="#e0f3f8"/>
<rect x="265.50" y="329.6" width="22.60" height="8.0" fill="#fee090"/>
<rect x="287.80" y="329.6" width="22.60" height="8.0" fill="#fdae61"/>
<rect x="310.10" y="329.6" width="22.60" height="8.0" fill="#f46d43"/>
<rect x="332.40" y="329.6" width="22.60" height="8.0" fill="#d73027"/>
<rect x="354.70" y="329.6" width="22.60" height="8.0" fill="#a50026"/>
<rect x="154.0" y="329.6" width="223.0" height="8.0" fill="none" stroke="#000" stroke-width="0.6"/>
<path stroke="#000" stroke-width="0.6" d="M154.0 337.6v4.5M176.3 337.6v2.2M198.6 337.6v4.5M220.9 337.6v2.2M243.2 337.6v4.5M265.5 337.6v2.2M287.8 337.6v4.5M310.1 337.6v2.2M332.4 337.6v4.5M354.7 337.6v2.2M377.0 337.6v4.5"/>
<text x="154.0" y="350.2" class="t8b" text-anchor="middle">0.00</text>
<text x="198.6" y="350.2" class="t8b" text-anchor="middle">0.20</text>
<text x="243.2" y="350.2" class="t8b" text-anchor="middle">0.40</text>
<text x="287.8" y="350.2" class="t8b" text-anchor="middle">0.60</text>
<text x="332.4" y="350.2" class="t8b" text-anchor="middle">0.80</text>
<text x="377.0" y="350.2" class="t8b" text-anchor="middle">1.00</text>
<rect x="154.60" y="527.1" width="18.90" height="8.9" fill="#313695"/>
<rect x="173.20" y="527.1" width="18.90" height="8.9" fill="#4575b4"/>
<rect x="191.80" y="527.1" width="18.90" height="8.9" fill="#6b9ecc"/>
<rect x="210.40" y="527.1" width="18.90" height="8.9" fill="#93c5df"/>
<rect x="229.00" y="527.1" width="18.90" height="8.9" fill="#bfe1ee"/>
<rect x="247.60" y="527.1" width="18.90" height="8.9" fill="#e3f3f6"/>
<rect x="266.20" y="527.1" width="18.90" height="8.9" fill="#fee090"/>
<rect x="284.80" y="527.1" width="18.90" height="8.9" fill="#fdbe70"/>
<rect x="303.40" y="527.1" width="18.90" height="8.9" fill="#f88d52"/>
<rect x="322.00" y="527.1" width="18.90" height="8.9" fill="#e9583a"/>
<rect x="340.60" y="527.1" width="18.90" height="8.9" fill="#d12c26"/>
<rect x="359.20" y="527.1" width="18.90" height="8.9" fill="#a50026"/>
<rect x="154.6" y="527.1" width="223.2" height="8.9" fill="none" stroke="#000" stroke-width="0.6"/>
<path stroke="#000" stroke-width="0.6" d="M154.6 536.0v4.5M173.2 536.0v2.2M191.8 536.0v4.5M210.4 536.0v2.2M229.0 536.0v4.5M247.6 536.0v2.2M266.2 536.0v4.5M284.8 536.0v2.2M303.4 536.0v4.5M322.0 536.0v2.2M340.6 536.0v4.5M359.2 536.0v2.2M377.8 536.0v4.5"/>
<text x="154.6" y="548.6" class="t8b" text-anchor="middle">-0.60</text>
<text x="191.8" y="548.6" class="t8b" text-anchor="middle">-0.40</text>
<text x="229.0" y="548.6" class="t8b" text-anchor="middle">-0.20</text>
<text x="266.2" y="548.6" class="t8b" text-anchor="middle">0.00</text>
<text x="303.4" y="548.6" class="t8b" text-anchor="middle">0.20</text>
<text x="340.6" y="548.6" class="t8b" text-anchor="middle">0.40</text>
<text x="377.8" y="548.6" class="t8b" text-anchor="middle">0.60</text>
</svg>
</body></html>
